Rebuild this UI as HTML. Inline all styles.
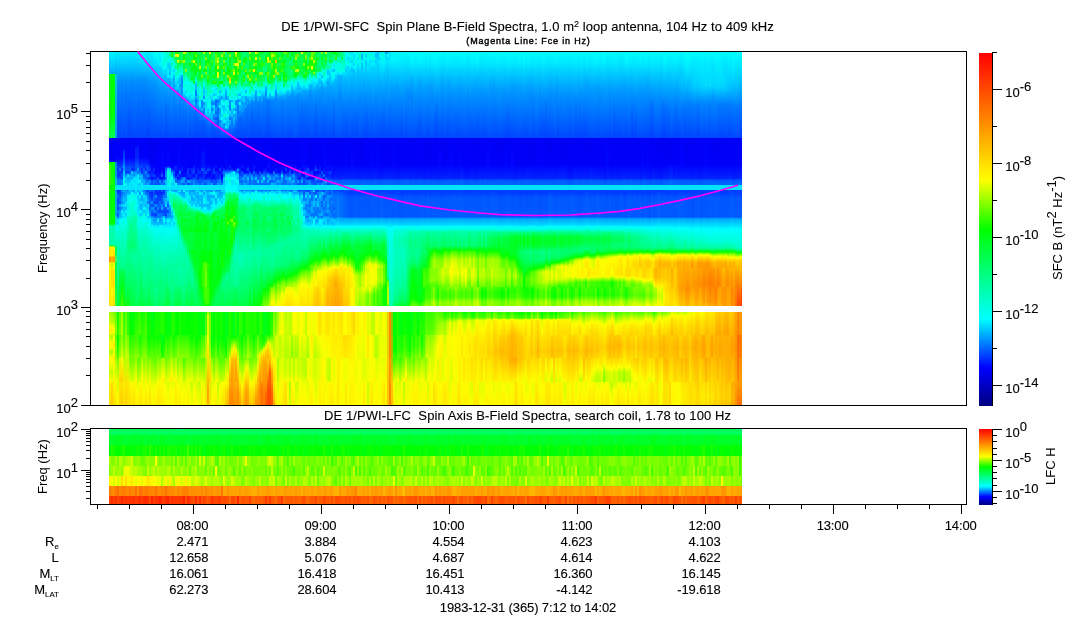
<!DOCTYPE html>
<html><head><meta charset="utf-8"><title>DE 1/PWI spectra</title>
<style>
html,body{margin:0;padding:0;background:#fff}
body{width:1083px;height:620px;position:relative;overflow:hidden;font-family:"Liberation Sans", sans-serif;color:#000;font-size:13px}
.sp{position:absolute;display:flex;overflow:hidden}
.sp i{display:block;width:2px;height:100%;flex:none}
svg{position:absolute;left:0;top:0}
.cb{position:absolute;left:979px;width:13px;background:linear-gradient(to top,rgb(0,0,128) 0.0%,rgb(0,0,255) 10.8%,rgb(0,255,255) 24.7%,rgb(0,255,0) 50.0%,rgb(255,255,0) 64.0%,rgb(255,0,0) 100.0%)}
</style></head><body>
<div class="sp" style="left:109px;top:51px;width:633px;height:355px"><i style="background:linear-gradient(#00f7ff 0.5px,#00a6ff 22.5px,#00ff0c 23.5px,#00ff13 43.5px,#00ff13 48.5px,#0bff00 49.5px,#04ff01 60.5px,#00ff4b 86.5px,#0000f5 87.5px,#0000f5 110.5px,#00ff06 111.5px,#00ff06 113.5px,#30ff00 114.5px,#38ff00 125.5px,#2eff00 128.5px,#3bff00 133.5px,#0f0 134.5px,#0f0 138.5px,#3f0 139.5px,#00ff03 140.5px,#00ff03 172.5px,#00ff2e 173.5px,#00ff83 174.5px,#00ffad 175.5px,#00ffab 193.5px,#00ff57 194.5px,#8fff00 195.5px,#fff000 196.5px,#fff000 198.5px,#ffe000 199.5px,#ffe000 204.5px,#f90 206.5px,#f90 210.5px,#ffd200 211.5px,#e5ff00 212.5px,#fffe00 216.5px,#eaff00 217.5px,#fff900 218.5px,#ffe400 252.5px,#ffdf00 254.5px,#fff 255.5px,#fff 260.5px,#a5ff00 261.5px,#cfff00 271.5px,#fffd00 275.5px,#ffed00 279.5px,#f5ff00 282.5px,#e3ff00 283.5px,#baff00 284.5px,#b7ff00 285.5px,#fdfe00 291.5px,#fff600 294.5px,#f7ff00 296.5px,#b8ff00 300.5px,#b7ff00 301.5px,#fbff00 306.5px,#f6ff00 313.5px,#cf0 321.5px,#fbfe00 330.5px,#ffec00 332.5px,#ffdb00 354.5px)"></i><i style="background:linear-gradient(#00fcff 0.5px,#00abff 22.5px,#15ff00 23.5px,#00ff02 24.5px,#00ff02 48.5px,#12ff00 49.5px,#0aff00 60.5px,#00ff10 67.5px,#00ff47 86.5px,#0000f5 87.5px,#0000f5 110.5px,#00ff02 111.5px,#00ff02 113.5px,#0fff00 114.5px,#0fff00 128.5px,#26ff00 129.5px,#26ff00 131.5px,#10ff00 132.5px,#10ff00 133.5px,#0f0 134.5px,#0f0 138.5px,#15ff00 139.5px,#00ff08 140.5px,#00ff13 143.5px,#00ff08 145.5px,#00ff0c 161.5px,#00ff14 164.5px,#00ff17 170.5px,#00ff08 171.5px,#00ff08 172.5px,#0f3 173.5px,#00ff85 174.5px,#00ffae 175.5px,#00ffb1 180.5px,#00ffa5 182.5px,#00ffa5 193.5px,#00ff4c 194.5px,#a4ff00 195.5px,#ffe800 196.5px,#fff200 204.5px,#ffab00 206.5px,#ffab00 210.5px,#ffe400 211.5px,#b7ff00 212.5px,#d4ff00 216.5px,#fff300 217.5px,#ffe500 219.5px,#fd0 235.5px,#ff0 236.5px,#ffec00 254.5px,#fff 255.5px,#fff 260.5px,#9bff00 261.5px,#c4ff00 271.5px,#fbff00 275.5px,#fff200 279.5px,#fdff00 281.5px,#d9ff00 283.5px,#b4ff00 284.5px,#b1ff00 285.5px,#fffc00 292.5px,#fffe00 295.5px,#b3ff00 300.5px,#b2ff00 301.5px,#f6ff00 306.5px,#fdff00 311.5px,#c6ff00 321.5px,#f9ff00 330.5px,#ffe100 331.5px,#ffcd00 354.5px)"></i><i style="background:linear-gradient(#00feff 0.5px,#00adff 22.5px,#24ff00 23.5px,#00ff09 24.5px,#00ff09 48.5px,#00ff03 59.5px,#00ff52 86.5px,#0000f7 87.5px,#0000f7 110.5px,#0eff00 111.5px,#0eff00 113.5px,#00ff0f 114.5px,#00ff04 119.5px,#00ff0d 122.5px,#00ff13 128.5px,#03ff00 129.5px,#03ff00 131.5px,#00ff13 132.5px,#00ff13 133.5px,#0f0 134.5px,#0f0 138.5px,#00ff16 139.5px,#0f0 141.5px,#00ff09 158.5px,#00ff0d 164.5px,#02ff00 168.5px,#00ff03 172.5px,#00ff2e 173.5px,#00ff82 174.5px,#00ffac 175.5px,#00ffb2 193.5px,#00ff64 194.5px,#7f0 195.5px,#fffa00 196.5px,#fffa00 198.5px,#ffe100 199.5px,#ffe100 204.5px,#ff9a00 206.5px,#ff9a00 210.5px,#ffd300 211.5px,#e3ff00 212.5px,#fff700 217.5px,#ffe800 219.5px,#ffe100 235.5px,#ffed00 237.5px,#ffdb00 254.5px,#fff 255.5px,#fff 260.5px,#84ff00 261.5px,#adff00 271.5px,#ff0 277.5px,#f9ff00 280.5px,#c2ff00 283.5px,#e7ff00 284.5px,#e4ff00 285.5px,#fffb00 288.5px,#ffe500 294.5px,#fffd00 298.5px,#e5ff00 300.5px,#e4ff00 301.5px,#ff0 303.5px,#ffef00 306.5px,#fff200 308.5px,#fbff00 316.5px,#e2ff00 321.5px,#fffd00 327.5px,#ffe400 347.5px,#ffe000 354.5px)"></i><i style="background:linear-gradient(#00efff 0.5px,#00c5ff 13.5px,#00a3ff 22.5px,#00cfd1 23.5px,#00abdf 70.5px,#00a3ed 86.5px,#0000f5 87.5px,#0005fd 110.5px,#0087e2 111.5px,#0097dc 118.5px,#00a1d8 122.5px,#0092e0 123.5px,#0095e0 125.5px,#00abd4 126.5px,#00bad0 128.5px,#00c8cc 130.5px,#00c8cc 131.5px,#00b8d4 132.5px,#00b8d3 133.5px,#00f1c6 134.5px,#00f1c6 138.5px,#0094de 139.5px,#0091e2 140.5px,#00a9d6 141.5px,#00aed7 158.5px,#00a2de 164.5px,#00c8cb 165.5px,#00e7c4 167.5px,#00dccb 168.5px,#00e5c9 170.5px,#00d9d0 171.5px,#00e5d6 173.5px,#00ffdf 174.5px,#00ffe2 177.5px,#00ffbf 186.5px,#00ffb3 193.5px,#00ff9b 194.5px,#00ff6e 195.5px,#01ff58 196.5px,#03ff56 198.5px,#13ff50 200.5px,#16ff4c 204.5px,#45ff4a 206.5px,#49ff45 210.5px,#02ff43 212.5px,#0cff40 216.5px,#00ff58 217.5px,#09ff40 235.5px,#17ff39 237.5px,#36ff25 254.5px,#fff 255.5px,#fff 260.5px,#56ff00 261.5px,#7f0 274.5px,#89ff00 279.5px,#7bff00 283.5px,#4fff00 284.5px,#7dff00 295.5px,#7eff00 301.5px,#b2ff00 310.5px,#d5ff00 323.5px,#f9fe00 330.5px,#ffea00 354.5px)"></i><i style="background:linear-gradient(#00f0ff 0.5px,#00d2ff 11.5px,#0090ff 30.5px,#0061ff 59.5px,#0043ff 86.5px,#0000f5 87.5px,#0000fa 106.5px,#0027ff 113.5px,#004eff 116.5px,#002aff 117.5px,#002eff 119.5px,#003eff 120.5px,#0042ff 122.5px,#0036ff 123.5px,#003cff 125.5px,#0050ff 126.5px,#0053ff 127.5px,#007bff 129.5px,#0084ff 133.5px,#00e3ff 134.5px,#00e3ff 138.5px,#0029ff 139.5px,#0025ff 140.5px,#0042ff 141.5px,#0050ff 143.5px,#0073ff 144.5px,#0078ff 146.5px,#0041ff 147.5px,#0042ff 149.5px,#004fff 151.5px,#004fff 152.5px,#005fff 153.5px,#0061ff 155.5px,#0049ff 156.5px,#004bff 158.5px,#007cff 159.5px,#0081ff 161.5px,#0054ff 162.5px,#005bff 164.5px,#0085ff 166.5px,#00deff 168.5px,#00f1ff 170.5px,#00ceff 171.5px,#00e2ff 173.5px,#00ffe9 174.5px,#00ffa9 196.5px,#00ffa4 198.5px,#00ffaf 200.5px,#00ff48 254.5px,#fff 255.5px,#fff 260.5px,#14ff00 261.5px,#31ff00 283.5px,#00ff05 284.5px,#09ff00 291.5px,#4dff00 306.5px,#6eff00 307.5px,#e1ff00 330.5px,#d2ff00 331.5px,#fffd00 347.5px,#fff600 354.5px)"></i><i style="background:linear-gradient(#00efff 0.5px,#00d0ff 11.5px,#008fff 30.5px,#0059ff 69.5px,#0046ff 86.5px,#0000f2 87.5px,#0000f8 106.5px,#0014ff 110.5px,#0037ff 115.5px,#0035ff 116.5px,#0064ff 117.5px,#007aff 119.5px,#0030ff 120.5px,#003cff 125.5px,#005eff 126.5px,#0061ff 127.5px,#007bff 128.5px,#0074ff 133.5px,#00e3ff 134.5px,#00e3ff 138.5px,#0043ff 139.5px,#0040ff 142.5px,#004aff 143.5px,#0040ff 144.5px,#0048ff 146.5px,#0069ff 147.5px,#006eff 149.5px,#0052ff 150.5px,#0059ff 152.5px,#00a0ff 153.5px,#00a8ff 155.5px,#0068ff 156.5px,#0071ff 158.5px,#0091ff 159.5px,#00b8ff 164.5px,#00b3ff 165.5px,#00e2ff 167.5px,#00fff4 168.5px,#00ffe8 173.5px,#00ffd6 174.5px,#00ffd2 180.5px,#00ff86 216.5px,#00ff68 218.5px,#00ff48 223.5px,#00ff2f 235.5px,#00ff30 239.5px,#0aff1a 254.5px,#fff 255.5px,#fff 260.5px,#56ff00 261.5px,#72ff00 283.5px,#57ff00 284.5px,#71ff00 293.5px,#acff00 306.5px,#dff600 307.5px,#ffe300 324.5px,#ffd600 330.5px,#ffe900 331.5px,#ffd500 352.5px,#fd0 354.5px)"></i><i style="background:linear-gradient(#00f0ff 0.5px,#00d1ff 11.5px,#08f 31.5px,#006cff 53.5px,#0048ff 86.5px,#0000f7 87.5px,#0002ff 107.5px,#003bff 114.5px,#0050ff 116.5px,#0030ff 117.5px,#0034ff 122.5px,#005dff 123.5px,#0063ff 125.5px,#0041ff 126.5px,#04f 127.5px,#005fff 128.5px,#0094ff 129.5px,#0098ff 131.5px,#007dff 132.5px,#007aff 133.5px,#00e3ff 134.5px,#00e3ff 138.5px,#008aff 139.5px,#0090ff 140.5px,#006aff 141.5px,#0095ff 146.5px,#008bff 147.5px,#0095ff 149.5px,#0092ff 151.5px,#0097ff 152.5px,#00beff 153.5px,#00c7ff 155.5px,#009fff 156.5px,#00a9ff 158.5px,#00e9ff 159.5px,#00f4ff 161.5px,#00ceff 162.5px,#00daff 164.5px,#00d0ff 165.5px,#00fdfe 168.5px,#00ffea 173.5px,#00ffd5 176.5px,#0f8 216.5px,#00ff38 222.5px,#00ff1c 235.5px,#07ff00 236.5px,#47ff00 253.5px,#42ff00 254.5px,#fff 255.5px,#fff 260.5px,#94ff00 261.5px,#b0ff00 283.5px,#85ff00 284.5px,#9fff00 293.5px,#dbff00 306.5px,#fffd00 307.5px,#ffd000 330.5px,#ffe100 331.5px,#ffcd00 351.5px,#ffe400 354.5px)"></i><i style="background:linear-gradient(#00f1ff 0.5px,#00d2ff 11.5px,#008aff 32.5px,#0046ff 86.5px,#0000f6 87.5px,#0000f8 97.5px,#0008ff 98.5px,#0036ff 100.5px,#0042ff 106.5px,#0075ff 113.5px,#009aff 116.5px,#0092ff 118.5px,#0095ff 119.5px,#00c5ff 120.5px,#00ceff 122.5px,#00bdff 123.5px,#00caff 125.5px,#00eaff 126.5px,#00ffef 129.5px,#00ffed 133.5px,#0ff 134.5px,#00e4ff 135.5px,#00e3ff 138.5px,#00a8ff 139.5px,#00abff 140.5px,#008cff 141.5px,#00a7ff 146.5px,#00c5ff 147.5px,#00cbff 149.5px,#00a8ff 150.5px,#00adff 152.5px,#00dbff 153.5px,#00dfff 155.5px,#00b7ff 156.5px,#00c8ff 161.5px,#00efff 162.5px,#00f8ff 164.5px,#00e2ff 165.5px,#0ff 167.5px,#00ffec 168.5px,#00ffd6 173.5px,#00ffe6 174.5px,#00ffcd 179.5px,#00ff8e 216.5px,#00ff6f 217.5px,#00ff46 223.5px,#07ff1a 245.5px,#13ff14 254.5px,#fff 255.5px,#fff 260.5px,#32ff03 261.5px,#56ff00 288.5px,#a7ff00 306.5px,#bdff00 307.5px,#fceb00 330.5px,#faec00 333.5px,#ffdf00 352.5px,#ffe600 354.5px)"></i><i style="background:linear-gradient(#00efff 0.5px,#00d1ff 11.5px,#0086ff 32.5px,#006cff 48.5px,#006eff 55.5px,#004cff 86.5px,#0000f7 87.5px,#0003ff 107.5px,#0046ff 116.5px,#0064ff 119.5px,#0034ff 120.5px,#004aff 122.5px,#007eff 123.5px,#009aff 125.5px,#00bdff 126.5px,#00d9ff 128.5px,#00baff 129.5px,#00c1ff 131.5px,#00fff0 132.5px,#00fff1 133.5px,#00e3ff 134.5px,#00e3ff 138.5px,#0091ff 139.5px,#00a0ff 143.5px,#00b1ff 145.5px,#00abff 149.5px,#00d6ff 150.5px,#00e1ff 155.5px,#00b5ff 156.5px,#0bf 158.5px,#00efff 159.5px,#00f6ff 161.5px,#00c9ff 162.5px,#00d2ff 164.5px,#00feff 167.5px,#00fff0 173.5px,#00ffca 174.5px,#00ffd9 177.5px,#00ff7a 216.5px,#00ff58 235.5px,#00ff53 241.5px,#00ff3c 247.5px,#07ff1b 251.5px,#0cff1c 254.5px,#fff 255.5px,#fff 260.5px,#57ff00 261.5px,#74ff00 283.5px,#84ff00 284.5px,#9eff00 293.5px,#cdfa00 306.5px,#b8ff00 307.5px,#ffe200 333.5px,#ffd400 352.5px,#fd0 354.5px)"></i><i style="background:linear-gradient(#00f1ff 0.5px,#00d3ff 11.5px,#008eff 31.5px,#0060ff 61.5px,#04f 86.5px,#0000f6 87.5px,#0000fb 106.5px,#002dff 113.5px,#05f 116.5px,#0047ff 117.5px,#004eff 119.5px,#0037ff 120.5px,#005aff 122.5px,#00c0ff 123.5px,#00e5ff 125.5px,#00a0ff 126.5px,#00c7ff 130.5px,#00c2ff 133.5px,#00e3ff 134.5px,#00e3ff 138.5px,#0096ff 139.5px,#00beff 143.5px,#0ef 144.5px,#00f7f2 152.5px,#00e8fb 153.5px,#00f3f5 161.5px,#00ffe5 163.5px,#00ffe2 164.5px,#00ffbf 165.5px,#00ffad 169.5px,#0fa 170.5px,#00ffd3 171.5px,#00ffcd 173.5px,#00ffb7 176.5px,#00ffad 180.5px,#00ff9a 182.5px,#00ff80 196.5px,#00ff96 202.5px,#00ff7c 216.5px,#00ff89 217.5px,#00ff65 235.5px,#00ff50 236.5px,#00ff36 246.5px,#08ff16 250.5px,#1bff14 253.5px,#19ff15 254.5px,#fff 255.5px,#fff 260.5px,#2cff0a 261.5px,#3aff02 283.5px,#72ff00 284.5px,#8cff00 293.5px,#c4fe00 306.5px,#ffe700 335.5px,#ffdb00 352.5px,#ffe400 354.5px)"></i><i style="background:linear-gradient(#00efff 0.5px,#00d0ff 11.5px,#008cff 31.5px,#005eff 59.5px,#0041ff 86.5px,#0000f6 87.5px,#0000fb 106.5px,#003aff 114.5px,#06f 119.5px,#003fff 120.5px,#0065ff 122.5px,#09f 123.5px,#00bfff 125.5px,#00a6ff 126.5px,#00c8ff 130.5px,#00c8ff 131.5px,#00f5ff 132.5px,#00e3ff 135.5px,#00e3ff 138.5px,#00c0ff 139.5px,#00c8ff 140.5px,#00aeff 141.5px,#00d4ff 143.5px,#00feff 144.5px,#00ffed 146.5px,#00ffe1 152.5px,#00ffbf 153.5px,#00ffbd 155.5px,#00ffe3 156.5px,#00ffe0 158.5px,#00ffd0 160.5px,#00ffd4 164.5px,#00ffc1 167.5px,#00ffad 168.5px,#00ffa7 170.5px,#00ff84 171.5px,#00ff87 173.5px,#00ff92 175.5px,#00ff8f 180.5px,#00ff6c 194.5px,#00ff94 204.5px,#00ff30 253.5px,#00ff32 254.5px,#fff 255.5px,#fff 260.5px,#00ff0b 261.5px,#09ff00 283.5px,#1aff00 284.5px,#34ff00 293.5px,#d0ff00 327.5px,#e1ff00 330.5px,#fff800 331.5px,#fd0 354.5px)"></i><i style="background:linear-gradient(#00efff 0.5px,#00d1ff 11.5px,#0086ff 32.5px,#004fff 78.5px,#0045ff 86.5px,#0000f7 87.5px,#0004ff 107.5px,#04f 116.5px,#0030ff 117.5px,#0034ff 119.5px,#00b2ff 120.5px,#00daff 122.5px,#0093ff 123.5px,#00b8ff 125.5px,#0af 126.5px,#0bf 128.5px,#00efff 129.5px,#00f1ff 131.5px,#00dbff 132.5px,#00d7ff 133.5px,#00e3ff 135.5px,#00e3ff 138.5px,#00b6ff 139.5px,#0bf 140.5px,#00fffa 141.5px,#00ffe5 143.5px,#00ecff 144.5px,#00feff 145.5px,#00ffde 151.5px,#00ffc6 158.5px,#00ffc7 161.5px,#00ffd7 162.5px,#00ffd3 164.5px,#00ffb3 165.5px,#00ffa4 167.5px,#0fb 168.5px,#00ffa3 173.5px,#00ff94 175.5px,#00ff75 195.5px,#00ff85 198.5px,#00ff85 200.5px,#00ff92 205.5px,#00ff79 216.5px,#00ff7e 219.5px,#00ff48 251.5px,#00ff46 254.5px,#fff 255.5px,#fff 260.5px,#00ff0f 261.5px,#02ff00 283.5px,#1eff00 284.5px,#39ff00 293.5px,#74ff00 306.5px,#63ff00 307.5px,#d6ff00 330.5px,#ff0 331.5px,#ffe400 354.5px)"></i><i style="background:linear-gradient(#00efff 0.5px,#00d0ff 11.5px,#0087ff 32.5px,#0065ff 60.5px,#0048ff 86.5px,#0000f5 87.5px,#0000fb 106.5px,#0034ff 114.5px,#002fff 118.5px,#0032ff 119.5px,#0072ff 120.5px,#0098ff 122.5px,#0087ff 123.5px,#00adff 125.5px,#00d4ff 126.5px,#00e6ff 128.5px,#00d5ff 129.5px,#00d8ff 131.5px,#00fffd 132.5px,#0ff 133.5px,#00e3ff 134.5px,#00e3ff 138.5px,#009fff 139.5px,#00a6ff 140.5px,#0cf 141.5px,#00f2ff 143.5px,#00ffd5 144.5px,#00ffc2 146.5px,#00fff0 147.5px,#00ffe7 149.5px,#00ffd3 150.5px,#00ffd1 152.5px,#00ffdc 154.5px,#00ffdf 158.5px,#00ffd0 161.5px,#00ffbd 162.5px,#00ffb8 164.5px,#00ff9a 167.5px,#00ffa0 169.5px,#00ff96 173.5px,#00ff9f 174.5px,#00ff7e 185.5px,#00ff70 195.5px,#00ff80 198.5px,#0f9 199.5px,#00ffa9 205.5px,#00ff95 216.5px,#00ff7f 217.5px,#00ff42 254.5px,#fff 255.5px,#fff 260.5px,#00ff04 261.5px,#15ff00 283.5px,#2fff00 284.5px,#4aff00 293.5px,#85ff00 306.5px,#70ff00 307.5px,#e3ff00 330.5px,#fff600 331.5px,#ffdb00 354.5px)"></i><i style="background:linear-gradient(#00f0ff 0.5px,#00d1ff 11.5px,#008dff 31.5px,#0056ff 73.5px,#0047ff 86.5px,#0000f5 87.5px,#0003fa 94.5px,#001cfa 97.5px,#0024ff 107.5px,#005cff 115.5px,#0051ff 118.5px,#0054ff 119.5px,#008dff 120.5px,#00b4ff 122.5px,#009cff 123.5px,#00c2ff 125.5px,#00e1fc 126.5px,#00e9fe 128.5px,#00d9ff 131.5px,#00f0ff 132.5px,#00e3ff 136.5px,#00edff 140.5px,#00cbff 141.5px,#00f5ff 144.5px,#00ffe8 150.5px,#00ffe8 156.5px,#00ffdb 161.5px,#00ffca 163.5px,#00ffc8 164.5px,#00ffb0 165.5px,#00ff93 170.5px,#00ffb8 171.5px,#00ff8d 183.5px,#00ff7a 195.5px,#00ff9a 204.5px,#00ff6e 232.5px,#0f6 244.5px,#00ff50 254.5px,#fff 255.5px,#fff 260.5px,#15ff00 261.5px,#41ff00 289.5px,#fffe00 330.5px,#eaff00 331.5px,#fffd00 338.5px,#ffed00 354.5px)"></i><i style="background:linear-gradient(#00edff 0.5px,#00cfff 11.5px,#008dff 30.5px,#0059ff 66.5px,#04f 86.5px,#0000f6 87.5px,#0004fa 94.5px,#001dfa 97.5px,#0025ff 107.5px,#0062ff 115.5px,#0060ff 116.5px,#008fff 117.5px,#00a5ff 119.5px,#0062ff 120.5px,#0087ff 122.5px,#00d5ff 123.5px,#00ebf6 125.5px,#00ddfe 126.5px,#00e5ff 128.5px,#00f9fc 129.5px,#00f6ff 131.5px,#00dbff 132.5px,#00d8ff 133.5px,#00e3ff 135.5px,#00e3ff 138.5px,#00acff 139.5px,#00a7ff 140.5px,#00eaff 141.5px,#00f7ff 143.5px,#0cf 144.5px,#00dfff 149.5px,#00dbff 152.5px,#00f3fc 153.5px,#00f5fc 155.5px,#00e1ff 156.5px,#00e6ff 158.5px,#00e0ff 160.5px,#00f6fb 164.5px,#00ffe1 165.5px,#00ffd1 167.5px,#00ffec 168.5px,#00ffdc 173.5px,#00ffdf 175.5px,#00ffca 178.5px,#00ff9f 198.5px,#00ffa6 201.5px,#00ff82 226.5px,#00ff71 242.5px,#0f5 254.5px,#fff 255.5px,#fff 260.5px,#1dff00 261.5px,#3aff00 283.5px,#3cff00 289.5px,#89ff00 306.5px,#57ff00 307.5px,#cbff00 330.5px,#e0ff00 331.5px,#fffd00 342.5px,#fff000 354.5px)"></i><i style="background:linear-gradient(#00f2ff 0.5px,#00d3ff 11.5px,#08f 32.5px,#0047ff 86.5px,#0000f6 87.5px,#0000fb 106.5px,#002dff 113.5px,#0050ff 116.5px,#0041ff 117.5px,#0043ff 119.5px,#0067ff 120.5px,#08f 122.5px,#00c8ff 125.5px,#00a3ff 126.5px,#00b9ff 128.5px,#00f4ff 129.5px,#00f8ff 131.5px,#00c9ff 132.5px,#00c5ff 133.5px,#00e3ff 134.5px,#00e3ff 138.5px,#00d6ff 140.5px,#0098ff 141.5px,#00a0ff 143.5px,#00e9ff 144.5px,#00edff 146.5px,#00c4ff 147.5px,#00c7ff 149.5px,#00d6ff 151.5px,#00d7ff 152.5px,#00b4ff 153.5px,#00c6ff 158.5px,#00f3ff 159.5px,#00faff 161.5px,#0cf 162.5px,#00d5ff 164.5px,#00fffb 167.5px,#00ffdc 168.5px,#00ffd5 170.5px,#00ffde 172.5px,#00ffd7 176.5px,#00ffa1 198.5px,#00ff89 216.5px,#00ff7e 219.5px,#00ff62 239.5px,#00ff3c 254.5px,#fff 255.5px,#fff 260.5px,#3f0 261.5px,#50ff00 283.5px,#0eff00 284.5px,#28ff00 293.5px,#63ff00 306.5px,#68ff00 309.5px,#d2ff00 330.5px,#fffc00 331.5px,#ffe100 354.5px)"></i><i style="background:linear-gradient(#00f5ff 0.5px,#00d7ff 11.5px,#008cff 30.5px,#0057ff 70.5px,#0045ff 86.5px,#0000f6 87.5px,#0000fb 106.5px,#003aff 114.5px,#0048ff 116.5px,#002eff 117.5px,#003aff 121.5px,#0045ff 122.5px,#009aff 123.5px,#00b4ff 125.5px,#0af 126.5px,#00b3ff 127.5px,#00cbff 128.5px,#00b0ff 129.5px,#00baff 131.5px,#00edff 132.5px,#00e3ff 138.5px,#00baff 139.5px,#00beff 140.5px,#0ff 141.5px,#00fffa 143.5px,#00aeff 144.5px,#00afff 149.5px,#00d8ff 150.5px,#00daff 152.5px,#00b4ff 153.5px,#00bfff 158.5px,#00dbff 159.5px,#00e2ff 161.5px,#00cdff 162.5px,#00d6ff 164.5px,#00ffe0 165.5px,#00ffd0 167.5px,#00fffa 168.5px,#00ffdf 176.5px,#00ffce 177.5px,#00ff8f 214.5px,#00ff54 243.5px,#00ff39 254.5px,#fff 255.5px,#fff 260.5px,#0dff00 261.5px,#34ff00 290.5px,#7cff00 306.5px,#a1ff00 307.5px,#fffd00 327.5px,#fff700 330.5px,#fffc00 333.5px,#ffe600 354.5px)"></i><i style="background:linear-gradient(#00f8ff 0.5px,#00daff 11.5px,#0af 23.5px,#0097ff 26.5px,#006dff 48.5px,#004aff 86.5px,#0000f6 87.5px,#0000fc 106.5px,#0035ff 115.5px,#002fff 116.5px,#004eff 117.5px,#0057ff 119.5px,#0048ff 120.5px,#05f 125.5px,#0071ff 127.5px,#00afff 129.5px,#0bf 131.5px,#00a1ff 132.5px,#00a1ff 133.5px,#00e3ff 134.5px,#00e3ff 138.5px,#0083ff 139.5px,#008aff 140.5px,#00a2ff 141.5px,#00b0ff 143.5px,#00e0ff 144.5px,#00e7ff 146.5px,#00baff 147.5px,#00bfff 152.5px,#00d0ff 153.5px,#00d3ff 155.5px,#00fbff 156.5px,#0ff 158.5px,#00c2ff 159.5px,#00c9ff 161.5px,#00ffe0 162.5px,#00ffdc 164.5px,#00fff6 165.5px,#00ffe6 167.5px,#00fffd 168.5px,#00ffec 173.5px,#00ffd9 175.5px,#00ff97 198.5px,#00ffb1 199.5px,#00ff83 234.5px,#00ff6d 238.5px,#00ff45 254.5px,#fff 255.5px,#fff 260.5px,#1fff00 261.5px,#47ff00 290.5px,#90ff00 306.5px,#7cff00 307.5px,#efff00 330.5px,#e1ff00 331.5px,#fffc00 342.5px,#fff000 354.5px)"></i><i style="background:linear-gradient(#00f4ff 0.5px,#00d7ff 11.5px,#008cff 31.5px,#004dff 78.5px,#04f 86.5px,#0000f6 87.5px,#0000fc 106.5px,#0043ff 116.5px,#002eff 117.5px,#0032ff 119.5px,#008dff 120.5px,#0092ff 122.5px,#005bff 123.5px,#0061ff 125.5px,#005dff 127.5px,#0078ff 128.5px,#0083ff 131.5px,#0090ff 132.5px,#008eff 133.5px,#00e3ff 134.5px,#00e3ff 138.5px,#005fff 139.5px,#0071ff 142.5px,#007eff 143.5px,#00bfff 144.5px,#00e1ff 149.5px,#00c4ff 150.5px,#00c9ff 152.5px,#00aeff 153.5px,#00b2ff 155.5px,#0df 156.5px,#00e3ff 158.5px,#00d2ff 159.5px,#00daff 161.5px,#00caff 162.5px,#00d4ff 164.5px,#00fbff 165.5px,#00fff1 167.5px,#00fffd 168.5px,#00fff6 170.5px,#00ffd1 171.5px,#00ffce 176.5px,#00ffa9 198.5px,#00ff92 221.5px,#00ff7b 235.5px,#00ff75 241.5px,#00ff57 254.5px,#fff 255.5px,#fff 260.5px,#32ff00 261.5px,#4eff00 283.5px,#3bff00 284.5px,#56ff00 293.5px,#91ff00 306.5px,#8dff00 308.5px,#fffc00 332.5px,#ffe300 354.5px)"></i><i style="background:linear-gradient(#0ef 0.5px,#00d1ff 11.5px,#0092ff 30.5px,#005eff 61.5px,#0041ff 86.5px,#0000f4 87.5px,#0000f9 106.5px,#001eff 112.5px,#0054ff 116.5px,#0051ff 118.5px,#0056ff 119.5px,#0031ff 120.5px,#0034ff 122.5px,#0078ff 123.5px,#007eff 125.5px,#0045ff 126.5px,#0048ff 127.5px,#0075ff 129.5px,#0078ff 131.5px,#00b7ff 132.5px,#00b4ff 133.5px,#00e3ff 134.5px,#00e3ff 138.5px,#0041ff 139.5px,#003cff 140.5px,#005cff 141.5px,#008bff 146.5px,#0098ff 149.5px,#007bff 150.5px,#0083ff 152.5px,#00d9ff 153.5px,#00dfff 155.5px,#00beff 156.5px,#00c5ff 158.5px,#00daff 159.5px,#00e4ff 161.5px,#00fff2 162.5px,#00ffec 164.5px,#00c4ff 165.5px,#00e8ff 167.5px,#00fff4 172.5px,#00ffd7 180.5px,#00ffc6 182.5px,#00ff74 235.5px,#00ff3c 254.5px,#fff 255.5px,#fff 260.5px,#00ff04 261.5px,#15ff00 283.5px,#08ff00 284.5px,#2f0 293.5px,#5eff00 306.5px,#72ff00 307.5px,#fcff00 336.5px,#fe0 354.5px)"></i><i style="background:linear-gradient(#00f4ff 0.5px,#00d6ff 11.5px,#0094ff 31.5px,#005fff 63.5px,#04f 86.5px,#0000f0 87.5px,#0000f7 108.5px,#0009ff 113.5px,#0021ff 115.5px,#0023ff 116.5px,#0038ff 118.5px,#003dff 119.5px,#0015ff 120.5px,#0019ff 122.5px,#003eff 123.5px,#04f 125.5px,#0024ff 126.5px,#0027ff 127.5px,#0041ff 128.5px,#008dff 129.5px,#0091ff 131.5px,#0072ff 132.5px,#0072ff 133.5px,#00e3ff 134.5px,#00e3ff 138.5px,#0064ff 139.5px,#0061ff 140.5px,#0031ff 141.5px,#0041ff 143.5px,#0046ff 146.5px,#005fff 147.5px,#006cff 155.5px,#0065ff 157.5px,#0068ff 158.5px,#008eff 159.5px,#009cff 164.5px,#00eaff 167.5px,#00f8fc 170.5px,#00ffeb 172.5px,#00ffe9 173.5px,#00f9fd 174.5px,#00ffdb 179.5px,#00ffbf 190.5px,#00ff8a 216.5px,#0f8 222.5px,#00ff5a 247.5px,#00ff49 254.5px,#fff 255.5px,#fff 260.5px,#00ff03 261.5px,#16ff00 283.5px,#02ff00 284.5px,#1cff00 293.5px,#57ff00 306.5px,#84ff00 307.5px,#f7ff00 330.5px,#ffe800 343.5px,#fd0 354.5px)"></i><i style="background:linear-gradient(#00f2ff 0.5px,#00d7ff 11.5px,#008cff 33.5px,#0076ff 50.5px,#004aff 86.5px,#0000f0 87.5px,#0000f6 113.5px,#000bff 116.5px,#0000fc 119.5px,#0027ff 120.5px,#002aff 125.5px,#000bff 126.5px,#000eff 127.5px,#0043ff 129.5px,#004eff 133.5px,#00e3ff 134.5px,#00e3ff 138.5px,#0049ff 139.5px,#004bff 140.5px,#0024ff 141.5px,#0040ff 146.5px,#0042ff 149.5px,#0094ff 150.5px,#0095ff 152.5px,#0046ff 153.5px,#0048ff 155.5px,#0093ff 156.5px,#0094ff 158.5px,#005aff 159.5px,#005cff 161.5px,#004bff 162.5px,#004eff 164.5px,#0083ff 165.5px,#0097ff 166.5px,#00bdff 167.5px,#00c1ff 169.5px,#00c9ff 170.5px,#0bf 171.5px,#00cdff 173.5px,#00efff 174.5px,#00fff7 176.5px,#00ffd1 185.5px,#00ffb9 198.5px,#00ffa5 203.5px,#00ff8b 216.5px,#00ff90 219.5px,#00ff74 235.5px,#00ff7c 237.5px,#00ff54 254.5px,#fff 255.5px,#fff 260.5px,#00ff14 261.5px,#00ff07 283.5px,#1f0 285.5px,#5f0 302.5px,#f0ff00 335.5px,#fffa00 346.5px,#fff200 354.5px)"></i><i style="background:linear-gradient(#00fffe 0.5px,#00f1ff 8.5px,#009dff 28.5px,#005bff 69.5px,#0047ff 86.5px,#0000f2 87.5px,#0000f6 113.5px,#0007ff 116.5px,#0020ff 117.5px,#0030ff 119.5px,#0010ff 120.5px,#0013ff 122.5px,#0042ff 123.5px,#0048ff 125.5px,#0017ff 126.5px,#001aff 127.5px,#0034ff 128.5px,#006aff 129.5px,#0071ff 131.5px,#006aff 133.5px,#00e3ff 134.5px,#00e3ff 138.5px,#005cff 139.5px,#005cff 140.5px,#0049ff 141.5px,#006bff 148.5px,#006bff 149.5px,#0046ff 150.5px,#0046ff 152.5px,#0068ff 153.5px,#0068ff 155.5px,#007fff 156.5px,#0083ff 161.5px,#0042ff 162.5px,#0043ff 164.5px,#0072ff 165.5px,#0086ff 166.5px,#00adff 167.5px,#0096ff 168.5px,#00beff 173.5px,#00ecff 174.5px,#00fff2 177.5px,#0fa 207.5px,#00ff7d 235.5px,#00ff84 237.5px,#00ff5d 254.5px,#fff 255.5px,#fff 260.5px,#00ff0f 261.5px,#08ff00 288.5px,#59ff00 306.5px,#89ff00 314.5px,#f6ff00 336.5px,#fff300 353.5px,#fff200 354.5px)"></i><i style="background:linear-gradient(#00ffea 0.5px,#00fff8 5.5px,#00efff 6.5px,#00e2ff 11.5px,#0098ff 31.5px,#005cff 70.5px,#0049ff 86.5px,#0000f4 87.5px,#0000f8 113.5px,#0000fe 122.5px,#0013ff 123.5px,#0021ff 127.5px,#0051ff 129.5px,#0057ff 131.5px,#004bff 132.5px,#004eff 133.5px,#00e3ff 134.5px,#00e3ff 138.5px,#0027ff 139.5px,#0028ff 142.5px,#0031ff 143.5px,#0090ff 144.5px,#0095ff 146.5px,#0040ff 147.5px,#0040ff 152.5px,#08f 153.5px,#08f 155.5px,#0041ff 156.5px,#0041ff 158.5px,#0071ff 159.5px,#0071ff 161.5px,#0042ff 162.5px,#0043ff 164.5px,#0073ff 166.5px,#009aff 167.5px,#009dff 169.5px,#00caff 173.5px,#00f1ff 175.5px,#00fff9 177.5px,#00ffc3 196.5px,#00ff7d 235.5px,#00ff9a 236.5px,#00ff75 254.5px,#fff 255.5px,#fff 260.5px,#12ff00 261.5px,#1dff00 283.5px,#08ff00 284.5px,#68ff00 306.5px,#59ff00 307.5px,#d2ff00 330.5px,#ebff00 331.5px,#fffe00 338.5px,#fff000 354.5px)"></i><i style="background:linear-gradient(#00fff0 0.5px,#00fff2 2.5px,#00fbff 4.5px,#00f9ff 5.5px,#00ffe5 6.5px,#00ffef 8.5px,#00fdfe 9.5px,#00f2ff 11.5px,#00deff 12.5px,#0094ff 36.5px,#0049ff 86.5px,#0000f6 87.5px,#0000fd 114.5px,#0002ff 119.5px,#01f 121.5px,#0013ff 122.5px,#00f 123.5px,#0005ff 125.5px,#04f 126.5px,#0047ff 127.5px,#0062ff 128.5px,#0041ff 129.5px,#0047ff 131.5px,#005aff 133.5px,#00e3ff 134.5px,#00e3ff 138.5px,#003eff 139.5px,#003eff 140.5px,#0025ff 141.5px,#0041ff 146.5px,#0042ff 152.5px,#005cff 153.5px,#005dff 155.5px,#008aff 156.5px,#008aff 158.5px,#0054ff 159.5px,#0054ff 161.5px,#0078ff 162.5px,#0073ff 165.5px,#0087ff 166.5px,#00e4ff 168.5px,#00f3ff 170.5px,#00b0ff 171.5px,#00dbff 175.5px,#00fffd 177.5px,#00ffcd 189.5px,#00ffba 198.5px,#0fb 202.5px,#00ff7d 235.5px,#00ff8a 236.5px,#00ff61 254.5px,#fff 255.5px,#fff 260.5px,#0eff00 261.5px,#14ff00 283.5px,#00ff01 284.5px,#61ff00 306.5px,#85ff00 307.5px,#fffa00 331.5px,#ffe500 354.5px)"></i><i style="background:linear-gradient(#00f9ff 0.5px,#00e1ff 11.5px,#00fefc 12.5px,#00f2ff 14.5px,#00d5ff 15.5px,#0092ff 39.5px,#004eff 80.5px,#0047ff 86.5px,#0000f7 87.5px,#0000fd 122.5px,#0019ff 123.5px,#001fff 125.5px,#0009ff 126.5px,#000cff 127.5px,#0026ff 128.5px,#08f 129.5px,#008eff 131.5px,#0054ff 132.5px,#0057ff 133.5px,#00e3ff 134.5px,#00e3ff 138.5px,#0025ff 139.5px,#0028ff 142.5px,#0040ff 146.5px,#0040ff 149.5px,#006fff 150.5px,#006fff 152.5px,#0062ff 154.5px,#0062ff 155.5px,#0041ff 156.5px,#0042ff 161.5px,#07f 162.5px,#006eff 165.5px,#0081ff 166.5px,#00a9ff 167.5px,#0096ff 168.5px,#00bdff 173.5px,#00fcff 174.5px,#00ffb3 203.5px,#00ff65 246.5px,#00ff52 254.5px,#fff 255.5px,#fff 260.5px,#18ff00 261.5px,#19ff00 283.5px,#04ff00 284.5px,#6aff00 306.5px,#fff900 332.5px,#ffe700 354.5px)"></i><i style="background:linear-gradient(#00fff5 0.5px,#00fdff 8.5px,#00fff8 10.5px,#00ecff 16.5px,#00a9ff 29.5px,#005aff 72.5px,#0049ff 86.5px,#0000f8 87.5px,#0007ff 119.5px,#0025ff 120.5px,#0029ff 122.5px,#0050ff 123.5px,#0056ff 125.5px,#000aff 126.5px,#000dff 127.5px,#0041ff 129.5px,#0047ff 131.5px,#007cff 132.5px,#007fff 133.5px,#00e3ff 134.5px,#00e3ff 138.5px,#0059ff 139.5px,#0059ff 140.5px,#0027ff 141.5px,#0034ff 143.5px,#004bff 144.5px,#05f 149.5px,#004cff 152.5px,#0085ff 153.5px,#0086ff 155.5px,#00abff 156.5px,#00abff 158.5px,#004aff 159.5px,#004aff 161.5px,#006dff 162.5px,#006dff 164.5px,#009dff 166.5px,#00c4ff 167.5px,#009fff 168.5px,#00bfff 173.5px,#00faff 174.5px,#00ffb8 203.5px,#00ffa2 216.5px,#00ff90 217.5px,#00ff6d 235.5px,#00ff8a 236.5px,#00ff61 254.5px,#fff 255.5px,#fff 260.5px,#26ff00 261.5px,#26ff00 283.5px,#0f2 284.5px,#07ff00 299.5px,#29ff00 306.5px,#98ff00 307.5px,#fffd00 327.5px,#fff600 330.5px,#fffc00 333.5px,#ffed00 354.5px)"></i><i style="background:linear-gradient(#00ffdb 0.5px,#00fff0 8.5px,#00ffcb 9.5px,#00ffd4 11.5px,#00ffd2 13.5px,#00ffd8 14.5px,#00fffc 15.5px,#00f9ff 17.5px,#00bfff 25.5px,#009aff 36.5px,#0048ff 86.5px,#0000f7 87.5px,#00f 114.5px,#01f 116.5px,#0000fd 117.5px,#0001fd 122.5px,#001fff 127.5px,#0039ff 128.5px,#0083ff 129.5px,#0089ff 131.5px,#0060ff 132.5px,#0063ff 133.5px,#00e3ff 134.5px,#00e3ff 138.5px,#002eff 139.5px,#0042ff 143.5px,#007dff 144.5px,#007bff 146.5px,#00a0ff 147.5px,#009fff 149.5px,#0081ff 150.5px,#0081ff 152.5px,#0064ff 153.5px,#0065ff 155.5px,#0059ff 157.5px,#0059ff 158.5px,#0043ff 159.5px,#0043ff 161.5px,#0053ff 162.5px,#0053ff 164.5px,#00bfff 165.5px,#00d3ff 166.5px,#00fbff 167.5px,#00fffa 170.5px,#00d4ff 171.5px,#00e1ff 174.5px,#00fff7 177.5px,#00ffc4 199.5px,#00ff6f 245.5px,#00ff5b 254.5px,#fff 255.5px,#fff 260.5px,#1dff00 261.5px,#1dff00 283.5px,#00ff10 284.5px,#07ff00 292.5px,#49ff00 306.5px,#a2ff00 307.5px,#fffd00 325.5px,#fff200 330.5px,#ef0 331.5px,#fffe00 337.5px,#fff200 354.5px)"></i><i style="background:linear-gradient(#00ffa3 0.5px,#00ffb1 2.5px,#00fef9 3.5px,#00f4ff 5.5px,#00ffbd 6.5px,#00ffcb 8.5px,#00ffe2 9.5px,#00fffc 17.5px,#00d3ff 18.5px,#00ceff 20.5px,#00dbff 21.5px,#00d0ff 23.5px,#0bf 24.5px,#00b6ff 28.5px,#006fff 55.5px,#0041ff 86.5px,#0000f8 87.5px,#0000fe 114.5px,#000bff 115.5px,#0069ff 118.5px,#006cff 119.5px,#008aff 120.5px,#008cff 122.5px,#009aff 125.5px,#0064ff 126.5px,#0073ff 128.5px,#00beff 129.5px,#00c1ff 131.5px,#00b2ff 132.5px,#00b4ff 133.5px,#00e3ff 134.5px,#00e3ff 138.5px,#007cff 139.5px,#0097ff 140.5px,#007eff 141.5px,#008bff 143.5px,#006fff 146.5px,#00bdff 147.5px,#00aeff 149.5px,#00c6ff 150.5px,#00bfff 152.5px,#00dbff 153.5px,#00d9ff 155.5px,#0045ff 156.5px,#0045ff 158.5px,#0053ff 160.5px,#0046ff 164.5px,#006cff 165.5px,#0080ff 166.5px,#00cdff 168.5px,#00dcff 170.5px,#00b7ff 171.5px,#00cbff 173.5px,#00fcff 176.5px,#00ffd9 188.5px,#00ff5f 241.5px,#00ff3d 254.5px,#fff 255.5px,#fff 260.5px,#00ff01 261.5px,#00ff01 283.5px,#14ff00 285.5px,#76ff00 306.5px,#65ff00 307.5px,#fbff00 335.5px,#fff300 354.5px)"></i><i style="background:linear-gradient(#00ffc6 0.5px,#00ffd5 2.5px,#00ffba 3.5px,#00ffef 8.5px,#00ffda 9.5px,#00ffe4 11.5px,#00d9ff 12.5px,#00d1ff 17.5px,#00fefe 18.5px,#00e3ff 23.5px,#00fff9 24.5px,#0ef 26.5px,#00bcff 27.5px,#07f 54.5px,#0046ff 86.5px,#0000f8 87.5px,#0007ff 114.5px,#001dff 115.5px,#00b8ff 117.5px,#00def1 118.5px,#00e2ed 119.5px,#00ffdb 120.5px,#00ffdb 122.5px,#00f4e3 124.5px,#00ffdb 128.5px,#00e3ed 129.5px,#00e3ed 131.5px,#00f2e5 132.5px,#00f1fe 135.5px,#00e3ff 137.5px,#00e3ff 138.5px,#0af 139.5px,#00edff 141.5px,#00fcf2 143.5px,#00e8fc 144.5px,#00d7ff 146.5px,#00e1fd 147.5px,#00c1ff 149.5px,#0091ff 150.5px,#0054ff 155.5px,#00abff 156.5px,#00a3ff 158.5px,#04f 159.5px,#0042ff 161.5px,#008dff 162.5px,#0086ff 165.5px,#009aff 166.5px,#00c2ff 167.5px,#0ff 168.5px,#00fff7 170.5px,#00e5ff 171.5px,#00e8ff 174.5px,#00fffe 177.5px,#00ffd8 190.5px,#00ffc9 198.5px,#00ffba 201.5px,#00ff7c 235.5px,#00ff68 236.5px,#00ff37 254.5px,#fff 255.5px,#fff 260.5px,#00ff0e 261.5px,#00ff0e 283.5px,#06ff00 285.5px,#68ff00 306.5px,#82ff00 309.5px,#f5ff00 330.5px,#d0ff00 331.5px,#edff00 342.5px,#fffe00 354.5px)"></i><i style="background:linear-gradient(#00ff9f 0.5px,#00ffb1 2.5px,#00ff7b 3.5px,#00ff9b 5.5px,#00ffe5 6.5px,#00fbfd 9.5px,#00d6ff 13.5px,#00c1ff 23.5px,#0ef 24.5px,#00deff 26.5px,#00c3ff 27.5px,#00b9ff 29.5px,#00a5ff 30.5px,#0049ff 86.5px,#0000f8 87.5px,#00f 114.5px,#0009ff 115.5px,#0039ff 116.5px,#00adff 117.5px,#00cfeb 118.5px,#00eee5 121.5px,#00f2e5 122.5px,#00e4ee 123.5px,#00efe8 128.5px,#00ffde 129.5px,#00ffde 133.5px,#00f1fe 135.5px,#00e3ff 137.5px,#00e1ff 139.5px,#00fff3 140.5px,#0fb 143.5px,#00ffc7 144.5px,#00ffcf 147.5px,#00ffda 149.5px,#00ffc9 150.5px,#0fd 152.5px,#00dbfd 153.5px,#0074ff 158.5px,#009aff 159.5px,#0086ff 161.5px,#0089ff 163.5px,#0086ff 164.5px,#00a8ff 166.5px,#00ceff 167.5px,#00ecff 170.5px,#00c7ff 171.5px,#00ebff 175.5px,#00fff7 178.5px,#00ffc0 197.5px,#0f9 216.5px,#00ffa3 218.5px,#0f8 235.5px,#0f7 238.5px,#00ff50 254.5px,#fff 255.5px,#fff 260.5px,#00ff0e 261.5px,#00ff0e 283.5px,#18ff00 284.5px,#7eff00 306.5px,#94ff00 308.5px,#fffc00 329.5px,#fffa00 330.5px,#eaff00 331.5px,#fffe00 339.5px,#fff400 354.5px)"></i><i style="background:linear-gradient(#05ff05 0.5px,#00ff13 2.5px,#18ff00 3.5px,#00ff18 5.5px,#0fa 6.5px,#00ffed 11.5px,#0f8 12.5px,#00ffa1 14.5px,#00f7ff 15.5px,#00f4ff 20.5px,#00ffea 21.5px,#00fff6 26.5px,#00d2ff 27.5px,#00b8ff 32.5px,#00c1ff 33.5px,#00a1ff 37.5px,#0059ff 76.5px,#004bff 86.5px,#0000f5 87.5px,#0000f8 116.5px,#003fff 119.5px,#0071ff 120.5px,#00dfff 124.5px,#00fff7 126.5px,#00fff1 128.5px,#00e8ff 129.5px,#00e8ff 131.5px,#00c7ff 132.5px,#00c7ff 133.5px,#00e3ff 134.5px,#00e3ff 138.5px,#009fff 139.5px,#00d7ff 140.5px,#00fdff 141.5px,#00ffb7 144.5px,#00ffa8 146.5px,#00ffad 148.5px,#00ffae 152.5px,#00ff91 153.5px,#0fa 155.5px,#00ffd1 156.5px,#00f6eb 158.5px,#00caff 160.5px,#00b0ff 161.5px,#00d6ff 162.5px,#009eff 165.5px,#00a6ff 166.5px,#00c3ff 167.5px,#00cdff 170.5px,#00feff 171.5px,#00fffe 173.5px,#00deff 174.5px,#00fffd 177.5px,#00ffc7 195.5px,#00ff7a 235.5px,#00ff92 236.5px,#00ff6b 254.5px,#fff 255.5px,#fff 260.5px,#18ff00 261.5px,#18ff00 283.5px,#86ff00 306.5px,#afff00 307.5px,#fffc00 323.5px,#ffed00 330.5px,#e4ff00 331.5px,#ff0 341.5px,#fff600 354.5px)"></i><i style="background:linear-gradient(#0f6 0.5px,#00ff89 5.5px,#00ff6e 6.5px,#00ff8d 8.5px,#00ffc3 9.5px,#00f9fe 14.5px,#0fd 15.5px,#00ffea 17.5px,#00dbff 18.5px,#00d6ff 20.5px,#00f2ff 21.5px,#0ef 23.5px,#00c0ff 24.5px,#00beff 26.5px,#00a8ff 27.5px,#00a6ff 29.5px,#00b8ff 30.5px,#00b1ff 32.5px,#00a1ff 33.5px,#009eff 35.5px,#00acff 36.5px,#0086ff 46.5px,#0048ff 86.5px,#0000f7 87.5px,#0000fb 113.5px,#0020ff 119.5px,#005bff 120.5px,#0067ff 122.5px,#0045ff 123.5px,#0081ff 126.5px,#00c2ff 128.5px,#00e6ff 131.5px,#00c5ff 132.5px,#00c8ff 133.5px,#00e3ff 134.5px,#00e3ff 138.5px,#008fff 139.5px,#00bdff 140.5px,#00fff7 141.5px,#00ffc0 143.5px,#00ff86 149.5px,#00ff6d 150.5px,#00ff5f 152.5px,#00ff4c 153.5px,#00ff5b 156.5px,#00ff70 158.5px,#00ff9e 159.5px,#00fce3 163.5px,#00eced 164.5px,#00ecf7 167.5px,#00ffe7 168.5px,#00fff0 170.5px,#00cdff 171.5px,#00cdff 173.5px,#00f4ff 174.5px,#00ffed 179.5px,#00ffc8 198.5px,#00ffb7 201.5px,#00ff9b 216.5px,#00ffa0 219.5px,#00ff63 251.5px,#00ff5d 254.5px,#fff 255.5px,#fff 260.5px,#23ff00 261.5px,#23ff00 283.5px,#00ff02 284.5px,#63ff00 306.5px,#83ff00 307.5px,#fffe00 330.5px,#e6ff00 331.5px,#ff0 340.5px,#fff500 354.5px)"></i><i style="background:linear-gradient(#00ff05 0.5px,#00ff09 2.5px,#ffef00 3.5px,#fffa00 5.5px,#00ff45 6.5px,#00ff5d 8.5px,#00ff48 9.5px,#00ff6c 11.5px,#00ffb2 12.5px,#00ffd1 14.5px,#00ff4e 15.5px,#00ff74 17.5px,#00fff6 18.5px,#00fffd 20.5px,#00ffbe 21.5px,#00ffc6 23.5px,#00ffe6 24.5px,#00ffeb 26.5px,#00ffdf 27.5px,#00ffe9 29.5px,#00dfff 30.5px,#00d4ff 32.5px,#00b5ff 35.5px,#00caff 36.5px,#00a1ff 40.5px,#0073ff 58.5px,#0048ff 86.5px,#0000f5 87.5px,#0000f9 113.5px,#0030ff 116.5px,#001eff 117.5px,#0029ff 119.5px,#0001ff 120.5px,#000dff 125.5px,#004fff 126.5px,#05f 127.5px,#0074ff 128.5px,#0062ff 129.5px,#007cff 131.5px,#00f9f5 132.5px,#0fe 133.5px,#00e3ff 134.5px,#00e3ff 138.5px,#0095ff 139.5px,#00afff 140.5px,#00fff9 142.5px,#00ff9c 147.5px,#00ff71 152.5px,#00ff59 153.5px,#00ff51 155.5px,#00ff60 156.5px,#00ff5b 160.5px,#00ff61 161.5px,#00ff4f 162.5px,#00ff67 164.5px,#00ff86 165.5px,#00ff9b 167.5px,#00ffb9 168.5px,#00ffd4 170.5px,#0fc 171.5px,#00ffe1 173.5px,#00ffd6 174.5px,#00ffec 178.5px,#00ffc6 198.5px,#00ffb3 203.5px,#00ff9b 216.5px,#00ffa6 218.5px,#00ff8c 235.5px,#00ff75 236.5px,#00ff47 254.5px,#fff 255.5px,#fff 260.5px,#02ff00 261.5px,#02ff00 283.5px,#18ff00 285.5px,#7aff00 306.5px,#a2ff00 307.5px,#fffd00 325.5px,#fff200 330.5px,#fff600 333.5px,#ffe600 354.5px)"></i><i style="background:linear-gradient(#00ff25 0.5px,#00ff27 2.5px,#fffe00 3.5px,#f6ff00 5.5px,#00ff31 6.5px,#00ff3e 8.5px,#e9ff00 9.5px,#a5ff00 11.5px,#00ff36 12.5px,#00ff5e 14.5px,#00ff5e 15.5px,#00ff85 17.5px,#00ffa8 18.5px,#00ffc4 22.5px,#00ffc8 23.5px,#00ffe5 24.5px,#00ffea 26.5px,#00d6ff 27.5px,#00c5ff 32.5px,#00f9ff 33.5px,#00c4ff 38.5px,#09f 39.5px,#0048ff 86.5px,#0000f8 87.5px,#0008ff 117.5px,#000aff 122.5px,#003cff 123.5px,#0042ff 125.5px,#01f 126.5px,#0014ff 127.5px,#0052ff 129.5px,#0059ff 131.5px,#0087ff 132.5px,#008cff 133.5px,#00e3ff 134.5px,#00e3ff 138.5px,#00c4ff 139.5px,#00d5ff 140.5px,#00d2ff 141.5px,#00fff3 143.5px,#00ffb1 146.5px,#00ff74 152.5px,#00ff6b 155.5px,#00ff59 156.5px,#00ff50 161.5px,#00ff5b 163.5px,#00ff5d 164.5px,#00ff48 165.5px,#00ff4f 167.5px,#00ff6b 169.5px,#00ff75 170.5px,#00ff54 171.5px,#0f7 173.5px,#00ff95 174.5px,#00ffc3 177.5px,#00ffdb 183.5px,#00ff97 216.5px,#00ff9f 218.5px,#00ff83 235.5px,#00ff70 236.5px,#00ff41 254.5px,#fff 255.5px,#fff 260.5px,#0f0 261.5px,#0f0 283.5px,#35ff00 284.5px,#9bff00 306.5px,#6aff00 307.5px,#feff00 335.5px,#fff200 354.5px)"></i><i style="background:linear-gradient(#00ff3f 0.5px,#00ff49 8.5px,#5eff00 9.5px,#39ff00 11.5px,#00ff52 12.5px,#00ff71 14.5px,#00ff98 15.5px,#0fb 17.5px,#00ffa0 18.5px,#00ffbf 20.5px,#00ffe8 21.5px,#00fff3 23.5px,#00e8ff 24.5px,#0df 26.5px,#0bf 27.5px,#00baff 29.5px,#00c4ff 31.5px,#00c3ff 32.5px,#009bff 33.5px,#0097ff 35.5px,#00aeff 36.5px,#00a7ff 38.5px,#00cbff 39.5px,#00b5ff 41.5px,#0093ff 42.5px,#0081ff 48.5px,#0048ff 86.5px,#0000f8 87.5px,#0006ff 114.5px,#001fff 119.5px,#0070ff 120.5px,#0074ff 122.5px,#0019ff 123.5px,#02f 127.5px,#003dff 128.5px,#0074ff 129.5px,#007fff 133.5px,#00e3ff 134.5px,#0df 139.5px,#00e7ff 140.5px,#00a7ff 141.5px,#00c8ff 143.5px,#00faf8 145.5px,#00ffe5 146.5px,#00ffc1 147.5px,#00ff96 149.5px,#00ff78 152.5px,#00ff59 153.5px,#00ff3e 161.5px,#00ff2c 162.5px,#00ff26 164.5px,#00ff4c 165.5px,#00ff40 170.5px,#00ff78 178.5px,#00ffbe 185.5px,#00ffc3 193.5px,#00ff9c 216.5px,#00ffac 217.5px,#00ff92 235.5px,#00ff70 236.5px,#00ff41 254.5px,#fff 255.5px,#fff 260.5px,#19ff00 261.5px,#1fff00 284.5px,#ceff00 320.5px,#fffc00 330.5px,#f6ff00 331.5px,#fff900 339.5px,#ffef00 354.5px)"></i><i style="background:linear-gradient(#00ff63 0.5px,#0f6 8.5px,#4eff00 9.5px,#3cff00 11.5px,#00ff76 12.5px,#00ffb3 17.5px,#00ffe3 20.5px,#00ffde 21.5px,#00fff4 23.5px,#00a5ff 24.5px,#008eff 29.5px,#008cff 35.5px,#009cff 36.5px,#009aff 38.5px,#0087ff 39.5px,#0081ff 41.5px,#009cff 42.5px,#007fff 48.5px,#0086ff 50.5px,#004aff 86.5px,#0000f7 87.5px,#0000fa 113.5px,#000cff 116.5px,#0024ff 119.5px,#0000fc 120.5px,#0008ff 125.5px,#0056ff 126.5px,#0059ff 127.5px,#009aff 129.5px,#00a0ff 131.5px,#006dff 132.5px,#0071ff 133.5px,#00e3ff 134.5px,#00e3ff 138.5px,#0091ff 139.5px,#00b6ff 143.5px,#0bf 144.5px,#00eaff 146.5px,#00ffd6 147.5px,#00ffa4 149.5px,#00ffab 150.5px,#00ff73 153.5px,#0f6 155.5px,#00ff4f 156.5px,#00ff49 158.5px,#00ff5a 159.5px,#0f5 161.5px,#00ff3a 162.5px,#00ff30 170.5px,#00ff37 172.5px,#00ff36 173.5px,#00ff1b 174.5px,#00ff4c 181.5px,#00ffab 189.5px,#00ffc0 195.5px,#0f9 216.5px,#00ffad 217.5px,#00ff93 235.5px,#00ff81 237.5px,#00ff59 254.5px,#fff 255.5px,#fff 260.5px,#0f0 261.5px,#0f0 283.5px,#27ff00 284.5px,#8dff00 306.5px,#78ff00 307.5px,#f5ff00 330.5px,#dcff00 331.5px,#f9ff00 342.5px,#fff900 354.5px)"></i><i style="background:linear-gradient(#ceff00 0.5px,#ceff00 2.5px,#00ff13 3.5px,#00ff13 5.5px,#0cff00 6.5px,#0bff00 8.5px,#bf0 9.5px,#b3ff00 11.5px,#00ff1e 12.5px,#00ff3d 16.5px,#00ff7f 20.5px,#00ff57 21.5px,#00ff80 23.5px,#00ffae 24.5px,#00ffc4 26.5px,#0fb 27.5px,#00ffc6 29.5px,#00fff0 30.5px,#00fff3 32.5px,#00ffce 33.5px,#00ffd4 35.5px,#00fffb 36.5px,#00f6ff 38.5px,#00fbfe 40.5px,#00beff 44.5px,#00a4ff 47.5px,#0087ff 49.5px,#0047ff 86.5px,#0000f7 87.5px,#0000fb 113.5px,#0010ff 116.5px,#0003ff 119.5px,#000bff 125.5px,#008aff 126.5px,#008dff 127.5px,#00a7ff 128.5px,#008cff 129.5px,#0092ff 131.5px,#004eff 132.5px,#0051ff 133.5px,#00e3ff 134.5px,#00e3ff 138.5px,#00fff6 139.5px,#00fff1 140.5px,#00a1ff 141.5px,#00a7ff 143.5px,#00caff 146.5px,#00f6fb 148.5px,#00ffbc 151.5px,#00ff79 154.5px,#00ff6f 155.5px,#00ff51 156.5px,#00ff3c 161.5px,#00ff49 162.5px,#0f4 167.5px,#00ff1e 168.5px,#00ff18 170.5px,#00ff31 171.5px,#00ff1f 181.5px,#00ff4e 187.5px,#00ffa6 195.5px,#00ffb3 198.5px,#00ff90 216.5px,#00ffa1 217.5px,#00ff84 235.5px,#00ff8b 237.5px,#0f6 254.5px,#fff 255.5px,#fff 260.5px,#0eff00 261.5px,#0eff00 283.5px,#25ff00 285.5px,#86ff00 306.5px,#45ff00 307.5px,#c2ff00 330.5px,#ecff00 331.5px,#fffe00 338.5px,#fff300 354.5px)"></i><i style="background:linear-gradient(#8bff00 0.5px,#8bff00 2.5px,#0f4 3.5px,#0f4 5.5px,#00ff30 6.5px,#00ff30 8.5px,#00ff56 9.5px,#00ff57 11.5px,#00ff3f 12.5px,#00ff42 14.5px,#00ff61 15.5px,#00ff6d 17.5px,#a5ff00 18.5px,#65ff00 20.5px,#00ff84 21.5px,#00ffa8 23.5px,#00ffa0 24.5px,#00ffd8 27.5px,#00fff3 32.5px,#00fff5 38.5px,#00e6ff 39.5px,#00d6ff 41.5px,#00fff7 42.5px,#00edff 44.5px,#00c2ff 45.5px,#0097ff 49.5px,#07f 57.5px,#0049ff 86.5px,#0000f6 87.5px,#0000fe 114.5px,#0000f9 119.5px,#001eff 125.5px,#003fff 126.5px,#0042ff 127.5px,#005cff 128.5px,#004bff 129.5px,#0051ff 131.5px,#08f 132.5px,#008bff 133.5px,#00e3ff 134.5px,#00e3ff 138.5px,#00b3ff 139.5px,#00c0ff 140.5px,#00e6ff 141.5px,#00ecff 143.5px,#00d6ff 144.5px,#00dcff 146.5px,#00fbff 147.5px,#00fff1 149.5px,#00ffac 152.5px,#00ff74 153.5px,#00ff45 155.5px,#00ff75 156.5px,#00ff63 158.5px,#00ff60 161.5px,#0f3 162.5px,#00ff2d 164.5px,#00ff46 165.5px,#00ff40 167.5px,#00ff2d 168.5px,#00ff27 170.5px,#0f4 171.5px,#00ff3e 173.5px,#00ff23 174.5px,#00ff2f 187.5px,#00ff6a 194.5px,#00ff94 198.5px,#00ffab 206.5px,#00ff9c 216.5px,#00ffa6 218.5px,#00ff8d 235.5px,#0f7 236.5px,#00ff4a 254.5px,#fff 255.5px,#fff 260.5px,#02ff00 261.5px,#02ff00 283.5px,#24ff00 284.5px,#8bff00 306.5px,#67ff00 307.5px,#e4ff00 330.5px,#dbff00 331.5px,#f8ff00 342.5px,#fffa00 354.5px)"></i><i style="background:linear-gradient(#00ff5e 0.5px,#00ff5e 5.5px,#00ff4c 6.5px,#00ff4c 8.5px,#00ff5e 9.5px,#00ff5e 11.5px,#00ff4c 12.5px,#00ff4d 14.5px,#00ff61 15.5px,#00ff7c 20.5px,#00ff4b 21.5px,#00ff6b 23.5px,#00ff68 24.5px,#00ff91 26.5px,#00ffc1 27.5px,#00fff5 31.5px,#00fffe 35.5px,#00ffca 36.5px,#00ffcf 38.5px,#00ffe7 39.5px,#00fafe 44.5px,#00caff 47.5px,#009fff 48.5px,#00a8ff 49.5px,#009eff 50.5px,#00a7ff 51.5px,#0083ff 55.5px,#004dff 86.5px,#0000f5 87.5px,#0000f8 113.5px,#0001ff 116.5px,#0024ff 117.5px,#003bff 121.5px,#003dff 122.5px,#0023ff 123.5px,#0029ff 125.5px,#0007ff 126.5px,#000aff 127.5px,#0024ff 128.5px,#09f 129.5px,#009fff 131.5px,#0048ff 132.5px,#004bff 133.5px,#00e3ff 134.5px,#00e3ff 138.5px,#00b7ff 139.5px,#00dcff 141.5px,#00e2ff 143.5px,#00fff6 144.5px,#00fff4 146.5px,#00daff 147.5px,#00f9fc 151.5px,#00fff0 152.5px,#00ff9d 155.5px,#00ff9f 156.5px,#00ff6a 159.5px,#00ff5e 161.5px,#00ff37 162.5px,#00ff31 164.5px,#00ff53 165.5px,#00ff4e 167.5px,#00ff30 168.5px,#00ff2a 170.5px,#00ff42 171.5px,#0f2 178.5px,#00ff20 180.5px,#00ff34 181.5px,#00ff3a 192.5px,#0f6 198.5px,#00ff5b 199.5px,#00ff9a 206.5px,#00ffa2 214.5px,#00ff47 254.5px,#fff 255.5px,#fff 260.5px,#0f0 261.5px,#0f0 283.5px,#21ff00 284.5px,#87ff00 306.5px,#7bff00 307.5px,#fdff00 332.5px,#fe0 354.5px)"></i><i style="background:linear-gradient(#06ff00 0.5px,#06ff00 2.5px,#00ff3e 3.5px,#00ff3e 5.5px,#00ff51 6.5px,#00ff51 11.5px,#00ff04 12.5px,#00ff04 14.5px,#00ff52 15.5px,#00ff64 21.5px,#00ff79 23.5px,#00ff6e 24.5px,#00ff94 26.5px,#00ff62 27.5px,#00ff91 29.5px,#00ffd6 30.5px,#00ffe9 32.5px,#00ffba 33.5px,#00ffc5 35.5px,#00fffb 36.5px,#00fffd 38.5px,#00fff4 40.5px,#00f2ff 42.5px,#00c4ff 47.5px,#00e3ff 48.5px,#00b8ff 49.5px,#007eff 55.5px,#0050ff 78.5px,#0045ff 86.5px,#0000f5 87.5px,#0000f8 113.5px,#0000fa 116.5px,#0015ff 117.5px,#001dff 119.5px,#0000fd 120.5px,#00f 122.5px,#002cff 123.5px,#0032ff 125.5px,#001bff 126.5px,#001eff 127.5px,#0038ff 128.5px,#008fff 129.5px,#0095ff 131.5px,#005eff 132.5px,#0061ff 133.5px,#00e3ff 134.5px,#00e3ff 138.5px,#009dff 139.5px,#00a8ff 140.5px,#00abff 143.5px,#00dcff 144.5px,#00ebff 149.5px,#00c8ff 150.5px,#00d8ff 152.5px,#00fff2 153.5px,#00ffae 156.5px,#00ff6b 158.5px,#00ff46 162.5px,#00ff40 164.5px,#00ff30 166.5px,#00ff2b 170.5px,#00ff37 171.5px,#00ff19 179.5px,#00ff19 180.5px,#00ff37 181.5px,#00ff3a 197.5px,#00ff3d 198.5px,#00ff28 199.5px,#00ff94 212.5px,#00ff9b 216.5px,#00ff80 229.5px,#00ff4a 254.5px,#fff 255.5px,#fff 260.5px,#01ff00 261.5px,#07ff00 284.5px,#aeff00 318.5px,#f0ff00 330.5px,#d7ff00 331.5px,#f4ff00 342.5px,#fffb00 354.5px)"></i><i style="background:linear-gradient(#00ff4a 0.5px,#00ff4a 8.5px,#52ff00 9.5px,#52ff00 11.5px,#00ff4a 12.5px,#00ff4a 14.5px,#00ff18 15.5px,#00ff1e 20.5px,#00ff51 21.5px,#00ff5e 23.5px,#00ff26 24.5px,#00ff49 26.5px,#00ff0b 27.5px,#00ff49 29.5px,#00ffcd 30.5px,#00fff1 33.5px,#00fff8 35.5px,#00ffb5 36.5px,#00ffba 38.5px,#00ffd3 39.5px,#00ffd7 41.5px,#00faff 42.5px,#00eaff 44.5px,#00feff 45.5px,#00ebff 47.5px,#00c9ff 48.5px,#0076ff 59.5px,#0049ff 86.5px,#0000f5 87.5px,#0000f8 113.5px,#0000fe 116.5px,#0020ff 117.5px,#0031ff 122.5px,#001bff 123.5px,#0021ff 125.5px,#03f 127.5px,#006eff 129.5px,#0075ff 131.5px,#06f 132.5px,#0069ff 133.5px,#00e3ff 134.5px,#00e3ff 138.5px,#0093ff 139.5px,#009dff 140.5px,#00c8ff 141.5px,#00ceff 143.5px,#0af 144.5px,#00b2ff 149.5px,#00cfff 150.5px,#00d3ff 152.5px,#00beff 153.5px,#00cbff 154.5px,#00fff2 156.5px,#00ff81 159.5px,#00ff5a 161.5px,#00ff1e 175.5px,#00ff16 180.5px,#0f4 181.5px,#00ff3e 198.5px,#00ff14 199.5px,#00ff2d 206.5px,#00ff7e 216.5px,#00ff91 217.5px,#00ff96 229.5px,#00ff8d 235.5px,#00ff68 236.5px,#00ff37 254.5px,#fff 255.5px,#fff 260.5px,#00ff06 261.5px,#06ff00 287.5px,#5eff00 306.5px,#79ff00 307.5px,#f6ff00 330.5px,#bfff00 331.5px,#df0 342.5px,#f2ff00 354.5px)"></i><i style="background:linear-gradient(#2cff00 0.5px,#2cff00 2.5px,#00ff24 3.5px,#00ff24 5.5px,#00ff14 6.5px,#00ff14 8.5px,#d9ff00 9.5px,#d9ff00 11.5px,#00ff24 12.5px,#00ff24 14.5px,#00ff08 15.5px,#00ff08 17.5px,#00ff24 18.5px,#00ff29 24.5px,#00ff45 26.5px,#00ff2c 27.5px,#00ff62 29.5px,#00ff14 30.5px,#00ff56 32.5px,#00ffea 33.5px,#00fff8 38.5px,#00fff6 43.5px,#00fffb 44.5px,#00e8ff 45.5px,#00d0ff 48.5px,#00b7ff 49.5px,#00b1ff 50.5px,#00dfff 51.5px,#009bff 56.5px,#0081ff 57.5px,#0061ff 68.5px,#0048ff 86.5px,#0000f5 87.5px,#0000f9 113.5px,#0045ff 119.5px,#003dff 121.5px,#003fff 122.5px,#0006ff 123.5px,#000bff 125.5px,#003aff 126.5px,#003dff 127.5px,#0057ff 128.5px,#0081ff 129.5px,#0087ff 131.5px,#009bff 133.5px,#00e3ff 134.5px,#00e3ff 138.5px,#0095ff 139.5px,#00adff 142.5px,#00b0ff 143.5px,#00e5ff 144.5px,#00e8ff 146.5px,#00adff 147.5px,#00b0ff 149.5px,#00c3ff 150.5px,#00c7ff 152.5px,#00f7ff 153.5px,#00fff8 155.5px,#00ffc7 157.5px,#00ffa1 158.5px,#00ff95 159.5px,#00ff61 161.5px,#00ff56 164.5px,#00ff43 165.5px,#00ff34 170.5px,#00ff43 171.5px,#00ff21 180.5px,#00ff28 184.5px,#00ff23 198.5px,#00ff14 199.5px,#00ff1d 209.5px,#0f7 226.5px,#0f7 239.5px,#00ff53 254.5px,#fff 255.5px,#fff 260.5px,#06ff00 261.5px,#0cff00 284.5px,#72ff00 306.5px,#5f0 307.5px,#d3ff00 330.5px,#e8ff00 331.5px,#ff0 339.5px,#fff400 354.5px)"></i><i style="background:linear-gradient(#0f1 0.5px,#0f1 2.5px,#58ff00 3.5px,#58ff00 5.5px,#0f1 6.5px,#0f1 11.5px,#54ff00 12.5px,#54ff00 14.5px,#0f1 15.5px,#00ff15 23.5px,#00ff70 24.5px,#00ff85 26.5px,#00ffbf 27.5px,#00fffa 30.5px,#00c8ff 32.5px,#00a9ff 35.5px,#00c6ff 36.5px,#00bfff 38.5px,#008dff 39.5px,#0079ff 44.5px,#00afff 45.5px,#00a3ff 47.5px,#006eff 49.5px,#007bff 53.5px,#0093ff 54.5px,#08f 56.5px,#0074ff 57.5px,#0069ff 62.5px,#0040ff 86.5px,#0000f8 87.5px,#0007ff 122.5px,#003aff 123.5px,#0043ff 127.5px,#005dff 128.5px,#0064ff 131.5px,#0075ff 133.5px,#00e3ff 134.5px,#00e3ff 138.5px,#00c2ff 139.5px,#00d0ff 140.5px,#00bcff 141.5px,#00c2ff 143.5px,#00adff 144.5px,#00b0ff 146.5px,#00cbff 147.5px,#00d8ff 152.5px,#0bf 153.5px,#00c5ff 155.5px,#00fcfe 156.5px,#00ffe9 157.5px,#00ff4d 161.5px,#00ff39 164.5px,#00ff20 165.5px,#00ff1b 167.5px,#00ff32 168.5px,#00ff2c 170.5px,#00ff1b 171.5px,#00ff09 180.5px,#00ff2b 181.5px,#00ff21 213.5px,#00ff4b 224.5px,#0f7 235.5px,#00ff6d 238.5px,#00ff4c 254.5px,#fff 255.5px,#fff 260.5px,#12ff00 261.5px,#12ff00 283.5px,#00ff0d 284.5px,#09ff00 291.5px,#4fff00 306.5px,#67ff00 308.5px,#dfff00 330.5px,#e0ff00 332.5px,#fffc00 350.5px,#fffa00 354.5px)"></i><i style="background:linear-gradient(#00ff6f 0.5px,#00ff6f 2.5px,#00ff0d 3.5px,#00ff0d 5.5px,#00ff60 6.5px,#00ff60 11.5px,#00ff49 12.5px,#00ff46 17.5px,#00ff1e 18.5px,#00ff1e 20.5px,#00ff6f 21.5px,#00ff71 23.5px,#00ff26 24.5px,#00ff45 27.5px,#00ff9a 31.5px,#00ffb2 32.5px,#00ff76 33.5px,#00ff9f 35.5px,#00f1ff 36.5px,#00ecff 38.5px,#00ffd3 39.5px,#00ffd7 41.5px,#00e3ff 42.5px,#00c8ff 47.5px,#00a3ff 49.5px,#00a2ff 50.5px,#00c3ff 51.5px,#00beff 53.5px,#009dff 54.5px,#005fff 68.5px,#0046ff 86.5px,#0000f5 87.5px,#0000f9 113.5px,#0000fe 116.5px,#001dff 117.5px,#0028ff 119.5px,#0019ff 120.5px,#0026ff 125.5px,#000cff 126.5px,#000fff 127.5px,#0029ff 128.5px,#0054ff 129.5px,#005aff 131.5px,#0085ff 132.5px,#08f 133.5px,#00e3ff 134.5px,#00e3ff 138.5px,#00cfff 139.5px,#00dbff 140.5px,#00b4ff 141.5px,#00baff 143.5px,#00acff 144.5px,#00b8ff 152.5px,#00dcff 153.5px,#00e0ff 155.5px,#00fff6 157.5px,#00ffdb 158.5px,#0f9 159.5px,#00ff45 161.5px,#00ff1b 163.5px,#00ff09 170.5px,#00ff23 171.5px,#00ff0e 180.5px,#0f2 181.5px,#00ff1f 222.5px,#00ff51 235.5px,#00ff59 249.5px,#00ff50 254.5px,#fff 255.5px,#fff 260.5px,#00ff06 261.5px,#03ff00 286.5px,#60ff00 306.5px,#75ff00 307.5px,#f2ff00 330.5px,#c9ff00 331.5px,#e7ff00 342.5px,#fcff00 354.5px)"></i><i style="background:linear-gradient(#00ff4e 0.5px,#00ff4e 5.5px,#00ff1a 6.5px,#00ff12 11.5px,#3f0 12.5px,#3f0 14.5px,#c4ff00 15.5px,#c4ff00 17.5px,#18ff00 18.5px,#18ff00 20.5px,#00ff1e 21.5px,#00ff31 26.5px,#00ff1e 27.5px,#00ff47 29.5px,#00ff7d 30.5px,#00ffb1 32.5px,#00ffe2 36.5px,#00ffe8 41.5px,#00fffa 44.5px,#00ffa6 45.5px,#00ffb0 47.5px,#00fff5 48.5px,#00ecff 49.5px,#00e8ff 50.5px,#00fffa 51.5px,#00fdff 53.5px,#00daff 56.5px,#00a3ff 57.5px,#006fff 62.5px,#007fff 63.5px,#005eff 70.5px,#0048ff 86.5px,#0000f7 87.5px,#0000fa 113.5px,#000eff 116.5px,#0003ff 119.5px,#03f 120.5px,#0037ff 122.5px,#0003ff 123.5px,#0009ff 125.5px,#0037ff 126.5px,#003aff 127.5px,#0054ff 128.5px,#005dff 131.5px,#004fff 132.5px,#0052ff 133.5px,#00e3ff 134.5px,#00e3ff 138.5px,#00b1ff 139.5px,#00beff 140.5px,#00e4ff 141.5px,#00eaff 143.5px,#00bcff 144.5px,#00c0ff 146.5px,#00b1ff 147.5px,#00b5ff 149.5px,#00d0ff 150.5px,#00d3ff 152.5px,#0bf 153.5px,#00bdff 155.5px,#00fff3 156.5px,#00ffd8 158.5px,#00ffbc 159.5px,#00ff62 161.5px,#00ff2e 164.5px,#00ff3e 165.5px,#00ff27 171.5px,#00ff16 176.5px,#00ff0b 179.5px,#00ff0a 180.5px,#00ff23 181.5px,#00ff18 216.5px,#00ff03 217.5px,#00ff0c 233.5px,#0f4 250.5px,#00ff46 254.5px,#fff 255.5px,#fff 260.5px,#00ff10 261.5px,#00ff10 283.5px,#06ff00 284.5px,#6cff00 306.5px,#6aff00 308.5px,#e2ff00 330.5px,#c2ff00 331.5px,#dfff00 342.5px,#f4ff00 354.5px)"></i><i style="background:linear-gradient(#00ff2f 0.5px,#00ff2f 2.5px,#00ff3c 4.5px,#00ff3c 5.5px,#00ff5c 6.5px,#00ff5c 14.5px,#00ff46 15.5px,#00ff46 17.5px,#00ff5c 18.5px,#00ff5c 23.5px,#78ff00 24.5px,#67ff00 26.5px,#00ff32 27.5px,#00ff6b 30.5px,#00ffa0 32.5px,#00ff73 33.5px,#00ffb4 36.5px,#00ffc1 38.5px,#00ffe8 39.5px,#00ffea 41.5px,#0fc 42.5px,#00ffd4 44.5px,#00ffed 45.5px,#00fff5 47.5px,#00f0ff 48.5px,#0087ff 49.5px,#0083ff 56.5px,#00caff 57.5px,#00b7ff 59.5px,#007cff 60.5px,#0053ff 75.5px,#04f 86.5px,#0000f7 87.5px,#0000fb 98.5px,#000ffb 102.5px,#0011fc 116.5px,#0049ff 117.5px,#0061ff 119.5px,#0013fe 120.5px,#0015ff 122.5px,#0027ff 125.5px,#0029ff 127.5px,#0057ff 129.5px,#005eff 131.5px,#008bff 132.5px,#008eff 133.5px,#00e7ff 134.5px,#00e3ff 138.5px,#0091ff 139.5px,#009dff 140.5px,#00daff 141.5px,#00e0ff 143.5px,#00b3ff 144.5px,#0bf 156.5px,#00d7ff 158.5px,#00ffe9 159.5px,#00ff9b 161.5px,#00ff5d 162.5px,#00ff2c 164.5px,#00ff38 165.5px,#00ff1a 174.5px,#00ff19 180.5px,#00ff31 181.5px,#00ff2a 198.5px,#00ff12 199.5px,#08ff03 212.5px,#0cff01 216.5px,#1eff00 217.5px,#19ff00 235.5px,#00ff09 236.5px,#00ff30 251.5px,#00ff3f 254.5px,#fff 255.5px,#fff 260.5px,#00ff06 261.5px,#00ff06 283.5px,#26ff00 284.5px,#8dff00 306.5px,#62ff00 307.5px,#e0ff00 330.5px,#fffa00 331.5px,#ffe700 354.5px)"></i><i style="background:linear-gradient(#a9ff00 0.5px,#a9ff00 2.5px,#00ff6f 3.5px,#00ff6f 17.5px,#10ff00 18.5px,#10ff00 20.5px,#00ff6f 21.5px,#00ff6f 23.5px,#00ff1a 24.5px,#00ff20 26.5px,#00ff7f 27.5px,#00ffab 30.5px,#00fff7 34.5px,#00f4ff 35.5px,#00d9ff 36.5px,#00c0ff 41.5px,#00d2ff 42.5px,#00c5ff 44.5px,#009cff 45.5px,#008cff 47.5px,#00fbff 48.5px,#0ff 50.5px,#008bff 51.5px,#0089ff 53.5px,#00c0ff 54.5px,#00bcff 56.5px,#008aff 57.5px,#0081ff 60.5px,#0076ff 62.5px,#0096ff 63.5px,#005bff 70.5px,#0045ff 86.5px,#0000f8 87.5px,#0001fb 98.5px,#0010fb 102.5px,#0018ff 114.5px,#0021ff 116.5px,#003dff 117.5px,#0050ff 119.5px,#003cff 120.5px,#0040ff 122.5px,#002bff 123.5px,#0035ff 127.5px,#0065ff 129.5px,#006cff 131.5px,#0063ff 133.5px,#00e7ff 134.5px,#00e3ff 138.5px,#00c9ff 139.5px,#00d6ff 140.5px,#00a7ff 141.5px,#00aeff 143.5px,#00daff 144.5px,#00deff 146.5px,#00ffeb 147.5px,#00ffea 149.5px,#00f6ff 150.5px,#00faff 152.5px,#00b8ff 153.5px,#00baff 155.5px,#00f2ff 156.5px,#00fefe 158.5px,#00e7ff 159.5px,#00fff0 160.5px,#00ffc8 161.5px,#00ff73 162.5px,#00ff31 164.5px,#00ff23 170.5px,#00ff37 171.5px,#00ff32 173.5px,#00ff18 174.5px,#00ff16 180.5px,#00ff27 181.5px,#00ff21 198.5px,#00ff0e 199.5px,#00ff03 209.5px,#4f0 212.5px,#53ff00 215.5px,#53ff00 216.5px,#41ff00 218.5px,#3eff00 235.5px,#32ff00 237.5px,#28ff00 247.5px,#0aff09 253.5px,#00ff15 254.5px,#fff 255.5px,#fff 260.5px,#00ff18 261.5px,#00ff18 283.5px,#32ff00 284.5px,#98ff00 306.5px,#5bff00 307.5px,#e7ff00 334.5px,#fffc00 352.5px,#fffb00 354.5px)"></i><i style="background:linear-gradient(#1dff00 0.5px,#1dff00 2.5px,#00ff13 3.5px,#00ff13 5.5px,#8dff00 6.5px,#8dff00 8.5px,#00ff13 9.5px,#00ff13 14.5px,#79ff00 15.5px,#79ff00 17.5px,#00ff13 18.5px,#00ff13 20.5px,#6eff00 21.5px,#6eff00 23.5px,#00ff4f 24.5px,#00ff61 28.5px,#00ff94 31.5px,#00ffac 32.5px,#00ff93 33.5px,#00ffc2 35.5px,#00ff9a 36.5px,#00ffb8 38.5px,#00e8ff 39.5px,#00e2ff 41.5px,#00fffc 42.5px,#00f6ff 44.5px,#00ffe3 45.5px,#00ffec 47.5px,#00e4ff 48.5px,#00fff3 49.5px,#00fff4 50.5px,#00dfff 51.5px,#00d3ff 56.5px,#00efff 57.5px,#00e2ff 59.5px,#00f2ff 60.5px,#00d7ff 62.5px,#00afff 64.5px,#00a0ff 65.5px,#007fff 66.5px,#0058ff 76.5px,#004aff 86.5px,#0000f8 87.5px,#0002ff 114.5px,#0012ff 116.5px,#0013ff 119.5px,#004bff 120.5px,#004fff 122.5px,#000cff 123.5px,#0012ff 125.5px,#000bff 127.5px,#0026ff 128.5px,#0068ff 129.5px,#006eff 131.5px,#004bff 132.5px,#004eff 133.5px,#00e3ff 134.5px,#00e3ff 138.5px,#00a3ff 139.5px,#00cbff 141.5px,#00e8ff 152.5px,#00bdff 153.5px,#00bfff 155.5px,#00fbff 156.5px,#00fffe 158.5px,#00daff 159.5px,#00fdfd 160.5px,#00ffad 162.5px,#00ff28 165.5px,#00ff17 167.5px,#00ff24 168.5px,#0f1 173.5px,#1cff00 174.5px,#00ff02 177.5px,#0f0 180.5px,#00ff21 181.5px,#00ff0f 208.5px,#0eff00 210.5px,#4dff00 212.5px,#5dff00 214.5px,#5fff00 216.5px,#6cff00 218.5px,#75ff00 235.5px,#45ff00 236.5px,#47ff00 251.5px,#28ff00 253.5px,#00ff02 254.5px,#fff 255.5px,#fff 260.5px,#26ff05 261.5px,#46ff05 264.5px,#47ff05 283.5px,#7cff00 284.5px,#b7fb00 299.5px,#c8f500 306.5px,#94ff00 307.5px,#bff900 318.5px,#f4e400 337.5px,#ffe500 352.5px,#ffef00 354.5px)"></i><i style="background:linear-gradient(#00ff60 0.5px,#00ff60 2.5px,#00ff4d 3.5px,#00ff4d 5.5px,#00ff35 6.5px,#00ff35 8.5px,#00ff08 9.5px,#00ff08 11.5px,#51ff00 12.5px,#51ff00 14.5px,#00ff60 15.5px,#00ff60 23.5px,#4f0 24.5px,#40ff00 26.5px,#1dff00 27.5px,#00ff03 29.5px,#00ff46 32.5px,#00ff98 35.5px,#00ffb2 38.5px,#00ffb4 41.5px,#00ffa6 42.5px,#00ffaf 44.5px,#00ffd9 45.5px,#00ffe5 48.5px,#0ef 49.5px,#00ebff 50.5px,#00ffe5 51.5px,#00ffe6 53.5px,#00fff5 56.5px,#0df 57.5px,#00bdff 62.5px,#00caff 63.5px,#00b1ff 65.5px,#0090ff 66.5px,#0061ff 73.5px,#004bff 86.5px,#0000f5 87.5px,#0000f9 113.5px,#0012ff 116.5px,#0038ff 117.5px,#05f 119.5px,#0018ff 120.5px,#001cff 122.5px,#0000fe 123.5px,#0004ff 125.5px,#0024ff 126.5px,#0026ff 127.5px,#0041ff 128.5px,#0071ff 129.5px,#07f 131.5px,#008bff 132.5px,#008eff 133.5px,#00e3ff 134.5px,#00e3ff 138.5px,#00a1ff 139.5px,#0bf 142.5px,#00beff 143.5px,#00a7ff 144.5px,#00afff 149.5px,#00e1ff 150.5px,#00e5ff 152.5px,#00b5ff 153.5px,#00bdff 158.5px,#00ffec 159.5px,#00ffa7 162.5px,#00ff5d 164.5px,#00ff63 165.5px,#00ff51 167.5px,#00ff37 168.5px,#00ff31 170.5px,#00ff13 171.5px,#00ff16 173.5px,#00ff3d 174.5px,#00ff24 179.5px,#00ff24 180.5px,#00ff34 181.5px,#00ff2e 198.5px,#00ff18 199.5px,#00ff0e 209.5px,#0eff00 211.5px,#28ff00 213.5px,#2cff00 216.5px,#20ff00 218.5px,#2cff00 235.5px,#3dff00 236.5px,#42ff00 251.5px,#25ff00 253.5px,#08ff05 254.5px,#fff 255.5px,#fff 260.5px,#80ff00 261.5px,#c5ff00 263.5px,#d7ff00 264.5px,#d9ff00 283.5px,#efff00 284.5px,#fff900 291.5px,#fd0 306.5px,#ffe600 308.5px,#ffa700 338.5px,#ffa600 351.5px,#ffce00 354.5px)"></i><i style="background:linear-gradient(#e5ff00 0.5px,#e5ff00 2.5px,#0eff00 3.5px,#0eff00 5.5px,#00ff31 6.5px,#00ff31 14.5px,#32ff00 15.5px,#32ff00 17.5px,#00ff2c 18.5px,#00ff2c 20.5px,#00ff21 22.5px,#00ff21 23.5px,#00ff3a 24.5px,#00ff48 29.5px,#00ff7f 32.5px,#00ff87 33.5px,#00ffb9 35.5px,#00ffae 36.5px,#00ffcd 38.5px,#00ffaf 39.5px,#00ffbe 41.5px,#00f8ff 42.5px,#00d1ff 47.5px,#00fff5 48.5px,#00ffd3 49.5px,#00ffd4 50.5px,#00ffec 51.5px,#00ffed 53.5px,#00fffe 54.5px,#00edff 60.5px,#00adff 66.5px,#008fff 68.5px,#00a8ff 69.5px,#006dff 72.5px,#0052ff 82.5px,#004dff 86.5px,#0000f5 87.5px,#0000f9 113.5px,#000eff 116.5px,#002eff 118.5px,#0036ff 119.5px,#0000fb 120.5px,#000bff 125.5px,#001dff 126.5px,#0020ff 127.5px,#003bff 128.5px,#0064ff 129.5px,#006aff 131.5px,#0083ff 132.5px,#0087ff 133.5px,#00e3ff 134.5px,#00e3ff 138.5px,#0090ff 139.5px,#09f 140.5px,#00e2ff 141.5px,#00e8ff 143.5px,#00b1ff 144.5px,#00b4ff 152.5px,#00c0ff 154.5px,#00dfff 159.5px,#00fef8 160.5px,#00ff51 165.5px,#00ff35 170.5px,#00ff49 171.5px,#00ff27 180.5px,#00ff23 198.5px,#00ff08 199.5px,#09ff00 212.5px,#0eff00 216.5px,#00ff06 218.5px,#06ff02 235.5px,#13ff00 237.5px,#0eff01 249.5px,#00ff0f 253.5px,#00ff1c 254.5px,#fff 255.5px,#fff 260.5px,#54ff00 261.5px,#74ff00 264.5px,#75ff00 283.5px,#5bff00 284.5px,#b8fb00 306.5px,#d6f000 307.5px,#ffda00 325.5px,#ffcf00 330.5px,#f0e500 331.5px,#ffe000 352.5px,#ffea00 354.5px)"></i><i style="background:linear-gradient(#00ff2a 0.5px,#00ff2a 2.5px,#00ff4b 3.5px,#00ff4b 8.5px,#3fff00 9.5px,#3fff00 11.5px,#00ff2d 12.5px,#00ff2d 14.5px,#00ff4b 15.5px,#00ff4b 28.5px,#00ff52 29.5px,#00ff16 30.5px,#00ff3d 32.5px,#00ff96 33.5px,#00ffed 37.5px,#00fff8 38.5px,#00ffba 39.5px,#00ffcb 41.5px,#00fffd 42.5px,#00d7ff 47.5px,#00d9ff 48.5px,#00a9ff 49.5px,#00a6ff 50.5px,#0089ff 51.5px,#08f 53.5px,#00b8ff 54.5px,#00b6ff 56.5px,#0084ff 57.5px,#0081ff 59.5px,#00b6ff 60.5px,#00b0ff 62.5px,#00caff 63.5px,#00bcff 65.5px,#00c0ff 66.5px,#00a8ff 68.5px,#00afff 69.5px,#008cff 71.5px,#0058ff 72.5px,#0045ff 86.5px,#0000f6 87.5px,#0000f9 113.5px,#001fff 125.5px,#0009ff 126.5px,#000cff 127.5px,#0040ff 129.5px,#0047ff 131.5px,#00a4ff 132.5px,#00a8ff 133.5px,#00e3ff 134.5px,#00e3ff 138.5px,#0095ff 139.5px,#009fff 140.5px,#00e9ff 141.5px,#00efff 143.5px,#00a6ff 144.5px,#00a9ff 146.5px,#00deff 147.5px,#00e1ff 149.5px,#00b5ff 150.5px,#00b8ff 152.5px,#00ecff 153.5px,#00efff 155.5px,#00dfff 156.5px,#00fdfa 158.5px,#00ffe9 159.5px,#00ff64 163.5px,#00ff3c 165.5px,#00ff34 167.5px,#00ff47 168.5px,#00ff41 170.5px,#00ff47 172.5px,#00ff28 180.5px,#00ff1b 182.5px,#00ff14 198.5px,#00ff0a 203.5px,#00ff0b 244.5px,#00ff3f 254.5px,#fff 255.5px,#fff 260.5px,#1f0 261.5px,#1f0 283.5px,#00ff0b 284.5px,#0bff00 291.5px,#52ff00 306.5px,#86ff00 307.5px,#fffd00 330.5px,#d8ff00 331.5px,#f5ff00 342.5px,#fffb00 354.5px)"></i><i style="background:linear-gradient(#00ff57 0.5px,#00ff57 2.5px,#00ff6c 3.5px,#00ff64 8.5px,#00ff58 10.5px,#00ff58 11.5px,#00ff6c 12.5px,#00ff6c 17.5px,#00ff3a 18.5px,#00ff3a 20.5px,#00ff6c 21.5px,#00ff6c 23.5px,#1cff00 24.5px,#1cff00 26.5px,#00ff4b 27.5px,#00ff52 29.5px,#4fff00 30.5px,#09ff00 32.5px,#00ffa3 33.5px,#00fff9 37.5px,#00f2ff 38.5px,#00fff9 39.5px,#00f6ff 41.5px,#00d3ff 42.5px,#00c5ff 44.5px,#00fff5 45.5px,#00fffd 47.5px,#00bdff 49.5px,#0bf 50.5px,#0080ff 51.5px,#007eff 53.5px,#00ebff 54.5px,#00e9ff 56.5px,#00bdff 57.5px,#0bf 59.5px,#00e3ff 60.5px,#0df 62.5px,#008bff 63.5px,#08f 65.5px,#0072ff 66.5px,#0072ff 68.5px,#0090ff 69.5px,#0057ff 76.5px,#04f 86.5px,#0000f4 87.5px,#0000f8 113.5px,#000dff 116.5px,#0028ff 117.5px,#0040ff 121.5px,#0042ff 122.5px,#0001ff 123.5px,#000dff 127.5px,#0027ff 128.5px,#0058ff 129.5px,#005fff 131.5px,#004bff 132.5px,#004eff 133.5px,#00e3ff 134.5px,#00e3ff 138.5px,#0cf 139.5px,#00dbff 140.5px,#00fff8 141.5px,#00fff5 143.5px,#00acff 144.5px,#00afff 146.5px,#00d2ff 147.5px,#00d5ff 149.5px,#00fffc 150.5px,#00fffd 155.5px,#00f1ff 156.5px,#00fff7 157.5px,#00ffb5 159.5px,#0f6 161.5px,#00ff24 162.5px,#0aff00 165.5px,#15ff00 167.5px,#00ff2b 168.5px,#00ff25 170.5px,#00ff0b 171.5px,#00ff0e 178.5px,#00ff0c 180.5px,#00ff32 181.5px,#0f2 216.5px,#00ff16 218.5px,#00ff17 239.5px,#00ff54 252.5px,#00ff56 254.5px,#fff 255.5px,#fff 260.5px,#00ff09 261.5px,#00ff08 286.5px,#0cff00 292.5px,#a6ff00 323.5px,#cdff00 330.5px,#eaff00 331.5px,#ff0 338.5px,#fff400 354.5px)"></i><i style="background:linear-gradient(#2f0 0.5px,#2f0 2.5px,#5f0 3.5px,#5cff00 8.5px,#6fff00 9.5px,#6fff00 11.5px,#2fff00 12.5px,#2fff00 14.5px,#0cff00 15.5px,#0cff00 17.5px,#1aff00 18.5px,#1aff00 20.5px,#00ff0f 21.5px,#00ff0f 23.5px,#00ff31 24.5px,#00ff31 26.5px,#00ff56 27.5px,#00ff5d 29.5px,#3bff00 30.5px,#00ff03 32.5px,#00ff8b 33.5px,#00ffbc 35.5px,#00fff5 36.5px,#00d7ff 38.5px,#00fff9 39.5px,#00dcff 44.5px,#00fff1 45.5px,#00fffa 47.5px,#0082ff 48.5px,#0070ff 50.5px,#006dff 53.5px,#0078ff 55.5px,#07f 56.5px,#00a1ff 57.5px,#009fff 59.5px,#0067ff 60.5px,#0065ff 62.5px,#0093ff 63.5px,#008fff 65.5px,#0060ff 66.5px,#005eff 68.5px,#0083ff 69.5px,#007bff 71.5px,#06f 72.5px,#0043ff 86.5px,#0000f3 87.5px,#0000f7 113.5px,#0019ff 116.5px,#0000f8 117.5px,#0000fb 119.5px,#0023ff 120.5px,#0030ff 125.5px,#0021ff 126.5px,#0024ff 127.5px,#003eff 128.5px,#0048ff 131.5px,#005aff 132.5px,#005dff 133.5px,#00e3ff 134.5px,#00e3ff 138.5px,#0091ff 139.5px,#009dff 140.5px,#00d9ff 141.5px,#00dfff 143.5px,#00fffc 144.5px,#00fffb 146.5px,#00afff 147.5px,#00b7ff 152.5px,#00e0ff 153.5px,#00f7ff 155.5px,#00fff4 156.5px,#00ffb3 158.5px,#00ff6b 159.5px,#00ff32 161.5px,#00ff51 162.5px,#00ff35 167.5px,#00ff3d 169.5px,#00ff3a 170.5px,#00ff06 171.5px,#00ff08 173.5px,#00ff17 176.5px,#00ff15 180.5px,#00ff32 181.5px,#00ff2b 198.5px,#00ff1d 200.5px,#0f1 233.5px,#00ff5e 246.5px,#00ff5b 254.5px,#fff 255.5px,#fff 260.5px,#17ff00 261.5px,#16ff00 285.5px,#78ff00 306.5px,#96ff00 310.5px,#fffd00 330.5px,#f5ff00 331.5px,#fffb00 337.5px,#ffef00 354.5px)"></i><i style="background:linear-gradient(#00ff1e 0.5px,#00ff1f 5.5px,#8bff00 6.5px,#8bff00 8.5px,#cdff00 9.5px,#cdff00 11.5px,#51ff00 12.5px,#51ff00 14.5px,#e1ff00 15.5px,#e1ff00 17.5px,#00ff1f 18.5px,#00ff1f 20.5px,#e4ff00 21.5px,#ebff00 26.5px,#00ff3f 27.5px,#0f5 31.5px,#00ff65 32.5px,#00ff1e 33.5px,#00ff5a 35.5px,#00ff9f 36.5px,#00ffc8 38.5px,#00fff2 44.5px,#00dcff 45.5px,#00c6ff 48.5px,#006dff 49.5px,#006aff 50.5px,#008fff 51.5px,#008eff 53.5px,#00a3ff 54.5px,#00a1ff 56.5px,#0067ff 57.5px,#0065ff 59.5px,#0074ff 60.5px,#0070ff 65.5px,#005bff 66.5px,#05f 73.5px,#0051ff 74.5px,#0072ff 75.5px,#004fff 78.5px,#0043ff 86.5px,#0000f6 87.5px,#0000fa 113.5px,#0001ff 119.5px,#0017ff 120.5px,#002cff 127.5px,#006dff 129.5px,#0073ff 131.5px,#0098ff 132.5px,#009bff 133.5px,#00e3ff 134.5px,#00e3ff 138.5px,#0093ff 139.5px,#009dff 140.5px,#00b9ff 141.5px,#00bfff 143.5px,#00a9ff 144.5px,#00adff 146.5px,#00f3ff 147.5px,#00f6ff 149.5px,#00e7ff 150.5px,#00edff 152.5px,#00ffe5 153.5px,#00ffc8 155.5px,#00ffd4 156.5px,#00ff69 159.5px,#00ff46 161.5px,#0f5 162.5px,#00ff4e 164.5px,#00ff13 165.5px,#00ff0d 167.5px,#00ff3e 168.5px,#00ff38 170.5px,#00ff0f 171.5px,#0f1 173.5px,#00ff2b 174.5px,#00ff19 180.5px,#00ff24 182.5px,#00ff1e 198.5px,#00ff13 202.5px,#00ff08 228.5px,#00ff2e 235.5px,#00ff58 240.5px,#00ff5f 247.5px,#00ff4f 254.5px,#fff 255.5px,#fff 260.5px,#05ff00 261.5px,#05ff00 283.5px,#00ff14 284.5px,#04ff00 293.5px,#41ff00 306.5px,#6fff00 307.5px,#edff00 330.5px,#b8ff00 331.5px,#d6ff00 342.5px,#ebff00 354.5px)"></i><i style="background:linear-gradient(#00ff41 0.5px,#00ff41 2.5px,#00ff2a 3.5px,#00ff2a 5.5px,#00ff41 6.5px,#00ff41 17.5px,#00ff2c 18.5px,#00ff2c 20.5px,#00ff09 21.5px,#00ff09 23.5px,#00ff53 24.5px,#00ff4c 28.5px,#00ff50 29.5px,#29ff00 30.5px,#00ff0a 32.5px,#0f7 33.5px,#0fa 35.5px,#00ff81 36.5px,#00ffb6 38.5px,#00cdff 39.5px,#00b9ff 41.5px,#00e9ff 42.5px,#00d8ff 44.5px,#00beff 45.5px,#00aeff 47.5px,#0087ff 48.5px,#00a7ff 49.5px,#00a4ff 50.5px,#00b8ff 51.5px,#00b6ff 53.5px,#00f4ff 54.5px,#00f2ff 56.5px,#009eff 57.5px,#09f 62.5px,#00c1ff 63.5px,#00beff 65.5px,#00d2ff 66.5px,#00c7ff 68.5px,#0087ff 69.5px,#007eff 71.5px,#00abff 72.5px,#005aff 78.5px,#0047ff 86.5px,#0000f7 87.5px,#0000fb 113.5px,#0000fc 116.5px,#002cff 117.5px,#003fff 119.5px,#0000fd 120.5px,#0001ff 122.5px,#0030ff 123.5px,#0036ff 125.5px,#0049ff 127.5px,#0081ff 129.5px,#0085ff 133.5px,#00e3ff 134.5px,#00e3ff 138.5px,#0093ff 139.5px,#00b8ff 145.5px,#00b9ff 146.5px,#00caff 147.5px,#00cdff 149.5px,#00fff1 150.5px,#00ffea 152.5px,#00f8ff 153.5px,#00ffd1 155.5px,#00ff6b 158.5px,#00ff62 160.5px,#00ff46 163.5px,#00ff43 164.5px,#00ff50 165.5px,#00ff4a 167.5px,#00ff27 168.5px,#00ff1d 180.5px,#0f1 183.5px,#00ff0b 198.5px,#00ff1d 199.5px,#00ff16 216.5px,#00ff01 217.5px,#00ff0e 226.5px,#00ff64 237.5px,#00ff5a 247.5px,#00ff49 254.5px,#fff 255.5px,#fff 260.5px,#12ff00 261.5px,#12ff00 283.5px,#00ff02 284.5px,#63ff00 306.5px,#4bff00 307.5px,#c9ff00 330.5px,#e9ff00 331.5px,#fffe00 339.5px,#fff400 354.5px)"></i><i style="background:linear-gradient(#00ff4e 0.5px,#00ff4e 2.5px,#9dff00 3.5px,#9dff00 5.5px,#00ff4e 6.5px,#00ff4e 14.5px,#1dff00 15.5px,#1dff00 17.5px,#00ff4e 18.5px,#00ff4e 23.5px,#00ff80 24.5px,#00ff86 29.5px,#00ff03 30.5px,#00ff24 32.5px,#00ffba 33.5px,#00ffe6 35.5px,#00feff 37.5px,#00e5ff 38.5px,#00ffdb 39.5px,#00fcff 43.5px,#00f2ff 44.5px,#00adff 45.5px,#009dff 47.5px,#00d0ff 48.5px,#00ffdf 49.5px,#00ffe1 50.5px,#00fffc 51.5px,#00fffd 53.5px,#00d7ff 54.5px,#00d5ff 56.5px,#00f6ff 57.5px,#00f4ff 59.5px,#00fff0 60.5px,#00fff1 62.5px,#00d2ff 63.5px,#00cfff 65.5px,#0ff 66.5px,#00f5ff 68.5px,#00beff 69.5px,#00b2ff 71.5px,#00c3ff 72.5px,#0059ff 81.5px,#004aff 86.5px,#0000f6 87.5px,#0000fa 113.5px,#0014ff 116.5px,#000aff 118.5px,#000bff 119.5px,#002fff 120.5px,#03f 122.5px,#0001ff 123.5px,#000dff 127.5px,#0042ff 129.5px,#0048ff 131.5px,#007fff 132.5px,#0082ff 133.5px,#00e3ff 134.5px,#00e3ff 138.5px,#0cf 139.5px,#00dbff 140.5px,#00a7ff 141.5px,#00beff 146.5px,#00dfff 147.5px,#00e4ff 149.5px,#00c2ff 150.5px,#00e1ff 152.5px,#00fbf8 153.5px,#00ffb4 155.5px,#00ff7a 156.5px,#00ff4b 158.5px,#00ff57 159.5px,#00ff3c 167.5px,#00ff0e 168.5px,#00ff09 170.5px,#00ff1a 171.5px,#00ff0f 180.5px,#00ff17 183.5px,#0f1 198.5px,#0eff00 199.5px,#14ff00 216.5px,#00ff26 217.5px,#0f4 224.5px,#00ff81 232.5px,#0f8 235.5px,#00ff6e 236.5px,#00ff42 254.5px,#fff 255.5px,#fff 260.5px,#0dff00 261.5px,#0dff00 283.5px,#00ff05 285.5px,#1fff00 294.5px,#58ff00 306.5px,#4bff00 307.5px,#c9ff00 330.5px,#fffd00 331.5px,#ffe900 354.5px)"></i><i style="background:linear-gradient(#7aff00 0.5px,#7aff00 2.5px,#29ff00 3.5px,#29ff00 5.5px,#16ff00 6.5px,#16ff00 8.5px,#6eff00 9.5px,#6eff00 11.5px,#16ff00 12.5px,#16ff00 14.5px,#6f0 15.5px,#6f0 17.5px,#16ff00 18.5px,#16ff00 20.5px,#7bff00 21.5px,#7bff00 23.5px,#00ff1f 24.5px,#00ff1f 26.5px,#00ff40 27.5px,#00ff5a 31.5px,#00ff6b 32.5px,#00ff38 33.5px,#00ff73 35.5px,#0fc 36.5px,#00ffef 38.5px,#00ffe5 39.5px,#00fff1 41.5px,#00f1ff 42.5px,#00c4ff 48.5px,#00c7ff 50.5px,#00fff7 51.5px,#00fff8 53.5px,#00c3ff 54.5px,#00bfff 59.5px,#00e1ff 60.5px,#00dfff 62.5px,#00ffca 63.5px,#0fc 65.5px,#00e4ff 66.5px,#00deff 68.5px,#00f7ff 69.5px,#00e5ff 71.5px,#009cff 72.5px,#008fff 74.5px,#009dff 75.5px,#0067ff 79.5px,#0049ff 86.5px,#0000f5 87.5px,#0000f7 116.5px,#002fff 118.5px,#0080ff 122.5px,#0068ff 123.5px,#0076ff 125.5px,#00b9ff 126.5px,#00c8ff 128.5px,#0bf 129.5px,#00beff 131.5px,#00cdff 133.5px,#00e3ff 134.5px,#00e3ff 138.5px,#00c7ff 139.5px,#00ceff 140.5px,#00bfff 141.5px,#00d1ff 143.5px,#00f7fa 144.5px,#00fbf7 146.5px,#00e6ff 147.5px,#00f8f5 151.5px,#00ffe9 152.5px,#00ffb9 153.5px,#00ff82 155.5px,#00ff83 156.5px,#00ff6b 158.5px,#00ff4e 159.5px,#00ff48 161.5px,#00ff35 163.5px,#0f3 164.5px,#0f5 165.5px,#00ff4f 167.5px,#00ff24 168.5px,#00ff1e 170.5px,#0f4 171.5px,#00ff24 178.5px,#0f2 180.5px,#0f1 181.5px,#00ff0b 198.5px,#00ff12 202.5px,#00ff1b 214.5px,#00ff32 220.5px,#00ff6e 226.5px,#00ff7e 233.5px,#00ff4d 254.5px,#fff 255.5px,#fff 260.5px,#00ff0d 261.5px,#00ff05 287.5px,#1fff00 296.5px,#4fff00 306.5px,#dbff00 330.5px,#fffe00 331.5px,#ffe600 346.5px,#ffe300 354.5px)"></i><i style="background:linear-gradient(#00ff69 0.5px,#00ff6d 5.5px,#00ff19 6.5px,#00ff19 8.5px,#00ff6d 9.5px,#00ff6d 11.5px,#2aff00 12.5px,#2aff00 14.5px,#00ff6d 15.5px,#00ff6d 20.5px,#00ff0d 21.5px,#00ff0d 23.5px,#00ff75 24.5px,#00ff75 29.5px,#00ffb3 33.5px,#00fff5 36.5px,#00c7ff 39.5px,#0089ff 47.5px,#00abff 48.5px,#00fff4 49.5px,#00f9ff 56.5px,#00e4ff 57.5px,#00e2ff 59.5px,#00fbff 60.5px,#00f9ff 62.5px,#00ffcf 63.5px,#00ffd1 65.5px,#00d9ff 66.5px,#00d3ff 68.5px,#00e7ff 69.5px,#00daff 71.5px,#00beff 72.5px,#00acff 74.5px,#00fffe 75.5px,#00c7ff 77.5px,#007cff 78.5px,#0067ff 80.5px,#004bff 86.5px,#0000f8 87.5px,#0007ff 116.5px,#0000fb 117.5px,#000fff 118.5px,#00d1ff 123.5px,#00e4ff 124.5px,#00e6ff 125.5px,#00ffdb 126.5px,#00ffdb 128.5px,#00e6ff 129.5px,#00e6ff 133.5px,#00fbff 134.5px,#00fdf7 140.5px,#00ffc9 141.5px,#00ffa0 143.5px,#00ff95 146.5px,#0fa 147.5px,#00ff9d 149.5px,#00ff5a 150.5px,#00ff40 152.5px,#00ff52 153.5px,#00ff1a 156.5px,#05ff11 158.5px,#00ff1f 159.5px,#00ff19 161.5px,#13ff09 163.5px,#1dff03 170.5px,#06ff0c 172.5px,#0f1 179.5px,#00ff0b 198.5px,#00ff1f 199.5px,#00ff27 212.5px,#00ff41 219.5px,#00ff81 222.5px,#00ff93 226.5px,#00ff80 236.5px,#0f5 254.5px,#fff 255.5px,#fff 260.5px,#00ff15 261.5px,#00ff16 286.5px,#05ff00 296.5px,#35ff00 306.5px,#83ff00 307.5px,#fffc00 330.5px,#ffda00 341.5px,#fc0 354.5px)"></i><i style="background:linear-gradient(#17ff00 0.5px,#17ff00 2.5px,#0f6 3.5px,#0f6 14.5px,#00ff0b 15.5px,#00ff09 20.5px,#00ff19 21.5px,#00ff19 23.5px,#96ff00 24.5px,#96ff00 26.5px,#00ff0a 27.5px,#00ff12 29.5px,#00ff6b 30.5px,#00ff89 32.5px,#00ff76 33.5px,#0fa 35.5px,#00ffe5 36.5px,#00f6ff 38.5px,#00ffea 39.5px,#00fff7 41.5px,#00ffe5 42.5px,#00fff0 44.5px,#00c6ff 45.5px,#00adff 48.5px,#00e8ff 49.5px,#00e6ff 50.5px,#00ffdf 51.5px,#00ffe0 53.5px,#00d7ff 54.5px,#00d5ff 56.5px,#00fff1 57.5px,#00fff2 59.5px,#00d2ff 60.5px,#00d0ff 62.5px,#00fff9 63.5px,#00fffa 65.5px,#00d7ff 66.5px,#00d1ff 68.5px,#00bcff 70.5px,#00b5ff 71.5px,#00dcff 72.5px,#00c4ff 74.5px,#00caff 75.5px,#00a6ff 77.5px,#0072ff 78.5px,#004aff 86.5px,#0000f7 87.5px,#0000fb 113.5px,#0010ff 117.5px,#0049ff 119.5px,#0059ff 120.5px,#00e0ff 123.5px,#00f2ff 124.5px,#00f4ff 125.5px,#00ffe2 126.5px,#00ffe2 128.5px,#00efff 129.5px,#00efff 131.5px,#00fdff 133.5px,#00fdff 138.5px,#00ffdf 139.5px,#00ffcb 141.5px,#00ff8c 143.5px,#00ff5b 149.5px,#00ff31 150.5px,#00ff0f 155.5px,#00ff0b 158.5px,#00ff1d 159.5px,#02ff00 170.5px,#7f0 171.5px,#3dff00 173.5px,#00ff0a 174.5px,#00ff2d 177.5px,#00ff0b 201.5px,#00ff28 210.5px,#00ff46 216.5px,#0f3 217.5px,#00ff3d 219.5px,#00ff82 222.5px,#00ff8b 225.5px,#00ff59 245.5px,#00ff42 254.5px,#fff 255.5px,#fff 260.5px,#00ff0c 261.5px,#00ff0c 283.5px,#12ff00 285.5px,#86ff00 308.5px,#f2fa00 324.5px,#ffeb00 330.5px,#f9f500 331.5px,#ffc700 342.5px,#ffb300 354.5px)"></i><i style="background:linear-gradient(#00ff23 0.5px,#00ff23 2.5px,#8cff00 3.5px,#8cff00 5.5px,#00ff20 6.5px,#00ff23 17.5px,#00ff06 18.5px,#00ff06 20.5px,#00ff23 21.5px,#00ff23 23.5px,#3cff00 24.5px,#3cff00 26.5px,#ffc300 27.5px,#ffcb00 29.5px,#e8ff00 30.5px,#9dff00 32.5px,#00ff1f 33.5px,#00ff82 36.5px,#0fa 38.5px,#00ffd6 39.5px,#00ffe0 41.5px,#00ffa7 42.5px,#00ffb2 44.5px,#00ffe6 45.5px,#00fffb 48.5px,#0092ff 49.5px,#0087ff 59.5px,#00ecff 60.5px,#00e9ff 62.5px,#00a9ff 63.5px,#00a5ff 65.5px,#007eff 66.5px,#007aff 68.5px,#00b3ff 69.5px,#008fff 74.5px,#0069ff 75.5px,#0064ff 77.5px,#006dff 78.5px,#0047ff 85.5px,#0045ff 86.5px,#0000f8 87.5px,#0000fb 113.5px,#002cff 116.5px,#000aff 117.5px,#003eff 119.5px,#00c6ff 122.5px,#00e6ff 124.5px,#00e8ff 125.5px,#00fff1 126.5px,#00fff1 128.5px,#00ffd7 129.5px,#00ffd7 131.5px,#00ffeb 132.5px,#00ffeb 133.5px,#00fbff 134.5px,#00feff 139.5px,#00fff4 140.5px,#00ffad 141.5px,#00ff6f 143.5px,#00ff53 146.5px,#00ff5e 147.5px,#00ff2a 152.5px,#0f2 155.5px,#00ff30 156.5px,#00ff08 167.5px,#31ff00 168.5px,#3aff00 170.5px,#00ff0d 171.5px,#00ff37 177.5px,#06ff02 194.5px,#00ff0b 198.5px,#24ff00 199.5px,#00ff15 204.5px,#00ff61 215.5px,#00ff8e 223.5px,#00ff5c 248.5px,#00ff4e 254.5px,#fff 255.5px,#fff 260.5px,#26ff00 261.5px,#26ff00 283.5px,#06ff00 284.5px,#47ff00 295.5px,#cfff00 306.5px,#edf400 307.5px,#ffe800 311.5px,#ffa700 330.5px,#ffb200 331.5px,#ff9100 340.5px,#f80 354.5px)"></i><i style="background:linear-gradient(#00ff58 0.5px,#00ff58 2.5px,#00ff4d 4.5px,#00ff58 8.5px,#00ff3f 9.5px,#00ff3f 11.5px,#00ff58 12.5px,#00ff58 17.5px,#2fff00 18.5px,#2fff00 20.5px,#00ff4c 21.5px,#00ff4c 23.5px,#3aff00 24.5px,#3aff00 26.5px,#00ff1c 27.5px,#00ff2e 30.5px,#00ff5e 33.5px,#00ffbe 37.5px,#0fc 39.5px,#00ffd7 41.5px,#0fe 42.5px,#00fff6 44.5px,#00ffcf 45.5px,#00ffd7 47.5px,#00f1ff 48.5px,#00a9ff 49.5px,#00a7ff 50.5px,#00fff8 51.5px,#00fff8 53.5px,#00ffd3 54.5px,#00ffd5 56.5px,#00d2ff 57.5px,#00cfff 59.5px,#00a1ff 60.5px,#009eff 62.5px,#00cfff 63.5px,#00c8ff 65.5px,#008eff 66.5px,#0075ff 73.5px,#0071ff 74.5px,#0089ff 75.5px,#07f 77.5px,#005eff 78.5px,#0056ff 80.5px,#005eff 81.5px,#0047ff 86.5px,#0000f6 87.5px,#0000f6 116.5px,#002bff 118.5px,#004fff 119.5px,#0097ff 120.5px,#00edff 122.5px,#00ceff 123.5px,#00e0ff 124.5px,#00e3ff 125.5px,#00fffb 126.5px,#00fffb 128.5px,#00e3ff 129.5px,#00e3ff 133.5px,#00fbff 134.5px,#00fdff 139.5px,#00ffd6 141.5px,#00ff90 143.5px,#00ff6f 145.5px,#0f6 146.5px,#00ff4f 147.5px,#00ff1f 154.5px,#00ff1c 155.5px,#1f0 156.5px,#1bff00 158.5px,#00ff16 159.5px,#04ff00 164.5px,#19ff00 167.5px,#78ff00 168.5px,#8bff00 170.5px,#1dff00 171.5px,#11ff01 173.5px,#25ff00 174.5px,#0dff04 176.5px,#15ff00 179.5px,#1bff00 180.5px,#0dff00 181.5px,#2f0 187.5px,#0bff0b 192.5px,#00ff3d 197.5px,#00ff49 198.5px,#00ff40 199.5px,#00ff80 206.5px,#00ff97 215.5px,#0f8 232.5px,#00ff82 235.5px,#00ff71 237.5px,#00ff46 254.5px,#fff 255.5px,#fff 260.5px,#04ff00 261.5px,#01ff02 285.5px,#41ff00 290.5px,#ddfc00 298.5px,#fef100 301.5px,#ffd700 306.5px,#ffbf00 307.5px,#ffa600 317.5px,#ff9a00 330.5px,#ff9f00 332.5px,#ff8b00 342.5px,#ff8900 354.5px)"></i><i style="background:linear-gradient(#00ff3e 0.5px,#00ff3e 2.5px,#00ff07 3.5px,#00ff07 5.5px,#00ff1e 6.5px,#00ff1e 8.5px,#00ff41 9.5px,#00ff41 11.5px,#6bff00 12.5px,#6bff00 14.5px,#00ff41 15.5px,#00ff41 17.5px,#85ff00 18.5px,#85ff00 20.5px,#f2ff00 21.5px,#f2ff00 23.5px,#00ff04 24.5px,#00ff04 26.5px,#00ff29 27.5px,#00ff3a 30.5px,#00ff75 33.5px,#00ffd5 37.5px,#00ffe2 38.5px,#00ffc5 39.5px,#00ffd2 41.5px,#00ffc5 42.5px,#00ffcf 44.5px,#00f8ff 45.5px,#00e9ff 47.5px,#00fff3 48.5px,#00ecff 49.5px,#00e1ff 53.5px,#00ffe5 54.5px,#00ffe7 56.5px,#00b8ff 57.5px,#00b5ff 59.5px,#00f7ff 60.5px,#0ef 62.5px,#009eff 63.5px,#0097ff 65.5px,#00bfff 66.5px,#00a0ff 72.5px,#008dff 74.5px,#006fff 75.5px,#005aff 80.5px,#0048ff 86.5px,#0000f7 87.5px,#0000fa 113.5px,#0000fb 117.5px,#000dff 118.5px,#002fff 119.5px,#0cf 120.5px,#00faff 121.5px,#00ffeb 122.5px,#00dcff 123.5px,#00efff 124.5px,#00fffe 127.5px,#00fffe 128.5px,#00e4ff 129.5px,#00efff 133.5px,#00fbff 135.5px,#00fdff 138.5px,#00f3ff 139.5px,#00fff2 140.5px,#00ffa8 141.5px,#00ff61 143.5px,#00ff68 144.5px,#0f5 146.5px,#00ff51 148.5px,#00ff21 155.5px,#00ff0f 157.5px,#00ff13 164.5px,#3aff00 165.5px,#41ff00 167.5px,#00ff0b 168.5px,#03ff07 169.5px,#16ff00 170.5px,#62ff00 171.5px,#6fff00 172.5px,#63ff00 173.5px,#6fff00 174.5px,#12ff02 177.5px,#03ff18 185.5px,#00ff42 190.5px,#00ff93 197.5px,#00ffaf 204.5px,#00ff87 235.5px,#00ff6d 236.5px,#00ff3d 254.5px,#fff 255.5px,#fff 260.5px,#00ff18 261.5px,#00ff17 284.5px,#07ff00 286.5px,#beff00 293.5px,#f8ff00 296.5px,#ffd300 306.5px,#ffbf00 307.5px,#ffae00 326.5px,#ffa300 334.5px,#ff9100 352.5px,#ff9400 354.5px)"></i><i style="background:linear-gradient(#fff500 0.5px,#fff500 2.5px,#a1ff00 3.5px,#a1ff00 5.5px,#00ff02 6.5px,#00ff02 11.5px,#f8ff00 12.5px,#f8ff00 14.5px,#00ff02 15.5px,#00ff02 23.5px,#00ff16 29.5px,#8bff00 30.5px,#6cff00 31.5px,#3eff00 32.5px,#00ff45 33.5px,#00ff80 35.5px,#00ffaf 36.5px,#00ffd7 39.5px,#00ffe0 41.5px,#00ffba 42.5px,#00ffc4 44.5px,#00ffda 46.5px,#00ffde 47.5px,#00fff7 48.5px,#0097ff 49.5px,#0087ff 53.5px,#00beff 54.5px,#00baff 56.5px,#009aff 57.5px,#0096ff 59.5px,#00c6ff 60.5px,#00bdff 62.5px,#00a2ff 63.5px,#0093ff 68.5px,#007cff 69.5px,#004aff 83.5px,#0045ff 86.5px,#0000f5 87.5px,#0000f8 113.5px,#0000fc 116.5px,#001fff 118.5px,#005dff 120.5px,#00b1ff 122.5px,#00e1ff 124.5px,#00efff 128.5px,#00fff1 129.5px,#00fff1 131.5px,#00e3ff 132.5px,#00e3ff 133.5px,#00f7ff 134.5px,#00fdff 139.5px,#00ffd0 141.5px,#00ff69 144.5px,#00ff58 146.5px,#00ff39 147.5px,#00ff2b 149.5px,#00ff4b 150.5px,#00ff2a 154.5px,#00ff2a 166.5px,#00ff25 169.5px,#00ff13 170.5px,#2dff00 171.5px,#34ff00 172.5px,#07ff0d 174.5px,#00ff3e 177.5px,#00ff4d 180.5px,#00ff6c 181.5px,#00ffaf 195.5px,#00ffb4 198.5px,#00ffa7 199.5px,#00ffae 206.5px,#00ff9c 216.5px,#00ffab 217.5px,#00ff91 235.5px,#0f6 236.5px,#00ff34 254.5px,#fff 255.5px,#fff 260.5px,#1eff00 261.5px,#1fff00 283.5px,#00ff06 284.5px,#1cff00 287.5px,#af0 295.5px,#dffc00 298.5px,#fff000 301.5px,#ffd200 306.5px,#ffbe00 307.5px,#ffa500 320.5px,#ff9e00 330.5px,#ffb400 331.5px,#ff9d00 342.5px,#ff9b00 354.5px)"></i><i style="background:linear-gradient(#07ff00 0.5px,#07ff00 2.5px,#15ff00 3.5px,#15ff00 5.5px,#57ff00 6.5px,#57ff00 8.5px,#7f0 9.5px,#7f0 11.5px,#e1ff00 12.5px,#e1ff00 14.5px,#78ff00 15.5px,#78ff00 17.5px,#07ff00 18.5px,#07ff00 20.5px,#59ff00 21.5px,#59ff00 23.5px,#00ff41 24.5px,#00ff41 26.5px,#00ff30 27.5px,#00ff39 29.5px,#00ff61 30.5px,#00ff9a 33.5px,#0fc 35.5px,#00ffa1 36.5px,#00ffc8 38.5px,#00fff1 39.5px,#00fff9 41.5px,#00e1ff 42.5px,#00d3ff 44.5px,#00f4ff 45.5px,#00e4ff 47.5px,#00bfff 48.5px,#0089ff 49.5px,#0086ff 50.5px,#0098ff 51.5px,#0095ff 53.5px,#0075ff 54.5px,#0072ff 56.5px,#007aff 59.5px,#006bff 61.5px,#006aff 62.5px,#007cff 63.5px,#004bff 81.5px,#04f 86.5px,#0000f8 87.5px,#0001ff 114.5px,#000cff 116.5px,#0050ff 117.5px,#00a5ff 119.5px,#004dff 120.5px,#0095ff 122.5px,#00caff 123.5px,#00d3ff 125.5px,#00c0ff 126.5px,#00c2ff 128.5px,#00fff3 129.5px,#00faf6 133.5px,#00e7ff 134.5px,#00efff 138.5px,#0df 139.5px,#00f3fb 140.5px,#00ffd2 141.5px,#00ffa6 143.5px,#00ffb1 144.5px,#00ffa5 146.5px,#00ff54 147.5px,#00ff45 149.5px,#00ff7d 150.5px,#00ff4f 155.5px,#00ff5b 156.5px,#00ff4f 162.5px,#00ff49 167.5px,#00ff27 168.5px,#0f2 171.5px,#00ff3f 174.5px,#0f6 178.5px,#00ff6c 180.5px,#00ff7f 181.5px,#00ffae 201.5px,#00ffb2 207.5px,#00ff86 235.5px,#00ff74 238.5px,#00ff4c 254.5px,#fff 255.5px,#fff 260.5px,#00ff04 261.5px,#00ff04 283.5px,#1cff00 284.5px,#5fff00 295.5px,#beff00 302.5px,#e5f600 306.5px,#ffe500 313.5px,#ffaf00 330.5px,#ff9100 343.5px,#ff8d00 354.5px)"></i><i style="background:linear-gradient(#00ff26 0.5px,#00ff26 8.5px,#a0ff00 9.5px,#a0ff00 11.5px,#00ff26 12.5px,#00ff26 23.5px,#00ff5e 24.5px,#00ff68 29.5px,#00ff95 32.5px,#00ffd9 35.5px,#00ffcb 36.5px,#00ffeb 38.5px,#00ffd2 39.5px,#00ffe2 41.5px,#00cbff 42.5px,#00bcff 44.5px,#00fff4 45.5px,#00fefe 47.5px,#00acff 48.5px,#00a4ff 50.5px,#00fffa 51.5px,#00faff 53.5px,#00b6ff 54.5px,#00a6ff 59.5px,#008aff 60.5px,#0078ff 65.5px,#06f 66.5px,#0046ff 86.5px,#0000f5 87.5px,#0000f9 113.5px,#0008ff 116.5px,#002aff 118.5px,#0035ff 119.5px,#01f 120.5px,#0065ff 126.5px,#0070ff 128.5px,#006aff 131.5px,#009cff 132.5px,#009dff 133.5px,#00e3ff 134.5px,#00e3ff 138.5px,#00a6ff 139.5px,#00f6ff 141.5px,#00ffea 143.5px,#00ffe8 147.5px,#00ffd6 149.5px,#00ff82 155.5px,#00ff7f 158.5px,#00ff68 159.5px,#00ff61 164.5px,#00ff6b 166.5px,#00ff6a 167.5px,#00ff78 168.5px,#00ff75 170.5px,#00ff67 172.5px,#00ff7e 190.5px,#00ff94 198.5px,#00ffb1 201.5px,#00ffb6 207.5px,#00ffa8 216.5px,#00ff98 218.5px,#00ff63 243.5px,#00ff48 254.5px,#fff 255.5px,#fff 260.5px,#30ff00 261.5px,#30ff00 283.5px,#07ff00 284.5px,#70ff00 305.5px,#76ff00 306.5px,#6bff00 307.5px,#ebfb00 324.5px,#ffe700 331.5px,#ffbc00 340.5px,#ffa200 354.5px)"></i><i style="background:linear-gradient(#00ff61 0.5px,#00ff61 14.5px,#4eff00 15.5px,#4eff00 17.5px,#0f4 18.5px,#0f4 20.5px,#00ff61 21.5px,#00ff61 23.5px,#00ff4b 24.5px,#00ff4b 26.5px,#00ff3b 27.5px,#00ff46 29.5px,#00ff36 30.5px,#00ff5c 32.5px,#00ff58 33.5px,#00ff92 35.5px,#00ffe3 36.5px,#00fffe 38.5px,#00e7ff 41.5px,#00fff8 42.5px,#00f9ff 44.5px,#00c8ff 45.5px,#00b7ff 47.5px,#00c4ff 48.5px,#00b5ff 50.5px,#0098ff 51.5px,#0091ff 53.5px,#00afff 54.5px,#009dff 59.5px,#0074ff 64.5px,#004cff 82.5px,#0047ff 86.5px,#0000f7 87.5px,#0000fb 113.5px,#001bff 116.5px,#0000f7 117.5px,#0000f8 119.5px,#003fff 120.5px,#0064ff 122.5px,#0035ff 123.5px,#0056ff 125.5px,#0083ff 126.5px,#008aff 128.5px,#06f 129.5px,#0068ff 133.5px,#00e3ff 134.5px,#00e3ff 138.5px,#0076ff 139.5px,#00c7ff 141.5px,#00f9ff 143.5px,#00ffea 144.5px,#00ffe2 146.5px,#00ffb8 149.5px,#00ff94 152.5px,#00ff9a 153.5px,#00ff7e 155.5px,#00ff62 156.5px,#00ff59 158.5px,#00ff5e 161.5px,#00ff6c 162.5px,#00ff6a 164.5px,#00ff4a 165.5px,#00ff48 167.5px,#00ff65 168.5px,#00ff60 180.5px,#00ff70 181.5px,#00ff9c 199.5px,#00ffb2 204.5px,#00ff9e 216.5px,#00ff8d 218.5px,#00ff6b 235.5px,#00ff71 237.5px,#00ff47 254.5px,#fff 255.5px,#fff 260.5px,#21ff00 261.5px,#21ff00 283.5px,#00ff0e 284.5px,#0bff00 292.5px,#4dff00 306.5px,#62ff00 308.5px,#e5ff00 330.5px,#fffb00 333.5px,#ffd300 348.5px,#ffcb00 354.5px)"></i><i style="background:linear-gradient(#00ff74 0.5px,#00ff74 5.5px,#00ff3b 6.5px,#00ff3b 8.5px,#0eff00 9.5px,#0eff00 11.5px,#41ff00 12.5px,#41ff00 14.5px,#0f5 15.5px,#0f5 17.5px,#00ff25 18.5px,#00ff25 20.5px,#00ff74 21.5px,#00ff74 23.5px,#00ff0c 24.5px,#00ff0c 26.5px,#34ff00 27.5px,#1fff00 29.5px,#00ff4c 30.5px,#00ff71 32.5px,#00ffc6 35.5px,#00ffa6 36.5px,#00ffc9 38.5px,#00fffc 39.5px,#00f8ff 41.5px,#00fbff 43.5px,#00f0ff 44.5px,#00d6ff 45.5px,#00c1ff 47.5px,#00d3ff 48.5px,#0cf 50.5px,#00abff 51.5px,#008fff 59.5px,#007bff 61.5px,#0054ff 78.5px,#0049ff 86.5px,#0000f7 87.5px,#0000fb 113.5px,#0013ff 116.5px,#0005ff 118.5px,#00f 120.5px,#0025ff 122.5px,#006eff 123.5px,#0091ff 125.5px,#0096ff 128.5px,#0083ff 129.5px,#0084ff 131.5px,#00a3ff 132.5px,#00a3ff 133.5px,#00e3ff 134.5px,#00e3ff 138.5px,#00a5ff 139.5px,#00caff 140.5px,#00bdff 141.5px,#00efff 143.5px,#00fffb 144.5px,#00ffe8 148.5px,#00ffad 152.5px,#00ff8c 153.5px,#00ff72 155.5px,#00ff67 158.5px,#00ff6c 161.5px,#00ff5a 162.5px,#00ff58 164.5px,#00ff74 165.5px,#00ff69 179.5px,#00ff9a 198.5px,#00ffb7 203.5px,#00ffa3 216.5px,#00ff92 218.5px,#00ff43 254.5px,#fff 255.5px,#fff 260.5px,#00ff04 261.5px,#00ff04 283.5px,#16ff00 284.5px,#7dff00 306.5px,#6eff00 307.5px,#effc00 324.5px,#ffe500 332.5px,#ffc300 341.5px,#ffaf00 354.5px)"></i><i style="background:linear-gradient(#00ff62 0.5px,#00ff62 5.5px,#16ff00 6.5px,#16ff00 8.5px,#00ff0a 9.5px,#00ff0a 11.5px,#00ff62 12.5px,#00ff62 17.5px,#4eff00 18.5px,#4eff00 20.5px,#0eff00 21.5px,#0eff00 23.5px,#0f7 24.5px,#00ff84 29.5px,#00ffb2 32.5px,#00ff5f 33.5px,#0f9 35.5px,#00ffe6 36.5px,#00faff 38.5px,#00c3ff 39.5px,#00baff 41.5px,#00ffeb 42.5px,#00fffa 44.5px,#00adff 45.5px,#0091ff 48.5px,#00acff 49.5px,#0090ff 53.5px,#00a2ff 54.5px,#0092ff 56.5px,#0078ff 57.5px,#0047ff 86.5px,#0000f6 87.5px,#0000f9 113.5px,#0000f8 116.5px,#000eff 118.5px,#000fff 119.5px,#0000fe 120.5px,#0025ff 122.5px,#0073ff 123.5px,#0096ff 125.5px,#0073ff 126.5px,#0079ff 128.5px,#006fff 130.5px,#006fff 131.5px,#009bff 132.5px,#009bff 133.5px,#00e3ff 134.5px,#00e3ff 138.5px,#0093ff 139.5px,#00edff 142.5px,#00fffe 143.5px,#00ffe9 146.5px,#00fff1 147.5px,#00ffb9 152.5px,#0f9 153.5px,#00ff69 157.5px,#00ff67 158.5px,#00ff7b 159.5px,#00ff64 167.5px,#00ff68 170.5px,#00ff4e 171.5px,#00ff6b 180.5px,#00ff7d 182.5px,#00ffa2 198.5px,#00ff95 199.5px,#00ffa6 204.5px,#00ff8d 216.5px,#00ff91 219.5px,#00ff4a 254.5px,#fff 255.5px,#fff 260.5px,#24ff00 261.5px,#24ff00 283.5px,#10ff00 284.5px,#6fff00 304.5px,#86ff00 306.5px,#7aff00 307.5px,#e6ff00 314.5px,#fff600 319.5px,#ffcf00 330.5px,#ffbd00 331.5px,#ff9f00 341.5px,#ff9600 354.5px)"></i><i style="background:linear-gradient(#00ff64 0.5px,#00ff64 20.5px,#1eff00 21.5px,#1eff00 23.5px,#b6ff00 24.5px,#b6ff00 26.5px,#00ff3c 27.5px,#00ff56 30.5px,#00ff7d 32.5px,#00ff65 33.5px,#00ff9e 35.5px,#0fd 36.5px,#00fffb 39.5px,#00fbff 41.5px,#00ffe9 42.5px,#00fff7 44.5px,#00ceff 45.5px,#008fff 50.5px,#009eff 51.5px,#007bff 55.5px,#0048ff 86.5px,#0000f3 87.5px,#0000f6 113.5px,#001cff 116.5px,#0040ff 118.5px,#004bff 119.5px,#0007ff 120.5px,#002dff 122.5px,#005bff 123.5px,#007dff 125.5px,#00b9ff 126.5px,#00beff 128.5px,#0094ff 129.5px,#0095ff 131.5px,#007eff 132.5px,#007eff 133.5px,#00e3ff 134.5px,#00e3ff 138.5px,#0095ff 139.5px,#00baff 140.5px,#00edff 141.5px,#00fff8 142.5px,#00ffc9 148.5px,#00ffbd 149.5px,#00ffcb 150.5px,#00ffb3 152.5px,#0f9 155.5px,#00ff87 158.5px,#0f7 170.5px,#00ff27 171.5px,#00ff34 173.5px,#0f7 174.5px,#00ff76 180.5px,#00ff60 181.5px,#00ff8f 198.5px,#00ffa9 202.5px,#00ff6e 235.5px,#00ff3b 254.5px,#fff 255.5px,#fff 260.5px,#24ff00 261.5px,#24ff00 283.5px,#47ff00 284.5px,#a8ff00 304.5px,#c4ff00 306.5px,#8cff00 307.5px,#c9ff00 312.5px,#edfd00 316.5px,#fe0 322.5px,#ffa900 340.5px,#ff9d00 354.5px)"></i><i style="background:linear-gradient(#b7ff00 0.5px,#b7ff00 2.5px,#00ff27 3.5px,#00ff27 5.5px,#6aff00 6.5px,#6aff00 8.5px,#00ff27 9.5px,#00ff27 14.5px,#00ff08 15.5px,#00ff08 17.5px,#51ff00 18.5px,#51ff00 20.5px,#00ff27 21.5px,#00ff2c 26.5px,#b2ff00 27.5px,#97ff00 29.5px,#00ff14 30.5px,#00ff40 32.5px,#00ff6b 33.5px,#00ffbc 36.5px,#00ffd7 38.5px,#00ff98 39.5px,#00ffae 41.5px,#00ffd7 42.5px,#00ffe8 44.5px,#00dcff 45.5px,#0089ff 53.5px,#0060ff 70.5px,#004aff 86.5px,#0000f0 87.5px,#0000f4 113.5px,#0000fd 116.5px,#0000f9 119.5px,#002eff 120.5px,#008eff 125.5px,#005fff 126.5px,#006cff 133.5px,#00e3ff 134.5px,#00e3ff 138.5px,#0098ff 139.5px,#00bfff 140.5px,#00bdff 141.5px,#00efff 143.5px,#00fffc 146.5px,#00ffba 147.5px,#00ffa5 149.5px,#00ffc5 150.5px,#00ff85 155.5px,#00ff84 158.5px,#00ff6d 159.5px,#00ff6b 161.5px,#00ff7f 162.5px,#00ff6d 176.5px,#00ff73 180.5px,#00ff83 184.5px,#00ffaf 204.5px,#00ff98 216.5px,#00ff84 221.5px,#00ff62 235.5px,#00ff51 236.5px,#00ff23 254.5px,#fff 255.5px,#fff 260.5px,#1bff00 261.5px,#1bff00 283.5px,#8fff00 306.5px,#62ff00 307.5px,#dcff00 325.5px,#f8fa00 330.5px,#f0fc00 331.5px,#fff200 334.5px,#ffd400 345.5px,#ffc600 354.5px)"></i><i style="background:linear-gradient(#00ff49 0.5px,#00ff49 2.5px,#00ff1a 3.5px,#00ff1a 5.5px,#00ff0d 7.5px,#00ff19 11.5px,#00ff49 12.5px,#00ff49 17.5px,#2bff00 18.5px,#2bff00 20.5px,#00ff49 21.5px,#00ff49 23.5px,#3aff00 24.5px,#3aff00 26.5px,#0dff00 29.5px,#00ff57 30.5px,#00ffcb 35.5px,#00ff72 36.5px,#00ff9d 38.5px,#00ffcd 39.5px,#00ffda 41.5px,#00f1ff 42.5px,#00b5ff 47.5px,#00b8ff 48.5px,#0089ff 49.5px,#0082ff 52.5px,#006bff 59.5px,#0042ff 86.5px,#0000f5 87.5px,#0000f7 116.5px,#0009ff 119.5px,#0000fc 120.5px,#0021ff 122.5px,#006eff 123.5px,#0af 126.5px,#00afff 128.5px,#007cff 129.5px,#007fff 133.5px,#00e3ff 134.5px,#00e3ff 138.5px,#0080ff 139.5px,#00a5ff 140.5px,#00fffb 141.5px,#00ffe0 143.5px,#00ffec 144.5px,#00ffe4 146.5px,#00fff1 147.5px,#00ffbd 152.5px,#00ff7d 156.5px,#00ff75 158.5px,#00ff8a 159.5px,#0f8 161.5px,#00ff75 162.5px,#00ff73 164.5px,#00ff7d 166.5px,#00ff7c 167.5px,#00ff5d 168.5px,#00ff5b 170.5px,#00ff7d 171.5px,#00ff7b 173.5px,#00ff59 174.5px,#0f7 178.5px,#00ff7b 180.5px,#00ff65 181.5px,#00ff95 198.5px,#00ffa6 203.5px,#00ff59 235.5px,#00ff67 236.5px,#00ff35 254.5px,#fff 255.5px,#fff 260.5px,#16ff00 261.5px,#19ff00 285.5px,#7aff00 306.5px,#65ff00 307.5px,#e6ff00 330.5px,#fffc00 331.5px,#ffdf00 340.5px,#ffcd00 354.5px)"></i><i style="background:linear-gradient(#00ff17 0.5px,#00ff17 2.5px,#00ff2b 3.5px,#00ff2c 11.5px,#81ff00 12.5px,#81ff00 14.5px,#00ff2c 15.5px,#00ff2c 17.5px,#ffeb00 18.5px,#ffeb00 20.5px,#00ff2c 21.5px,#00ff2c 23.5px,#00ff3b 24.5px,#00ff4b 29.5px,#05ff00 30.5px,#00ff2d 32.5px,#00ff9c 33.5px,#00ffe0 36.5px,#00fff7 38.5px,#00ffe0 39.5px,#00ffea 41.5px,#0ef 42.5px,#00b3ff 47.5px,#00ceff 48.5px,#00abff 49.5px,#0086ff 51.5px,#0059ff 72.5px,#0046ff 86.5px,#0000f5 87.5px,#0000f9 113.5px,#0019ff 116.5px,#0012ff 118.5px,#0015ff 119.5px,#004aff 120.5px,#0070ff 122.5px,#003cff 123.5px,#005fff 125.5px,#007dff 126.5px,#0083ff 128.5px,#006bff 129.5px,#006dff 133.5px,#00e3ff 134.5px,#00e3ff 138.5px,#007cff 139.5px,#00d8ff 141.5px,#00f7ff 142.5px,#00fff8 143.5px,#00ffd6 144.5px,#00ffcd 146.5px,#00ffef 147.5px,#00ffa3 152.5px,#00ff73 153.5px,#00ff54 155.5px,#00ff6c 156.5px,#00ff54 161.5px,#00ff4f 164.5px,#00ff5c 165.5px,#00ff59 167.5px,#00ff3e 168.5px,#00ff41 173.5px,#00ff2f 174.5px,#00ff4f 178.5px,#00ff83 197.5px,#00ffa2 200.5px,#00ff8c 215.5px,#00ff5a 235.5px,#00ff42 236.5px,#00ff07 254.5px,#fff 255.5px,#fff 260.5px,#1eff00 261.5px,#1eff00 283.5px,#00ff05 284.5px,#3f0 297.5px,#5eff00 306.5px,#7dff00 307.5px,#fffc00 330.5px,#fc0 345.5px,#ffb800 354.5px)"></i><i style="background:linear-gradient(#e2ff00 0.5px,#e2ff00 2.5px,#1cff00 3.5px,#1cff00 5.5px,#df0 6.5px,#df0 8.5px,#19ff00 9.5px,#19ff00 11.5px,#65ff00 12.5px,#65ff00 14.5px,#00ff0a 15.5px,#00ff0a 17.5px,#15ff00 18.5px,#15ff00 20.5px,#00ff0a 21.5px,#00ff0a 23.5px,#00ff7d 24.5px,#00ff7e 26.5px,#65ff00 27.5px,#4f0 29.5px,#00ff9b 30.5px,#00fbff 35.5px,#00ffd2 36.5px,#00fff0 38.5px,#0bf 39.5px,#00b5ff 41.5px,#00a1ff 43.5px,#0084ff 48.5px,#0081ff 52.5px,#0045ff 86.5px,#0000f6 87.5px,#0000f9 113.5px,#000dff 116.5px,#0000f7 118.5px,#0000f8 119.5px,#0037ff 122.5px,#006eff 124.5px,#007bff 125.5px,#00b5ff 126.5px,#0bf 128.5px,#0068ff 129.5px,#006aff 133.5px,#00e3ff 134.5px,#00e3ff 138.5px,#00d1ff 139.5px,#0ff 140.5px,#00f9ff 141.5px,#00ffe6 143.5px,#00feff 144.5px,#00fff8 146.5px,#00ffcf 149.5px,#00ffa4 150.5px,#00ff63 155.5px,#00ff78 156.5px,#00ff67 161.5px,#00ff56 162.5px,#00ff53 164.5px,#00ff67 165.5px,#00ff64 167.5px,#00ff45 168.5px,#00ff42 170.5px,#00ff5f 171.5px,#00ff5a 178.5px,#00ff5e 180.5px,#00ff6d 182.5px,#00ff95 197.5px,#00ff9f 204.5px,#00ff4b 235.5px,#00ff4e 237.5px,#0f1 254.5px,#fff 255.5px,#fff 260.5px,#19ff00 261.5px,#1cff00 285.5px,#81ff00 306.5px,#72ff00 307.5px,#f6fa00 325.5px,#ffd000 334.5px,#ff9d00 348.5px,#ff9400 354.5px)"></i><i style="background:linear-gradient(#4eff00 0.5px,#4eff00 2.5px,#00ff12 3.5px,#00ff12 5.5px,#00ff46 6.5px,#00ff46 8.5px,#00ff0c 9.5px,#00ff0c 11.5px,#00ff2f 12.5px,#00ff2f 14.5px,#00ff20 15.5px,#00ff20 17.5px,#00ff5f 18.5px,#00ff5f 20.5px,#00ff1d 21.5px,#00ff1d 23.5px,#00ff06 24.5px,#00ff08 26.5px,#00ff3c 27.5px,#00ff4d 30.5px,#00ff78 32.5px,#00ff61 33.5px,#00ff9a 35.5px,#0fd 36.5px,#00fbff 40.5px,#00f4ff 41.5px,#00ffd9 42.5px,#00fff0 44.5px,#00c6ff 45.5px,#00adff 47.5px,#00beff 48.5px,#009aff 49.5px,#007cff 52.5px,#04f 86.5px,#0000f6 87.5px,#0000f6 116.5px,#0008ff 119.5px,#0000fb 120.5px,#0009ff 121.5px,#004eff 124.5px,#005eff 126.5px,#0063ff 128.5px,#00d4ff 129.5px,#00d5ff 131.5px,#006aff 132.5px,#006aff 133.5px,#00e3ff 134.5px,#00e3ff 138.5px,#0080ff 139.5px,#00d4ff 141.5px,#00f3ff 142.5px,#00fff7 144.5px,#00ffe6 148.5px,#00ffd8 149.5px,#00ffb2 150.5px,#00ff73 155.5px,#00ff79 156.5px,#00ff69 161.5px,#00ff4a 162.5px,#00ff47 167.5px,#00ff5c 168.5px,#00ff5e 173.5px,#00ff35 174.5px,#00ff5b 178.5px,#00ff5f 180.5px,#00ff6f 181.5px,#00ff9a 197.5px,#00ffaf 200.5px,#00ff97 216.5px,#00ff86 219.5px,#00ff59 235.5px,#00ff41 238.5px,#00ff03 254.5px,#fff 255.5px,#fff 260.5px,#00ff04 261.5px,#00ff04 283.5px,#49ff00 284.5px,#98ff00 300.5px,#e4ff00 306.5px,#b4ff00 307.5px,#e8fa00 312.5px,#ffec00 317.5px,#ffb600 330.5px,#ffc200 331.5px,#ff9c00 340.5px,#ff9000 354.5px)"></i><i style="background:linear-gradient(#00ff43 0.5px,#00ff43 5.5px,#65ff00 6.5px,#65ff00 8.5px,#00ff43 9.5px,#00ff43 11.5px,#00ff05 12.5px,#00ff05 14.5px,#00ff28 15.5px,#00ff28 17.5px,#00ff43 18.5px,#00ff43 20.5px,#97ff00 21.5px,#97ff00 23.5px,#00ff34 24.5px,#00ff3d 28.5px,#00ff48 29.5px,#00ff91 32.5px,#00ff7f 33.5px,#0fc 36.5px,#00ffe6 38.5px,#00e1ff 39.5px,#00d3ff 41.5px,#00ffe1 42.5px,#00fff8 44.5px,#00acff 45.5px,#0096ff 48.5px,#0081ff 50.5px,#04f 86.5px,#0000f8 87.5px,#0001ff 119.5px,#0031ff 120.5px,#0057ff 122.5px,#003fff 123.5px,#0062ff 125.5px,#006dff 129.5px,#006eff 133.5px,#00e3ff 134.5px,#00e3ff 138.5px,#007aff 139.5px,#00a0ff 140.5px,#00e7ff 141.5px,#00fffb 142.5px,#00fff1 143.5px,#00faff 144.5px,#00fffa 146.5px,#00ffd6 149.5px,#00ffa5 152.5px,#00ff86 153.5px,#00ff6c 155.5px,#00ff76 156.5px,#00ff60 161.5px,#00ff75 162.5px,#00ff6c 170.5px,#00ff51 171.5px,#00ff52 173.5px,#00ff69 174.5px,#00ff69 180.5px,#00ff9e 197.5px,#00ffa4 204.5px,#00ff8c 216.5px,#00ff79 217.5px,#00ff32 239.5px,#05ff00 251.5px,#16ff00 254.5px,#fff 255.5px,#fff 260.5px,#2dff00 261.5px,#2dff00 283.5px,#1cff00 284.5px,#5dff00 297.5px,#97ff00 300.5px,#d9ff00 302.5px,#ffef00 305.5px,#ffb600 318.5px,#ff8a00 336.5px,#ff8100 354.5px)"></i><i style="background:linear-gradient(#00ff21 0.5px,#00ff21 2.5px,#00ff4a 3.5px,#00ff4a 8.5px,#00ff30 9.5px,#00ff30 11.5px,#2fff00 12.5px,#2fff00 14.5px,#00ff3c 15.5px,#00ff3c 17.5px,#00ff4a 19.5px,#00ff4a 20.5px,#82ff00 21.5px,#82ff00 23.5px,#00ff46 24.5px,#00ff52 28.5px,#00ff80 31.5px,#00ff98 32.5px,#00ff54 33.5px,#00ff90 35.5px,#00ffd0 36.5px,#00ffe7 38.5px,#00f0ff 39.5px,#009fff 47.5px,#00aeff 48.5px,#0081ff 52.5px,#0049ff 86.5px,#0000f7 87.5px,#0000fb 120.5px,#0008ff 121.5px,#001fff 122.5px,#007cff 123.5px,#009fff 125.5px,#0086ff 126.5px,#008cff 128.5px,#00b5ff 129.5px,#00b6ff 131.5px,#006aff 132.5px,#006aff 133.5px,#00e3ff 134.5px,#00e3ff 138.5px,#006fff 139.5px,#00c7ff 141.5px,#00faff 143.5px,#00ffe9 146.5px,#00fff5 147.5px,#00ffdf 149.5px,#00ffb8 151.5px,#0f8 155.5px,#00ff6f 156.5px,#0f6 158.5px,#00ff6f 160.5px,#00ff64 167.5px,#00ff68 170.5px,#00ff50 174.5px,#00ff6b 185.5px,#00ff90 196.5px,#00ff98 202.5px,#00ff7b 216.5px,#00ff62 221.5px,#00ff31 235.5px,#00ff32 237.5px,#07ff00 247.5px,#35ff00 254.5px,#fff 255.5px,#fff 260.5px,#16ff00 261.5px,#16ff00 283.5px,#05ff00 284.5px,#38ff00 294.5px,#70ff00 297.5px,#e4fe00 300.5px,#fbf600 301.5px,#ffc800 306.5px,#ffaf00 316.5px,#ffa400 330.5px,#ff8700 331.5px,#ff6f00 342.5px,#ff6d00 354.5px)"></i><i style="background:linear-gradient(#00ff32 0.5px,#00ff32 2.5px,#00ff7d 3.5px,#00ff7d 8.5px,#00ff48 9.5px,#00ff48 11.5px,#1eff00 12.5px,#1eff00 14.5px,#00ff7d 15.5px,#00ff7d 23.5px,#00ff4b 24.5px,#00ff4d 26.5px,#00ff81 30.5px,#00ffad 32.5px,#00ffb2 33.5px,#0fd 35.5px,#00fff9 38.5px,#00e6ff 41.5px,#00bfff 44.5px,#00a1ff 45.5px,#0083ff 48.5px,#0048ff 86.5px,#0000f5 87.5px,#0000f8 113.5px,#0002ff 116.5px,#0014ff 118.5px,#0017ff 119.5px,#0039ff 120.5px,#005fff 122.5px,#005cff 123.5px,#007fff 125.5px,#00dfff 126.5px,#00e5ff 128.5px,#0087ff 129.5px,#08f 131.5px,#006dff 132.5px,#006dff 133.5px,#00e3ff 134.5px,#00e3ff 138.5px,#0087ff 139.5px,#00b4ff 140.5px,#00c2ff 141.5px,#00f5ff 143.5px,#00ffd0 144.5px,#0fb 148.5px,#00ffad 149.5px,#00ffcb 150.5px,#00ff67 157.5px,#00ff54 167.5px,#00ff40 168.5px,#00ff3e 170.5px,#00ff52 171.5px,#00ff50 178.5px,#00ff54 180.5px,#00ff63 182.5px,#00ff86 194.5px,#00ff9c 200.5px,#00ff80 215.5px,#00ff7c 216.5px,#00ff8b 217.5px,#00ff45 235.5px,#00ff14 236.5px,#0aff00 240.5px,#70ff00 252.5px,#7cff00 254.5px,#fff 255.5px,#fff 260.5px,#00ff10 261.5px,#00ff10 283.5px,#0bff00 289.5px,#36ff00 293.5px,#6eff00 295.5px,#e7fe00 298.5px,#fdf800 299.5px,#ffce00 304.5px,#ffc600 306.5px,#ffb100 308.5px,#ffa000 317.5px,#ff9200 333.5px,#ff7e00 346.5px,#ff7a00 354.5px)"></i><i style="background:linear-gradient(#00ff7b 0.5px,#00ff7b 2.5px,#00ff1b 3.5px,#00ff1b 5.5px,#00ff06 6.5px,#00ff06 8.5px,#00ff23 9.5px,#00ff23 11.5px,#00ff6f 12.5px,#00ff6f 14.5px,#00ff7b 16.5px,#00ff7b 20.5px,#0fff00 21.5px,#0fff00 23.5px,#00ff8d 24.5px,#00ff9d 28.5px,#00ffe2 32.5px,#00fff7 33.5px,#0cf 35.5px,#09f 39.5px,#0086ff 44.5px,#00abff 45.5px,#0084ff 48.5px,#0046ff 86.5px,#0000f3 87.5px,#0000f8 113.5px,#0000f7 116.5px,#0014ff 118.5px,#0025ff 120.5px,#004bff 122.5px,#0050ff 123.5px,#0073ff 125.5px,#0061ff 126.5px,#006eff 133.5px,#00e3ff 134.5px,#00e3ff 138.5px,#007bff 139.5px,#00a2ff 140.5px,#00fffa 141.5px,#00ffdf 143.5px,#00fff8 144.5px,#0fe 148.5px,#00ffb8 152.5px,#00ff94 153.5px,#00ff79 155.5px,#00ff6d 161.5px,#00ff74 164.5px,#00ff50 165.5px,#00ff4d 167.5px,#00ff6f 168.5px,#00ff6c 170.5px,#0f4 171.5px,#00ff48 173.5px,#00ff60 174.5px,#00ff7c 191.5px,#00ffa1 199.5px,#00ff85 215.5px,#0f3 233.5px,#02ff05 238.5px,#82ff00 254.5px,#fff 255.5px,#fff 260.5px,#00ff1c 261.5px,#00ff1c 283.5px,#15ff00 284.5px,#3dff00 289.5px,#83ff00 292.5px,#edfd00 295.5px,#fff600 296.5px,#ffcd00 301.5px,#ffa400 314.5px,#ff9500 332.5px,#ff6f00 342.5px,#ff5700 354.5px)"></i><i style="background:linear-gradient(#00ff3b 0.5px,#00ff3b 2.5px,#00ff2b 3.5px,#00ff2b 5.5px,#fbff00 6.5px,#fbff00 8.5px,#bf0 9.5px,#bf0 11.5px,#00ff3b 12.5px,#00ff3b 20.5px,#5eff00 21.5px,#5eff00 23.5px,#2fff00 24.5px,#2aff00 27.5px,#00ff05 29.5px,#00ff46 30.5px,#00ff7c 32.5px,#00ffa4 33.5px,#00ffcd 35.5px,#00fff2 41.5px,#00ffe1 42.5px,#00fffd 44.5px,#00d4ff 45.5px,#00aeff 47.5px,#0074ff 49.5px,#0071ff 55.5px,#0040ff 86.5px,#0000f8 87.5px,#0004ff 114.5px,#0014ff 116.5px,#0000fd 117.5px,#0000fb 119.5px,#0024ff 120.5px,#004aff 122.5px,#009eff 123.5px,#00c1ff 125.5px,#0082ff 126.5px,#08f 128.5px,#00adff 129.5px,#00aeff 131.5px,#006fff 132.5px,#006eff 133.5px,#00e3ff 134.5px,#00e3ff 138.5px,#008dff 139.5px,#00b0ff 140.5px,#00baff 141.5px,#00ebff 143.5px,#00ffde 144.5px,#00ffd6 146.5px,#00fffa 147.5px,#00ffe5 149.5px,#00ffc0 150.5px,#00ffa8 152.5px,#00ffb6 153.5px,#00ff9e 155.5px,#00ff79 156.5px,#00ff72 158.5px,#00ff60 159.5px,#00ff63 164.5px,#00ff82 165.5px,#00ff7d 170.5px,#00ff50 171.5px,#0f7 179.5px,#00ff79 180.5px,#00ff56 181.5px,#00ff76 192.5px,#00ff93 197.5px,#00ff9b 201.5px,#00ff81 215.5px,#00ff48 228.5px,#06ff03 238.5px,#8bff00 254.5px,#fff 255.5px,#fff 260.5px,#00ff03 261.5px,#00ff03 283.5px,#35ff00 284.5px,#60ff00 287.5px,#f3fc00 292.5px,#ffea00 294.5px,#ffb200 305.5px,#ffae00 306.5px,#ffc900 307.5px,#ffa100 320.5px,#ff7f00 326.5px,#ff4e00 339.5px,#ff4b00 354.5px)"></i><i style="background:linear-gradient(#00ff01 0.5px,#00ff01 2.5px,#00ff10 3.5px,#00ff10 5.5px,#00ff03 7.5px,#00ff03 8.5px,#9eff00 9.5px,#9eff00 11.5px,#00ff46 12.5px,#00ff46 23.5px,#00ff3c 25.5px,#00ff54 28.5px,#00ff64 29.5px,#00ff0b 30.5px,#00ff4b 32.5px,#00ffc4 33.5px,#00ffe8 35.5px,#00ffcb 36.5px,#00fff8 41.5px,#00d0ff 42.5px,#00b2ff 44.5px,#00b8ff 45.5px,#007fff 49.5px,#04f 86.5px,#0000f7 87.5px,#0007ff 119.5px,#0000fc 120.5px,#02f 122.5px,#006cff 123.5px,#008fff 125.5px,#00afff 126.5px,#00b5ff 128.5px,#0067ff 129.5px,#0069ff 131.5px,#007aff 132.5px,#007aff 133.5px,#00e3ff 134.5px,#00e3ff 138.5px,#0078ff 139.5px,#00a2ff 140.5px,#00e7ff 141.5px,#00fffb 142.5px,#00ffe4 146.5px,#00fff8 147.5px,#0fb 152.5px,#00ff94 154.5px,#0f8 155.5px,#00ff67 156.5px,#00ff5f 158.5px,#00ff83 159.5px,#00ff80 161.5px,#00ff5d 162.5px,#00ff5b 164.5px,#00ff7c 165.5px,#00ff6d 170.5px,#0f5 171.5px,#00ff57 173.5px,#00ff6a 176.5px,#00ff73 180.5px,#00ff5b 181.5px,#0f7 191.5px,#00ff97 196.5px,#00ff9a 203.5px,#00ff83 215.5px,#00ff29 230.5px,#02ff04 234.5px,#47ff00 238.5px,#d2ff00 254.5px,#fff 255.5px,#fff 260.5px,#0dff00 261.5px,#13ff00 283.5px,#16ff00 284.5px,#5fff00 287.5px,#d3ff00 291.5px,#f3fe00 293.5px,#ffe200 300.5px,#ffa500 313.5px,#ff6000 320.5px,#ff5200 330.5px,#ff5600 332.5px,#ff4600 342.5px,#ff4900 354.5px)"></i><i style="background:linear-gradient(#5f0 0.5px,#5f0 2.5px,#baff00 3.5px,#baff00 5.5px,#5f0 6.5px,#5f0 8.5px,#00ff09 9.5px,#00ff09 11.5px,#72ff00 12.5px,#72ff00 14.5px,#4cff00 15.5px,#4cff00 17.5px,#00ff2a 18.5px,#00ff2a 20.5px,#00ff18 21.5px,#00ff18 23.5px,#2aff00 24.5px,#1dff00 26.5px,#00ff0a 27.5px,#00ff45 30.5px,#00ff7f 32.5px,#00ff78 33.5px,#00ffac 36.5px,#00ffbf 38.5px,#00ffe2 39.5px,#00fff4 41.5px,#00ffe4 42.5px,#00f8ff 44.5px,#00beff 45.5px,#0086ff 49.5px,#0047ff 86.5px,#0000f8 87.5px,#0000f8 115.5px,#0000fe 120.5px,#0024ff 122.5px,#004eff 123.5px,#0071ff 125.5px,#07f 128.5px,#0067ff 129.5px,#0069ff 131.5px,#00b6ff 132.5px,#00b6ff 133.5px,#00e3ff 134.5px,#00e3ff 138.5px,#00a7ff 139.5px,#00d4ff 140.5px,#00d1ff 141.5px,#00f0ff 142.5px,#00fffc 143.5px,#00fff2 146.5px,#00ffd8 147.5px,#00ffa1 152.5px,#00ffa5 153.5px,#00ff89 155.5px,#00ff5c 156.5px,#00ff54 158.5px,#00ff71 159.5px,#00ff6f 161.5px,#00ff5c 162.5px,#00ff5a 164.5px,#00ff6a 165.5px,#00ff5b 173.5px,#0f5 175.5px,#00ff78 190.5px,#00ff9a 195.5px,#0f9 198.5px,#00ffa6 199.5px,#00ff8d 215.5px,#00ff7a 220.5px,#00ff34 230.5px,#06ff00 235.5px,#70ff00 236.5px,#9bff00 239.5px,#fcfe00 250.5px,#fff300 254.5px,#fff 255.5px,#fff 260.5px,#20ff00 261.5px,#38ff00 283.5px,#53ff00 284.5px,#adff00 291.5px,#f5fd00 300.5px,#ffeb00 306.5px,#fbf700 307.5px,#ffe400 312.5px,#ffb300 318.5px,#ff9500 330.5px,#f70 334.5px,#ff6100 343.5px,#f50 354.5px)"></i><i style="background:linear-gradient(#2eff00 0.5px,#2eff00 2.5px,#94ff00 3.5px,#94ff00 5.5px,#00ff16 6.5px,#00ff16 14.5px,#00ff0b 16.5px,#00ff0b 17.5px,#1eff00 18.5px,#1eff00 20.5px,#00ff16 21.5px,#00ff16 23.5px,#90ff00 24.5px,#7fff00 26.5px,#00ff31 27.5px,#00ff6c 30.5px,#00ffce 34.5px,#00fff9 39.5px,#00f0ff 41.5px,#00fff1 42.5px,#00fefe 43.5px,#00c4ff 45.5px,#08f 49.5px,#0047ff 86.5px,#0000f3 87.5px,#0000f4 116.5px,#000bff 118.5px,#000dff 119.5px,#0056ff 120.5px,#007dff 122.5px,#05f 123.5px,#0078ff 125.5px,#0094ff 126.5px,#009aff 128.5px,#0070ff 129.5px,#0071ff 131.5px,#00a9ff 132.5px,#00a9ff 133.5px,#00e3ff 134.5px,#00e3ff 138.5px,#008bff 139.5px,#00bcff 140.5px,#00fbff 142.5px,#00ffe4 145.5px,#00ffe0 146.5px,#00fff2 147.5px,#00ff67 157.5px,#0f6 158.5px,#00ff4a 159.5px,#00ff48 161.5px,#00ff5e 162.5px,#00ff58 167.5px,#00ff40 168.5px,#00ff3d 170.5px,#0f5 171.5px,#00ff54 180.5px,#00ff7a 190.5px,#0f9 195.5px,#00ff96 198.5px,#00ffa0 200.5px,#00ff8c 214.5px,#00ff7e 216.5px,#00ff64 218.5px,#00ff06 230.5px,#30ff00 233.5px,#92ff00 238.5px,#fffd00 251.5px,#fff500 254.5px,#fff 255.5px,#fff 260.5px,#68ff00 261.5px,#9fff00 283.5px,#91ff00 284.5px,#d4ff00 306.5px,#fff900 307.5px,#ffd500 330.5px,#ffe800 331.5px,#ffb300 351.5px,#ffa800 354.5px)"></i><i style="background:linear-gradient(#26ff00 0.5px,#26ff00 2.5px,#32ff00 4.5px,#26ff00 8.5px,#ffbd00 9.5px,#ffbd00 11.5px,#26ff00 12.5px,#2eff00 17.5px,#a6ff00 18.5px,#a6ff00 20.5px,#6bff00 21.5px,#6bff00 23.5px,#00ff7d 24.5px,#00ff8a 27.5px,#00ffab 29.5px,#00fff5 32.5px,#00f6ff 33.5px,#0cf 35.5px,#00ecff 36.5px,#00d9ff 38.5px,#00a6ff 39.5px,#0087ff 44.5px,#0093ff 45.5px,#0082ff 48.5px,#0086ff 50.5px,#004bff 86.5px,#0000f1 87.5px,#0000f5 113.5px,#00f 116.5px,#0013ff 117.5px,#001aff 119.5px,#00f 120.5px,#0025ff 122.5px,#0081ff 123.5px,#00a4ff 125.5px,#0063ff 126.5px,#0069ff 128.5px,#0084ff 129.5px,#0085ff 131.5px,#0097ff 132.5px,#0097ff 133.5px,#00e3ff 134.5px,#00e3ff 138.5px,#0092ff 139.5px,#00bcff 140.5px,#00c2ff 141.5px,#00f5ff 143.5px,#00fff6 146.5px,#00ffda 149.5px,#00ff75 155.5px,#00ff4d 164.5px,#00ff3d 172.5px,#00ff31 174.5px,#00ff52 178.5px,#0f7 189.5px,#00ff98 194.5px,#00ff81 214.5px,#00ff05 230.5px,#54ff00 235.5px,#46ff00 236.5px,#83ff00 241.5px,#e7ff00 254.5px,#fff 255.5px,#fff 260.5px,#62ff00 261.5px,#96ff00 283.5px,#d2ff00 284.5px,#fff700 328.5px,#fff300 330.5px,#f4ff00 331.5px,#ffec00 347.5px,#ffe200 354.5px)"></i><i style="background:linear-gradient(#00ff5a 0.5px,#00ff5a 2.5px,#00ff0a 3.5px,#00ff0a 5.5px,#00ff5a 6.5px,#00ff5a 8.5px,#00ff17 9.5px,#00ff17 11.5px,#00ff5a 12.5px,#00ff5a 14.5px,#00ff2b 15.5px,#00ff2b 17.5px,#00ff5a 18.5px,#00ff5a 20.5px,#97ff00 21.5px,#97ff00 23.5px,#00ff2b 24.5px,#0f4 27.5px,#0fb 32.5px,#00ffce 34.5px,#00ffd9 35.5px,#00ffb6 36.5px,#00fff4 41.5px,#00c8ff 42.5px,#008fff 48.5px,#004dff 85.5px,#004cff 86.5px,#0000f6 87.5px,#0000f9 113.5px,#0001ff 116.5px,#000fff 119.5px,#0006ff 120.5px,#002cff 122.5px,#0067ff 123.5px,#008aff 125.5px,#006bff 126.5px,#0071ff 128.5px,#00abff 129.5px,#00acff 131.5px,#006dff 132.5px,#006dff 133.5px,#00e3ff 134.5px,#00e3ff 138.5px,#00a5ff 139.5px,#0cf 140.5px,#0bf 141.5px,#00edff 143.5px,#0fd 144.5px,#00ffd6 146.5px,#00fff8 147.5px,#00ffbc 152.5px,#00ff9b 153.5px,#00ff82 155.5px,#00ff4e 156.5px,#00ff46 158.5px,#00ff7c 159.5px,#00ff79 161.5px,#00ff61 162.5px,#00ff5f 164.5px,#00ff71 165.5px,#00ff6f 167.5px,#00ff5d 168.5px,#00ff5a 170.5px,#00ff72 171.5px,#00ff70 173.5px,#00ff62 174.5px,#00ff84 188.5px,#00ffa3 193.5px,#00ff80 214.5px,#00ff70 216.5px,#00ff59 217.5px,#07ff00 228.5px,#86ff00 235.5px,#6cff00 236.5px,#beff00 243.5px,#fffe00 253.5px,#fffd00 254.5px,#fff 255.5px,#fff 260.5px,#9aff00 261.5px,#c3ff00 282.5px,#c3ff00 283.5px,#d4ff00 284.5px,#e0ff00 306.5px,#a5ff00 307.5px,#b6ff00 324.5px,#cbff00 330.5px,#dcff00 332.5px,#fffb00 349.5px,#fff700 354.5px)"></i><i style="background:linear-gradient(#00ff57 0.5px,#00ff57 5.5px,#61ff00 6.5px,#61ff00 8.5px,#00ff26 9.5px,#00ff26 11.5px,#00ff49 12.5px,#00ff49 14.5px,#00ff2f 15.5px,#00ff2f 17.5px,#1f0 18.5px,#1f0 20.5px,#00ff57 21.5px,#00ff59 23.5px,#00ff2d 24.5px,#00ff3c 26.5px,#00ff03 27.5px,#00ff34 29.5px,#00ff91 30.5px,#00ffd6 33.5px,#00ffed 35.5px,#00ffc9 36.5px,#00ffdc 38.5px,#00f1ff 39.5px,#00d2ff 41.5px,#00e9ff 42.5px,#009eff 46.5px,#0085ff 50.5px,#004bff 86.5px,#0000f3 87.5px,#0000f6 116.5px,#000eff 119.5px,#0000fb 120.5px,#0020ff 122.5px,#005bff 125.5px,#0063ff 128.5px,#0094ff 129.5px,#008dff 133.5px,#00e3ff 134.5px,#00e3ff 138.5px,#00b7ff 139.5px,#00e3ff 140.5px,#00e2ff 141.5px,#00fffe 142.5px,#00fff3 143.5px,#00ffd7 144.5px,#00ffcf 146.5px,#00fff2 147.5px,#00ffb5 152.5px,#00ff93 153.5px,#00ff78 155.5px,#00ff7e 156.5px,#00ff72 161.5px,#00ff52 162.5px,#00ff50 164.5px,#00ff63 165.5px,#00ff60 167.5px,#00ff69 169.5px,#00ff64 173.5px,#00ff51 174.5px,#00ff64 180.5px,#00ff74 182.5px,#00ff89 188.5px,#00ffa3 193.5px,#00ff7e 214.5px,#00ff05 227.5px,#1bff00 229.5px,#84ff00 235.5px,#74ff00 236.5px,#cfff00 244.5px,#fffd00 253.5px,#fffc00 254.5px,#fff 255.5px,#fff 260.5px,#d3ff00 261.5px,#f3ff00 282.5px,#f3ff00 283.5px,#c0ff00 284.5px,#c2ff00 306.5px,#cfff00 308.5px,#dfff00 323.5px,#f8ff00 330.5px,#f3ff00 332.5px,#fff900 344.5px,#fff100 354.5px)"></i><i style="background:linear-gradient(#00ff3b 0.5px,#00ff3b 2.5px,#00ff0a 3.5px,#00ff0a 5.5px,#00ff3b 6.5px,#00ff3b 11.5px,#2cff00 12.5px,#2cff00 14.5px,#00ff1b 15.5px,#00ff1b 17.5px,#45ff00 18.5px,#45ff00 20.5px,#00ff3b 21.5px,#00ff3d 23.5px,#00ff52 24.5px,#00ff73 27.5px,#00ffe4 32.5px,#00fbff 35.5px,#00feff 37.5px,#00e8ff 40.5px,#00d8ff 41.5px,#00dcff 42.5px,#009bff 45.5px,#007dff 53.5px,#0049ff 86.5px,#0000f4 87.5px,#0000f6 113.5px,#000fff 117.5px,#0015ff 119.5px,#003fff 120.5px,#06f 122.5px,#00c3ff 123.5px,#00e6ff 125.5px,#009aff 126.5px,#00a0ff 128.5px,#008aff 129.5px,#008bff 131.5px,#006eff 132.5px,#006eff 133.5px,#00e3ff 134.5px,#00e3ff 138.5px,#006fff 139.5px,#00e0ff 142.5px,#0ff 144.5px,#00fff7 146.5px,#00ffd4 147.5px,#0f9 152.5px,#00ff67 155.5px,#00ff74 156.5px,#00ff5c 160.5px,#00ff5a 161.5px,#00ff45 162.5px,#00ff43 164.5px,#0f5 165.5px,#00ff46 170.5px,#00ff5c 171.5px,#00ff52 177.5px,#00ff5a 180.5px,#00ff6a 182.5px,#00ff87 188.5px,#00ff9c 192.5px,#00ff74 214.5px,#01ff01 226.5px,#80ff00 233.5px,#fbff00 243.5px,#ffeb00 254.5px,#fff 255.5px,#fff 260.5px,#f5ff00 261.5px,#fffb00 283.5px,#d8ff00 284.5px,#cfff00 302.5px,#d0ff00 306.5px,#e4ff00 307.5px,#ef0 321.5px,#fffa00 329.5px,#ffed00 354.5px)"></i><i style="background:linear-gradient(#4fff00 0.5px,#4fff00 2.5px,#00ff37 3.5px,#00ff37 5.5px,#00ff4f 6.5px,#00ff4f 8.5px,#00ff01 9.5px,#00ff01 11.5px,#2f0 12.5px,#2f0 14.5px,#00ff25 15.5px,#00ff25 17.5px,#00ff4f 18.5px,#00ff4f 20.5px,#18ff00 21.5px,#14ff00 23.5px,#00ff06 24.5px,#00ff1b 26.5px,#23ff00 27.5px,#00ff08 28.5px,#00ff27 29.5px,#00ff5c 30.5px,#00ff91 32.5px,#00ff48 33.5px,#00ff75 35.5px,#00ffde 36.5px,#0fe 38.5px,#00ffde 39.5px,#00fffa 41.5px,#00d7ff 42.5px,#00b4ff 44.5px,#0083ff 50.5px,#0049ff 86.5px,#0000f5 87.5px,#0000f8 113.5px,#0008ff 116.5px,#0000fd 120.5px,#0023ff 122.5px,#005fff 125.5px,#006eff 133.5px,#00e3ff 134.5px,#00e3ff 138.5px,#0087ff 139.5px,#00adff 140.5px,#00bcff 141.5px,#0ef 143.5px,#00fffb 144.5px,#0fe 148.5px,#00ffe1 149.5px,#00ffbd 150.5px,#00ffa3 152.5px,#00ff7b 154.5px,#00ff6e 155.5px,#00ff69 158.5px,#00ff7c 159.5px,#00ff7a 161.5px,#00ff52 162.5px,#00ff50 164.5px,#00ff73 165.5px,#00ff71 167.5px,#00ff54 168.5px,#00ff52 170.5px,#00ff5d 172.5px,#00ff5c 173.5px,#00ff6c 174.5px,#00ff6c 180.5px,#00ff65 182.5px,#00ff8b 188.5px,#00ff97 192.5px,#00ff75 214.5px,#00ff63 216.5px,#00ff42 218.5px,#02ff01 225.5px,#89ff00 232.5px,#b0ff00 235.5px,#98ff00 236.5px,#f5ff00 244.5px,#fff400 254.5px,#fff 255.5px,#fff 260.5px,#cfff00 261.5px,#dfff00 281.5px,#cbff00 299.5px,#cdff00 320.5px,#f6ff00 330.5px,#ffef00 332.5px,#ffe100 354.5px)"></i><i style="background:linear-gradient(#74ff00 0.5px,#74ff00 2.5px,#00ff4f 3.5px,#00ff4f 20.5px,#00ff38 21.5px,#00ff3b 23.5px,#00ff1c 24.5px,#00ff34 26.5px,#50ff00 27.5px,#19ff00 28.5px,#00ff15 29.5px,#00ff43 30.5px,#00ff7c 32.5px,#00ffc6 33.5px,#00ffd9 35.5px,#00ffce 36.5px,#00ffe2 38.5px,#00f4ff 39.5px,#00b1ff 43.5px,#008dff 48.5px,#004eff 86.5px,#0000f6 87.5px,#0000fa 113.5px,#0012ff 116.5px,#002eff 117.5px,#04f 119.5px,#0000fc 120.5px,#02f 122.5px,#005cff 123.5px,#0092ff 126.5px,#0098ff 128.5px,#006bff 129.5px,#0072ff 133.5px,#00e3ff 134.5px,#00e3ff 138.5px,#006dff 139.5px,#00dbff 142.5px,#00fff8 144.5px,#0fe 148.5px,#00ffb7 152.5px,#0f9 153.5px,#00ff64 157.5px,#00ff63 158.5px,#00ff7a 159.5px,#00ff71 167.5px,#00ff63 169.5px,#00ff68 173.5px,#00ff4b 174.5px,#00ff68 179.5px,#00ff6a 180.5px,#00ff5c 181.5px,#00ff7c 186.5px,#00ff94 190.5px,#00ff87 198.5px,#00ff8c 201.5px,#00ff6e 214.5px,#00ff5c 216.5px,#00ff62 217.5px,#02ff01 227.5px,#61ff00 232.5px,#84ff00 235.5px,#d2ff00 236.5px,#fffe00 240.5px,#ffe400 251.5px,#ffe100 254.5px,#fff 255.5px,#fff 260.5px,#b7ff00 261.5px,#c4ff00 280.5px,#bcff00 283.5px,#bfff00 286.5px,#acff00 299.5px,#acff00 306.5px,#c3ff00 307.5px,#c9ff00 320.5px,#f3ff00 330.5px,#ffe500 331.5px,#ffd600 354.5px)"></i><i style="background:linear-gradient(#00ff21 0.5px,#00ff21 2.5px,#2bff00 3.5px,#2bff00 5.5px,#00ff51 6.5px,#00ff51 8.5px,#00ff67 9.5px,#00ff6c 23.5px,#00ff3d 24.5px,#0f6 27.5px,#0f9 29.5px,#00ffcf 30.5px,#00fff3 32.5px,#00ff9b 33.5px,#00ffbd 35.5px,#00fff3 36.5px,#00fbff 38.5px,#00c3ff 39.5px,#00b2ff 41.5px,#00b8ff 42.5px,#008dff 46.5px,#0047ff 86.5px,#0000f7 87.5px,#0000f5 116.5px,#0007ff 119.5px,#0036ff 122.5px,#0039ff 123.5px,#005cff 125.5px,#09f 126.5px,#009fff 128.5px,#0094ff 130.5px,#0095ff 131.5px,#0082ff 132.5px,#0082ff 133.5px,#00e3ff 134.5px,#00e3ff 138.5px,#0091ff 139.5px,#00baff 140.5px,#00b9ff 141.5px,#00eaff 143.5px,#00fffd 146.5px,#00ffe1 147.5px,#0fc 149.5px,#00ffd7 150.5px,#00ff97 155.5px,#00ff7e 156.5px,#00ff76 158.5px,#00ff7c 161.5px,#00ff74 164.5px,#00ff3b 165.5px,#00ff38 167.5px,#00ff56 168.5px,#00ff54 170.5px,#00ff5d 172.5px,#00ff5d 173.5px,#00ff6f 174.5px,#00ff6a 179.5px,#00ff75 183.5px,#00ff9b 188.5px,#00ff83 208.5px,#00ff64 215.5px,#04ff01 225.5px,#86ff00 232.5px,#a8ff00 235.5px,#e4ff00 236.5px,#fffa00 240.5px,#ffde00 254.5px,#fff 255.5px,#fff 260.5px,#cdff00 261.5px,#d7ff00 280.5px,#cfff00 283.5px,#d2ff00 286.5px,#bcff00 300.5px,#bcff00 306.5px,#d5ff00 307.5px,#daff00 320.5px,#fffd00 330.5px,#e8ff00 331.5px,#fffe00 345.5px,#fff900 354.5px)"></i><i style="background:linear-gradient(#00ff3c 0.5px,#00ff3c 2.5px,#0f7 3.5px,#0f7 5.5px,#00ff20 6.5px,#00ff20 8.5px,#0f7 9.5px,#0f7 14.5px,#00ff4d 15.5px,#00ff4d 17.5px,#0f7 18.5px,#00ff7d 23.5px,#00ff59 24.5px,#00ff76 26.5px,#00ff5f 27.5px,#00ff94 29.5px,#00ffc1 30.5px,#00ffe5 32.5px,#00fffb 35.5px,#00ffe0 36.5px,#00fff5 38.5px,#0cf 41.5px,#008eff 46.5px,#0048ff 85.5px,#0047ff 86.5px,#0000f6 87.5px,#0000fa 113.5px,#0030ff 116.5px,#0019ff 117.5px,#02f 119.5px,#0042ff 120.5px,#0068ff 122.5px,#004cff 123.5px,#006fff 125.5px,#00c8ff 126.5px,#00ceff 128.5px,#0094ff 129.5px,#0096ff 131.5px,#0071ff 132.5px,#0071ff 133.5px,#00e3ff 134.5px,#00e3ff 138.5px,#006cff 139.5px,#0090ff 140.5px,#00fff5 141.5px,#00ffda 143.5px,#00fff9 144.5px,#00fff1 146.5px,#00ffd0 147.5px,#0fb 149.5px,#00ffd0 150.5px,#00ffb5 152.5px,#00ff90 153.5px,#00ff75 155.5px,#00ff89 156.5px,#00ff80 158.5px,#00ff70 160.5px,#00ff79 164.5px,#00ff73 167.5px,#00ff5f 168.5px,#00ff5c 170.5px,#00ff34 171.5px,#00ff3b 173.5px,#00ff52 174.5px,#00ff63 180.5px,#00ff9b 186.5px,#00ff97 194.5px,#00ff7a 209.5px,#00ff58 215.5px,#03ff01 224.5px,#a0ff00 233.5px,#b4ff00 235.5px,#e4ff00 236.5px,#fffb00 240.5px,#ffe200 254.5px,#fff 255.5px,#fff 260.5px,#b1ff00 261.5px,#b6ff00 281.5px,#b1ff00 283.5px,#deff00 284.5px,#c2ff00 300.5px,#c2ff00 306.5px,#b7ff00 308.5px,#beff00 321.5px,#e7ff00 330.5px,#abff00 331.5px,#d2ff00 354.5px)"></i><i style="background:linear-gradient(#00ff28 0.5px,#00ff27 5.5px,#00ff6e 6.5px,#00ff6e 14.5px,#2fff00 15.5px,#2fff00 17.5px,#00ff58 18.5px,#00ff58 20.5px,#00ff6f 21.5px,#00ff6f 24.5px,#00ffa3 27.5px,#00fffa 31.5px,#00ceff 35.5px,#0094ff 43.5px,#0049ff 85.5px,#0048ff 86.5px,#0000f4 87.5px,#0000f8 113.5px,#0017ff 116.5px,#001aff 119.5px,#0000fe 120.5px,#0024ff 122.5px,#006cff 123.5px,#008fff 125.5px,#06f 126.5px,#006cff 128.5px,#00a3ff 129.5px,#00a4ff 131.5px,#008bff 132.5px,#008bff 133.5px,#00e3ff 134.5px,#00e3ff 138.5px,#0065ff 139.5px,#0085ff 140.5px,#00bcff 141.5px,#00e9ff 143.5px,#00dfff 144.5px,#00ecff 146.5px,#00ffd8 147.5px,#00ffc5 149.5px,#0fc 150.5px,#00ff82 157.5px,#00ff81 158.5px,#00ff9d 159.5px,#00ff9b 161.5px,#00ff8d 163.5px,#00ff8c 164.5px,#0f6 165.5px,#00ff60 167.5px,#00ff8a 168.5px,#0f7 179.5px,#00ffa0 187.5px,#00ff75 207.5px,#00ff37 216.5px,#00ff48 217.5px,#02ff02 224.5px,#97ff00 233.5px,#af0 235.5px,#efff00 236.5px,#fff900 240.5px,#ffe200 254.5px,#fff 255.5px,#fff 260.5px,#d2ff00 261.5px,#d5ff00 281.5px,#cfff00 283.5px,#aeff00 284.5px,#90ff00 301.5px,#90ff00 306.5px,#d8ff00 307.5px,#dfff00 321.5px,#fffd00 329.5px,#fe0 354.5px)"></i><i style="background:linear-gradient(#00ff2d 0.5px,#00ff2d 2.5px,#00ff38 4.5px,#00ff38 8.5px,#00ff27 9.5px,#00ff27 11.5px,#00ff35 12.5px,#00ff35 14.5px,#4dff00 15.5px,#4dff00 17.5px,#00ff38 18.5px,#00ff43 23.5px,#00ff13 24.5px,#00ff39 26.5px,#00ff92 27.5px,#00ffc5 29.5px,#00ffb9 30.5px,#00ffdb 32.5px,#0fe 35.5px,#00ebff 36.5px,#00d7ff 38.5px,#00bfff 39.5px,#0093ff 45.5px,#007cff 56.5px,#004eff 86.5px,#0000f5 87.5px,#0000f7 116.5px,#001cff 117.5px,#002bff 119.5px,#0028ff 120.5px,#004cff 122.5px,#0080ff 123.5px,#00a1ff 125.5px,#0081ff 126.5px,#08f 128.5px,#0af 129.5px,#00abff 131.5px,#0073ff 132.5px,#0073ff 133.5px,#00e3ff 134.5px,#00e3ff 138.5px,#00abff 139.5px,#00ceff 140.5px,#009eff 141.5px,#00dcff 144.5px,#00efff 148.5px,#00fffe 149.5px,#00ffd7 152.5px,#00ffbc 153.5px,#0fa 155.5px,#00ffb5 156.5px,#00ffaf 158.5px,#00ff9f 159.5px,#0f9 164.5px,#00ffb0 165.5px,#00ffa9 167.5px,#0f9 168.5px,#0f9 173.5px,#00ff87 174.5px,#00ff91 180.5px,#00ff85 181.5px,#00ff9d 186.5px,#00ff8a 198.5px,#00ff92 200.5px,#00ff7c 208.5px,#00ff41 216.5px,#01ff02 222.5px,#b5ff00 233.5px,#e9ff00 239.5px,#fffc00 244.5px,#fff000 254.5px,#fff 255.5px,#fff 260.5px,#fffb00 261.5px,#fffc00 283.5px,#ceff00 284.5px,#adff00 301.5px,#b9ff00 321.5px,#e3ff00 330.5px,#fffd00 331.5px,#fe0 354.5px)"></i><i style="background:linear-gradient(#00ff1d 0.5px,#00ff1d 2.5px,#71ff00 3.5px,#71ff00 5.5px,#a4ff00 6.5px,#a4ff00 8.5px,#00ff23 9.5px,#00ff23 11.5px,#1eff00 12.5px,#1eff00 14.5px,#00ff23 15.5px,#00ff23 17.5px,#afff00 18.5px,#afff00 20.5px,#10ff00 21.5px,#00ff04 23.5px,#00ff3f 26.5px,#00ff9a 27.5px,#0fd 30.5px,#00fbff 33.5px,#00cbff 38.5px,#00beff 40.5px,#0089ff 47.5px,#0050ff 86.5px,#0000f4 87.5px,#0000f8 113.5px,#0024ff 119.5px,#001dff 120.5px,#0038ff 122.5px,#0039ff 123.5px,#06f 126.5px,#0073ff 128.5px,#005eff 129.5px,#0068ff 133.5px,#00e3ff 134.5px,#00e3ff 138.5px,#00a9ff 139.5px,#00cdff 140.5px,#00a2ff 141.5px,#00c9ff 143.5px,#00ebff 144.5px,#00f7ff 146.5px,#00ffd7 147.5px,#00ffc8 149.5px,#00ffd1 150.5px,#00ffbe 152.5px,#00ffd7 153.5px,#00ffae 157.5px,#00ff9c 164.5px,#00ffb0 165.5px,#00ff9f 173.5px,#0f8 174.5px,#00ff85 179.5px,#00ffa1 184.5px,#00ff83 206.5px,#00ff34 216.5px,#00ff39 217.5px,#00ff03 222.5px,#adff00 233.5px,#bcff00 235.5px,#d8ff00 236.5px,#fffd00 245.5px,#fff300 254.5px,#fff 255.5px,#fff 260.5px,#f9ff00 261.5px,#f7ff00 281.5px,#f2ff00 283.5px,#c9ff00 284.5px,#a5ff00 302.5px,#a5ff00 306.5px,#dfff00 307.5px,#e9ff00 322.5px,#fffb00 329.5px,#fff900 330.5px,#c7ff00 331.5px,#e7ff00 348.5px,#ef0 354.5px)"></i><i style="background:linear-gradient(#00ff46 0.5px,#00ff46 2.5px,#63ff00 3.5px,#63ff00 5.5px,#00ff41 6.5px,#00ff46 11.5px,#00ff36 12.5px,#00ff36 14.5px,#00ff05 15.5px,#00ff05 17.5px,#cbff00 18.5px,#c7ff00 20.5px,#36ff00 21.5px,#16ff00 23.5px,#00ff84 24.5px,#00ffab 26.5px,#00ffd3 27.5px,#00fffd 29.5px,#00c0ff 32.5px,#00caff 33.5px,#0af 38.5px,#00c5ff 39.5px,#0093ff 43.5px,#0082ff 48.5px,#004bff 86.5px,#0000f7 87.5px,#0000fa 113.5px,#0000fc 119.5px,#0019ff 120.5px,#0039ff 125.5px,#0028ff 126.5px,#002aff 127.5px,#003eff 128.5px,#008fff 129.5px,#0093ff 131.5px,#0058ff 132.5px,#005aff 133.5px,#00e3ff 134.5px,#00e3ff 138.5px,#0059ff 139.5px,#00a3ff 141.5px,#00c6ff 143.5px,#00fff5 144.5px,#0fe 148.5px,#00ffc9 152.5px,#00ffa4 153.5px,#00ff91 155.5px,#00ffad 156.5px,#00ffa6 158.5px,#00ff97 160.5px,#00ffa2 165.5px,#00ff97 167.5px,#00ff7f 168.5px,#00ff80 170.5px,#00ffa5 171.5px,#00ff9c 173.5px,#00ff86 174.5px,#00ff7d 179.5px,#00ff94 182.5px,#00ff8c 193.5px,#00ff80 198.5px,#00ffa1 199.5px,#0f8 208.5px,#00ff42 216.5px,#00ff21 217.5px,#03ff01 220.5px,#8cff00 228.5px,#e0ff00 234.5px,#fffc00 245.5px,#fff300 254.5px,#fff 255.5px,#fff 260.5px,#ecff00 261.5px,#e7ff00 281.5px,#e2ff00 283.5px,#d1ff00 284.5px,#abff00 301.5px,#abff00 306.5px,#c1ff00 307.5px,#caff00 322.5px,#f0ff00 330.5px,#cfff00 331.5px,#edff00 346.5px,#f7ff00 354.5px)"></i><i style="background:linear-gradient(#00ff43 0.5px,#00ff4a 17.5px,#00ff20 18.5px,#0f2 20.5px,#00ff4c 21.5px,#00ff5e 23.5px,#00ffe5 29.5px,#00ffef 31.5px,#00fff7 32.5px,#00e5ff 33.5px,#00b3ff 38.5px,#00c8ff 39.5px,#009aff 42.5px,#006fff 60.5px,#0048ff 86.5px,#0000f4 87.5px,#0000f9 116.5px,#0021ff 117.5px,#003aff 122.5px,#003cff 125.5px,#01f 126.5px,#0014ff 127.5px,#002dff 128.5px,#005fff 129.5px,#0065ff 131.5px,#004fff 132.5px,#0052ff 133.5px,#00e3ff 134.5px,#00e3ff 138.5px,#004bff 139.5px,#08f 141.5px,#00b7ff 145.5px,#00bcff 146.5px,#00d3ff 147.5px,#00e7ff 149.5px,#00fef8 150.5px,#00ffeb 152.5px,#00fff5 153.5px,#00ffd7 158.5px,#00ffd2 164.5px,#00ffb4 166.5px,#00ffb5 168.5px,#00ffb6 170.5px,#00ff97 171.5px,#0f9 173.5px,#0fa 174.5px,#00ff95 180.5px,#00ffa4 181.5px,#00ff98 194.5px,#00ff79 207.5px,#00ff05 218.5px,#34ff00 221.5px,#8aff00 226.5px,#f9ff00 234.5px,#ffe400 254.5px,#fff 255.5px,#fff 260.5px,#fbff00 261.5px,#f4ff00 281.5px,#efff00 283.5px,#fffd00 284.5px,#deff00 302.5px,#deff00 306.5px,#cdff00 307.5px,#d4ff00 322.5px,#fbff00 330.5px,#f8ff00 332.5px,#fff400 354.5px)"></i><i style="background:linear-gradient(#e1ff00 0.5px,#e1ff00 2.5px,#00ff51 3.5px,#00ff51 14.5px,#00ff24 15.5px,#00ff24 17.5px,#00ff52 18.5px,#00ff56 20.5px,#00ff3e 21.5px,#00ff57 23.5px,#00ffe1 29.5px,#00feff 32.5px,#00ffed 33.5px,#00fffc 35.5px,#00d9ff 36.5px,#00a3ff 41.5px,#0078ff 52.5px,#0042ff 86.5px,#0000f8 87.5px,#0005ff 114.5px,#0010ff 116.5px,#0004ff 118.5px,#0001ff 122.5px,#0012ff 124.5px,#0015ff 125.5px,#0067ff 126.5px,#006aff 127.5px,#0097ff 129.5px,#009eff 131.5px,#005bff 132.5px,#005eff 133.5px,#00e3ff 134.5px,#00e3ff 138.5px,#0056ff 139.5px,#0091ff 141.5px,#00a5ff 143.5px,#00eaff 144.5px,#00f3ff 146.5px,#00b8ff 147.5px,#00c3ff 149.5px,#00b7ff 150.5px,#00c5ff 152.5px,#00fff2 153.5px,#00ffe8 155.5px,#00d9ff 156.5px,#00ecfb 161.5px,#00ffed 162.5px,#00ffd7 166.5px,#00ffc9 168.5px,#00ffc7 170.5px,#00ffb3 171.5px,#00ffb5 173.5px,#00ffd1 174.5px,#00ff98 179.5px,#00ff98 180.5px,#00ffa5 182.5px,#00ff8b 197.5px,#00ff70 207.5px,#00ff15 216.5px,#0cff00 217.5px,#93ff00 224.5px,#feff00 232.5px,#ffe100 254.5px,#fff 255.5px,#fff 260.5px,#fffd00 261.5px,#f9ff00 283.5px,#e7ff00 285.5px,#c3ff00 302.5px,#c8ff00 322.5px,#ef0 330.5px,#eaff00 332.5px,#fffc00 350.5px,#fffa00 354.5px)"></i><i style="background:linear-gradient(#3eff00 0.5px,#3eff00 2.5px,#0f3 3.5px,#00ff34 11.5px,#7fff00 12.5px,#7fff00 14.5px,#00ff34 15.5px,#00ff3d 20.5px,#00ff65 23.5px,#37ff00 24.5px,#02ff05 25.5px,#00ff26 26.5px,#00ffaf 27.5px,#00ffd3 29.5px,#00ffc8 30.5px,#0fd 32.5px,#00efff 33.5px,#00bfff 38.5px,#00a6ff 39.5px,#07f 55.5px,#0046ff 86.5px,#0000f8 87.5px,#0005ff 114.5px,#0017ff 116.5px,#0008ff 117.5px,#000aff 119.5px,#0043ff 120.5px,#0047ff 122.5px,#0002ff 123.5px,#0008ff 125.5px,#003aff 126.5px,#003dff 127.5px,#0057ff 128.5px,#0043ff 129.5px,#004fff 133.5px,#00e3ff 134.5px,#00e3ff 138.5px,#004eff 139.5px,#0060ff 140.5px,#0057ff 141.5px,#0065ff 143.5px,#0079ff 144.5px,#007fff 149.5px,#0bf 150.5px,#00c1ff 155.5px,#0096ff 156.5px,#009cff 158.5px,#00d6ff 159.5px,#00dcff 161.5px,#00b8ff 162.5px,#00bfff 164.5px,#00faf8 165.5px,#00ffe3 167.5px,#00f1fe 168.5px,#00f4fd 170.5px,#0df 171.5px,#00ecff 173.5px,#00ffed 174.5px,#00ffb5 179.5px,#00ff9a 196.5px,#00ff95 198.5px,#00ff7e 199.5px,#00ff60 207.5px,#00ff03 216.5px,#34ff00 219.5px,#9f0 225.5px,#fbff00 233.5px,#ffe500 254.5px,#fff 255.5px,#fff 260.5px,#f1ff00 261.5px,#e8ff00 282.5px,#e6ff00 283.5px,#f6ff00 284.5px,#d0ff00 303.5px,#ceff00 306.5px,#bf0 307.5px,#bfff00 322.5px,#e3ff00 330.5px,#faff00 333.5px,#fff600 354.5px)"></i><i style="background:linear-gradient(#00ff17 0.5px,#00ff17 2.5px,#70ff00 3.5px,#70ff00 5.5px,#64ff00 7.5px,#64ff00 8.5px,#00ff17 9.5px,#00ff17 14.5px,#02ff00 15.5px,#0f0 17.5px,#00ff15 18.5px,#00ff20 20.5px,#5cff00 21.5px,#09ff00 23.5px,#0aff01 24.5px,#00ff3e 26.5px,#00ff6b 27.5px,#0f9 29.5px,#00ffd9 30.5px,#00ffe8 32.5px,#00ffd8 33.5px,#00ffef 35.5px,#00dcff 36.5px,#00c2ff 38.5px,#00a8ff 39.5px,#0079ff 53.5px,#04f 86.5px,#0000fb 87.5px,#0000fe 113.5px,#002bff 119.5px,#0054ff 120.5px,#005eff 125.5px,#002cff 126.5px,#002fff 127.5px,#006eff 129.5px,#0074ff 131.5px,#004fff 132.5px,#0052ff 133.5px,#00e3ff 134.5px,#00e3ff 138.5px,#0049ff 139.5px,#005bff 140.5px,#009cff 141.5px,#0af 143.5px,#00ceff 144.5px,#00d3ff 146.5px,#008cff 147.5px,#008dff 149.5px,#00acff 150.5px,#00acff 152.5px,#0083ff 153.5px,#0084ff 155.5px,#0078ff 157.5px,#0078ff 158.5px,#00a1ff 159.5px,#00a7ff 164.5px,#007eff 165.5px,#00c2ff 168.5px,#00c2ff 171.5px,#00d7ff 173.5px,#00fff7 174.5px,#00ffb0 179.5px,#0f9 193.5px,#00ff69 207.5px,#00ff0b 216.5px,#24ff00 217.5px,#92ff00 223.5px,#fffd00 233.5px,#ffea00 254.5px,#fff 255.5px,#fff 260.5px,#cf0 261.5px,#c2ff00 283.5px,#e7ff00 284.5px,#c0ff00 304.5px,#b6ff00 321.5px,#dcff00 330.5px,#f0ff00 332.5px,#fffc00 347.5px,#fff900 354.5px)"></i><i style="background:linear-gradient(#00ff69 0.5px,#00ff69 11.5px,#00ff1e 12.5px,#00ff1e 14.5px,#8eff00 15.5px,#8f0 17.5px,#00ff39 18.5px,#00ff4b 20.5px,#0f1 21.5px,#00ff42 23.5px,#00ff80 24.5px,#0fc 27.5px,#00ffe5 29.5px,#00fffe 30.5px,#00e9ff 34.5px,#0df 35.5px,#00f1ff 36.5px,#00aeff 39.5px,#008dff 45.5px,#0045ff 85.5px,#04f 86.5px,#0000f6 87.5px,#0000fa 113.5px,#0016ff 116.5px,#003aff 117.5px,#0054ff 119.5px,#002aff 120.5px,#002eff 122.5px,#004dff 123.5px,#0053ff 125.5px,#000fff 126.5px,#0012ff 127.5px,#002cff 128.5px,#006aff 129.5px,#0074ff 133.5px,#00e3ff 134.5px,#00e3ff 138.5px,#0038ff 139.5px,#004fff 140.5px,#00a6ff 141.5px,#00b4ff 143.5px,#008dff 144.5px,#0092ff 146.5px,#00a4ff 147.5px,#00a7ff 152.5px,#0079ff 153.5px,#0079ff 155.5px,#0090ff 156.5px,#0090ff 158.5px,#0080ff 159.5px,#0081ff 161.5px,#0095ff 162.5px,#0096ff 164.5px,#007bff 165.5px,#00a9ff 167.5px,#00a3ff 169.5px,#00abff 170.5px,#00cfff 171.5px,#00e1ff 174.5px,#00fff9 175.5px,#00ffb4 178.5px,#00ffa3 180.5px,#00ffb3 181.5px,#0f7 200.5px,#00ff57 207.5px,#01ff02 215.5px,#15ff00 217.5px,#71ff00 222.5px,#ecff00 234.5px,#fff000 237.5px,#fd0 254.5px,#fff 255.5px,#fff 260.5px,#fff900 261.5px,#fffd00 283.5px,#c6ff00 284.5px,#9eff00 306.5px,#f3ff00 307.5px,#f5ff00 323.5px,#fff700 330.5px,#d7ff00 331.5px,#f9ff00 353.5px,#faff00 354.5px)"></i><i style="background:linear-gradient(#00ff38 0.5px,#00ff38 5.5px,#53ff00 6.5px,#53ff00 8.5px,#0fff00 9.5px,#12ff00 14.5px,#27ff00 15.5px,#1eff00 17.5px,#00ff43 18.5px,#00ff6d 21.5px,#00ff9c 23.5px,#00ffd6 24.5px,#00fffc 26.5px,#00ffc8 27.5px,#00ffe2 29.5px,#00ffe9 31.5px,#00fff2 32.5px,#00c2ff 33.5px,#00a2ff 38.5px,#0092ff 39.5px,#0048ff 86.5px,#0000f3 87.5px,#0000f6 113.5px,#0000f8 116.5px,#000fff 119.5px,#002aff 120.5px,#002eff 122.5px,#000dff 123.5px,#0013ff 125.5px,#000eff 127.5px,#0028ff 128.5px,#0081ff 129.5px,#008bff 133.5px,#00e3ff 134.5px,#00e3ff 138.5px,#004dff 139.5px,#0061ff 140.5px,#05f 141.5px,#0063ff 143.5px,#00d8ff 144.5px,#0df 146.5px,#0085ff 147.5px,#0085ff 149.5px,#0071ff 150.5px,#0072ff 155.5px,#008fff 156.5px,#0090ff 158.5px,#007aff 159.5px,#007aff 161.5px,#008fff 162.5px,#0090ff 164.5px,#0df 167.5px,#00b6ff 168.5px,#00b9ff 170.5px,#00d8ff 174.5px,#00f9ff 175.5px,#00ffc2 178.5px,#00ffa4 183.5px,#00ff5a 200.5px,#00ff28 208.5px,#05ff00 212.5px,#54ff00 216.5px,#27ff00 217.5px,#75ff00 221.5px,#ef0 234.5px,#fff800 237.5px,#ffe500 254.5px,#fff 255.5px,#fff 260.5px,#feff00 261.5px,#f5ff00 283.5px,#fffd00 286.5px,#dfff00 306.5px,#eaff00 308.5px,#ebff00 323.5px,#fffb00 330.5px,#ffed00 354.5px)"></i><i style="background:linear-gradient(#63ff00 0.5px,#63ff00 2.5px,#75ff00 3.5px,#75ff00 5.5px,#b0ff00 6.5px,#b0ff00 8.5px,#13ff00 9.5px,#13ff00 14.5px,#fff900 15.5px,#fcff00 17.5px,#56ff00 18.5px,#15ff00 20.5px,#00ff41 21.5px,#00ff79 23.5px,#00ff7d 24.5px,#00ffac 26.5px,#00fdfe 27.5px,#00d8ff 32.5px,#00b3ff 35.5px,#00aeff 37.5px,#008cff 45.5px,#004aff 86.5px,#0000f5 87.5px,#0000f9 113.5px,#0000fd 119.5px,#003bff 120.5px,#003eff 125.5px,#000aff 126.5px,#000dff 127.5px,#0041ff 129.5px,#0047ff 131.5px,#0065ff 132.5px,#0068ff 133.5px,#00e3ff 134.5px,#00e3ff 138.5px,#006eff 139.5px,#0083ff 140.5px,#0074ff 141.5px,#0082ff 143.5px,#0070ff 144.5px,#0070ff 149.5px,#00a8ff 150.5px,#00a9ff 152.5px,#009cff 154.5px,#009dff 155.5px,#00abff 156.5px,#00a8ff 161.5px,#0072ff 162.5px,#0072ff 164.5px,#009cff 165.5px,#00cbff 167.5px,#00b9ff 169.5px,#00e0ff 173.5px,#00feff 174.5px,#00ffba 179.5px,#00ff4a 201.5px,#00ff1a 208.5px,#00ff04 210.5px,#70ff00 216.5px,#56ff00 217.5px,#a4ff00 221.5px,#ff0 232.5px,#ffdf00 254.5px,#fff 255.5px,#fff 260.5px,#f9ff00 261.5px,#f0ff00 283.5px,#ffeb00 284.5px,#fffb00 306.5px,#ecff00 307.5px,#ecff00 324.5px,#fffc00 331.5px,#ffef00 354.5px)"></i><i style="background:linear-gradient(#7bff00 0.5px,#7bff00 2.5px,#29ff00 3.5px,#29ff00 8.5px,#b5ff00 9.5px,#b5ff00 11.5px,#29ff00 12.5px,#1aff00 16.5px,#00ff06 18.5px,#00ff30 20.5px,#a5ff00 21.5px,#15ff00 23.5px,#00ffc0 24.5px,#00ffde 26.5px,#00fffa 27.5px,#00dcff 32.5px,#00e4ff 33.5px,#00caff 35.5px,#0cf 36.5px,#009eff 40.5px,#0062ff 67.5px,#0047ff 86.5px,#0000f4 87.5px,#0000f8 113.5px,#001cff 119.5px,#0003ff 120.5px,#0004ff 125.5px,#0016ff 126.5px,#0019ff 127.5px,#03f 128.5px,#0057ff 133.5px,#00e3ff 134.5px,#00e3ff 138.5px,#00b5ff 139.5px,#00cfff 140.5px,#05f 141.5px,#0063ff 143.5px,#009aff 144.5px,#00a6ff 149.5px,#00b5ff 150.5px,#0bf 155.5px,#0073ff 156.5px,#0073ff 158.5px,#008aff 159.5px,#008aff 161.5px,#0074ff 162.5px,#0074ff 164.5px,#0095ff 166.5px,#00b1ff 167.5px,#00fff6 168.5px,#00fff4 170.5px,#0ff 172.5px,#00ffeb 175.5px,#00ffb1 180.5px,#00ff5d 198.5px,#00ff12 208.5px,#08ff00 210.5px,#e1ff00 221.5px,#fffc00 226.5px,#ffd700 244.5px,#fc0 254.5px,#fff 255.5px,#fff 260.5px,#f4ff00 261.5px,#ebff00 283.5px,#baff00 306.5px,#d3ff00 307.5px,#d0ff00 324.5px,#f3ff00 336.5px,#fffd00 354.5px)"></i><i style="background:linear-gradient(#00ff47 0.5px,#00ff47 8.5px,#24ff00 9.5px,#24ff00 11.5px,#00ff29 12.5px,#00ff2b 14.5px,#00ff4e 15.5px,#00ff5f 17.5px,#00ff12 18.5px,#00ff96 23.5px,#00ff86 24.5px,#00ffad 26.5px,#00fff5 27.5px,#00fffe 29.5px,#00a9ff 37.5px,#0074ff 54.5px,#0042ff 86.5px,#0000f7 87.5px,#0000fa 113.5px,#0051ff 119.5px,#0000fe 120.5px,#0002ff 122.5px,#0016ff 123.5px,#001cff 125.5px,#008cff 126.5px,#008fff 127.5px,#00a9ff 128.5px,#05f 129.5px,#005bff 131.5px,#004fff 132.5px,#0052ff 133.5px,#00e3ff 134.5px,#00e3ff 138.5px,#0035ff 139.5px,#0054ff 141.5px,#0061ff 143.5px,#00f4ff 144.5px,#00f9ff 146.5px,#0070ff 147.5px,#0070ff 149.5px,#00acff 150.5px,#00acff 152.5px,#0095ff 153.5px,#0095ff 155.5px,#0083ff 156.5px,#0083ff 158.5px,#0072ff 159.5px,#0073ff 164.5px,#00bcff 165.5px,#00ecff 167.5px,#00a5ff 168.5px,#00a9ff 170.5px,#00c7ff 172.5px,#00d3ff 173.5px,#00fff8 175.5px,#00ffc5 178.5px,#00ff59 198.5px,#00ff41 199.5px,#04ff00 208.5px,#a6ff00 216.5px,#7eff00 217.5px,#caff00 221.5px,#fffd00 231.5px,#fff600 235.5px,#ffdb00 236.5px,#ffc600 254.5px,#fff 255.5px,#fff 260.5px,#fffc00 261.5px,#feff00 283.5px,#e3ff00 284.5px,#baff00 306.5px,#d9ff00 307.5px,#d4ff00 324.5px,#ebff00 330.5px,#d6ff00 331.5px,#f4ff00 354.5px)"></i><i style="background:linear-gradient(#00ff34 0.5px,#00ff34 2.5px,#00ff6a 3.5px,#00ff6a 5.5px,#00ff1b 6.5px,#00ff1b 8.5px,#00ff6a 9.5px,#00ff6d 15.5px,#00ff83 17.5px,#00ff2c 18.5px,#00ff60 20.5px,#0fd 21.5px,#00fbfe 23.5px,#00faff 25.5px,#0df 29.5px,#00e4ff 30.5px,#00d2ff 32.5px,#00baff 33.5px,#00aeff 35.5px,#00b8ff 36.5px,#0098ff 40.5px,#004fff 78.5px,#0045ff 86.5px,#0000f8 87.5px,#0000fb 116.5px,#0012ff 118.5px,#0014ff 119.5px,#0000fe 120.5px,#0001ff 122.5px,#0028ff 123.5px,#002eff 125.5px,#0052ff 126.5px,#05f 127.5px,#0070ff 128.5px,#04f 129.5px,#004aff 131.5px,#0080ff 132.5px,#0083ff 133.5px,#00e3ff 134.5px,#00e3ff 138.5px,#0034ff 139.5px,#0049ff 140.5px,#007dff 141.5px,#008aff 143.5px,#006bff 144.5px,#0070ff 146.5px,#009fff 147.5px,#009fff 149.5px,#00b6ff 150.5px,#00b7ff 152.5px,#00c5ff 153.5px,#00c6ff 155.5px,#0072ff 156.5px,#0079ff 161.5px,#0085ff 163.5px,#0079ff 165.5px,#00a9ff 167.5px,#00acff 170.5px,#00c3ff 171.5px,#00d6ff 173.5px,#00fffc 174.5px,#00ffb3 180.5px,#00ff48 198.5px,#00ff51 199.5px,#03ff01 209.5px,#90ff00 216.5px,#b5ff00 217.5px,#f3ff00 220.5px,#fff900 224.5px,#ffe700 235.5px,#ffd600 236.5px,#ffc000 254.5px,#fff 255.5px,#fff 260.5px,#fff000 261.5px,#fff300 283.5px,#f1ff00 285.5px,#c8ff00 306.5px,#e3ff00 307.5px,#dfff00 325.5px,#f2ff00 330.5px,#efff00 332.5px,#fffc00 354.5px)"></i><i style="background:linear-gradient(#00ff80 0.5px,#00ff80 2.5px,#00ff5b 3.5px,#00ff5b 5.5px,#00ff67 7.5px,#00ff71 11.5px,#00ff82 12.5px,#00ff8a 14.5px,#00ff59 15.5px,#0f7 17.5px,#00ff38 18.5px,#00ff72 20.5px,#00fcfd 21.5px,#0cf 23.5px,#00ffea 24.5px,#00fff9 26.5px,#00d2ff 27.5px,#00b0ff 32.5px,#00e0ff 33.5px,#00abff 36.5px,#0086ff 47.5px,#004aff 86.5px,#0000f4 87.5px,#0000f8 113.5px,#0029ff 119.5px,#000bff 120.5px,#000eff 122.5px,#003aff 123.5px,#004bff 127.5px,#0065ff 128.5px,#04f 129.5px,#004aff 131.5px,#005fff 132.5px,#0062ff 133.5px,#00e3ff 134.5px,#00e3ff 138.5px,#005aff 139.5px,#08f 141.5px,#0095ff 143.5px,#00caff 144.5px,#00cfff 146.5px,#009dff 147.5px,#009eff 149.5px,#0089ff 150.5px,#0091ff 158.5px,#006dff 159.5px,#006dff 161.5px,#00adff 162.5px,#00adff 164.5px,#0084ff 165.5px,#00b5ff 167.5px,#00efff 168.5px,#00f5ff 173.5px,#00d7ff 174.5px,#00f2ff 175.5px,#00fff3 176.5px,#00ffd7 177.5px,#0f7 190.5px,#0f4 198.5px,#00ff4e 199.5px,#00ff04 208.5px,#8aff00 215.5px,#e8ff00 219.5px,#fcff00 220.5px,#ffe800 235.5px,#ffda00 239.5px,#ffc700 254.5px,#fff 255.5px,#fff 260.5px,#ffdc00 261.5px,#ffdf00 283.5px,#ff0 284.5px,#df0 303.5px,#d6ff00 306.5px,#e8ff00 307.5px,#e2ff00 325.5px,#fff600 332.5px,#ffed00 354.5px)"></i><i style="background:linear-gradient(#76ff00 0.5px,#76ff00 2.5px,#00ff45 3.5px,#00ff45 5.5px,#0f2 6.5px,#0f2 8.5px,#00ff45 9.5px,#00ff49 11.5px,#00ff36 12.5px,#0f4 14.5px,#0f6 15.5px,#00ffe0 21.5px,#00fff7 23.5px,#00c7ff 24.5px,#00bfff 26.5px,#00f8ff 27.5px,#00e6ff 29.5px,#00c8ff 30.5px,#009eff 36.5px,#004cff 82.5px,#0046ff 86.5px,#0000f4 87.5px,#0000f7 113.5px,#0000fb 119.5px,#0053ff 120.5px,#0058ff 122.5px,#002bff 123.5px,#0031ff 125.5px,#004bff 126.5px,#004eff 127.5px,#0068ff 128.5px,#0045ff 129.5px,#004bff 131.5px,#008dff 132.5px,#0090ff 133.5px,#00e3ff 134.5px,#00e3ff 138.5px,#0059ff 139.5px,#0068ff 140.5px,#00beff 141.5px,#0cf 143.5px,#08f 144.5px,#0096ff 149.5px,#06f 150.5px,#006cff 155.5px,#007fff 156.5px,#007fff 158.5px,#009cff 159.5px,#009cff 161.5px,#00abff 162.5px,#00acff 164.5px,#0069ff 165.5px,#009aff 167.5px,#00e4ff 168.5px,#00f0ff 173.5px,#00eaff 174.5px,#00fffc 175.5px,#00ffc8 179.5px,#00ff4c 198.5px,#00ff31 200.5px,#00ff02 206.5px,#8cff00 213.5px,#cdff00 216.5px,#c7ff00 217.5px,#fffe00 220.5px,#ffe400 235.5px,#fff200 236.5px,#ffdc00 254.5px,#fff 255.5px,#fff 260.5px,#fff000 261.5px,#f8ff00 301.5px,#edff00 306.5px,#fff600 307.5px,#fff400 329.5px,#fffc00 333.5px,#fff500 354.5px)"></i><i style="background:linear-gradient(#00ff2f 0.5px,#00ff2f 2.5px,#00ff48 3.5px,#00ff50 11.5px,#00ff6d 14.5px,#00ff23 15.5px,#00ff54 17.5px,#00ffbd 18.5px,#00ffe3 20.5px,#00ffa6 21.5px,#00ffd7 25.5px,#00ffde 26.5px,#00fff5 27.5px,#00efff 30.5px,#00a3ff 37.5px,#005dff 70.5px,#0047ff 86.5px,#0000f7 87.5px,#0005ff 116.5px,#001bff 119.5px,#0017ff 122.5px,#006bff 123.5px,#0071ff 125.5px,#0015ff 126.5px,#0018ff 127.5px,#0032ff 128.5px,#007dff 129.5px,#0084ff 131.5px,#0076ff 132.5px,#0079ff 133.5px,#00e3ff 134.5px,#00e3ff 138.5px,#0040ff 139.5px,#0051ff 140.5px,#008bff 141.5px,#0098ff 143.5px,#005fff 144.5px,#0064ff 149.5px,#009eff 150.5px,#009eff 152.5px,#08f 153.5px,#0089ff 155.5px,#0065ff 156.5px,#0065ff 158.5px,#0083ff 159.5px,#0079ff 164.5px,#00c6ff 167.5px,#00d4ff 170.5px,#00adff 171.5px,#00beff 173.5px,#00fffd 174.5px,#00ff98 184.5px,#01ff01 205.5px,#74ff00 211.5px,#e4ff00 216.5px,#d8ff00 217.5px,#fdff00 219.5px,#ffdc00 235.5px,#ffe900 236.5px,#ffd300 254.5px,#fff 255.5px,#fff 260.5px,#fff200 261.5px,#f9ff00 302.5px,#f0ff00 306.5px,#fffd00 307.5px,#fffa00 330.5px,#ffec00 354.5px)"></i><i style="background:linear-gradient(#c5ff00 0.5px,#c5ff00 2.5px,#00ff32 3.5px,#00ff32 5.5px,#45ff00 6.5px,#3fff00 8.5px,#00ff38 9.5px,#00ff5e 13.5px,#00ffd6 19.5px,#00fff9 23.5px,#00fdff 26.5px,#00c0ff 32.5px,#00caff 33.5px,#00a4ff 37.5px,#005eff 69.5px,#0047ff 86.5px,#0000f8 87.5px,#0005ff 114.5px,#001dff 125.5px,#0054ff 126.5px,#0057ff 127.5px,#0071ff 128.5px,#00a3ff 129.5px,#00a9ff 131.5px,#006bff 132.5px,#006eff 133.5px,#00e3ff 134.5px,#00e3ff 138.5px,#06f 139.5px,#0073ff 140.5px,#006eff 142.5px,#07f 143.5px,#0069ff 144.5px,#006eff 146.5px,#09f 147.5px,#09f 149.5px,#0075ff 150.5px,#0082ff 158.5px,#008dff 161.5px,#0067ff 162.5px,#0067ff 164.5px,#0093ff 165.5px,#00c5ff 167.5px,#00cbff 170.5px,#00e7ff 174.5px,#00fffc 175.5px,#00ffc4 179.5px,#00ffba 180.5px,#00ffb7 182.5px,#00ff59 198.5px,#00ff2b 199.5px,#04ff00 205.5px,#a8ff00 213.5px,#ef0 216.5px,#d7ff00 217.5px,#faff00 219.5px,#ffdb00 235.5px,#ffcd00 239.5px,#fb0 254.5px,#fff 255.5px,#fff 260.5px,#ffe700 261.5px,#ffeb00 283.5px,#fff700 285.5px,#f7ff00 301.5px,#e6ff00 323.5px,#f6ff00 330.5px,#efff00 332.5px,#fffd00 354.5px)"></i><i style="background:linear-gradient(#00ff79 0.5px,#00ff82 8.5px,#0fa 12.5px,#00ffcd 14.5px,#00ff7a 15.5px,#00ffa8 17.5px,#00e3ff 18.5px,#00c4ff 20.5px,#00bfff 23.5px,#00fffd 24.5px,#00f2ff 26.5px,#00cfff 27.5px,#00c3ff 29.5px,#00a4ff 30.5px,#00a1ff 32.5px,#00adff 33.5px,#0083ff 50.5px,#004aff 86.5px,#0000f5 87.5px,#0000f9 113.5px,#0016ff 116.5px,#000aff 118.5px,#000aff 119.5px,#001fff 120.5px,#0023ff 122.5px,#001cff 124.5px,#001fff 125.5px,#0035ff 126.5px,#0038ff 127.5px,#0052ff 128.5px,#0056ff 131.5px,#0050ff 133.5px,#00e3ff 134.5px,#00e3ff 138.5px,#0061ff 139.5px,#006bff 140.5px,#0061ff 141.5px,#006eff 143.5px,#0096ff 144.5px,#009bff 146.5px,#008cff 147.5px,#0091ff 152.5px,#00adff 153.5px,#00adff 155.5px,#008fff 156.5px,#008fff 158.5px,#00a0ff 159.5px,#00a0ff 161.5px,#0070ff 162.5px,#0070ff 164.5px,#00c1ff 167.5px,#009dff 168.5px,#00b4ff 172.5px,#00beff 173.5px,#00ebff 174.5px,#00fffc 175.5px,#00ffa3 183.5px,#00ff41 198.5px,#00ff4a 199.5px,#03ff00 208.5px,#baff00 216.5px,#f9ff00 217.5px,#ffd500 228.5px,#ffcb00 235.5px,#ffbd00 238.5px,#ffab00 254.5px,#fff 255.5px,#fff 260.5px,#ffe100 261.5px,#ffe500 283.5px,#fff400 284.5px,#f6ff00 305.5px,#f4ff00 306.5px,#c6ff00 307.5px,#c1ff00 325.5px,#cf0 330.5px,#fffc00 331.5px,#fff400 354.5px)"></i><i style="background:linear-gradient(#00ff59 0.5px,#00ff52 5.5px,#00ff6d 8.5px,#00ff32 9.5px,#00ff53 11.5px,#00ffa8 12.5px,#00ffcf 14.5px,#00ff9c 15.5px,#00ffc1 17.5px,#00f3ff 18.5px,#00d5ff 22.5px,#00bdff 29.5px,#00c5ff 30.5px,#00a0ff 36.5px,#0050ff 81.5px,#0049ff 86.5px,#0000f7 87.5px,#0000fd 114.5px,#000cff 119.5px,#0036ff 120.5px,#003aff 122.5px,#0029ff 123.5px,#0032ff 127.5px,#004dff 128.5px,#0078ff 129.5px,#007eff 131.5px,#0058ff 132.5px,#005bff 133.5px,#00e3ff 134.5px,#00e3ff 138.5px,#0042ff 139.5px,#0058ff 140.5px,#0046ff 141.5px,#0054ff 143.5px,#008bff 144.5px,#0090ff 146.5px,#006cff 147.5px,#07f 155.5px,#0065ff 156.5px,#06f 158.5px,#0087ff 159.5px,#0089ff 164.5px,#007dff 165.5px,#00b0ff 167.5px,#00bcff 170.5px,#00dcff 173.5px,#00f7ff 174.5px,#00ffb4 180.5px,#00ff4b 192.5px,#00ff28 198.5px,#00ff35 199.5px,#03ff00 206.5px,#9cff00 213.5px,#fffb00 217.5px,#ffca00 229.5px,#ffb400 254.5px,#fff 255.5px,#fff 260.5px,#ffe900 261.5px,#fffd00 306.5px,#c7ff00 307.5px,#c0ff00 324.5px,#cbff00 330.5px,#fff600 331.5px,#ffef00 354.5px)"></i><i style="background:linear-gradient(#00ff32 0.5px,#00ff35 2.5px,#00ff5c 3.5px,#00ff73 7.5px,#00ff7f 8.5px,#00ff34 9.5px,#00ff60 11.5px,#00ffc6 12.5px,#00faff 16.5px,#00d9ff 20.5px,#00fff6 21.5px,#00fdfe 24.5px,#00e5ff 26.5px,#00f6ff 27.5px,#00baff 32.5px,#0095ff 43.5px,#0053ff 77.5px,#0047ff 86.5px,#0000f3 87.5px,#0000f6 113.5px,#0012ff 117.5px,#0021ff 122.5px,#0013ff 123.5px,#0019ff 125.5px,#002aff 127.5px,#005aff 129.5px,#0060ff 131.5px,#0059ff 133.5px,#00e3ff 134.5px,#00e3ff 138.5px,#006aff 139.5px,#0074ff 140.5px,#0075ff 142.5px,#0082ff 146.5px,#006bff 147.5px,#006bff 149.5px,#008aff 150.5px,#008aff 152.5px,#0067ff 153.5px,#0067ff 155.5px,#0076ff 156.5px,#0076ff 158.5px,#0060ff 159.5px,#0061ff 161.5px,#0074ff 162.5px,#0076ff 165.5px,#00c1ff 168.5px,#00c9ff 170.5px,#00aeff 171.5px,#00c1ff 173.5px,#00fffe 175.5px,#00ffb0 181.5px,#00ff40 196.5px,#01ff01 205.5px,#94ff00 212.5px,#faff00 216.5px,#ffc700 228.5px,#fa0 254.5px,#fff 255.5px,#fff 260.5px,#fe0 261.5px,#fff300 283.5px,#fe0 290.5px,#fffc00 325.5px,#ffea00 349.5px,#ffe900 354.5px)"></i><i style="background:linear-gradient(#00ff0c 0.5px,#0f1 2.5px,#00ff7b 3.5px,#0f8 5.5px,#00ff65 6.5px,#00ff84 8.5px,#00ffc1 9.5px,#00f7fe 13.5px,#00e5ff 14.5px,#00fff0 15.5px,#00fefe 17.5px,#00c1ff 18.5px,#00bfff 20.5px,#00fff5 21.5px,#00fcff 23.5px,#00fff2 24.5px,#00f1ff 27.5px,#00b9ff 31.5px,#008aff 48.5px,#007aff 50.5px,#0040ff 86.5px,#0000f3 87.5px,#0000f7 113.5px,#0008ff 120.5px,#001fff 127.5px,#0058ff 129.5px,#0067ff 133.5px,#00e3ff 134.5px,#00e3ff 138.5px,#0047ff 139.5px,#0072ff 145.5px,#0070ff 155.5px,#005cff 156.5px,#005cff 158.5px,#0080ff 159.5px,#0081ff 161.5px,#006cff 162.5px,#06f 165.5px,#009aff 167.5px,#00c4ff 168.5px,#00cdff 170.5px,#00c1ff 171.5px,#0df 174.5px,#00fbff 175.5px,#00ff95 184.5px,#00ff3e 197.5px,#00ff39 198.5px,#00ff1b 199.5px,#00ff05 203.5px,#5aff00 208.5px,#cfff00 213.5px,#fffd00 215.5px,#ffce00 223.5px,#ffb200 233.5px,#ffb000 235.5px,#ffb900 237.5px,#ffa600 254.5px,#fff 255.5px,#fff 260.5px,#ffe300 261.5px,#fff400 306.5px,#ecff00 307.5px,#e5ff00 321.5px,#ef0 330.5px,#fff900 331.5px,#fff200 354.5px)"></i><i style="background:linear-gradient(#18ff00 0.5px,#07ff02 2.5px,#00ff40 3.5px,#00ff59 5.5px,#73ff00 6.5px,#17ff01 8.5px,#00ffa3 9.5px,#0fd 13.5px,#00f9ff 21.5px,#00b9ff 28.5px,#0081ff 53.5px,#004dff 86.5px,#0000f6 87.5px,#0000f9 113.5px,#0026ff 127.5px,#0057ff 129.5px,#0064ff 133.5px,#00e3ff 134.5px,#00e3ff 138.5px,#0047ff 139.5px,#005eff 143.5px,#0071ff 145.5px,#0072ff 164.5px,#006bff 165.5px,#00b3ff 168.5px,#00d9ff 173.5px,#00fffd 175.5px,#0f8 184.5px,#00ff30 196.5px,#00ff27 198.5px,#00ff2b 200.5px,#00ff04 205.5px,#7f0 211.5px,#fdff00 216.5px,#ffe300 217.5px,#ffab00 231.5px,#ffa600 235.5px,#ffb400 236.5px,#ffa000 254.5px,#fff 255.5px,#fff 260.5px,#fff500 261.5px,#fffa00 283.5px,#ffe800 284.5px,#fff500 306.5px,#f8ff00 309.5px,#f6ff00 323.5px,#fffa00 354.5px)"></i><i style="background:linear-gradient(#00ff69 0.5px,#0f7 2.5px,#00ff32 3.5px,#00ff53 5.5px,#00ffb0 6.5px,#00ffcf 8.5px,#00ffb4 9.5px,#00ffce 11.5px,#00fffa 12.5px,#00f9ff 14.5px,#00ffd7 15.5px,#00fff9 20.5px,#00e6ff 21.5px,#00d8ff 23.5px,#00bcff 24.5px,#0082ff 53.5px,#004eff 86.5px,#0000f6 87.5px,#0000fa 113.5px,#02f 127.5px,#0056ff 129.5px,#0061ff 133.5px,#00e3ff 134.5px,#00e3ff 138.5px,#0041ff 139.5px,#005bff 141.5px,#0079ff 146.5px,#007cff 165.5px,#00b1ff 167.5px,#00dfff 173.5px,#00fff6 175.5px,#00ffa7 180.5px,#00ffac 181.5px,#00ff52 191.5px,#00ff2a 198.5px,#00ff34 199.5px,#00ff14 204.5px,#05ff00 206.5px,#89ff00 212.5px,#f5ff00 216.5px,#ffea00 218.5px,#ffb900 231.5px,#ffa200 254.5px,#fff 255.5px,#fff 260.5px,#ffe900 261.5px,#fff500 305.5px,#ffed00 310.5px,#ffe700 354.5px)"></i><i style="background:linear-gradient(#00ff4e 0.5px,#00ff61 2.5px,#00ff83 3.5px,#00ffca 8.5px,#00ff90 9.5px,#00ffa3 11.5px,#00ffe0 12.5px,#00fff2 17.5px,#00ffc2 18.5px,#00ffda 20.5px,#00fcff 21.5px,#00e4ff 23.5px,#00b5ff 24.5px,#007fff 48.5px,#0086ff 50.5px,#004dff 86.5px,#0000f6 87.5px,#0000fa 113.5px,#0024ff 127.5px,#0059ff 129.5px,#0065ff 133.5px,#00e3ff 134.5px,#00e3ff 138.5px,#04f 139.5px,#006eff 145.5px,#0071ff 165.5px,#00a7ff 167.5px,#00d5ff 173.5px,#00fffb 175.5px,#00ffb6 180.5px,#00ff45 196.5px,#00ff3c 198.5px,#00ff14 199.5px,#02ff00 203.5px,#a5ff00 211.5px,#f5ff00 214.5px,#fe0 216.5px,#ffe400 221.5px,#ffc300 232.5px,#ffa800 254.5px,#fff 255.5px,#fff 260.5px,#ffe600 261.5px,#fff900 326.5px,#fff800 354.5px)"></i><i style="background:linear-gradient(#00ff73 0.5px,#00ff83 2.5px,#00ff71 3.5px,#00ff89 5.5px,#00ff46 6.5px,#00ff5f 8.5px,#00ffc9 9.5px,#00ffd5 14.5px,#00ffc5 15.5px,#00ffd2 17.5px,#0fe 19.5px,#00ecff 22.5px,#00e0ff 23.5px,#00bfff 24.5px,#007bff 54.5px,#0049ff 86.5px,#0000f5 87.5px,#0000f8 113.5px,#0021ff 127.5px,#05f 129.5px,#0062ff 133.5px,#00e3ff 134.5px,#00e3ff 138.5px,#003fff 139.5px,#0069ff 145.5px,#006dff 165.5px,#0081ff 166.5px,#00a3ff 167.5px,#00d4ff 173.5px,#00fffc 175.5px,#00ff85 184.5px,#00ff30 195.5px,#00ff23 198.5px,#00ff05 199.5px,#10ff00 202.5px,#beff00 211.5px,#f2ff00 213.5px,#fff000 215.5px,#ffe500 216.5px,#ffed00 218.5px,#ffc600 233.5px,#ffad00 254.5px,#fff 255.5px,#fff 260.5px,#ffe000 261.5px,#fff200 306.5px,#fffe00 313.5px,#fff900 354.5px)"></i><i style="background:linear-gradient(#00ffb1 0.5px,#00ffba 2.5px,#00ff9c 3.5px,#00ffa8 5.5px,#00ffb9 6.5px,#00ffbe 8.5px,#0f9 9.5px,#00ff9f 11.5px,#00ffd5 12.5px,#00ffdb 14.5px,#00ffc6 15.5px,#00fff9 20.5px,#00e6ff 21.5px,#00bdff 26.5px,#0061ff 68.5px,#0048ff 86.5px,#0000f6 87.5px,#0000f9 113.5px,#0027ff 127.5px,#005cff 129.5px,#0068ff 133.5px,#00e3ff 134.5px,#00e3ff 138.5px,#04f 139.5px,#05f 143.5px,#0063ff 147.5px,#06f 165.5px,#007aff 166.5px,#009eff 167.5px,#00b2ff 169.5px,#00d3ff 173.5px,#00fffd 175.5px,#00ffbc 180.5px,#00ff9d 181.5px,#00ff59 187.5px,#00ff19 195.5px,#00ff0b 198.5px,#00ff1a 199.5px,#00ff05 203.5px,#4f0 207.5px,#aeff00 212.5px,#fbff00 215.5px,#ffe900 218.5px,#ffc700 235.5px,#ffd600 236.5px,#ffc600 254.5px,#fff 255.5px,#fff 260.5px,#fffa00 261.5px,#fffe00 283.5px,#fd0 284.5px,#ffe900 306.5px,#f1ff00 307.5px,#ebff00 320.5px,#fcff00 354.5px)"></i><i style="background:linear-gradient(#00fefc 0.5px,#00f8ff 8.5px,#00fdff 11.5px,#00ffe5 12.5px,#00ffea 14.5px,#00e7ff 15.5px,#00c7ff 20.5px,#00dfff 21.5px,#00b6ff 28.5px,#005dff 70.5px,#0047ff 86.5px,#0000f8 87.5px,#0006ff 114.5px,#0027ff 127.5px,#005cff 129.5px,#0068ff 133.5px,#00e3ff 134.5px,#00e3ff 138.5px,#0043ff 139.5px,#0047ff 142.5px,#005eff 146.5px,#0061ff 165.5px,#0075ff 166.5px,#009bff 167.5px,#00aeff 168.5px,#00d5ff 173.5px,#00fffc 175.5px,#00ff84 184.5px,#00ff2f 195.5px,#0f0 203.5px,#9aff00 211.5px,#ff0 215.5px,#fff500 216.5px,#fff400 221.5px,#fc0 249.5px,#ffc800 254.5px,#fff 255.5px,#fff 260.5px,#fffb00 261.5px,#ff0 283.5px,#fd0 284.5px,#ffe800 306.5px,#f6ff00 307.5px,#f0ff00 320.5px,#f7ff00 330.5px,#ffec00 331.5px,#ffe600 354.5px)"></i><i style="background:linear-gradient(#00ffc5 0.5px,#00ffc7 2.5px,#00fff1 3.5px,#00fff2 5.5px,#00dfff 6.5px,#00dfff 8.5px,#00ffd6 9.5px,#00ffd9 11.5px,#00fff3 12.5px,#00fff7 14.5px,#00d7ff 15.5px,#00cfff 17.5px,#00e2ff 18.5px,#00beff 26.5px,#0063ff 67.5px,#0048ff 86.5px,#0000f3 87.5px,#0000f7 113.5px,#0015ff 120.5px,#0027ff 127.5px,#005cff 129.5px,#0068ff 133.5px,#00e3ff 134.5px,#00e3ff 138.5px,#0041ff 139.5px,#0042ff 142.5px,#005aff 146.5px,#005dff 165.5px,#0071ff 166.5px,#0097ff 167.5px,#00aeff 168.5px,#00d6ff 173.5px,#00fffb 175.5px,#00ffb6 180.5px,#00ff82 183.5px,#00ff1c 195.5px,#00ff0e 198.5px,#00ff34 199.5px,#00ff15 204.5px,#0f0 206.5px,#78ff00 212.5px,#dbff00 216.5px,#fff200 217.5px,#ffc800 254.5px,#fff 255.5px,#fff 260.5px,#ffef00 261.5px,#fff300 283.5px,#ffe300 284.5px,#fe0 306.5px,#f7ff00 307.5px,#f2ff00 320.5px,#fffe00 354.5px)"></i><i style="background:linear-gradient(#00eaff 0.5px,#00e9ff 2.5px,#00fff4 3.5px,#00fff4 5.5px,#00e9ff 6.5px,#00e8ff 11.5px,#00ffef 12.5px,#00f1ff 16.5px,#00ebff 17.5px,#00d3ff 18.5px,#0cf 22.5px,#0085ff 50.5px,#004bff 86.5px,#0000f5 87.5px,#0000f9 113.5px,#0025ff 127.5px,#005aff 129.5px,#06f 133.5px,#00e3ff 134.5px,#00e3ff 138.5px,#003fff 139.5px,#003bff 142.5px,#0053ff 146.5px,#0056ff 165.5px,#006aff 166.5px,#0091ff 167.5px,#00a9ff 168.5px,#00d1ff 173.5px,#00fffe 175.5px,#00ffc0 180.5px,#00ff9a 182.5px,#00ff2d 195.5px,#00ff1f 198.5px,#00ff1c 201.5px,#06ff00 205.5px,#8cff00 212.5px,#ebff00 216.5px,#fff500 217.5px,#ffe400 235.5px,#ffef00 237.5px,#ffe300 254.5px,#fff 255.5px,#fff 260.5px,#fff100 261.5px,#fff500 283.5px,#ffe400 284.5px,#fe0 306.5px,#fffa00 314.5px,#fff100 354.5px)"></i><i style="background:linear-gradient(#00d5ff 0.5px,#00d5ff 2.5px,#00fcff 3.5px,#00fcff 5.5px,#0fd 6.5px,#00ffde 8.5px,#00d5ff 9.5px,#00d5ff 11.5px,#00f9ff 12.5px,#00f3ff 14.5px,#00e0ff 15.5px,#00d9ff 17.5px,#00c5ff 18.5px,#00c5ff 20.5px,#00d2ff 21.5px,#00b4ff 27.5px,#005cff 71.5px,#0047ff 86.5px,#0000f8 87.5px,#0006ff 114.5px,#0028ff 127.5px,#005cff 129.5px,#0068ff 133.5px,#00e3ff 134.5px,#00e3ff 138.5px,#0041ff 139.5px,#003eff 142.5px,#05f 146.5px,#0058ff 165.5px,#006cff 166.5px,#0093ff 167.5px,#00abff 168.5px,#00d3ff 173.5px,#00fffd 175.5px,#00ff9d 183.5px,#00ff47 195.5px,#00ff3c 198.5px,#00ff2a 199.5px,#01ff03 206.5px,#5bff00 212.5px,#a9ff00 216.5px,#d9ff00 217.5px,#fefc00 222.5px,#fe0 235.5px,#fcfe00 236.5px,#fff900 254.5px,#fff 255.5px,#fff 260.5px,#ffe000 261.5px,#fff300 306.5px,#fffe00 317.5px,#fff200 354.5px)"></i><i style="background:linear-gradient(#00fff2 0.5px,#00fff2 2.5px,#0df 3.5px,#00e5ff 8.5px,#00f6ff 9.5px,#00f4ff 11.5px,#00dbff 12.5px,#00d5ff 14.5px,#00fffc 15.5px,#00f0ff 17.5px,#00c3ff 18.5px,#00c2ff 24.5px,#0064ff 66.5px,#0048ff 86.5px,#0000f5 87.5px,#0000f8 113.5px,#0025ff 127.5px,#0059ff 129.5px,#0065ff 133.5px,#00e3ff 134.5px,#00e3ff 138.5px,#003eff 139.5px,#0042ff 142.5px,#0059ff 146.5px,#005dff 165.5px,#0071ff 166.5px,#0098ff 167.5px,#00b0ff 168.5px,#00d8ff 173.5px,#00fffa 175.5px,#00ffb1 180.5px,#00ffa7 182.5px,#00ff45 195.5px,#00ff3d 198.5px,#00ff29 199.5px,#05ff02 208.5px,#6eff00 216.5px,#e7ff00 224.5px,#fcfe00 235.5px,#fff100 237.5px,#fff300 254.5px,#fff 255.5px,#fff 260.5px,#ffd600 261.5px,#ffd900 283.5px,#fff200 284.5px,#fff600 325.5px,#fff500 354.5px)"></i><i style="background:linear-gradient(#00ffec 0.5px,#00ffec 2.5px,#00fffd 3.5px,#00fffd 8.5px,#00ffd1 9.5px,#00ffd7 11.5px,#00fff4 12.5px,#00f4ff 16.5px,#00ebff 17.5px,#00f0ff 18.5px,#00c9ff 22.5px,#0069ff 64.5px,#0048ff 86.5px,#0000f7 87.5px,#0000fa 113.5px,#0025ff 127.5px,#005aff 129.5px,#06f 133.5px,#00e3ff 134.5px,#00e3ff 138.5px,#003fff 139.5px,#0042ff 142.5px,#0059ff 146.5px,#005dff 165.5px,#0070ff 166.5px,#0098ff 167.5px,#00afff 168.5px,#00d8ff 173.5px,#00fffa 175.5px,#00ff84 184.5px,#00ff34 194.5px,#00ff2c 198.5px,#00ff3c 199.5px,#00ff14 211.5px,#0fff01 216.5px,#b4ff00 223.5px,#c5ff00 226.5px,#daff00 235.5px,#cbff00 236.5px,#c5ff00 245.5px,#b6ff00 254.5px,#fff 255.5px,#fff 260.5px,#fff100 261.5px,#fffe00 306.5px,#edff00 307.5px,#ecff00 323.5px,#f1ff00 330.5px,#fdff00 333.5px,#fffa00 354.5px)"></i><i style="background:linear-gradient(#00f5ff 0.5px,#00f5ff 2.5px,#00ffea 3.5px,#00ffeb 5.5px,#00e3ff 6.5px,#00e3ff 8.5px,#00faff 9.5px,#00f7ff 11.5px,#0df 12.5px,#00c8ff 20.5px,#005fff 68.5px,#0046ff 86.5px,#0000f4 87.5px,#0000f7 113.5px,#0017ff 123.5px,#02f 127.5px,#0057ff 129.5px,#0063ff 133.5px,#00e3ff 134.5px,#00e3ff 138.5px,#003cff 139.5px,#003fff 142.5px,#0056ff 146.5px,#0059ff 165.5px,#006dff 166.5px,#0095ff 167.5px,#00acff 168.5px,#00d5ff 173.5px,#00fffc 175.5px,#00ff85 184.5px,#00ff35 194.5px,#00ff2e 198.5px,#00ff3b 199.5px,#00ff1a 210.5px,#06ff03 216.5px,#29ff00 218.5px,#a1ff00 223.5px,#b0ff00 225.5px,#c4ff00 235.5px,#d1ff00 237.5px,#abff00 254.5px,#fff 255.5px,#fff 260.5px,#ffef00 261.5px,#fff200 283.5px,#f6ff00 285.5px,#e0ff00 306.5px,#f7ff00 307.5px,#f6ff00 323.5px,#fffa00 354.5px)"></i><i style="background:linear-gradient(#00ffdc 0.5px,#00ffdc 2.5px,#00ffb2 3.5px,#00ffb3 5.5px,#00ffc6 6.5px,#00ffc9 8.5px,#00f9ff 9.5px,#00f3ff 11.5px,#00ffd2 12.5px,#00ffe7 14.5px,#00f4ff 15.5px,#00cfff 19.5px,#0084ff 48.5px,#0076ff 60.5px,#004fff 86.5px,#0000f1 87.5px,#0000f4 113.5px,#0007ff 115.5px,#02f 127.5px,#0056ff 129.5px,#0063ff 133.5px,#00e3ff 134.5px,#00e3ff 138.5px,#003bff 139.5px,#003eff 142.5px,#05f 146.5px,#0059ff 165.5px,#006cff 166.5px,#0094ff 167.5px,#00abff 168.5px,#00d4ff 173.5px,#00fffc 175.5px,#00ff85 184.5px,#0f3 194.5px,#00ff2b 198.5px,#00ff2e 201.5px,#02ff03 210.5px,#35ff00 216.5px,#13ff00 217.5px,#8aff00 223.5px,#9aff00 227.5px,#a1ff00 235.5px,#c6ff00 236.5px,#9cff00 248.5px,#92ff00 254.5px,#fff 255.5px,#fff 260.5px,#fffb00 261.5px,#f6ff00 299.5px,#efff00 306.5px,#fdff00 307.5px,#feff00 325.5px,#fffe00 330.5px,#f3ff00 332.5px,#fffe00 354.5px)"></i><i style="background:linear-gradient(#00ebff 0.5px,#00ebff 2.5px,#00baff 3.5px,#00beff 8.5px,#00f5ff 9.5px,#00f1ff 11.5px,#00c8ff 12.5px,#00c8ff 20.5px,#006fff 62.5px,#004bff 86.5px,#0000f3 87.5px,#0000f6 113.5px,#000cff 118.5px,#02f 127.5px,#0056ff 129.5px,#0063ff 133.5px,#00e3ff 134.5px,#00e3ff 138.5px,#003bff 139.5px,#003eff 142.5px,#05f 146.5px,#0059ff 165.5px,#006dff 166.5px,#0094ff 167.5px,#00acff 168.5px,#00d4ff 173.5px,#00fffc 175.5px,#00ff84 185.5px,#00ff3c 194.5px,#0f1 205.5px,#06ff00 208.5px,#5cff00 214.5px,#65ff00 216.5px,#59ff00 217.5px,#bfff00 224.5px,#c8ff00 234.5px,#c3ff00 235.5px,#e5ff00 236.5px,#afff00 245.5px,#a3ff00 254.5px,#fff 255.5px,#fff 260.5px,#fffe00 261.5px,#edff00 301.5px,#e5ff00 320.5px,#edff00 330.5px,#fbff00 332.5px,#fffa00 354.5px)"></i><i style="background:linear-gradient(#00ffed 0.5px,#00ffe9 8.5px,#00f1ff 9.5px,#00e9ff 11.5px,#00fff8 12.5px,#00f8ff 14.5px,#00e3ff 15.5px,#00a7ff 32.5px,#004eff 80.5px,#0046ff 86.5px,#0000f7 87.5px,#0000fa 113.5px,#0027ff 127.5px,#005bff 129.5px,#0067ff 133.5px,#00e3ff 134.5px,#00e3ff 138.5px,#0040ff 139.5px,#003fff 142.5px,#0056ff 146.5px,#0059ff 165.5px,#006dff 166.5px,#0095ff 167.5px,#00acff 168.5px,#00d4ff 173.5px,#00fffc 175.5px,#00ff7e 185.5px,#0f3 194.5px,#00ff28 198.5px,#00ff2d 200.5px,#05ff01 207.5px,#7dff00 214.5px,#93ff00 218.5px,#d2ff00 224.5px,#d4ff00 234.5px,#cdff00 235.5px,#f9ff00 236.5px,#b4ff00 244.5px,#a9ff00 254.5px,#fff 255.5px,#fff 260.5px,#fff600 261.5px,#fff800 283.5px,#ef0 284.5px,#deff00 316.5px,#e9ff00 330.5px,#fff200 331.5px,#ffeb00 354.5px)"></i><i style="background:linear-gradient(#0fe 0.5px,#00ffef 2.5px,#00d4ff 3.5px,#00d5ff 5.5px,#00f7ff 6.5px,#00f6ff 8.5px,#00d4ff 9.5px,#00caff 14.5px,#00d6ff 15.5px,#06f 63.5px,#04f 86.5px,#0000f7 87.5px,#0000fb 113.5px,#0023ff 127.5px,#0058ff 129.5px,#0064ff 133.5px,#00e3ff 134.5px,#00e3ff 138.5px,#003dff 139.5px,#003eff 142.5px,#05f 146.5px,#0059ff 165.5px,#006dff 166.5px,#0094ff 167.5px,#00acff 168.5px,#00d4ff 173.5px,#00fffc 175.5px,#00ff7a 185.5px,#00ff2b 194.5px,#0f1 202.5px,#04ff00 204.5px,#75ff00 210.5px,#b8ff00 213.5px,#fefe00 224.5px,#fcff00 234.5px,#86ff00 244.5px,#7fff00 254.5px,#fff 255.5px,#fff 260.5px,#fff700 261.5px,#fffe00 306.5px,#e1ff00 307.5px,#ecff00 330.5px,#ff0 331.5px,#fff800 354.5px)"></i><i style="background:linear-gradient(#00ffe9 0.5px,#00ffea 2.5px,#00ffdb 3.5px,#00ffdc 5.5px,#00ffed 6.5px,#00fff0 8.5px,#00f6ff 9.5px,#0df 14.5px,#00e6ff 15.5px,#00b3ff 28.5px,#0059ff 72.5px,#0046ff 86.5px,#0000f6 87.5px,#0000fa 113.5px,#0025ff 127.5px,#0059ff 129.5px,#06f 133.5px,#00e3ff 134.5px,#00e3ff 138.5px,#003eff 139.5px,#003dff 142.5px,#0054ff 146.5px,#0058ff 165.5px,#006cff 166.5px,#0093ff 167.5px,#00abff 168.5px,#00d3ff 173.5px,#00fffd 175.5px,#00ffbc 180.5px,#00ff8b 183.5px,#00ff26 194.5px,#00ff18 198.5px,#00ff17 201.5px,#00ff04 203.5px,#5eff00 208.5px,#df0 213.5px,#eaff00 215.5px,#ebff00 216.5px,#d6ff00 217.5px,#eaff00 226.5px,#e0ff00 234.5px,#d3ff00 235.5px,#df0 236.5px,#74ff00 244.5px,#71ff00 254.5px,#fff 255.5px,#fff 260.5px,#dfff00 261.5px,#dcff00 283.5px,#ffe800 284.5px,#ffed00 306.5px,#e8ff00 307.5px,#f5ff00 330.5px,#c1ff00 331.5px,#d5ff00 354.5px)"></i><i style="background:linear-gradient(#00f6ff 0.5px,#00f6ff 2.5px,#00ffeb 3.5px,#00ffec 5.5px,#00f4ff 6.5px,#00e3ff 11.5px,#00e1ff 14.5px,#0091ff 43.5px,#0049ff 86.5px,#0000f8 87.5px,#0001ff 114.5px,#0023ff 127.5px,#0057ff 129.5px,#0064ff 133.5px,#00e3ff 134.5px,#00e3ff 138.5px,#003cff 139.5px,#003dff 142.5px,#05f 146.5px,#0058ff 165.5px,#006cff 166.5px,#0093ff 167.5px,#00abff 168.5px,#00d3ff 173.5px,#00fffd 175.5px,#0fb 180.5px,#00ff9e 181.5px,#00ff38 190.5px,#0f1 195.5px,#00ff06 198.5px,#00ff13 199.5px,#00ff04 202.5px,#9cff00 209.5px,#f2ff00 212.5px,#fff400 214.5px,#fff400 216.5px,#f5ff00 218.5px,#eaff00 233.5px,#d2ff00 235.5px,#fff800 236.5px,#f0ff00 238.5px,#9f0 244.5px,#9f0 254.5px,#fff 255.5px,#fff 260.5px,#e7ff00 261.5px,#e5ff00 283.5px,#fffe00 284.5px,#f9ff00 318.5px,#ffef00 354.5px)"></i><i style="background:linear-gradient(#00f1ff 0.5px,#00f1ff 2.5px,#0fd 3.5px,#00ffe0 5.5px,#00fff1 8.5px,#00e6ff 9.5px,#00deff 11.5px,#00f9ff 12.5px,#00d6ff 16.5px,#006bff 62.5px,#0047ff 86.5px,#0000fb 87.5px,#0007ff 115.5px,#02f 127.5px,#0056ff 129.5px,#0063ff 133.5px,#00e3ff 134.5px,#00e3ff 138.5px,#003bff 139.5px,#004bff 143.5px,#0059ff 147.5px,#005cff 165.5px,#0070ff 166.5px,#0098ff 167.5px,#00afff 168.5px,#00d7ff 173.5px,#00fffa 175.5px,#00ffac 181.5px,#00ff32 194.5px,#00ff1a 202.5px,#00ff02 204.5px,#6cff00 209.5px,#deff00 213.5px,#edff00 214.5px,#ef0 216.5px,#fffd00 217.5px,#f6ff00 232.5px,#c6ff00 237.5px,#69ff00 244.5px,#69ff00 254.5px,#fff 255.5px,#fff 260.5px,#c1ff00 261.5px,#c0ff00 283.5px,#fffa00 284.5px,#fffe00 306.5px,#f0ff00 308.5px,#fffe00 330.5px,#fe0 331.5px,#ffe600 354.5px)"></i><i style="background:linear-gradient(#00f9ff 0.5px,#00f6ff 5.5px,#00ffd2 6.5px,#00ffde 8.5px,#00ebff 9.5px,#00e5ff 11.5px,#00f6ff 12.5px,#00d6ff 16.5px,#0076ff 58.5px,#004bff 86.5px,#0000f7 87.5px,#0000fb 113.5px,#0026ff 127.5px,#005aff 129.5px,#0067ff 133.5px,#00e3ff 134.5px,#00e3ff 138.5px,#003fff 139.5px,#0042ff 142.5px,#0059ff 146.5px,#005dff 165.5px,#0071ff 166.5px,#0098ff 167.5px,#00b0ff 168.5px,#00d8ff 173.5px,#00fffa 175.5px,#00ffb2 180.5px,#00ffb5 181.5px,#00ff45 194.5px,#00ff39 198.5px,#00ff1f 199.5px,#03ff00 204.5px,#6bff00 209.5px,#daff00 213.5px,#ef0 215.5px,#faff00 220.5px,#f4ff00 230.5px,#daff00 234.5px,#caff00 235.5px,#9eff00 236.5px,#43ff00 243.5px,#3eff00 254.5px,#fff 255.5px,#fff 260.5px,#bdff00 261.5px,#bdff00 283.5px,#dcff00 284.5px,#d3ff00 306.5px,#fffe00 307.5px,#fff600 330.5px,#ef0 331.5px,#fffd00 354.5px)"></i><i style="background:linear-gradient(#00daff 0.5px,#00dbff 2.5px,#0bf 3.5px,#00bfff 5.5px,#00d6ff 6.5px,#0df 8.5px,#00d1ff 9.5px,#00dfff 13.5px,#0086ff 48.5px,#004cff 86.5px,#0000f9 87.5px,#0005ff 114.5px,#0026ff 127.5px,#005bff 129.5px,#0067ff 133.5px,#00e3ff 134.5px,#00e3ff 138.5px,#0040ff 139.5px,#0041ff 142.5px,#0058ff 146.5px,#005cff 165.5px,#0070ff 166.5px,#0097ff 167.5px,#00aeff 168.5px,#00d7ff 173.5px,#00fffa 175.5px,#00ffb4 180.5px,#00ff39 194.5px,#00ff2f 198.5px,#00ff09 199.5px,#02ff00 202.5px,#83ff00 209.5px,#ef0 213.5px,#fffc00 215.5px,#fffc00 216.5px,#ef0 217.5px,#f3ff00 229.5px,#caff00 234.5px,#7cff00 240.5px,#5eff00 244.5px,#5eff00 254.5px,#fff 255.5px,#fff 260.5px,#f7ff00 261.5px,#f7ff00 283.5px,#bf0 284.5px,#b5ff00 306.5px,#dfff00 307.5px,#fffc00 342.5px,#fff800 354.5px)"></i><i style="background:linear-gradient(#00c0ff 0.5px,#00ceff 8.5px,#00e4ff 9.5px,#00e3ff 11.5px,#00d3ff 12.5px,#00c8ff 20.5px,#0068ff 64.5px,#0048ff 86.5px,#0000f9 87.5px,#0007ff 115.5px,#02f 127.5px,#0056ff 129.5px,#0062ff 133.5px,#00e3ff 134.5px,#00e3ff 138.5px,#003bff 139.5px,#003fff 142.5px,#0056ff 146.5px,#0059ff 165.5px,#006dff 166.5px,#0095ff 167.5px,#00acff 168.5px,#00d4ff 173.5px,#00fffc 175.5px,#00ffb8 180.5px,#00ff9a 184.5px,#00ff4a 194.5px,#00ff42 198.5px,#00ff1e 199.5px,#00ff06 204.5px,#27ff00 207.5px,#67ff00 210.5px,#caff00 214.5px,#d3ff00 216.5px,#b6ff00 217.5px,#bfff00 229.5px,#74ff00 236.5px,#4f0 240.5px,#2eff00 245.5px,#2eff00 254.5px,#fff 255.5px,#fff 260.5px,#f3ff00 261.5px,#f3ff00 283.5px,#c6ff00 284.5px,#c3ff00 306.5px,#dcff00 307.5px,#f3ff00 330.5px,#fffd00 332.5px,#fff400 354.5px)"></i><i style="background:linear-gradient(#00e6ff 0.5px,#00e6ff 2.5px,#00f7ff 3.5px,#00f7ff 5.5px,#00e5ff 6.5px,#00e2ff 8.5px,#00efff 9.5px,#00e7ff 13.5px,#00a9ff 32.5px,#0050ff 80.5px,#0048ff 86.5px,#0000f5 87.5px,#0000fc 114.5px,#001dff 127.5px,#0052ff 129.5px,#005eff 133.5px,#00e3ff 134.5px,#00e3ff 138.5px,#0037ff 139.5px,#0059ff 146.5px,#005cff 165.5px,#0070ff 166.5px,#0097ff 167.5px,#00afff 168.5px,#00d7ff 173.5px,#00fffa 175.5px,#00ffb3 180.5px,#00ffac 182.5px,#00ff47 194.5px,#00ff40 198.5px,#00ff24 199.5px,#00ff10 204.5px,#03ff01 206.5px,#3f0 209.5px,#aeff00 214.5px,#baff00 216.5px,#91ff00 217.5px,#9fff00 229.5px,#56ff00 235.5px,#81ff00 236.5px,#59ff00 239.5px,#48ff00 247.5px,#48ff00 254.5px,#fff 255.5px,#fff 260.5px,#e2ff00 261.5px,#ecff00 311.5px,#fffe00 330.5px,#e8ff00 331.5px,#fffe00 354.5px)"></i><i style="background:linear-gradient(#00ffd3 0.5px,#00ffd7 2.5px,#00ffeb 4.5px,#00ffef 5.5px,#00ffe4 6.5px,#00f4ff 10.5px,#00a0ff 38.5px,#005cff 70.5px,#0046ff 86.5px,#0000f6 87.5px,#0000fa 113.5px,#0021ff 127.5px,#05f 129.5px,#0061ff 133.5px,#00e3ff 134.5px,#00e3ff 138.5px,#003aff 139.5px,#005dff 146.5px,#0060ff 165.5px,#0074ff 166.5px,#009bff 167.5px,#00b3ff 168.5px,#00dbff 173.5px,#00fff8 175.5px,#00ffab 180.5px,#00ffa1 182.5px,#00ff35 194.5px,#00ff17 204.5px,#0aff00 208.5px,#97ff00 214.5px,#a5ff00 216.5px,#a5ff00 220.5px,#b8ff00 228.5px,#6eff00 234.5px,#2eff00 239.5px,#28ff00 254.5px,#fff 255.5px,#fff 260.5px,#e4ff00 261.5px,#ecff00 311.5px,#fff700 331.5px,#ffed00 354.5px)"></i><i style="background:linear-gradient(#00fff4 0.5px,#00f8ff 10.5px,#00bdff 25.5px,#005eff 68.5px,#0045ff 86.5px,#0000f7 87.5px,#0000fa 113.5px,#0023ff 127.5px,#0058ff 129.5px,#0064ff 133.5px,#00e3ff 134.5px,#00e3ff 138.5px,#003dff 139.5px,#0040ff 142.5px,#0057ff 146.5px,#005bff 165.5px,#006fff 166.5px,#0096ff 167.5px,#00adff 168.5px,#00d6ff 173.5px,#00fffc 175.5px,#00ff80 185.5px,#0f3 194.5px,#00ff2a 203.5px,#05ff04 209.5px,#6cff00 214.5px,#7aff00 216.5px,#5eff00 217.5px,#6fff00 229.5px,#0eff00 237.5px,#05ff04 243.5px,#06ff02 254.5px,#fff 255.5px,#fff 260.5px,#fffd00 261.5px,#fffd00 283.5px,#e9ff00 284.5px,#f1ff00 306.5px,#deff00 307.5px,#f7ff00 330.5px,#fe0 331.5px,#ffe400 354.5px)"></i><i style="background:linear-gradient(#009dff 0.5px,#00a5ff 2.5px,#00daff 3.5px,#00e0ff 5.5px,#00d3ff 6.5px,#00e9ff 9.5px,#009bff 38.5px,#0046ff 86.5px,#0000f7 87.5px,#0000fa 113.5px,#0026ff 127.5px,#005bff 129.5px,#0067ff 133.5px,#00e3ff 134.5px,#00e3ff 138.5px,#0040ff 139.5px,#003eff 142.5px,#05f 146.5px,#0058ff 165.5px,#006cff 166.5px,#0094ff 167.5px,#00abff 168.5px,#00d3ff 173.5px,#00fcff 175.5px,#00ff8d 186.5px,#00ff50 195.5px,#00ff3f 204.5px,#04ff06 212.5px,#24ff00 215.5px,#2bff00 230.5px,#0f0 235.5px,#00ff0c 241.5px,#00ff03 254.5px,#fff 255.5px,#fff 260.5px,#e4ff00 261.5px,#ebff00 301.5px,#ef0 306.5px,#fffd00 307.5px,#fff300 330.5px,#fffb00 333.5px,#fff200 354.5px)"></i><i style="background:linear-gradient(#0cf 0.5px,#00d2ff 2.5px,#00fffc 3.5px,#00feff 5.5px,#00deff 6.5px,#00e7ff 10.5px,#00bdff 23.5px,#0053ff 78.5px,#0048ff 86.5px,#0000f5 87.5px,#0000f9 113.5px,#02f 127.5px,#0056ff 129.5px,#0062ff 133.5px,#00e3ff 134.5px,#00e3ff 138.5px,#003bff 139.5px,#003dff 142.5px,#0054ff 146.5px,#0057ff 165.5px,#006bff 166.5px,#0093ff 167.5px,#0af 168.5px,#00e1ff 174.5px,#00fff9 177.5px,#00ffd1 189.5px,#00ffa2 220.5px,#00ff9a 226.5px,#00ff7a 227.5px,#00ff45 228.5px,#53ff06 230.5px,#81ff00 231.5px,#85ff00 235.5px,#b1fe00 236.5px,#c0fa00 252.5px,#98ff00 253.5px,#44ff03 254.5px,#fff 255.5px,#fff 260.5px,#f0cc00 261.5px,#f0cb00 283.5px,#e3d000 285.5px,#eace00 306.5px,#f8c900 308.5px,#ffc100 354.5px)"></i><i style="background:linear-gradient(#00e5ff 0.5px,#00e9ff 6.5px,#0ef 10.5px,#00b7ff 29.5px,#008bff 48.5px,#007bff 52.5px,#0045ff 86.5px,#0000f5 87.5px,#0000f8 113.5px,#0027ff 127.5px,#005cff 129.5px,#0068ff 133.5px,#00e3ff 134.5px,#00e3ff 138.5px,#0041ff 139.5px,#0042ff 142.5px,#0059ff 146.5px,#005cff 165.5px,#0070ff 166.5px,#0097ff 167.5px,#00afff 168.5px,#00e5ff 174.5px,#00feff 176.5px,#00ffef 180.5px,#00ffd2 229.5px,#00ffb0 251.5px,#00ffa9 254.5px,#fff 255.5px,#fff 260.5px,#ff8900 261.5px,#f80 306.5px,#ff9a00 307.5px,#ff9700 330.5px,#ff8a00 332.5px,#ff8600 354.5px)"></i><i style="background:linear-gradient(#0ff 0.5px,#00feff 2.5px,#00f0ff 3.5px,#00f8ff 7.5px,#00a0ff 35.5px,#004bff 83.5px,#0047ff 86.5px,#0000f8 87.5px,#0003ff 114.5px,#0025ff 127.5px,#0059ff 129.5px,#0065ff 133.5px,#00e3ff 134.5px,#00e3ff 138.5px,#003eff 139.5px,#003cff 142.5px,#0054ff 146.5px,#0057ff 165.5px,#006bff 166.5px,#0092ff 167.5px,#0af 168.5px,#00e0ff 174.5px,#00fffa 177.5px,#00ffe5 189.5px,#00ffbc 248.5px,#00ffa2 254.5px,#fff 255.5px,#fff 260.5px,#84cc00 261.5px,#84ca00 283.5px,#9bc100 284.5px,#a0c000 300.5px,#b6bf00 306.5px,#a7c700 307.5px,#ffc500 330.5px,#ffbe00 354.5px)"></i><i style="background:linear-gradient(#00fdff 0.5px,#00f4ff 9.5px,#00a0ff 36.5px,#0048ff 86.5px,#0000f8 87.5px,#0006ff 115.5px,#0021ff 127.5px,#0056ff 129.5px,#0062ff 133.5px,#00e3ff 134.5px,#00e3ff 138.5px,#003bff 139.5px,#003dff 142.5px,#0054ff 146.5px,#0058ff 165.5px,#006cff 166.5px,#0093ff 167.5px,#00abff 168.5px,#00d3ff 173.5px,#00fcff 175.5px,#00ffd0 181.5px,#00ffb8 190.5px,#00ffc5 206.5px,#00ffa0 241.5px,#00ff8a 249.5px,#00ff61 254.5px,#fff 255.5px,#fff 260.5px,#00ff06 261.5px,#00ff05 283.5px,#09ff00 287.5px,#10ff00 299.5px,#42ff00 306.5px,#2eff00 307.5px,#d9ff00 329.5px,#dbff00 330.5px,#fffe00 331.5px,#fff100 354.5px)"></i><i style="background:linear-gradient(#00f6ff 0.5px,#00f6ff 8.5px,#00a0ff 35.5px,#004aff 84.5px,#0047ff 86.5px,#0000f5 87.5px,#0000f9 113.5px,#0023ff 127.5px,#0057ff 129.5px,#0063ff 133.5px,#00e3ff 134.5px,#00e3ff 138.5px,#003cff 139.5px,#004aff 143.5px,#0058ff 147.5px,#005cff 165.5px,#006fff 166.5px,#0097ff 167.5px,#00aeff 168.5px,#00d6ff 173.5px,#00fffd 175.5px,#00ffcb 180.5px,#00ffb1 190.5px,#00ffc0 204.5px,#00ffa0 238.5px,#00ff7e 249.5px,#00ff52 254.5px,#fff 255.5px,#fff 260.5px,#05ff00 261.5px,#09ff00 283.5px,#00ff07 288.5px,#03ff00 300.5px,#2dff00 306.5px,#48ff00 308.5px,#e9ff00 329.5px,#eaff00 330.5px,#cdff00 331.5px,#ef0 354.5px)"></i><i style="background:linear-gradient(#00f8ff 0.5px,#00ecff 10.5px,#09f 38.5px,#0047ff 86.5px,#0000f7 87.5px,#0000fe 114.5px,#001fff 127.5px,#0054ff 129.5px,#0060ff 133.5px,#00e3ff 134.5px,#00e3ff 138.5px,#0039ff 139.5px,#003cff 142.5px,#0054ff 146.5px,#0057ff 165.5px,#006bff 166.5px,#0092ff 167.5px,#0af 168.5px,#00d2ff 173.5px,#00fdff 175.5px,#00ffd1 180.5px,#00ffb3 190.5px,#00ffbd 200.5px,#00ffb8 216.5px,#00ffa1 230.5px,#00ff90 241.5px,#00ff75 249.5px,#00ff48 254.5px,#fff 255.5px,#fff 260.5px,#18ff00 261.5px,#1dff00 283.5px,#2aff00 285.5px,#36ff00 299.5px,#67ff00 306.5px,#51ff00 307.5px,#f4ff00 329.5px,#f6ff00 330.5px,#e2ff00 331.5px,#fffd00 354.5px)"></i><i style="background:linear-gradient(#00feff 0.5px,#00eaff 11.5px,#0092ff 43.5px,#0047ff 85.5px,#0046ff 86.5px,#0000f4 87.5px,#0000f8 113.5px,#0021ff 127.5px,#05f 129.5px,#0061ff 133.5px,#00e3ff 134.5px,#00e3ff 138.5px,#003aff 139.5px,#003bff 142.5px,#0052ff 146.5px,#05f 165.5px,#0069ff 166.5px,#0091ff 167.5px,#00a8ff 168.5px,#00d0ff 173.5px,#00fbff 175.5px,#00ffc5 182.5px,#00ffa9 189.5px,#00ffc0 203.5px,#00ffa9 228.5px,#00ff9f 235.5px,#00ff8b 238.5px,#00ff63 249.5px,#00ff34 254.5px,#fff 255.5px,#fff 260.5px,#00ff14 261.5px,#00ff10 283.5px,#16ff00 284.5px,#25ff00 299.5px,#5f0 306.5px,#2bff00 307.5px,#cbff00 329.5px,#deff00 335.5px,#f9ff00 354.5px)"></i><i style="background:linear-gradient(#00fcff 0.5px,#00e8ff 11.5px,#00a4ff 36.5px,#005cff 69.5px,#0045ff 86.5px,#0000f7 87.5px,#0000fb 113.5px,#0025ff 127.5px,#005aff 129.5px,#06f 133.5px,#00e3ff 134.5px,#00e3ff 138.5px,#003fff 139.5px,#0034ff 141.5px,#0050ff 146.5px,#0053ff 165.5px,#0067ff 166.5px,#008eff 167.5px,#00a6ff 168.5px,#00ceff 173.5px,#00f8ff 175.5px,#0fc 182.5px,#00ffb5 190.5px,#00ffc3 198.5px,#00ffb9 202.5px,#00ffa1 231.5px,#00ff9a 235.5px,#0f8 237.5px,#00ff5c 249.5px,#00ff2c 254.5px,#fff 255.5px,#fff 260.5px,#00ff0d 261.5px,#00ff08 283.5px,#0dff00 285.5px,#1fff00 299.5px,#4fff00 306.5px,#45ff00 307.5px,#e1ff00 329.5px,#e2ff00 330.5px,#f9ff00 331.5px,#fff400 354.5px)"></i><i style="background:linear-gradient(#00fcff 0.5px,#00e8ff 11.5px,#00a3ff 36.5px,#004cff 86.5px,#0000f7 87.5px,#0000fa 113.5px,#0027ff 127.5px,#005bff 129.5px,#0067ff 133.5px,#00e3ff 134.5px,#00e3ff 138.5px,#0040ff 139.5px,#003dff 142.5px,#0054ff 146.5px,#0057ff 165.5px,#006bff 166.5px,#0092ff 167.5px,#0af 168.5px,#00d2ff 173.5px,#00fdff 175.5px,#00ffc8 181.5px,#00ffa5 189.5px,#00ffbf 202.5px,#00ffb9 216.5px,#00ffab 220.5px,#00ff90 236.5px,#00ff61 249.5px,#0f3 254.5px,#fff 255.5px,#fff 260.5px,#06ff00 261.5px,#10ff00 283.5px,#32ff00 284.5px,#43ff00 298.5px,#7f0 306.5px,#64ff00 307.5px,#fcff00 329.5px,#fdff00 330.5px,#b7ff00 331.5px,#d8ff00 354.5px)"></i><i style="background:linear-gradient(#00f9ff 0.5px,#00e5ff 11.5px,#008eff 42.5px,#0045ff 86.5px,#0000f7 87.5px,#0000fa 113.5px,#0025ff 127.5px,#005aff 129.5px,#06f 133.5px,#00e3ff 134.5px,#00e3ff 138.5px,#003fff 139.5px,#003fff 142.5px,#0056ff 146.5px,#0059ff 165.5px,#006dff 166.5px,#0094ff 167.5px,#00acff 168.5px,#00d4ff 173.5px,#0ff 175.5px,#00ffc6 181.5px,#00ffa2 189.5px,#00ffb0 201.5px,#00ffa4 216.5px,#00ffab 218.5px,#00ff8d 236.5px,#00ff61 249.5px,#00ff34 254.5px,#fff 255.5px,#fff 260.5px,#02ff00 261.5px,#0fff00 283.5px,#2f0 284.5px,#32ff00 297.5px,#69ff00 306.5px,#97ff00 307.5px,#fffd00 323.5px,#fe0 330.5px,#eaff00 331.5px,#fffb00 352.5px,#fffa00 354.5px)"></i><i style="background:linear-gradient(#00fbff 0.5px,#00e7ff 11.5px,#0091ff 41.5px,#0049ff 86.5px,#0000f7 87.5px,#0000fa 113.5px,#0027ff 127.5px,#005cff 129.5px,#0068ff 133.5px,#00e3ff 134.5px,#00e3ff 138.5px,#0041ff 139.5px,#0037ff 141.5px,#0053ff 146.5px,#0056ff 165.5px,#006aff 166.5px,#0091ff 167.5px,#00a9ff 168.5px,#00d1ff 173.5px,#00f9ff 175.5px,#00ffb0 182.5px,#00ff96 191.5px,#00ffa1 197.5px,#00ffa6 198.5px,#00ff98 199.5px,#00ff96 208.5px,#00ff81 213.5px,#00ff6c 216.5px,#00ff7b 217.5px,#00ff5a 235.5px,#00ff6a 236.5px,#0f4 249.5px,#00ff17 254.5px,#fff 255.5px,#fff 260.5px,#00ff10 261.5px,#00ff08 283.5px,#0cff00 285.5px,#1eff00 297.5px,#edff00 330.5px,#e7ff00 333.5px,#fffd00 354.5px)"></i><i style="background:linear-gradient(#0ff 0.5px,#00eaff 11.5px,#009cff 36.5px,#0081ff 48.5px,#0085ff 51.5px,#004dff 86.5px,#0000f4 87.5px,#0000f8 113.5px,#02f 127.5px,#0057ff 129.5px,#0063ff 133.5px,#00e3ff 134.5px,#00e3ff 138.5px,#003cff 139.5px,#004bff 143.5px,#0059ff 147.5px,#005cff 165.5px,#0070ff 166.5px,#0098ff 167.5px,#00afff 168.5px,#00d7ff 173.5px,#00feff 175.5px,#00ffd9 178.5px,#00ff9f 181.5px,#00ff78 190.5px,#00ff72 195.5px,#00ff9c 201.5px,#00ff84 211.5px,#00ff3e 218.5px,#00ff21 235.5px,#00ff2f 236.5px,#00ff10 249.5px,#09ff01 251.5px,#34ff00 254.5px,#fff 255.5px,#fff 260.5px,#00ff0a 261.5px,#00ff01 283.5px,#00ff07 289.5px,#08ff00 298.5px,#3aff00 306.5px,#5dff00 307.5px,#eaff00 330.5px,#faff00 331.5px,#fff400 354.5px)"></i><i style="background:linear-gradient(#00fffc 0.5px,#00f8ff 9.5px,#00c8ff 23.5px,#00b5ff 25.5px,#007eff 48.5px,#0081ff 51.5px,#0049ff 86.5px,#0000f5 87.5px,#0000f9 113.5px,#0023ff 127.5px,#0058ff 129.5px,#0064ff 133.5px,#00e3ff 134.5px,#00e3ff 138.5px,#003dff 139.5px,#003dff 142.5px,#0054ff 146.5px,#0057ff 165.5px,#006bff 166.5px,#0093ff 167.5px,#0af 168.5px,#00d2ff 173.5px,#00f8ff 175.5px,#00ffdf 178.5px,#00ffb7 180.5px,#00ff94 189.5px,#00ff8c 195.5px,#00ff9f 198.5px,#00ff86 199.5px,#00ff8f 202.5px,#00ff73 211.5px,#0f2 219.5px,#05ff00 245.5px,#1bff00 249.5px,#63ff00 253.5px,#6dff00 254.5px,#fff 255.5px,#fff 260.5px,#00ff1b 261.5px,#0f1 283.5px,#2cff00 284.5px,#3eff00 296.5px,#79ff00 306.5px,#69ff00 307.5px,#f2ff00 330.5px,#fff800 354.5px)"></i><i style="background:linear-gradient(#00fffd 0.5px,#00f1ff 10.5px,#00a1ff 36.5px,#004bff 86.5px,#0000f6 87.5px,#0000fa 113.5px,#0027ff 127.5px,#005bff 129.5px,#0067ff 133.5px,#00e3ff 134.5px,#00e3ff 138.5px,#0040ff 139.5px,#003eff 142.5px,#05f 146.5px,#0058ff 165.5px,#006cff 166.5px,#0093ff 167.5px,#00abff 168.5px,#00d3ff 173.5px,#00f9ff 175.5px,#00ffde 178.5px,#0fa 181.5px,#00ff83 192.5px,#0f8 196.5px,#00ff95 198.5px,#00ff82 199.5px,#00ff8a 202.5px,#00ff6b 211.5px,#00ff15 219.5px,#03ff00 235.5px,#00ff08 237.5px,#0fff00 246.5px,#20ff00 249.5px,#69ff00 253.5px,#72ff00 254.5px,#fff 255.5px,#fff 260.5px,#13ff00 261.5px,#27ff00 283.5px,#12ff00 284.5px,#2f0 295.5px,#62ff00 306.5px,#57ff00 307.5px,#dbff00 330.5px,#fff800 331.5px,#ffeb00 354.5px)"></i><i style="background:linear-gradient(#0ff 0.5px,#00ebff 11.5px,#0093ff 43.5px,#0048ff 86.5px,#0000f5 87.5px,#0000f8 113.5px,#02f 127.5px,#0057ff 129.5px,#0063ff 133.5px,#00e3ff 134.5px,#00e3ff 138.5px,#003bff 139.5px,#003dff 142.5px,#0054ff 146.5px,#0057ff 165.5px,#006bff 166.5px,#0093ff 167.5px,#0af 168.5px,#00d2ff 173.5px,#00f8ff 175.5px,#00ffdf 178.5px,#0fa 181.5px,#00ff84 192.5px,#00ff87 196.5px,#00ff98 202.5px,#00ff7b 211.5px,#00ff4d 216.5px,#00ff2c 218.5px,#01ff00 248.5px,#5dff00 254.5px,#fff 255.5px,#fff 260.5px,#1f0 261.5px,#26ff00 283.5px,#32ff00 286.5px,#41ff00 295.5px,#fffd00 328.5px,#fff200 354.5px)"></i><i style="background:linear-gradient(#00fffe 0.5px,#00f1ff 10.5px,#00a2ff 34.5px,#05f 77.5px,#0048ff 86.5px,#0000f8 87.5px,#0002ff 114.5px,#0024ff 127.5px,#0058ff 129.5px,#0064ff 133.5px,#00e3ff 134.5px,#00e3ff 138.5px,#003dff 139.5px,#003dff 142.5px,#0054ff 146.5px,#0057ff 165.5px,#006bff 166.5px,#0092ff 167.5px,#0af 168.5px,#00d2ff 173.5px,#00f8ff 175.5px,#00ffdf 178.5px,#00ffb7 180.5px,#00ff9c 185.5px,#0f8 195.5px,#00ff9d 201.5px,#00ff74 212.5px,#00ff52 216.5px,#00ff3a 217.5px,#00ff28 222.5px,#00ff16 235.5px,#00ff1b 238.5px,#00ff06 249.5px,#2cff00 252.5px,#48ff00 254.5px,#fff 255.5px,#fff 260.5px,#00ff12 261.5px,#00ff05 283.5px,#24ff00 284.5px,#36ff00 295.5px,#78ff00 306.5px,#b5ff00 318.5px,#fff800 332.5px,#ffec00 354.5px)"></i><i style="background:linear-gradient(#00fffd 0.5px,#00f2ff 10.5px,#00c6ff 23.5px,#00aeff 28.5px,#0056ff 73.5px,#04f 86.5px,#0000f5 87.5px,#0000f9 113.5px,#0024ff 127.5px,#0059ff 129.5px,#0065ff 133.5px,#00e3ff 134.5px,#00e3ff 138.5px,#003dff 139.5px,#003cff 142.5px,#0053ff 146.5px,#0056ff 165.5px,#006aff 166.5px,#0091ff 167.5px,#00a9ff 168.5px,#00d1ff 173.5px,#00f7ff 175.5px,#00ffe0 178.5px,#00ff9f 182.5px,#00ff7f 195.5px,#00ff8e 198.5px,#00ff82 199.5px,#00ff85 202.5px,#00ff57 212.5px,#00ff36 216.5px,#0f3 218.5px,#00ff18 235.5px,#00ff23 237.5px,#00ff0d 249.5px,#0dff00 251.5px,#3aff00 254.5px,#fff 255.5px,#fff 260.5px,#0fff00 261.5px,#28ff00 283.5px,#3fff00 284.5px,#53ff00 295.5px,#95ff00 306.5px,#79ff00 307.5px,#f1ff00 330.5px,#e2ff00 331.5px,#fffe00 354.5px)"></i><i style="background:linear-gradient(#00fffe 0.5px,#00f0ff 10.5px,#00a1ff 35.5px,#0058ff 76.5px,#004bff 86.5px,#0000f4 87.5px,#0000f8 113.5px,#0025ff 127.5px,#005aff 129.5px,#06f 133.5px,#00e3ff 134.5px,#00e3ff 138.5px,#003fff 139.5px,#0043ff 142.5px,#005aff 146.5px,#005dff 165.5px,#0071ff 166.5px,#09f 167.5px,#00b0ff 168.5px,#00d8ff 173.5px,#00feff 175.5px,#00ffd8 178.5px,#0fa 180.5px,#00ff83 189.5px,#00ff78 195.5px,#00ff85 198.5px,#00ff71 199.5px,#00ff72 202.5px,#00ff38 213.5px,#00ff14 219.5px,#01ff01 235.5px,#00ff1b 236.5px,#00ff05 249.5px,#47ff00 254.5px,#fff 255.5px,#fff 260.5px,#0cff00 261.5px,#29ff00 283.5px,#09ff00 284.5px,#20ff00 295.5px,#5cff00 306.5px,#9bff00 307.5px,#fffe00 328.5px,#fffc00 330.5px,#f1ff00 331.5px,#fff900 352.5px,#fff800 354.5px)"></i><i style="background:linear-gradient(#00fffe 0.5px,#00f0ff 10.5px,#009cff 38.5px,#004cff 86.5px,#0000f6 87.5px,#0000fd 114.5px,#001eff 127.5px,#0053ff 129.5px,#005fff 133.5px,#00e3ff 134.5px,#00e3ff 138.5px,#0038ff 139.5px,#0048ff 143.5px,#0056ff 147.5px,#0059ff 165.5px,#006dff 166.5px,#0095ff 167.5px,#00acff 168.5px,#00d4ff 173.5px,#00faff 175.5px,#00ffdc 178.5px,#00ffa1 181.5px,#00ff7a 191.5px,#00ff5f 203.5px,#00ff1b 216.5px,#2dff00 217.5px,#43ff00 221.5px,#52ff00 233.5px,#51ff00 235.5px,#00ff02 236.5px,#1aff00 248.5px,#6bff00 254.5px,#fff 255.5px,#fff 260.5px,#0eff00 261.5px,#43ff00 294.5px,#7cff00 306.5px,#95ff00 307.5px,#f5ff00 331.5px,#fff800 354.5px)"></i><i style="background:linear-gradient(#00fbff 0.5px,#00e7ff 11.5px,#0097ff 40.5px,#0048ff 86.5px,#0000f3 87.5px,#0000f6 113.5px,#000dff 118.5px,#02f 127.5px,#0057ff 129.5px,#0063ff 133.5px,#00e3ff 134.5px,#00e3ff 138.5px,#003cff 139.5px,#003eff 142.5px,#05f 146.5px,#0058ff 165.5px,#006cff 166.5px,#0093ff 167.5px,#00abff 168.5px,#00d3ff 173.5px,#00f9ff 175.5px,#00ffde 178.5px,#00ff9d 181.5px,#00ff76 190.5px,#0f5 198.5px,#00ff69 199.5px,#00ff1c 216.5px,#25ff00 217.5px,#3aff00 223.5px,#3fff00 230.5px,#2fff00 238.5px,#4f0 247.5px,#92ff00 254.5px,#fff 255.5px,#fff 260.5px,#36ff00 261.5px,#5cff00 283.5px,#75ff00 284.5px,#b8ff00 304.5px,#c0ff00 306.5px,#81ff00 307.5px,#d2ff00 330.5px,#ff0 331.5px,#fff500 354.5px)"></i><i style="background:linear-gradient(#00fffe 0.5px,#00f0ff 10.5px,#009fff 36.5px,#0048ff 83.5px,#04f 86.5px,#0000f3 87.5px,#0000f7 113.5px,#0014ff 121.5px,#0024ff 127.5px,#0059ff 129.5px,#0065ff 133.5px,#00e3ff 134.5px,#00e3ff 138.5px,#003eff 139.5px,#004dff 143.5px,#005bff 147.5px,#005eff 165.5px,#0072ff 166.5px,#009aff 167.5px,#00b1ff 168.5px,#00d9ff 173.5px,#0ff 175.5px,#00ffd7 178.5px,#00ff91 181.5px,#00ff6e 187.5px,#00ff52 195.5px,#00ff2e 198.5px,#00ff40 199.5px,#04ff07 209.5px,#1eff00 216.5px,#38ff00 218.5px,#47ff00 229.5px,#24ff00 235.5px,#30ff00 236.5px,#3bff00 246.5px,#86ff00 253.5px,#89ff00 254.5px,#fff 255.5px,#fff 260.5px,#34ff00 261.5px,#5eff00 283.5px,#8dff00 284.5px,#d5ff00 306.5px,#b8ff00 307.5px,#fdff00 330.5px,#d4ff00 331.5px,#ecff00 354.5px)"></i><i style="background:linear-gradient(#00fcff 0.5px,#00e8ff 11.5px,#09f 37.5px,#0049ff 85.5px,#0048ff 86.5px,#0000f3 87.5px,#0000f6 113.5px,#000fff 120.5px,#0021ff 127.5px,#05f 129.5px,#0062ff 133.5px,#00e3ff 134.5px,#00e3ff 138.5px,#003aff 139.5px,#003eff 142.5px,#0056ff 146.5px,#0059ff 165.5px,#006dff 166.5px,#0094ff 167.5px,#00acff 168.5px,#00d4ff 173.5px,#00faff 175.5px,#0fd 178.5px,#00ff97 182.5px,#00ff6a 195.5px,#00ff1e 200.5px,#0bff02 205.5px,#36ff00 209.5px,#4cff00 216.5px,#70ff00 217.5px,#7dff00 229.5px,#49ff00 235.5px,#2eff00 236.5px,#35ff00 246.5px,#73ff00 251.5px,#7cff00 254.5px,#fff 255.5px,#fff 260.5px,#31ff00 261.5px,#5fff00 283.5px,#82ff00 284.5px,#c6ff00 306.5px,#df0 307.5px,#fffb00 324.5px,#fff200 354.5px)"></i><i style="background:linear-gradient(#0ff 0.5px,#00ebff 11.5px,#00a0ff 34.5px,#0080ff 48.5px,#0087ff 50.5px,#004dff 86.5px,#0000f3 87.5px,#0000f6 113.5px,#000cff 118.5px,#0021ff 127.5px,#0056ff 129.5px,#0062ff 133.5px,#00e3ff 134.5px,#00e3ff 138.5px,#003bff 139.5px,#0049ff 143.5px,#0057ff 147.5px,#005aff 165.5px,#006eff 166.5px,#0095ff 167.5px,#00adff 168.5px,#00d4ff 173.5px,#00fbff 175.5px,#00ffdc 178.5px,#00ffa1 181.5px,#00ff79 191.5px,#00ff72 194.5px,#00ff3b 197.5px,#04ff02 200.5px,#78ff00 209.5px,#8bff00 229.5px,#49ff00 235.5px,#5cff00 236.5px,#56ff00 245.5px,#9eff00 251.5px,#9fff00 254.5px,#fff 255.5px,#fff 260.5px,#36ff00 261.5px,#64ff00 282.5px,#68ff00 283.5px,#89ff00 284.5px,#bf0 299.5px,#f3ff00 330.5px,#fffe00 332.5px,#fff700 354.5px)"></i><i style="background:linear-gradient(#00fffb 0.5px,#00f9ff 9.5px,#00a7ff 34.5px,#0057ff 74.5px,#0046ff 86.5px,#0000f7 87.5px,#0000fa 113.5px,#0024ff 127.5px,#0058ff 129.5px,#0065ff 133.5px,#00e3ff 134.5px,#00e3ff 138.5px,#003dff 139.5px,#0041ff 142.5px,#0058ff 146.5px,#005bff 165.5px,#006fff 166.5px,#0097ff 167.5px,#00aeff 168.5px,#00d6ff 173.5px,#00fcff 175.5px,#00ffda 178.5px,#00ff9b 181.5px,#00ff74 190.5px,#00ff69 194.5px,#00ff2e 197.5px,#00ff18 198.5px,#12ff00 199.5px,#3cff00 201.5px,#a9ff00 209.5px,#b4ff00 216.5px,#8cff00 217.5px,#8cff00 229.5px,#48ff00 235.5px,#84ff00 236.5px,#78ff00 245.5px,#c3ff00 251.5px,#c3ff00 254.5px,#fff 255.5px,#fff 260.5px,#3dff00 261.5px,#6bff00 281.5px,#74ff00 283.5px,#9dff00 284.5px,#cf0 296.5px,#ff0 330.5px,#ffe700 331.5px,#ffe000 354.5px)"></i><i style="background:linear-gradient(#00fffc 0.5px,#00f3ff 10.5px,#00a3ff 36.5px,#0062ff 64.5px,#0042ff 86.5px,#0000f5 87.5px,#0000f9 113.5px,#0021ff 127.5px,#0056ff 129.5px,#0062ff 133.5px,#00e3ff 134.5px,#00e3ff 138.5px,#003bff 139.5px,#004aff 143.5px,#0058ff 147.5px,#005bff 165.5px,#006fff 166.5px,#0097ff 167.5px,#00aeff 168.5px,#00d6ff 173.5px,#00fcff 175.5px,#00ffda 178.5px,#00ff9e 181.5px,#00ff75 191.5px,#00ff6d 194.5px,#00ff31 197.5px,#00ff05 199.5px,#8aff00 208.5px,#a0ff00 216.5px,#85ff00 217.5px,#85ff00 228.5px,#3cff00 235.5px,#4fff00 236.5px,#3dff00 244.5px,#43ff00 246.5px,#89ff00 251.5px,#89ff00 254.5px,#fff 255.5px,#fff 260.5px,#53ff00 261.5px,#97ff00 283.5px,#b4ff00 284.5px,#e2ff00 296.5px,#ebff00 306.5px,#ff0 307.5px,#fff600 330.5px,#ffec00 339.5px,#ffe800 354.5px)"></i><i style="background:linear-gradient(#00fffe 0.5px,#00efff 10.5px,#009dff 39.5px,#0062ff 65.5px,#04f 86.5px,#0000f6 87.5px,#0000fa 113.5px,#0021ff 127.5px,#0056ff 129.5px,#0062ff 133.5px,#00e3ff 134.5px,#00e3ff 138.5px,#003bff 139.5px,#0049ff 143.5px,#0057ff 147.5px,#005aff 165.5px,#006eff 166.5px,#0095ff 167.5px,#00adff 168.5px,#00d4ff 173.5px,#00fbff 175.5px,#00ffdc 178.5px,#00ffa2 181.5px,#00ff7a 191.5px,#00ff72 194.5px,#00ff4e 196.5px,#00ff0c 199.5px,#17ff00 201.5px,#81ff00 208.5px,#9bff00 216.5px,#94ff00 218.5px,#92ff00 225.5px,#87ff00 229.5px,#43ff00 235.5px,#25ff00 237.5px,#14ff00 245.5px,#63ff00 251.5px,#63ff00 254.5px,#fff 255.5px,#fff 260.5px,#5aff00 261.5px,#79ff00 268.5px,#93ff00 273.5px,#b3ff00 283.5px,#dbff00 284.5px,#fffe00 294.5px,#fffa00 306.5px,#daff00 307.5px,#ebff00 330.5px,#fffd00 331.5px,#fff500 354.5px)"></i><i style="background:linear-gradient(#00fdff 0.5px,#00e9ff 11.5px,#009fff 38.5px,#004bff 85.5px,#004aff 86.5px,#0000f8 87.5px,#0007ff 116.5px,#0020ff 127.5px,#0054ff 129.5px,#0061ff 133.5px,#00e3ff 134.5px,#00e3ff 138.5px,#0039ff 139.5px,#0047ff 143.5px,#0056ff 147.5px,#0059ff 165.5px,#006cff 166.5px,#0094ff 167.5px,#00abff 168.5px,#00d3ff 173.5px,#00f9ff 175.5px,#0fd 178.5px,#00ffa6 181.5px,#00ff7e 192.5px,#00ff6d 195.5px,#01ff00 200.5px,#7eff00 208.5px,#b1ff00 221.5px,#97ff00 229.5px,#54ff00 235.5px,#73ff00 236.5px,#58ff00 241.5px,#53ff00 245.5px,#8bff00 249.5px,#a3ff00 251.5px,#a3ff00 254.5px,#fff 255.5px,#fff 260.5px,#48ff00 261.5px,#6f0 267.5px,#91ff00 271.5px,#b6ff00 283.5px,#f7ff00 284.5px,#fff200 306.5px,#fff300 330.5px,#fffa00 334.5px,#fff300 354.5px)"></i><i style="background:linear-gradient(#00fdff 0.5px,#00e9ff 11.5px,#009dff 34.5px,#0059ff 72.5px,#0046ff 86.5px,#0000f6 87.5px,#0000fa 113.5px,#0023ff 127.5px,#0057ff 129.5px,#0064ff 133.5px,#00e3ff 134.5px,#00e3ff 138.5px,#003cff 139.5px,#003dff 142.5px,#05f 146.5px,#0058ff 165.5px,#006cff 166.5px,#0093ff 167.5px,#00abff 168.5px,#00d2ff 173.5px,#00f8ff 175.5px,#00ffde 178.5px,#00ff9b 181.5px,#00ff74 190.5px,#00ff69 194.5px,#00ff42 196.5px,#0f1 198.5px,#00ff1a 199.5px,#0f0 201.5px,#6fff00 208.5px,#91ff00 216.5px,#c6ff00 217.5px,#ceff00 222.5px,#a8ff00 230.5px,#6eff00 235.5px,#4eff00 237.5px,#37ff00 242.5px,#39ff00 246.5px,#84ff00 251.5px,#84ff00 254.5px,#fff 255.5px,#fff 260.5px,#47ff00 261.5px,#6cff00 267.5px,#a5ff00 271.5px,#caff00 283.5px,#f5ff00 284.5px,#fff700 295.5px,#fff600 306.5px,#deff00 307.5px,#e7ff00 330.5px,#fffc00 331.5px,#fff200 354.5px)"></i><i style="background:linear-gradient(#00f9ff 0.5px,#00e5ff 11.5px,#0096ff 40.5px,#004bff 86.5px,#0000f4 87.5px,#0000f8 113.5px,#0023ff 127.5px,#0058ff 129.5px,#0064ff 133.5px,#00e3ff 134.5px,#00e3ff 138.5px,#003dff 139.5px,#003fff 142.5px,#0056ff 146.5px,#0059ff 165.5px,#006dff 166.5px,#0094ff 167.5px,#00acff 168.5px,#00d4ff 173.5px,#00faff 175.5px,#0fd 178.5px,#00ff95 181.5px,#00ff71 188.5px,#00ff60 194.5px,#00ff37 196.5px,#00ff04 198.5px,#01ff00 199.5px,#20ff00 200.5px,#a3ff00 208.5px,#deff00 221.5px,#aeff00 230.5px,#47ff00 239.5px,#37ff00 245.5px,#61ff00 248.5px,#8bff00 251.5px,#8bff00 254.5px,#fff 255.5px,#fff 260.5px,#1aff00 261.5px,#46ff00 267.5px,#8dff00 271.5px,#b2ff00 283.5px,#c9ff00 284.5px,#e3ff00 295.5px,#e4ff00 306.5px,#efff00 308.5px,#f4ff00 330.5px,#fff000 331.5px,#ffe600 354.5px)"></i><i style="background:linear-gradient(#00feff 0.5px,#00e9ff 11.5px,#009fff 38.5px,#0053ff 78.5px,#0048ff 86.5px,#0000f1 87.5px,#0000f5 113.5px,#0009ff 116.5px,#02f 127.5px,#0056ff 129.5px,#0063ff 133.5px,#00e3ff 134.5px,#00e3ff 138.5px,#003bff 139.5px,#0049ff 143.5px,#0057ff 147.5px,#005bff 165.5px,#006eff 166.5px,#0096ff 167.5px,#00adff 168.5px,#00d5ff 173.5px,#00fbff 175.5px,#00ffdb 178.5px,#00ff9e 181.5px,#00ff75 191.5px,#00ff6d 194.5px,#00ff46 196.5px,#00ff13 198.5px,#12ff00 199.5px,#32ff00 200.5px,#b7ff00 208.5px,#e2ff00 216.5px,#b5ff00 217.5px,#c4ff00 221.5px,#86ff00 231.5px,#53ff00 235.5px,#68ff00 236.5px,#40ff00 240.5px,#34ff00 245.5px,#5fff00 248.5px,#8aff00 251.5px,#8aff00 254.5px,#fff 255.5px,#fff 260.5px,#16ff00 261.5px,#49ff00 267.5px,#91ff00 270.5px,#a1ff00 272.5px,#c3ff00 283.5px,#d5ff00 284.5px,#eaff00 295.5px,#e9ff00 306.5px,#f8ff00 307.5px,#f8ff00 330.5px,#fff200 332.5px,#ffe700 354.5px)"></i><i style="background:linear-gradient(#00fffd 0.5px,#00f1ff 10.5px,#00c6ff 23.5px,#00acff 29.5px,#0053ff 75.5px,#04f 86.5px,#0000f5 87.5px,#0000f8 113.5px,#0027ff 127.5px,#005bff 129.5px,#0068ff 133.5px,#00e3ff 134.5px,#00e3ff 138.5px,#0040ff 139.5px,#003fff 142.5px,#0056ff 146.5px,#0059ff 165.5px,#006dff 166.5px,#0094ff 167.5px,#00acff 168.5px,#00d4ff 173.5px,#00faff 175.5px,#0fd 178.5px,#00ff9f 181.5px,#00ff76 191.5px,#00ff6f 194.5px,#00ff46 196.5px,#00ff01 199.5px,#2fff00 201.5px,#a6ff00 208.5px,#d5ff00 216.5px,#bfff00 217.5px,#cfff00 221.5px,#80ff00 232.5px,#58ff00 235.5px,#80ff00 236.5px,#54ff00 240.5px,#46ff00 245.5px,#71ff00 248.5px,#9eff00 251.5px,#9eff00 254.5px,#fff 255.5px,#fff 260.5px,#2f0 261.5px,#4bff00 266.5px,#95ff00 269.5px,#c0ff00 271.5px,#e4ff00 283.5px,#fffa00 284.5px,#fff200 348.5px,#ffef00 354.5px)"></i><i style="background:linear-gradient(#00feff 0.5px,#00eaff 11.5px,#009eff 35.5px,#005bff 73.5px,#0049ff 86.5px,#0000f8 87.5px,#0004ff 114.5px,#0026ff 127.5px,#005aff 129.5px,#06f 133.5px,#00e3ff 134.5px,#00e3ff 138.5px,#003fff 139.5px,#0040ff 142.5px,#0057ff 146.5px,#005aff 165.5px,#006eff 166.5px,#0096ff 167.5px,#00adff 168.5px,#00d5ff 173.5px,#00fbff 175.5px,#00ffdb 178.5px,#00ff9b 181.5px,#00ff76 189.5px,#00ff69 194.5px,#00ff3f 196.5px,#00ff0a 198.5px,#00ff02 199.5px,#30ff00 201.5px,#a9ff00 208.5px,#daff00 216.5px,#fbff00 220.5px,#a7ff00 232.5px,#3eff00 240.5px,#2fff00 245.5px,#49ff00 247.5px,#89ff00 251.5px,#89ff00 254.5px,#fff 255.5px,#fff 260.5px,#38ff00 261.5px,#65ff00 266.5px,#9f0 268.5px,#d8ff00 270.5px,#e9ff00 271.5px,#fffb00 282.5px,#fff800 306.5px,#f2ff00 308.5px,#eaff00 330.5px,#dcff00 331.5px,#fdff00 354.5px)"></i><i style="background:linear-gradient(#00fcff 0.5px,#00e8ff 11.5px,#008dff 44.5px,#0049ff 86.5px,#0000f8 87.5px,#0003ff 114.5px,#0024ff 127.5px,#0059ff 129.5px,#0065ff 133.5px,#00e3ff 134.5px,#00e3ff 138.5px,#003eff 139.5px,#0041ff 142.5px,#0059ff 146.5px,#005cff 165.5px,#0070ff 166.5px,#0097ff 167.5px,#00afff 168.5px,#00d6ff 173.5px,#00fdff 175.5px,#00ffda 178.5px,#00ffad 180.5px,#00ff90 184.5px,#00ff74 194.5px,#00ff4c 196.5px,#00ff18 198.5px,#2fff00 199.5px,#50ff00 200.5px,#daff00 208.5px,#fffd00 215.5px,#fffb00 223.5px,#e5ff00 228.5px,#b7ff00 233.5px,#9cff00 235.5px,#7eff00 236.5px,#4eff00 240.5px,#40ff00 245.5px,#5aff00 247.5px,#9f0 251.5px,#9f0 254.5px,#fff 255.5px,#fff 260.5px,#0aff00 261.5px,#38ff00 266.5px,#71ff00 268.5px,#afff00 270.5px,#c3ff00 272.5px,#e5ff00 283.5px,#f8ff00 286.5px,#f8ff00 306.5px,#e6ff00 307.5px,#dbff00 330.5px,#f8ff00 331.5px,#fff500 354.5px)"></i><i style="background:linear-gradient(#00feff 0.5px,#00e9ff 11.5px,#0092ff 42.5px,#004aff 86.5px,#0000f6 87.5px,#0000fa 113.5px,#0020ff 127.5px,#05f 129.5px,#0061ff 133.5px,#00e3ff 134.5px,#00e3ff 138.5px,#003aff 139.5px,#004bff 143.5px,#0059ff 147.5px,#005cff 165.5px,#0070ff 166.5px,#0097ff 167.5px,#00afff 168.5px,#00d7ff 173.5px,#00fdff 175.5px,#00ffd9 178.5px,#00ffad 180.5px,#00ff90 184.5px,#00ff74 194.5px,#00ff4c 196.5px,#00ff18 198.5px,#1dff00 199.5px,#3eff00 200.5px,#c6ff00 208.5px,#f2ff00 216.5px,#e3ff00 217.5px,#f3ff00 221.5px,#a2ff00 232.5px,#7cff00 235.5px,#7eff00 236.5px,#4fff00 240.5px,#43ff00 245.5px,#6fff00 248.5px,#9cff00 251.5px,#9cff00 254.5px,#fff 255.5px,#fff 260.5px,#28ff00 261.5px,#56ff00 266.5px,#6eff00 267.5px,#d0ff00 270.5px,#e3ff00 272.5px,#fffd00 284.5px,#fff700 350.5px,#fff500 354.5px)"></i><i style="background:linear-gradient(#00fbff 0.5px,#00e7ff 11.5px,#00abff 33.5px,#005cff 70.5px,#0046ff 86.5px,#0000f5 87.5px,#0000f8 113.5px,#0025ff 127.5px,#005aff 129.5px,#06f 133.5px,#00e3ff 134.5px,#00e3ff 138.5px,#003fff 139.5px,#0040ff 142.5px,#0058ff 146.5px,#005bff 165.5px,#006fff 166.5px,#0096ff 167.5px,#00aeff 168.5px,#00d5ff 173.5px,#00fcff 175.5px,#00ffdb 178.5px,#00ff95 181.5px,#00ff71 188.5px,#00ff60 194.5px,#00ff35 196.5px,#0f0 198.5px,#42ff00 200.5px,#c9ff00 208.5px,#f2ff00 216.5px,#dfff00 217.5px,#ef0 221.5px,#a0ff00 232.5px,#7aff00 235.5px,#a5ff00 236.5px,#78ff00 240.5px,#6cff00 245.5px,#9f0 248.5px,#c6ff00 251.5px,#c6ff00 254.5px,#fff 255.5px,#fff 260.5px,#1bff00 261.5px,#49ff00 266.5px,#62ff00 267.5px,#adff00 269.5px,#d4ff00 271.5px,#fffc00 287.5px,#f4ff00 325.5px,#fff700 354.5px)"></i><i style="background:linear-gradient(#0ff 0.5px,#00ebff 11.5px,#09f 39.5px,#0047ff 85.5px,#0046ff 86.5px,#0000f5 87.5px,#0000f8 113.5px,#0025ff 127.5px,#005aff 129.5px,#06f 133.5px,#00e3ff 134.5px,#00e3ff 138.5px,#003fff 139.5px,#0041ff 142.5px,#0059ff 146.5px,#005cff 165.5px,#0070ff 166.5px,#0097ff 167.5px,#00afff 168.5px,#00d6ff 173.5px,#00fdff 175.5px,#00ffda 178.5px,#00ffad 180.5px,#00ff82 192.5px,#00ff7e 194.5px,#00ff58 196.5px,#07ff00 199.5px,#28ff00 200.5px,#adff00 208.5px,#d2ff00 216.5px,#e6ff00 217.5px,#f3ff00 221.5px,#b1ff00 231.5px,#83ff00 235.5px,#85ff00 236.5px,#59ff00 240.5px,#4fff00 245.5px,#7cff00 248.5px,#a9ff00 251.5px,#a9ff00 254.5px,#fff 255.5px,#fff 260.5px,#34ff00 261.5px,#61ff00 266.5px,#7cff00 267.5px,#cbff00 269.5px,#efff00 271.5px,#fffa00 280.5px,#fff500 306.5px,#fffe00 330.5px,#fe0 331.5px,#ffe200 354.5px)"></i><i style="background:linear-gradient(#00feff 0.5px,#00e9ff 11.5px,#009bff 36.5px,#0047ff 85.5px,#0046ff 86.5px,#0000f8 87.5px,#0004ff 114.5px,#0025ff 127.5px,#005aff 129.5px,#06f 133.5px,#00e3ff 134.5px,#00e3ff 138.5px,#003fff 139.5px,#004cff 143.5px,#005aff 147.5px,#005eff 165.5px,#0071ff 166.5px,#09f 167.5px,#00b0ff 168.5px,#00d8ff 173.5px,#0ff 175.5px,#00ffd8 178.5px,#00ffa9 180.5px,#00ff8b 184.5px,#00ff6e 194.5px,#00ff45 196.5px,#05ff00 199.5px,#25ff00 200.5px,#a9ff00 208.5px,#cbff00 216.5px,#c6ff00 218.5px,#cbff00 222.5px,#85ff00 232.5px,#62ff00 235.5px,#74ff00 236.5px,#4aff00 240.5px,#40ff00 245.5px,#6dff00 248.5px,#9bff00 251.5px,#9bff00 254.5px,#fff 255.5px,#fff 260.5px,#46ff00 261.5px,#73ff00 266.5px,#90ff00 267.5px,#e3ff00 269.5px,#fffd00 271.5px,#fe0 283.5px,#fffd00 284.5px,#fff900 306.5px,#ffed00 308.5px,#fff000 337.5px,#ffe500 354.5px)"></i><i style="background:linear-gradient(#00feff 0.5px,#00eaff 11.5px,#0096ff 40.5px,#0049ff 86.5px,#0000f3 87.5px,#0000f7 113.5px,#0014ff 118.5px,#002aff 127.5px,#005eff 129.5px,#006aff 133.5px,#00e3ff 134.5px,#00e3ff 138.5px,#0043ff 139.5px,#0042ff 142.5px,#0059ff 146.5px,#005dff 165.5px,#0070ff 166.5px,#0098ff 167.5px,#00afff 168.5px,#00d7ff 173.5px,#00feff 175.5px,#00ffd9 178.5px,#00ffac 180.5px,#00ff80 193.5px,#00ff70 195.5px,#00ff24 198.5px,#28ff00 199.5px,#49ff00 200.5px,#cbff00 208.5px,#fcff00 221.5px,#d6ff00 228.5px,#93ff00 235.5px,#6eff00 236.5px,#45ff00 240.5px,#3dff00 245.5px,#6aff00 248.5px,#98ff00 251.5px,#98ff00 254.5px,#fff 255.5px,#fff 260.5px,#2dff00 261.5px,#5bff00 266.5px,#79ff00 267.5px,#adff00 268.5px,#d0ff00 269.5px,#edff00 271.5px,#fffa00 280.5px,#fff600 283.5px,#ffe900 286.5px,#ffe700 306.5px,#fff800 307.5px,#faff00 337.5px,#fff600 354.5px)"></i><i style="background:linear-gradient(#00fffe 0.5px,#00f0ff 10.5px,#009cff 38.5px,#0048ff 86.5px,#0000f5 87.5px,#0000f9 113.5px,#0023ff 127.5px,#0058ff 129.5px,#0064ff 133.5px,#00e3ff 134.5px,#00e3ff 138.5px,#003dff 139.5px,#0041ff 142.5px,#0058ff 146.5px,#005bff 165.5px,#006fff 166.5px,#0096ff 167.5px,#00aeff 168.5px,#00d6ff 173.5px,#00fcff 175.5px,#00ffda 178.5px,#00ffa1 181.5px,#00ff79 191.5px,#00ff72 194.5px,#00ff4a 196.5px,#05ff00 199.5px,#25ff00 200.5px,#a5ff00 208.5px,#c0ff00 216.5px,#e2ff00 217.5px,#eaff00 222.5px,#c8ff00 228.5px,#5dff00 240.5px,#57ff00 245.5px,#83ff00 248.5px,#b1ff00 251.5px,#b1ff00 254.5px,#fff 255.5px,#fff 260.5px,#05ff00 261.5px,#3f0 266.5px,#53ff00 267.5px,#8aff00 268.5px,#adff00 269.5px,#caff00 272.5px,#efff00 283.5px,#fffc00 284.5px,#fff700 304.5px,#fff800 306.5px,#ffe200 307.5px,#ffed00 330.5px,#fffc00 331.5px,#fff000 354.5px)"></i><i style="background:linear-gradient(#00feff 0.5px,#00eaff 11.5px,#0095ff 42.5px,#004aff 86.5px,#0000f6 87.5px,#0000fb 114.5px,#001bff 127.5px,#0050ff 129.5px,#005cff 133.5px,#00e3ff 134.5px,#00e3ff 138.5px,#0035ff 139.5px,#0056ff 146.5px,#005aff 165.5px,#006eff 166.5px,#0095ff 167.5px,#00acff 168.5px,#00d4ff 173.5px,#00faff 175.5px,#00ffdc 178.5px,#00ffb2 180.5px,#00ff94 185.5px,#00ff7d 194.5px,#00ff57 196.5px,#00ff23 198.5px,#18ff00 199.5px,#38ff00 200.5px,#b7ff00 208.5px,#cfff00 216.5px,#fffd00 217.5px,#fbff00 226.5px,#abff00 235.5px,#69ff00 236.5px,#42ff00 240.5px,#3dff00 245.5px,#6aff00 248.5px,#97ff00 251.5px,#97ff00 254.5px,#fff 255.5px,#fff 260.5px,#0dff00 261.5px,#3aff00 266.5px,#5cff00 267.5px,#96ff00 268.5px,#baff00 269.5px,#d4ff00 272.5px,#fff800 284.5px,#fff200 303.5px,#fffb00 341.5px,#fff200 354.5px)"></i><i style="background:linear-gradient(#00f9ff 0.5px,#00e5ff 11.5px,#008bff 44.5px,#0046ff 86.5px,#0000f7 87.5px,#0000fd 114.5px,#001fff 127.5px,#0054ff 129.5px,#0060ff 133.5px,#00e3ff 134.5px,#00e3ff 138.5px,#0038ff 139.5px,#004aff 143.5px,#0058ff 147.5px,#005bff 165.5px,#006fff 166.5px,#0097ff 167.5px,#00aeff 168.5px,#00d6ff 173.5px,#00fcff 175.5px,#00ffda 178.5px,#00ff9c 181.5px,#00ff74 190.5px,#00ff6a 194.5px,#00ff40 196.5px,#00ff0c 198.5px,#0fff00 199.5px,#2fff00 200.5px,#adff00 208.5px,#c1ff00 216.5px,#b4ff00 217.5px,#b9ff00 224.5px,#5eff00 235.5px,#74ff00 236.5px,#4fff00 240.5px,#4bff00 245.5px,#78ff00 248.5px,#a6ff00 251.5px,#a6ff00 254.5px,#fff 255.5px,#fff 260.5px,#31ff00 261.5px,#5eff00 266.5px,#82ff00 267.5px,#bfff00 268.5px,#e3ff00 269.5px,#fdff00 273.5px,#fff200 283.5px,#fff000 291.5px,#fff400 306.5px,#ffea00 308.5px,#fffa00 339.5px,#fff000 354.5px)"></i><i style="background:linear-gradient(#00fcff 0.5px,#00e7ff 11.5px,#00abff 33.5px,#005cff 71.5px,#0047ff 86.5px,#0000f5 87.5px,#0000f8 113.5px,#0021ff 127.5px,#0056ff 129.5px,#0062ff 133.5px,#00e3ff 134.5px,#00e3ff 138.5px,#003bff 139.5px,#003fff 142.5px,#0056ff 146.5px,#0059ff 165.5px,#006dff 166.5px,#0095ff 167.5px,#00acff 168.5px,#00d4ff 173.5px,#00faff 175.5px,#00ffdc 178.5px,#00ff95 181.5px,#00ff71 188.5px,#00ff60 194.5px,#00ff35 196.5px,#01ff00 198.5px,#4aff00 200.5px,#c6ff00 208.5px,#d6ff00 216.5px,#b1ff00 217.5px,#b1ff00 225.5px,#5cff00 235.5px,#73ff00 236.5px,#50ff00 240.5px,#4dff00 245.5px,#7aff00 248.5px,#a7ff00 251.5px,#a7ff00 254.5px,#fff 255.5px,#fff 260.5px,#2bff00 261.5px,#59ff00 266.5px,#7eff00 267.5px,#beff00 268.5px,#e3ff00 269.5px,#fffe00 275.5px,#ffe400 297.5px,#fff700 330.5px,#e9ff00 331.5px,#fffc00 354.5px)"></i><i style="background:linear-gradient(#00fffd 0.5px,#00f2ff 10.5px,#00a1ff 36.5px,#004aff 83.5px,#0046ff 86.5px,#0000fa 87.5px,#0004ff 114.5px,#0025ff 127.5px,#005aff 129.5px,#06f 133.5px,#00e3ff 134.5px,#00e3ff 138.5px,#003eff 139.5px,#0040ff 142.5px,#0057ff 146.5px,#005aff 165.5px,#006eff 166.5px,#0096ff 167.5px,#00adff 168.5px,#00d5ff 173.5px,#00fbff 175.5px,#00ffdb 178.5px,#00ffa3 181.5px,#00ff7b 191.5px,#00ff74 194.5px,#00ff4c 196.5px,#06ff00 199.5px,#26ff00 200.5px,#a0ff00 208.5px,#aeff00 216.5px,#e5ff00 217.5px,#e7ff00 225.5px,#93ff00 235.5px,#4fff00 236.5px,#2dff00 240.5px,#2cff00 245.5px,#6bff00 249.5px,#87ff00 251.5px,#87ff00 254.5px,#fff 255.5px,#fff 260.5px,#00ff01 261.5px,#2dff00 266.5px,#53ff00 267.5px,#97ff00 268.5px,#bcff00 269.5px,#f4ff00 283.5px,#fff500 285.5px,#fe0 301.5px,#fff100 306.5px,#fd0 307.5px,#ffed00 330.5px,#d9ff00 331.5px,#e3ff00 342.5px,#f7ff00 354.5px)"></i><i style="background:linear-gradient(#0ff 0.5px,#00eaff 11.5px,#0096ff 40.5px,#0047ff 86.5px,#0000f4 87.5px,#0000f7 113.5px,#0020ff 127.5px,#0054ff 129.5px,#0061ff 133.5px,#00e3ff 134.5px,#00e3ff 138.5px,#0039ff 139.5px,#0047ff 143.5px,#05f 147.5px,#0058ff 165.5px,#006cff 166.5px,#0094ff 167.5px,#00abff 168.5px,#00d3ff 173.5px,#00f9ff 175.5px,#00ffde 178.5px,#00ff9f 181.5px,#0f7 191.5px,#00ff6f 194.5px,#00ff47 196.5px,#00ff12 198.5px,#23ff00 199.5px,#42ff00 200.5px,#bf0 208.5px,#c5ff00 216.5px,#dcff00 217.5px,#e0ff00 225.5px,#61ff00 240.5px,#61ff00 245.5px,#a0ff00 249.5px,#bcff00 251.5px,#bcff00 254.5px,#fff 255.5px,#fff 260.5px,#0f0 261.5px,#2eff00 266.5px,#56ff00 267.5px,#9dff00 268.5px,#c3ff00 269.5px,#f8ff00 283.5px,#ffeb00 284.5px,#ffe100 299.5px,#ffef00 330.5px,#fff300 340.5px,#ffe900 354.5px)"></i><i style="background:linear-gradient(#00fffd 0.5px,#00f1ff 10.5px,#00a3ff 34.5px,#004bff 83.5px,#0047ff 86.5px,#0000f4 87.5px,#0000f8 113.5px,#0020ff 127.5px,#0054ff 129.5px,#0060ff 133.5px,#00e3ff 134.5px,#00e3ff 138.5px,#0039ff 139.5px,#0049ff 143.5px,#0057ff 147.5px,#005aff 165.5px,#006eff 166.5px,#0096ff 167.5px,#00adff 168.5px,#00d5ff 173.5px,#00fbff 175.5px,#00ffdb 178.5px,#00ffa3 181.5px,#00ff7d 190.5px,#00ff73 194.5px,#00ff4c 196.5px,#00ff04 199.5px,#59ff00 204.5px,#92ff00 208.5px,#9bff00 216.5px,#c1ff00 217.5px,#c5ff00 225.5px,#73ff00 235.5px,#8f0 236.5px,#68ff00 240.5px,#68ff00 245.5px,#a8ff00 249.5px,#c3ff00 251.5px,#c3ff00 254.5px,#fff 255.5px,#fff 260.5px,#35ff00 261.5px,#62ff00 266.5px,#8bff00 267.5px,#d5ff00 268.5px,#fbff00 269.5px,#ffda00 297.5px,#fff700 335.5px,#ffe900 354.5px)"></i><i style="background:linear-gradient(#00fffb 0.5px,#00f9ff 9.5px,#00c9ff 23.5px,#00b6ff 26.5px,#005eff 69.5px,#0047ff 86.5px,#0000f4 87.5px,#0000f7 113.5px,#0016ff 122.5px,#0024ff 127.5px,#0058ff 129.5px,#0064ff 133.5px,#00e3ff 134.5px,#00e3ff 138.5px,#003dff 139.5px,#0040ff 142.5px,#0057ff 146.5px,#005aff 165.5px,#006eff 166.5px,#0096ff 167.5px,#00adff 168.5px,#00d5ff 173.5px,#00fbff 175.5px,#00ffdb 178.5px,#00ff90 182.5px,#00ff69 194.5px,#00ff42 196.5px,#0f1 198.5px,#00ff13 199.5px,#00ff02 200.5px,#78ff00 208.5px,#81ff00 216.5px,#74ff00 217.5px,#78ff00 225.5px,#28ff00 235.5px,#9f0 236.5px,#79ff00 240.5px,#79ff00 245.5px,#b8ff00 249.5px,#d4ff00 251.5px,#d4ff00 254.5px,#fff 255.5px,#fff 260.5px,#3dff00 261.5px,#6aff00 266.5px,#94ff00 267.5px,#deff00 268.5px,#fffd00 269.5px,#ffe800 283.5px,#ffe400 291.5px,#fff000 309.5px,#f8ff00 330.5px,#fff700 333.5px,#ffea00 354.5px)"></i><i style="background:linear-gradient(#00fbff 0.5px,#00e7ff 11.5px,#0091ff 42.5px,#0049ff 86.5px,#0000f6 87.5px,#0000fa 113.5px,#0025ff 127.5px,#005aff 129.5px,#06f 133.5px,#00e3ff 134.5px,#00e3ff 138.5px,#003fff 139.5px,#003eff 142.5px,#0056ff 146.5px,#0059ff 165.5px,#006dff 166.5px,#0094ff 167.5px,#00acff 168.5px,#00d3ff 173.5px,#00faff 175.5px,#00ffdc 178.5px,#00ff94 181.5px,#00ff69 188.5px,#00ff5b 194.5px,#00ff1d 197.5px,#00ff06 198.5px,#06ff00 199.5px,#34ff00 201.5px,#a1ff00 208.5px,#abff00 216.5px,#b9ff00 218.5px,#bcff00 225.5px,#6dff00 235.5px,#56ff00 236.5px,#36ff00 240.5px,#36ff00 245.5px,#76ff00 249.5px,#91ff00 251.5px,#91ff00 254.5px,#fff 255.5px,#fff 260.5px,#1dff00 261.5px,#4bff00 266.5px,#75ff00 267.5px,#c0ff00 268.5px,#e7ff00 269.5px,#fffc00 277.5px,#ffde00 298.5px,#fff400 330.5px,#e8ff00 331.5px,#ebff00 339.5px,#fffc00 354.5px)"></i><i style="background:linear-gradient(#00faff 0.5px,#00e6ff 11.5px,#008eff 43.5px,#0047ff 86.5px,#0000f6 87.5px,#0000f9 113.5px,#0024ff 127.5px,#0058ff 129.5px,#0065ff 133.5px,#00e3ff 134.5px,#00e3ff 138.5px,#003dff 139.5px,#0040ff 142.5px,#0057ff 146.5px,#005aff 165.5px,#006eff 166.5px,#0096ff 167.5px,#00adff 168.5px,#00d5ff 173.5px,#00fbff 175.5px,#00ffdb 178.5px,#00ffad 180.5px,#00ff82 188.5px,#0f7 194.5px,#00ff40 197.5px,#00ff2a 198.5px,#00ff05 199.5px,#94ff00 208.5px,#9fff00 216.5px,#b2ff00 217.5px,#b7ff00 225.5px,#69ff00 235.5px,#2cff00 236.5px,#0cff00 240.5px,#0cff00 245.5px,#4cff00 249.5px,#67ff00 251.5px,#67ff00 254.5px,#fff 255.5px,#fff 260.5px,#1eff00 261.5px,#4cff00 266.5px,#76ff00 267.5px,#c1ff00 268.5px,#e9ff00 269.5px,#fffb00 277.5px,#ffdf00 299.5px,#ffe600 306.5px,#ffd500 307.5px,#ffeb00 330.5px,#e6ff00 331.5px,#eaff00 339.5px,#fffd00 354.5px)"></i><i style="background:linear-gradient(#00fcff 0.5px,#00e8ff 11.5px,#0093ff 42.5px,#0047ff 84.5px,#04f 86.5px,#0000f6 87.5px,#0000fa 113.5px,#0023ff 127.5px,#0057ff 129.5px,#0064ff 133.5px,#00e3ff 134.5px,#00e3ff 138.5px,#003cff 139.5px,#004aff 143.5px,#0059ff 147.5px,#005cff 165.5px,#006fff 166.5px,#0097ff 167.5px,#00aeff 168.5px,#00d6ff 173.5px,#00fdff 175.5px,#00ffd9 178.5px,#00ff92 181.5px,#0f6 187.5px,#00ff56 194.5px,#00ff0b 198.5px,#00ff02 199.5px,#9aff00 208.5px,#a5ff00 216.5px,#beff00 217.5px,#c3ff00 225.5px,#7f0 235.5px,#39ff00 236.5px,#19ff00 240.5px,#19ff00 245.5px,#58ff00 249.5px,#74ff00 251.5px,#74ff00 254.5px,#fff 255.5px,#fff 260.5px,#1f0 261.5px,#3fff00 266.5px,#6aff00 267.5px,#b6ff00 268.5px,#deff00 269.5px,#fffc00 279.5px,#ffdc00 297.5px,#ffe400 306.5px,#fff100 309.5px,#f7ff00 325.5px,#e6ff00 335.5px,#fffb00 354.5px)"></i><i style="background:linear-gradient(#00fdff 0.5px,#00e9ff 11.5px,#008eff 44.5px,#0046ff 86.5px,#0000f7 87.5px,#0000fb 113.5px,#0019ff 122.5px,#0028ff 127.5px,#005cff 129.5px,#0068ff 133.5px,#00e3ff 134.5px,#00e3ff 138.5px,#0041ff 139.5px,#0043ff 142.5px,#005aff 146.5px,#005dff 165.5px,#0071ff 166.5px,#0098ff 167.5px,#00b0ff 168.5px,#00d8ff 173.5px,#00feff 175.5px,#00ffd7 178.5px,#00ffa4 180.5px,#00ffa8 181.5px,#00ff80 188.5px,#00ff75 194.5px,#00ff45 197.5px,#00ff0d 200.5px,#0bff00 202.5px,#6dff00 208.5px,#79ff00 216.5px,#95ff00 217.5px,#9aff00 225.5px,#4fff00 235.5px,#3f0 236.5px,#13ff00 240.5px,#13ff00 245.5px,#53ff00 249.5px,#6eff00 251.5px,#6eff00 254.5px,#fff 255.5px,#fff 260.5px,#32ff00 261.5px,#5fff00 266.5px,#8aff00 267.5px,#d7ff00 268.5px,#ff0 269.5px,#ffe800 283.5px,#ffe700 289.5px,#ffe200 303.5px,#ffe500 306.5px,#ffd800 307.5px,#fff200 330.5px,#ff0 332.5px,#fff200 354.5px)"></i><i style="background:linear-gradient(#00feff 0.5px,#00e9ff 11.5px,#0092ff 43.5px,#004bff 86.5px,#0000f7 87.5px,#0008ff 116.5px,#0021ff 127.5px,#05f 129.5px,#0061ff 133.5px,#00e3ff 134.5px,#00e3ff 138.5px,#003aff 139.5px,#003cff 142.5px,#0053ff 146.5px,#0056ff 165.5px,#006aff 166.5px,#0092ff 167.5px,#00a9ff 168.5px,#00d1ff 173.5px,#00f7ff 175.5px,#00ffdf 178.5px,#00ff94 181.5px,#00ff64 187.5px,#00ff56 194.5px,#00ff02 199.5px,#9cff00 208.5px,#af0 216.5px,#9cff00 217.5px,#a1ff00 225.5px,#57ff00 235.5px,#6f0 236.5px,#46ff00 240.5px,#46ff00 245.5px,#86ff00 249.5px,#a1ff00 251.5px,#a1ff00 254.5px,#fff 255.5px,#fff 260.5px,#4dff00 261.5px,#7aff00 266.5px,#a6ff00 267.5px,#f3ff00 268.5px,#fff200 270.5px,#ffcf00 299.5px,#ffd800 306.5px,#ffe700 311.5px,#fffe00 338.5px,#fff300 354.5px)"></i><i style="background:linear-gradient(#0ff 0.5px,#00ebff 11.5px,#009aff 38.5px,#004bff 86.5px,#0000f8 87.5px,#0004ff 114.5px,#0026ff 127.5px,#005aff 129.5px,#0067ff 133.5px,#00e3ff 134.5px,#00e3ff 138.5px,#003fff 139.5px,#0042ff 142.5px,#0059ff 146.5px,#005cff 165.5px,#0070ff 166.5px,#0098ff 167.5px,#00afff 168.5px,#00d7ff 173.5px,#00fdff 175.5px,#00ffd8 178.5px,#00ff8b 181.5px,#0f5 187.5px,#00ff48 194.5px,#00ff09 198.5px,#00ff02 199.5px,#9eff00 208.5px,#acff00 216.5px,#9cff00 217.5px,#a1ff00 225.5px,#30ff00 240.5px,#30ff00 245.5px,#70ff00 249.5px,#8bff00 251.5px,#8bff00 254.5px,#fff 255.5px,#fff 260.5px,#42ff00 261.5px,#70ff00 266.5px,#9bff00 267.5px,#eaff00 268.5px,#fff700 269.5px,#ffd100 300.5px,#ffd900 306.5px,#ffe700 309.5px,#faff00 336.5px,#fff400 354.5px)"></i><i style="background:linear-gradient(#00fdff 0.5px,#00e9ff 11.5px,#0097ff 39.5px,#004cff 86.5px,#0000f6 87.5px,#0000fa 113.5px,#0024ff 127.5px,#0058ff 129.5px,#0065ff 133.5px,#00e3ff 134.5px,#00e3ff 138.5px,#003dff 139.5px,#004bff 143.5px,#0059ff 147.5px,#005cff 165.5px,#0070ff 166.5px,#0097ff 167.5px,#00afff 168.5px,#00d7ff 173.5px,#00fdff 175.5px,#00ffd8 178.5px,#00ff91 181.5px,#00ff5c 187.5px,#00ff47 195.5px,#00ff01 199.5px,#a1ff00 208.5px,#b0ff00 216.5px,#caff00 217.5px,#cfff00 225.5px,#8f0 235.5px,#6aff00 236.5px,#4aff00 240.5px,#4aff00 245.5px,#8aff00 249.5px,#a5ff00 251.5px,#a5ff00 254.5px,#fff 255.5px,#fff 260.5px,#1aff00 261.5px,#48ff00 266.5px,#74ff00 267.5px,#c3ff00 268.5px,#edff00 269.5px,#fffc00 275.5px,#ffd400 300.5px,#f9ff00 334.5px,#fff400 354.5px)"></i><i style="background:linear-gradient(#0ff 0.5px,#00eaff 11.5px,#009fff 34.5px,#005eff 70.5px,#0049ff 86.5px,#0000f7 87.5px,#0000fb 113.5px,#0024ff 127.5px,#0059ff 129.5px,#0065ff 133.5px,#00e3ff 134.5px,#00e3ff 138.5px,#003eff 139.5px,#0042ff 142.5px,#0059ff 146.5px,#005cff 165.5px,#0070ff 166.5px,#0097ff 167.5px,#00afff 168.5px,#00d7ff 173.5px,#00fdff 175.5px,#00ffd7 178.5px,#00ff84 181.5px,#00ff47 187.5px,#00ff32 195.5px,#00ff04 198.5px,#03ff00 199.5px,#a7ff00 208.5px,#b7ff00 216.5px,#adff00 218.5px,#b1ff00 225.5px,#6bff00 235.5px,#4cff00 236.5px,#2cff00 240.5px,#2cff00 245.5px,#6cff00 249.5px,#87ff00 251.5px,#87ff00 254.5px,#fff 255.5px,#fff 260.5px,#59ff00 261.5px,#87ff00 266.5px,#b3ff00 267.5px,#fffe00 268.5px,#ffed00 269.5px,#ffd400 283.5px,#ffce00 291.5px,#ffc900 302.5px,#ffec00 330.5px,#e7ff00 331.5px,#e9ff00 338.5px,#fffd00 354.5px)"></i><i style="background:linear-gradient(#0ff 0.5px,#00ebff 11.5px,#0097ff 40.5px,#0047ff 86.5px,#0000f2 87.5px,#0000f6 113.5px,#0009ff 116.5px,#0023ff 127.5px,#0057ff 129.5px,#0063ff 133.5px,#00e3ff 134.5px,#00e3ff 138.5px,#003cff 139.5px,#004bff 143.5px,#0059ff 147.5px,#005cff 165.5px,#0070ff 166.5px,#0097ff 167.5px,#00afff 168.5px,#00d7ff 173.5px,#00fdff 175.5px,#00ffd7 178.5px,#00ff8e 181.5px,#00ff53 187.5px,#00ff41 195.5px,#05ff00 200.5px,#94ff00 208.5px,#a4ff00 216.5px,#b4ff00 217.5px,#b9ff00 225.5px,#75ff00 235.5px,#45ff00 236.5px,#25ff00 240.5px,#25ff00 245.5px,#65ff00 249.5px,#80ff00 251.5px,#80ff00 254.5px,#fff 255.5px,#fff 260.5px,#53ff00 261.5px,#80ff00 266.5px,#adff00 267.5px,#feff00 268.5px,#ffef00 269.5px,#ffc000 300.5px,#fff100 330.5px,#fbff00 332.5px,#fff400 354.5px)"></i><i style="background:linear-gradient(#00fffd 0.5px,#00f1ff 10.5px,#009fff 37.5px,#0048ff 86.5px,#0000f5 87.5px,#0000f9 113.5px,#0024ff 127.5px,#0059ff 129.5px,#0065ff 133.5px,#00e3ff 134.5px,#00e3ff 138.5px,#003eff 139.5px,#003eff 142.5px,#05f 146.5px,#0058ff 165.5px,#006cff 166.5px,#0093ff 167.5px,#00abff 168.5px,#00d3ff 173.5px,#00f9ff 175.5px,#00ffdc 178.5px,#0fa 180.5px,#00ff86 181.5px,#00ff46 187.5px,#00ff35 195.5px,#00ff05 199.5px,#9dff00 208.5px,#aeff00 216.5px,#a8ff00 219.5px,#abff00 225.5px,#68ff00 235.5px,#3dff00 236.5px,#1eff00 240.5px,#1eff00 245.5px,#5dff00 249.5px,#79ff00 251.5px,#79ff00 254.5px,#fff 255.5px,#fff 260.5px,#2fff00 261.5px,#5dff00 266.5px,#8aff00 267.5px,#dbff00 268.5px,#fffc00 269.5px,#ffca00 300.5px,#fff400 330.5px,#f1ff00 332.5px,#fff800 354.5px)"></i><i style="background:linear-gradient(#00fdff 0.5px,#00e9ff 11.5px,#009cff 39.5px,#004aff 86.5px,#0000f3 87.5px,#0000f6 113.5px,#000eff 118.5px,#0024ff 127.5px,#0058ff 129.5px,#0064ff 133.5px,#00e3ff 134.5px,#00e3ff 138.5px,#003dff 139.5px,#003bff 142.5px,#0052ff 146.5px,#0056ff 165.5px,#0069ff 166.5px,#0091ff 167.5px,#00a8ff 168.5px,#00d0ff 173.5px,#00fffa 176.5px,#00ffdf 178.5px,#00ffaf 180.5px,#00ff82 181.5px,#00ff3f 187.5px,#00ff2f 195.5px,#00ff0c 198.5px,#00ff1a 199.5px,#00ff04 201.5px,#82ff00 209.5px,#8bff00 216.5px,#9eff00 217.5px,#a4ff00 225.5px,#63ff00 235.5px,#40ff00 236.5px,#20ff00 240.5px,#21ff00 245.5px,#60ff00 249.5px,#7cff00 251.5px,#7cff00 254.5px,#fff 255.5px,#fff 260.5px,#25ff00 261.5px,#52ff00 266.5px,#80ff00 267.5px,#d2ff00 268.5px,#fdff00 269.5px,#ffe500 283.5px,#ffd400 284.5px,#ffbc00 300.5px,#ffc700 306.5px,#ffd600 308.5px,#fff900 330.5px,#ecff00 332.5px,#fffa00 354.5px)"></i><i style="background:linear-gradient(#00feff 0.5px,#00eaff 11.5px,#0092ff 42.5px,#0048ff 86.5px,#0000f4 87.5px,#0000f7 113.5px,#0024ff 127.5px,#0058ff 129.5px,#0065ff 133.5px,#00e3ff 134.5px,#00e3ff 138.5px,#003dff 139.5px,#003cff 142.5px,#0054ff 146.5px,#0057ff 165.5px,#006bff 166.5px,#0092ff 167.5px,#0af 168.5px,#00d1ff 173.5px,#00f7ff 175.5px,#0fd 178.5px,#00ff82 182.5px,#00ff52 187.5px,#00ff47 195.5px,#00ff28 198.5px,#00ff21 200.5px,#06ff00 204.5px,#59ff00 209.5px,#6aff00 216.5px,#98ff00 217.5px,#a2ff00 225.5px,#60ff00 235.5px,#1eff00 236.5px,#01ff00 240.5px,#03ff00 245.5px,#43ff00 249.5px,#5eff00 251.5px,#5eff00 254.5px,#fff 255.5px,#fff 260.5px,#3f0 261.5px,#61ff00 266.5px,#8fff00 267.5px,#e2ff00 268.5px,#fff900 269.5px,#ffda00 283.5px,#ffcb00 286.5px,#ffb900 301.5px,#fff300 330.5px,#fdff00 332.5px,#fff300 354.5px)"></i><i style="background:linear-gradient(#00feff 0.5px,#00eaff 11.5px,#0098ff 39.5px,#0046ff 86.5px,#0000f6 87.5px,#0000fa 113.5px,#0023ff 127.5px,#0058ff 129.5px,#0064ff 133.5px,#00e3ff 134.5px,#00e3ff 138.5px,#003dff 139.5px,#003cff 142.5px,#0053ff 146.5px,#0057ff 165.5px,#006aff 166.5px,#0092ff 167.5px,#00a9ff 168.5px,#00d1ff 173.5px,#00f7ff 175.5px,#0fd 178.5px,#00ffac 180.5px,#00ff81 181.5px,#00ff35 187.5px,#00ff2c 195.5px,#00ff12 198.5px,#00ff2e 199.5px,#08ff00 205.5px,#4aff00 209.5px,#64ff00 216.5px,#8fff00 217.5px,#9eff00 225.5px,#5aff00 235.5px,#2fff00 236.5px,#15ff00 240.5px,#18ff00 245.5px,#58ff00 249.5px,#74ff00 251.5px,#74ff00 254.5px,#fff 255.5px,#fff 260.5px,#46ff00 261.5px,#73ff00 266.5px,#a2ff00 267.5px,#f7ff00 268.5px,#fe0 270.5px,#ffc600 290.5px,#ffbd00 302.5px,#fffc00 335.5px,#ffef00 354.5px)"></i><i style="background:linear-gradient(#00fdff 0.5px,#00e8ff 11.5px,#0094ff 40.5px,#0045ff 83.5px,#0041ff 86.5px,#0000f8 87.5px,#0007ff 115.5px,#02f 127.5px,#0057ff 129.5px,#0063ff 133.5px,#00e3ff 134.5px,#00e3ff 138.5px,#003cff 139.5px,#004bff 143.5px,#0059ff 147.5px,#005cff 165.5px,#0070ff 166.5px,#0097ff 167.5px,#00afff 168.5px,#00d7ff 173.5px,#00fdff 175.5px,#00ffd7 178.5px,#00ff9d 180.5px,#00ff47 187.5px,#00ff42 195.5px,#00ff2d 198.5px,#00ff14 200.5px,#01ff02 203.5px,#62ff00 209.5px,#84ff00 216.5px,#63ff00 217.5px,#7cff00 224.5px,#32ff00 235.5px,#4fff00 236.5px,#37ff00 240.5px,#3cff00 245.5px,#98ff00 251.5px,#98ff00 254.5px,#fff 255.5px,#fff 260.5px,#27ff00 261.5px,#5f0 266.5px,#84ff00 267.5px,#daff00 268.5px,#fffb00 269.5px,#ffc800 290.5px,#ffc000 303.5px,#ffce00 313.5px,#fff400 330.5px,#f2ff00 332.5px,#fdff00 343.5px,#fff800 354.5px)"></i><i style="background:linear-gradient(#00fffe 0.5px,#00f1ff 10.5px,#009bff 39.5px,#0064ff 63.5px,#0042ff 86.5px,#0000f6 87.5px,#0000f9 113.5px,#0025ff 127.5px,#0059ff 129.5px,#0065ff 133.5px,#00e3ff 134.5px,#00e3ff 138.5px,#003eff 139.5px,#0040ff 142.5px,#0057ff 146.5px,#005bff 165.5px,#006fff 166.5px,#0096ff 167.5px,#00aeff 168.5px,#00d5ff 173.5px,#00fcff 175.5px,#00ffd8 178.5px,#00ff74 182.5px,#00ff37 187.5px,#00ff2f 196.5px,#00ff03 204.5px,#5bff00 210.5px,#7cff00 216.5px,#92ff00 217.5px,#b0ff00 224.5px,#64ff00 235.5px,#21ff00 236.5px,#0cff00 240.5px,#13ff00 245.5px,#6fff00 251.5px,#6fff00 254.5px,#fff 255.5px,#fff 260.5px,#10ff00 261.5px,#3dff00 266.5px,#6dff00 267.5px,#c4ff00 268.5px,#f3ff00 269.5px,#fff700 273.5px,#ffd700 283.5px,#ffc700 284.5px,#ffba00 304.5px,#fff800 330.5px,#e9ff00 333.5px,#fffb00 353.5px,#fffa00 354.5px)"></i><i style="background:linear-gradient(#00fffd 0.5px,#00f1ff 10.5px,#00a3ff 34.5px,#004aff 82.5px,#04f 86.5px,#0000f7 87.5px,#0000fa 113.5px,#0023ff 127.5px,#0057ff 129.5px,#0064ff 133.5px,#00e3ff 134.5px,#00e3ff 138.5px,#003cff 139.5px,#0040ff 142.5px,#0057ff 146.5px,#005bff 165.5px,#006eff 166.5px,#0096ff 167.5px,#00adff 168.5px,#00d5ff 173.5px,#00fbff 175.5px,#00ffd8 178.5px,#00ff6d 182.5px,#00ff2c 187.5px,#00ff2a 196.5px,#0f2 198.5px,#00ff2f 199.5px,#00ff10 205.5px,#08ff00 207.5px,#40ff00 211.5px,#5dff00 216.5px,#92ff00 217.5px,#b6ff00 224.5px,#68ff00 235.5px,#3dff00 236.5px,#2bff00 240.5px,#3eff00 246.5px,#86ff00 250.5px,#90ff00 254.5px,#fff 255.5px,#fff 260.5px,#26ff00 261.5px,#54ff00 266.5px,#84ff00 267.5px,#dcff00 268.5px,#fffa00 269.5px,#ffc000 287.5px,#ffb400 309.5px,#ffef00 329.5px,#fbff00 334.5px,#fff300 354.5px)"></i><i style="background:linear-gradient(#0ff 0.5px,#00ebff 11.5px,#009eff 35.5px,#004aff 83.5px,#0046ff 86.5px,#0000f9 87.5px,#0007ff 115.5px,#02f 127.5px,#0057ff 129.5px,#0063ff 133.5px,#00e3ff 134.5px,#00e3ff 138.5px,#003cff 139.5px,#003bff 142.5px,#0053ff 146.5px,#0056ff 165.5px,#006aff 166.5px,#0091ff 167.5px,#00a9ff 168.5px,#00d1ff 173.5px,#00fffa 176.5px,#0fd 178.5px,#0fa 180.5px,#00ff7f 181.5px,#00ff2c 186.5px,#0f2 198.5px,#00ff2a 200.5px,#00ff1e 204.5px,#03ff01 207.5px,#3eff00 211.5px,#60ff00 216.5px,#50ff00 217.5px,#7aff00 224.5px,#2aff00 235.5px,#3cff00 236.5px,#2cff00 240.5px,#41ff00 246.5px,#8aff00 250.5px,#93ff00 254.5px,#fff 255.5px,#fff 260.5px,#4cff00 261.5px,#7aff00 266.5px,#abff00 267.5px,#fffd00 268.5px,#ffea00 269.5px,#ffb300 285.5px,#ffac00 308.5px,#ffef00 329.5px,#f6ff00 332.5px,#f6ff00 338.5px,#fff700 354.5px)"></i><i style="background:linear-gradient(#00feff 0.5px,#00e9ff 11.5px,#0098ff 38.5px,#04f 86.5px,#0000f7 87.5px,#0000fd 114.5px,#001fff 127.5px,#0054ff 129.5px,#0060ff 133.5px,#00e3ff 134.5px,#00e3ff 138.5px,#0038ff 139.5px,#003cff 142.5px,#0054ff 146.5px,#0057ff 165.5px,#006bff 166.5px,#0092ff 167.5px,#0af 168.5px,#00d1ff 173.5px,#00f7ff 175.5px,#00ffef 177.5px,#00ffa7 180.5px,#00ff80 181.5px,#00ff2a 186.5px,#00ff27 191.5px,#00ff28 198.5px,#00ff1c 201.5px,#00ff16 204.5px,#01ff02 206.5px,#51ff00 211.5px,#aeff00 224.5px,#5bff00 235.5px,#2fff00 236.5px,#2f0 240.5px,#39ff00 246.5px,#82ff00 250.5px,#8bff00 254.5px,#fff 255.5px,#fff 260.5px,#28ff00 261.5px,#56ff00 266.5px,#8f0 267.5px,#e2ff00 268.5px,#fff700 269.5px,#ffbd00 283.5px,#ffb700 306.5px,#ffa700 307.5px,#ffef00 329.5px,#fff700 338.5px,#ffec00 354.5px)"></i><i style="background:linear-gradient(#00feff 0.5px,#00e9ff 11.5px,#0095ff 40.5px,#0048ff 86.5px,#0000f4 87.5px,#0000f8 113.5px,#001fff 127.5px,#0054ff 129.5px,#0060ff 133.5px,#00e3ff 134.5px,#00e3ff 138.5px,#0038ff 139.5px,#0047ff 143.5px,#05f 147.5px,#0058ff 165.5px,#006cff 166.5px,#0094ff 167.5px,#00abff 168.5px,#00d3ff 173.5px,#00f9ff 175.5px,#0fe 177.5px,#00ffa3 180.5px,#00ff75 181.5px,#00ff19 186.5px,#00ff16 191.5px,#00ff20 198.5px,#00ff31 199.5px,#00ff2c 204.5px,#07ff01 209.5px,#47ff00 215.5px,#50ff00 216.5px,#82ff00 217.5px,#b9ff00 224.5px,#6fff00 235.5px,#3bff00 236.5px,#30ff00 240.5px,#48ff00 246.5px,#91ff00 250.5px,#9aff00 254.5px,#fff 255.5px,#fff 260.5px,#1aff00 261.5px,#47ff00 266.5px,#79ff00 267.5px,#d4ff00 268.5px,#fffc00 269.5px,#ffc100 285.5px,#ffb500 306.5px,#ffa700 308.5px,#ffed00 328.5px,#fff100 330.5px,#ffe100 331.5px,#ffd800 354.5px)"></i><i style="background:linear-gradient(#00fffe 0.5px,#00f0ff 10.5px,#009fff 36.5px,#0049ff 86.5px,#0000f4 87.5px,#0000f8 113.5px,#0025ff 127.5px,#0059ff 129.5px,#0065ff 133.5px,#00e3ff 134.5px,#00e3ff 138.5px,#003eff 139.5px,#003cff 142.5px,#0053ff 146.5px,#0057ff 165.5px,#006bff 166.5px,#0092ff 167.5px,#0af 168.5px,#00d1ff 173.5px,#00f7ff 175.5px,#00ffef 177.5px,#00ffa7 180.5px,#00ff70 182.5px,#00ff2f 186.5px,#00ff2d 191.5px,#00ff42 201.5px,#00ff34 205.5px,#09ff00 213.5px,#7f0 224.5px,#58ff00 231.5px,#43ff00 235.5px,#47ff00 237.5px,#49ff00 242.5px,#5bff00 246.5px,#a4ff00 250.5px,#adff00 254.5px,#fff 255.5px,#fff 260.5px,#17ff00 261.5px,#4f0 266.5px,#76ff00 267.5px,#d1ff00 268.5px,#fffd00 269.5px,#ffc800 285.5px,#ffc200 308.5px,#fdff00 327.5px,#ef0 330.5px,#fff700 331.5px,#fe0 354.5px)"></i><i style="background:linear-gradient(#00fffe 0.5px,#00f1ff 10.5px,#00a0ff 36.5px,#0049ff 86.5px,#0000f6 87.5px,#0000f9 113.5px,#0024ff 127.5px,#0058ff 129.5px,#0065ff 133.5px,#00e3ff 134.5px,#00e3ff 138.5px,#003dff 139.5px,#0034ff 141.5px,#0050ff 146.5px,#0054ff 165.5px,#0067ff 166.5px,#008fff 167.5px,#00a6ff 168.5px,#00ceff 173.5px,#00fffb 176.5px,#00ffe0 178.5px,#00ffaf 180.5px,#00ff79 181.5px,#00ff1f 186.5px,#00ff1d 191.5px,#00ff3c 198.5px,#00ff56 199.5px,#00ff4a 205.5px,#00ff06 216.5px,#5f0 224.5px,#5f0 228.5px,#2eff00 239.5px,#48ff00 246.5px,#91ff00 250.5px,#9aff00 254.5px,#fff 255.5px,#fff 260.5px,#07ff00 261.5px,#35ff00 266.5px,#67ff00 267.5px,#c2ff00 268.5px,#f4ff00 269.5px,#fff300 274.5px,#ffc900 286.5px,#ffc200 310.5px,#fffb00 330.5px,#fff300 354.5px)"></i><i style="background:linear-gradient(#0ff 0.5px,#00ebff 11.5px,#0092ff 43.5px,#0048ff 86.5px,#0000f5 87.5px,#0000f9 113.5px,#0024ff 127.5px,#0058ff 129.5px,#0064ff 133.5px,#00e3ff 134.5px,#00e3ff 138.5px,#003dff 139.5px,#003cff 142.5px,#0053ff 146.5px,#0056ff 165.5px,#006aff 166.5px,#0092ff 167.5px,#00a9ff 168.5px,#00d1ff 173.5px,#00f7ff 175.5px,#00ffef 177.5px,#00ffa8 180.5px,#00ff72 182.5px,#00ff2b 187.5px,#00ff38 194.5px,#00ff59 198.5px,#00ff70 199.5px,#00ff61 206.5px,#00ff27 216.5px,#03ff03 217.5px,#5dff00 226.5px,#45ff00 235.5px,#24ff00 236.5px,#26ff00 242.5px,#38ff00 246.5px,#81ff00 250.5px,#8aff00 254.5px,#fff 255.5px,#fff 260.5px,#07ff00 261.5px,#34ff00 266.5px,#6f0 267.5px,#c1ff00 268.5px,#f3ff00 269.5px,#fff800 273.5px,#ffdb00 283.5px,#ffcb00 285.5px,#ffc200 306.5px,#feff00 330.5px,#fff500 332.5px,#ffe900 354.5px)"></i><i style="background:linear-gradient(#00fffb 0.5px,#00f9ff 9.5px,#00a4ff 36.5px,#0058ff 74.5px,#0047ff 86.5px,#0000f5 87.5px,#0000f8 113.5px,#0023ff 127.5px,#0058ff 129.5px,#0064ff 133.5px,#00e3ff 134.5px,#00e3ff 138.5px,#003dff 139.5px,#003dff 142.5px,#05f 146.5px,#0058ff 165.5px,#006cff 166.5px,#0093ff 167.5px,#00abff 168.5px,#00d2ff 173.5px,#00f8ff 175.5px,#0fe 177.5px,#00ffa4 180.5px,#0f7 181.5px,#00ff1c 186.5px,#00ff19 190.5px,#00ff23 194.5px,#00ff4f 198.5px,#00ff6c 199.5px,#00ff51 210.5px,#00ff27 216.5px,#00ff3e 217.5px,#06ff00 227.5px,#00ff06 235.5px,#17ff00 236.5px,#1eff00 243.5px,#2dff00 246.5px,#76ff00 250.5px,#7fff00 254.5px,#fff 255.5px,#fff 260.5px,#10ff00 261.5px,#3eff00 266.5px,#70ff00 267.5px,#cbff00 268.5px,#fcff00 269.5px,#ffd100 291.5px,#ffcf00 306.5px,#f7ff00 328.5px,#f0ff00 330.5px,#feff00 331.5px,#f9ff00 336.5px,#fff500 354.5px)"></i><i style="background:linear-gradient(#00fdff 0.5px,#00e9ff 11.5px,#0091ff 43.5px,#0046ff 86.5px,#0000f5 87.5px,#0000f9 113.5px,#0027ff 127.5px,#005cff 129.5px,#0068ff 133.5px,#00e3ff 134.5px,#00e3ff 138.5px,#0041ff 139.5px,#0035ff 141.5px,#0051ff 146.5px,#0054ff 165.5px,#0068ff 166.5px,#0090ff 167.5px,#00a7ff 168.5px,#00cfff 173.5px,#00fffb 176.5px,#00ffdf 178.5px,#00ffad 180.5px,#00ff89 181.5px,#00ff36 186.5px,#00ff32 190.5px,#00ff3d 194.5px,#00ff7a 200.5px,#00ff5a 211.5px,#05ff01 222.5px,#3cff00 227.5px,#2cff00 235.5px,#09ff00 236.5px,#0bff00 242.5px,#1dff00 246.5px,#6f0 250.5px,#6fff00 254.5px,#fff 255.5px,#fff 260.5px,#36ff00 261.5px,#63ff00 266.5px,#95ff00 267.5px,#f0ff00 268.5px,#fff200 269.5px,#ffd300 283.5px,#ffdf00 285.5px,#ffd300 302.5px,#f8ff00 327.5px,#edff00 330.5px,#edff00 333.5px,#fffa00 352.5px,#fff900 354.5px)"></i><i style="background:linear-gradient(#00fffd 0.5px,#00f2ff 10.5px,#00a3ff 34.5px,#0049ff 83.5px,#0045ff 86.5px,#0000f3 87.5px,#0000f7 113.5px,#01f 118.5px,#0027ff 127.5px,#005bff 129.5px,#0067ff 133.5px,#00e3ff 134.5px,#00e3ff 138.5px,#0040ff 139.5px,#0038ff 141.5px,#0053ff 146.5px,#0057ff 165.5px,#006aff 166.5px,#0092ff 167.5px,#00a9ff 168.5px,#00d1ff 173.5px,#00f7ff 175.5px,#00ffef 177.5px,#00ffa7 180.5px,#00ff74 181.5px,#00ff18 186.5px,#00ff15 190.5px,#00ff20 194.5px,#00ff52 198.5px,#00ff73 199.5px,#00ff5e 210.5px,#07ff00 220.5px,#4fff00 227.5px,#37ff00 235.5px,#19ff00 236.5px,#12ff00 241.5px,#25ff00 246.5px,#6eff00 250.5px,#7f0 254.5px,#fff 255.5px,#fff 260.5px,#0aff00 261.5px,#38ff00 266.5px,#6aff00 267.5px,#c5ff00 268.5px,#f5ff00 269.5px,#fff300 278.5px,#ffd800 301.5px,#ffde00 306.5px,#ffcf00 307.5px,#fff500 330.5px,#efff00 333.5px,#fffa00 351.5px,#fff800 354.5px)"></i><i style="background:linear-gradient(#00fffd 0.5px,#00f1ff 10.5px,#00a3ff 34.5px,#0083ff 48.5px,#007eff 55.5px,#004eff 86.5px,#0000f3 87.5px,#0000f7 113.5px,#01f 119.5px,#0025ff 127.5px,#005aff 129.5px,#06f 133.5px,#00e3ff 134.5px,#00e3ff 138.5px,#003eff 139.5px,#003cff 142.5px,#0053ff 146.5px,#0057ff 165.5px,#006aff 166.5px,#0092ff 167.5px,#00a9ff 168.5px,#00d1ff 173.5px,#00f7ff 175.5px,#00ffef 177.5px,#00ff78 182.5px,#00ff31 187.5px,#00ff40 194.5px,#00ff82 200.5px,#00ff6b 210.5px,#00ff2a 216.5px,#00ff08 218.5px,#37ff00 222.5px,#5dff00 227.5px,#4bff00 233.5px,#20ff00 239.5px,#2bff00 245.5px,#86ff00 251.5px,#86ff00 254.5px,#fff 255.5px,#fff 260.5px,#18ff00 261.5px,#45ff00 266.5px,#78ff00 267.5px,#d3ff00 268.5px,#fffe00 269.5px,#ffe900 283.5px,#ffdb00 286.5px,#ffcd00 301.5px,#fffd00 336.5px,#fff000 354.5px)"></i><i style="background:linear-gradient(#00fdff 0.5px,#00e9ff 11.5px,#0096ff 39.5px,#0045ff 86.5px,#0000f1 87.5px,#0000f5 113.5px,#000aff 116.5px,#0023ff 127.5px,#0057ff 129.5px,#0064ff 133.5px,#00e3ff 134.5px,#00e3ff 138.5px,#003cff 139.5px,#003cff 142.5px,#0053ff 146.5px,#0057ff 165.5px,#006bff 166.5px,#0092ff 167.5px,#0af 168.5px,#00d1ff 173.5px,#00f7ff 175.5px,#00ffef 177.5px,#00ffa7 180.5px,#00ff79 181.5px,#00ff1f 186.5px,#00ff1c 190.5px,#00ff27 194.5px,#00ff58 198.5px,#00ff7b 199.5px,#00ff69 210.5px,#00ff1f 216.5px,#01ff02 217.5px,#5cff00 221.5px,#7fff00 227.5px,#74ff00 232.5px,#58ff00 235.5px,#1f0 236.5px,#00ff03 239.5px,#02ff00 245.5px,#5eff00 251.5px,#5eff00 254.5px,#fff 255.5px,#fff 260.5px,#62ff00 261.5px,#8fff00 266.5px,#fff300 268.5px,#ffe100 269.5px,#ffcd00 283.5px,#ffd600 285.5px,#ffc700 301.5px,#ffcf00 306.5px,#ffde00 308.5px,#fffd00 330.5px,#ecff00 332.5px,#fffa00 354.5px)"></i><i style="background:linear-gradient(#00fbff 0.5px,#00e7ff 11.5px,#008dff 44.5px,#04f 86.5px,#0000f4 87.5px,#0000f8 113.5px,#02f 127.5px,#0057ff 129.5px,#0063ff 133.5px,#00e3ff 134.5px,#00e3ff 138.5px,#003bff 139.5px,#003eff 142.5px,#05f 146.5px,#0058ff 165.5px,#006cff 166.5px,#0094ff 167.5px,#00abff 168.5px,#00d3ff 173.5px,#00f9ff 175.5px,#0fe 177.5px,#00ffa3 180.5px,#00ff72 181.5px,#00ff15 186.5px,#00ff12 190.5px,#00ff1d 194.5px,#00ff4f 198.5px,#00ff6b 199.5px,#00ff59 210.5px,#00ff03 216.5px,#00ff0e 217.5px,#05ff00 218.5px,#40ff00 220.5px,#5f0 222.5px,#67ff00 228.5px,#5cff00 232.5px,#39ff00 235.5px,#1bff00 239.5px,#21ff00 245.5px,#7cff00 251.5px,#7cff00 254.5px,#fff 255.5px,#fff 260.5px,#2f0 261.5px,#4fff00 266.5px,#82ff00 267.5px,#deff00 268.5px,#fff900 269.5px,#ffd400 301.5px,#fffc00 330.5px,#edff00 332.5px,#fff900 354.5px)"></i><i style="background:linear-gradient(#00fffe 0.5px,#00f0ff 10.5px,#0098ff 41.5px,#0049ff 86.5px,#0000f7 87.5px,#0000fa 113.5px,#0023ff 127.5px,#0058ff 129.5px,#0064ff 133.5px,#00e3ff 134.5px,#00e3ff 138.5px,#003dff 139.5px,#0041ff 142.5px,#0058ff 146.5px,#005bff 165.5px,#006fff 166.5px,#0096ff 167.5px,#00aeff 168.5px,#00d6ff 173.5px,#00fcff 175.5px,#00ffd7 178.5px,#00ff69 182.5px,#00ff27 186.5px,#00ff24 190.5px,#00ff2f 194.5px,#00ff5f 198.5px,#00ff76 199.5px,#0f6 210.5px,#03ff01 217.5px,#64ff00 220.5px,#76ff00 221.5px,#7fff00 229.5px,#74ff00 232.5px,#4bff00 235.5px,#64ff00 236.5px,#42ff00 239.5px,#47ff00 245.5px,#87ff00 249.5px,#a2ff00 251.5px,#a2ff00 254.5px,#fff 255.5px,#fff 260.5px,#49ff00 261.5px,#7f0 266.5px,#af0 267.5px,#fffc00 268.5px,#ffe900 269.5px,#ffc800 301.5px,#fff800 326.5px,#fffc00 330.5px,#ffef00 331.5px,#ffe300 354.5px)"></i><i style="background:linear-gradient(#00fdff 0.5px,#00e8ff 11.5px,#00a1ff 37.5px,#004cff 84.5px,#004aff 86.5px,#0000f6 87.5px,#0000f9 113.5px,#0025ff 127.5px,#0059ff 129.5px,#06f 133.5px,#00e3ff 134.5px,#00e3ff 138.5px,#003eff 139.5px,#003cff 142.5px,#0053ff 146.5px,#0056ff 165.5px,#006aff 166.5px,#0091ff 167.5px,#00a9ff 168.5px,#00d1ff 173.5px,#00fff9 176.5px,#0fd 178.5px,#00ffa9 180.5px,#00ff78 181.5px,#00ff1e 186.5px,#00ff1b 190.5px,#00ff26 194.5px,#00ff57 198.5px,#00ff72 199.5px,#00ff6c 209.5px,#00ff0e 215.5px,#08ff00 216.5px,#1aff00 217.5px,#87ff00 220.5px,#9aff00 221.5px,#95ff00 231.5px,#1fff00 239.5px,#2f0 245.5px,#61ff00 249.5px,#7dff00 251.5px,#7dff00 254.5px,#fff 255.5px,#fff 260.5px,#5dff00 261.5px,#8bff00 266.5px,#fff400 268.5px,#ffe100 269.5px,#ffb200 300.5px,#ffbc00 306.5px,#ffd500 307.5px,#fff800 330.5px,#fff100 333.5px,#ffe400 354.5px)"></i><i style="background:linear-gradient(#00fbff 0.5px,#00e7ff 11.5px,#008eff 43.5px,#0043ff 86.5px,#0000f7 87.5px,#0000fb 113.5px,#0024ff 127.5px,#0058ff 129.5px,#0065ff 133.5px,#00e3ff 134.5px,#00e3ff 138.5px,#003dff 139.5px,#003bff 142.5px,#0052ff 146.5px,#05f 165.5px,#0069ff 166.5px,#0090ff 167.5px,#00a8ff 168.5px,#00d0ff 173.5px,#00fffa 176.5px,#00ffde 178.5px,#00ffac 180.5px,#00ff7c 181.5px,#00ff23 186.5px,#00ff20 190.5px,#00ff2b 194.5px,#00ff5c 198.5px,#00ff7a 199.5px,#00ff75 209.5px,#00ff36 213.5px,#05ff00 216.5px,#9cff00 220.5px,#afff00 221.5px,#9fff00 231.5px,#5fff00 235.5px,#73ff00 236.5px,#47ff00 239.5px,#47ff00 245.5px,#87ff00 249.5px,#a2ff00 251.5px,#a2ff00 254.5px,#fff 255.5px,#fff 260.5px,#26ff00 261.5px,#54ff00 266.5px,#87ff00 267.5px,#e5ff00 268.5px,#fff600 269.5px,#ffca00 300.5px,#ffd400 306.5px,#ffe400 307.5px,#f9ff00 325.5px,#eaff00 330.5px,#faff00 331.5px,#f9ff00 337.5px,#fff600 354.5px)"></i><i style="background:linear-gradient(#00fffd 0.5px,#00f1ff 10.5px,#09f 41.5px,#005dff 68.5px,#0045ff 86.5px,#0000f8 87.5px,#0002ff 114.5px,#0023ff 127.5px,#0058ff 129.5px,#0064ff 133.5px,#00e3ff 134.5px,#00e3ff 138.5px,#003dff 139.5px,#003bff 142.5px,#0052ff 146.5px,#05f 165.5px,#0069ff 166.5px,#0091ff 167.5px,#00a8ff 168.5px,#00d0ff 173.5px,#00fffa 176.5px,#00ffde 178.5px,#00ff76 182.5px,#00ff30 187.5px,#00ff3f 194.5px,#00ff80 200.5px,#00ff70 209.5px,#00ff2b 213.5px,#00ff04 215.5px,#19ff00 216.5px,#aeff00 220.5px,#bfff00 221.5px,#a7ff00 231.5px,#64ff00 235.5px,#78ff00 236.5px,#4eff00 239.5px,#4dff00 245.5px,#7cff00 248.5px,#af0 251.5px,#af0 254.5px,#fff 255.5px,#fff 260.5px,#00ff0c 261.5px,#05ff00 264.5px,#17ff00 266.5px,#4bff00 267.5px,#af0 268.5px,#dbff00 269.5px,#fffc00 280.5px,#fff800 283.5px,#ffe400 284.5px,#ffd200 301.5px,#ff0 337.5px,#fff300 354.5px)"></i><i style="background:linear-gradient(#00fffe 0.5px,#00f1ff 10.5px,#009bff 39.5px,#05f 74.5px,#04f 86.5px,#0000f7 87.5px,#0000fb 113.5px,#0023ff 127.5px,#0058ff 129.5px,#0064ff 133.5px,#00e3ff 134.5px,#00e3ff 138.5px,#003dff 139.5px,#003dff 142.5px,#0054ff 146.5px,#0057ff 165.5px,#006bff 166.5px,#0092ff 167.5px,#0af 168.5px,#00d2ff 173.5px,#00f8ff 175.5px,#00ffef 177.5px,#00ffa6 180.5px,#00ff70 182.5px,#00ff30 186.5px,#00ff2d 190.5px,#00ff38 194.5px,#00ff67 198.5px,#00ff84 199.5px,#00ff7c 207.5px,#00ff67 210.5px,#02ff02 215.5px,#1bff00 216.5px,#67ff00 217.5px,#c7ff00 220.5px,#d6ff00 221.5px,#c4ff00 229.5px,#af0 232.5px,#41ff00 238.5px,#37ff00 245.5px,#67ff00 248.5px,#96ff00 251.5px,#96ff00 254.5px,#fff 255.5px,#fff 260.5px,#17ff00 261.5px,#4f0 266.5px,#78ff00 267.5px,#d8ff00 268.5px,#fffb00 269.5px,#ffce00 300.5px,#ffd900 306.5px,#ffd200 308.5px,#fffc00 336.5px,#ffef00 354.5px)"></i><i style="background:linear-gradient(#0ff 0.5px,#00ebff 11.5px,#0096ff 42.5px,#08f 48.5px,#0078ff 51.5px,#0040ff 86.5px,#0000f5 87.5px,#0000f8 113.5px,#0023ff 127.5px,#0058ff 129.5px,#0064ff 133.5px,#00e3ff 134.5px,#00e3ff 138.5px,#003dff 139.5px,#003eff 142.5px,#05f 146.5px,#0058ff 165.5px,#006cff 166.5px,#0094ff 167.5px,#00abff 168.5px,#00d3ff 173.5px,#00f9ff 175.5px,#0fe 177.5px,#00ffa3 180.5px,#00ff6e 182.5px,#00ff2d 186.5px,#00ff2a 190.5px,#00ff35 194.5px,#00ff65 198.5px,#00ff5b 206.5px,#00ff35 210.5px,#00ff08 212.5px,#1bff00 213.5px,#64ff00 215.5px,#7eff00 216.5px,#87ff00 217.5px,#dbff00 220.5px,#e8ff00 221.5px,#dcff00 228.5px,#b3ff00 232.5px,#79ff00 235.5px,#96ff00 236.5px,#74ff00 239.5px,#71ff00 245.5px,#a1ff00 248.5px,#d2ff00 251.5px,#d2ff00 254.5px,#fff 255.5px,#fff 260.5px,#1fff00 261.5px,#4dff00 266.5px,#81ff00 267.5px,#e1ff00 268.5px,#fff700 269.5px,#fc0 300.5px,#ffd700 306.5px,#ffed00 307.5px,#f7ff00 318.5px,#ceff00 330.5px,#fff100 331.5px,#ffe600 354.5px)"></i><i style="background:linear-gradient(#00fdff 0.5px,#00e8ff 11.5px,#0096ff 41.5px,#004eff 79.5px,#0045ff 86.5px,#0000f3 87.5px,#0000f7 113.5px,#000fff 118.5px,#0024ff 127.5px,#0059ff 129.5px,#0065ff 133.5px,#00e3ff 134.5px,#00e3ff 138.5px,#003eff 139.5px,#0040ff 142.5px,#0057ff 146.5px,#005aff 165.5px,#006eff 166.5px,#0095ff 167.5px,#00adff 168.5px,#00d5ff 173.5px,#00fbff 175.5px,#00ffec 177.5px,#00ff9e 180.5px,#00ff6a 182.5px,#00ff28 186.5px,#00ff25 190.5px,#00ff30 194.5px,#00ff79 200.5px,#00ff6d 206.5px,#00ff42 210.5px,#08ff00 213.5px,#53ff00 215.5px,#6aff00 216.5px,#98ff00 217.5px,#e0ff00 220.5px,#ebff00 222.5px,#dfff00 228.5px,#adff00 232.5px,#56ff00 236.5px,#38ff00 239.5px,#34ff00 245.5px,#65ff00 248.5px,#96ff00 251.5px,#96ff00 254.5px,#fff 255.5px,#fff 260.5px,#37ff00 261.5px,#64ff00 266.5px,#9f0 267.5px,#faff00 268.5px,#fe0 269.5px,#ffc800 300.5px,#fffc00 330.5px,#fe0 331.5px,#ffe300 354.5px)"></i><i style="background:linear-gradient(#00fcff 0.5px,#00e7ff 11.5px,#0093ff 40.5px,#04f 86.5px,#0000f2 87.5px,#0000f6 113.5px,#0009ff 117.5px,#0021ff 127.5px,#05f 129.5px,#0061ff 133.5px,#00e3ff 134.5px,#00e3ff 138.5px,#003aff 139.5px,#005fff 146.5px,#0062ff 165.5px,#0076ff 166.5px,#009dff 167.5px,#00b5ff 168.5px,#00dcff 173.5px,#00fffd 175.5px,#00ffe6 177.5px,#00ffcf 178.5px,#00ff89 180.5px,#0f8 181.5px,#00ff34 186.5px,#00ff31 190.5px,#00ff3c 194.5px,#00ff6a 198.5px,#00ff85 199.5px,#00ff7e 206.5px,#00ff4e 210.5px,#00ff04 213.5px,#47ff00 215.5px,#59ff00 216.5px,#87ff00 217.5px,#c4ff00 220.5px,#cf0 223.5px,#c1ff00 228.5px,#85ff00 232.5px,#49ff00 235.5px,#64ff00 236.5px,#4aff00 240.5px,#46ff00 245.5px,#7f0 248.5px,#a9ff00 251.5px,#a9ff00 254.5px,#fff 255.5px,#fff 260.5px,#12ff00 261.5px,#3fff00 266.5px,#75ff00 267.5px,#d6ff00 268.5px,#fffb00 269.5px,#ffca00 300.5px,#ffd500 306.5px,#ffe600 308.5px,#f7ff00 324.5px,#e3ff00 330.5px,#ffef00 331.5px,#ffe400 354.5px)"></i><i style="background:linear-gradient(#00feff 0.5px,#00eaff 11.5px,#09f 38.5px,#0046ff 85.5px,#04f 86.5px,#0000f1 87.5px,#0000f5 113.5px,#000bff 116.5px,#0024ff 127.5px,#0058ff 129.5px,#0065ff 133.5px,#00e3ff 134.5px,#00e3ff 138.5px,#003dff 139.5px,#0040ff 142.5px,#0058ff 146.5px,#005bff 165.5px,#006fff 166.5px,#0096ff 167.5px,#00aeff 168.5px,#00d5ff 173.5px,#00fcff 175.5px,#00ffec 177.5px,#00ff69 182.5px,#00ff27 186.5px,#00ff24 190.5px,#00ff2f 194.5px,#00ff6f 200.5px,#00ff60 206.5px,#00ff24 210.5px,#00ff0c 211.5px,#1bff00 212.5px,#7dff00 214.5px,#9cff00 215.5px,#efff00 220.5px,#f3ff00 226.5px,#eaff00 228.5px,#8eff00 233.5px,#68ff00 235.5px,#2dff00 236.5px,#17ff00 240.5px,#12ff00 245.5px,#30ff00 247.5px,#6eff00 250.5px,#78ff00 253.5px,#78ff00 254.5px,#fff 255.5px,#fff 260.5px,#06ff00 261.5px,#3f0 266.5px,#69ff00 267.5px,#cbff00 268.5px,#feff00 269.5px,#ffe900 283.5px,#fc0 284.5px,#ffb800 300.5px,#ffc400 306.5px,#fff200 307.5px,#f8ff00 315.5px,#beff00 330.5px,#fffc00 331.5px,#fff100 354.5px)"></i><i style="background:linear-gradient(#00feff 0.5px,#00e9ff 11.5px,#0097ff 41.5px,#0048ff 86.5px,#0000f4 87.5px,#0000f8 113.5px,#02f 127.5px,#0056ff 129.5px,#0062ff 133.5px,#00e3ff 134.5px,#00e3ff 138.5px,#003bff 139.5px,#0049ff 143.5px,#0057ff 147.5px,#005bff 165.5px,#006eff 166.5px,#0096ff 167.5px,#00adff 168.5px,#00d5ff 173.5px,#00fbff 175.5px,#00ffec 177.5px,#00ff9d 180.5px,#00ff59 183.5px,#00ff20 187.5px,#00ff2f 194.5px,#00ff76 200.5px,#0f6 206.5px,#00ff0b 211.5px,#20ff00 212.5px,#87ff00 214.5px,#a5ff00 215.5px,#b0ff00 216.5px,#a4ff00 217.5px,#cdff00 221.5px,#caff00 227.5px,#89ff00 231.5px,#20ff00 236.5px,#0bff00 242.5px,#08ff00 245.5px,#27ff00 247.5px,#65ff00 250.5px,#6fff00 253.5px,#6fff00 254.5px,#fff 255.5px,#fff 260.5px,#2aff00 261.5px,#58ff00 266.5px,#8dff00 267.5px,#f0ff00 268.5px,#fff100 269.5px,#ffc000 300.5px,#fff600 336.5px,#ffe900 354.5px)"></i><i style="background:linear-gradient(#00fffe 0.5px,#00f0ff 10.5px,#00a2ff 34.5px,#0082ff 48.5px,#0081ff 53.5px,#004dff 86.5px,#0000f7 87.5px,#0000fb 113.5px,#0025ff 127.5px,#0059ff 129.5px,#06f 133.5px,#00e3ff 134.5px,#00e3ff 138.5px,#003eff 139.5px,#003dff 142.5px,#0054ff 146.5px,#0058ff 165.5px,#006cff 166.5px,#0093ff 167.5px,#00abff 168.5px,#00d2ff 173.5px,#00f8ff 175.5px,#0fe 177.5px,#00ffa4 180.5px,#00ff6c 182.5px,#00ff2a 186.5px,#00ff27 190.5px,#00ff32 194.5px,#00ff78 200.5px,#0f6 206.5px,#00ff03 211.5px,#9dff00 214.5px,#bf0 215.5px,#edff00 220.5px,#efff00 227.5px,#baff00 230.5px,#4eff00 235.5px,#24ff00 236.5px,#0fff00 245.5px,#2eff00 247.5px,#6eff00 250.5px,#78ff00 252.5px,#78ff00 254.5px,#fff 255.5px,#fff 260.5px,#00ff01 261.5px,#2cff00 266.5px,#62ff00 267.5px,#c5ff00 268.5px,#f8ff00 269.5px,#ffeb00 283.5px,#ffdb00 284.5px,#ffc600 300.5px,#ffd300 306.5px,#ffe800 307.5px,#f7ff00 320.5px,#d4ff00 330.5px,#fff700 331.5px,#ffed00 354.5px)"></i><i style="background:linear-gradient(#00fffe 0.5px,#00efff 10.5px,#00a0ff 34.5px,#0047ff 82.5px,#0042ff 86.5px,#0000f7 87.5px,#0000fb 113.5px,#0023ff 127.5px,#0057ff 129.5px,#0063ff 133.5px,#00e3ff 134.5px,#00e3ff 138.5px,#003cff 139.5px,#004bff 143.5px,#0059ff 147.5px,#005cff 165.5px,#0070ff 166.5px,#0097ff 167.5px,#00afff 168.5px,#00d7ff 173.5px,#00fdff 175.5px,#00ffd6 178.5px,#0f9 180.5px,#00ff80 182.5px,#00ff3b 187.5px,#00ff4b 194.5px,#0f7 198.5px,#00ff6d 199.5px,#00ff6a 205.5px,#0f2 209.5px,#00ff0d 210.5px,#18ff00 211.5px,#c2ff00 214.5px,#e0ff00 215.5px,#e4ff00 216.5px,#d1ff00 217.5px,#deff00 224.5px,#deff00 227.5px,#baff00 229.5px,#40ff00 234.5px,#32ff00 235.5px,#51ff00 236.5px,#3fff00 245.5px,#5fff00 247.5px,#9fff00 250.5px,#af0 252.5px,#af0 254.5px,#fff 255.5px,#fff 260.5px,#37ff00 261.5px,#65ff00 266.5px,#9bff00 267.5px,#ff0 268.5px,#ffeb00 269.5px,#ffc100 300.5px,#ffcd00 306.5px,#ffdf00 307.5px,#f7ff00 326.5px,#e9ff00 330.5px,#fffb00 331.5px,#fff000 354.5px)"></i><i style="background:linear-gradient(#0ff 0.5px,#00eaff 11.5px,#0090ff 44.5px,#0048ff 86.5px,#0000f4 87.5px,#0000f8 113.5px,#0016ff 120.5px,#0028ff 127.5px,#005dff 129.5px,#0069ff 133.5px,#00e3ff 134.5px,#00e3ff 138.5px,#0041ff 139.5px,#0041ff 142.5px,#0058ff 146.5px,#005bff 165.5px,#006fff 166.5px,#0097ff 167.5px,#00aeff 168.5px,#00d6ff 173.5px,#00fcff 175.5px,#00ffd7 178.5px,#00ff69 182.5px,#00ff27 186.5px,#00ff24 190.5px,#00ff30 194.5px,#00ff60 198.5px,#00ff79 199.5px,#00ff74 205.5px,#00ff3d 208.5px,#00ff12 210.5px,#1f0 211.5px,#bfff00 214.5px,#df0 215.5px,#d3ff00 219.5px,#d2ff00 227.5px,#abff00 229.5px,#2bff00 234.5px,#1dff00 235.5px,#35ff00 236.5px,#26ff00 245.5px,#46ff00 247.5px,#87ff00 250.5px,#92ff00 252.5px,#92ff00 254.5px,#fff 255.5px,#fff 260.5px,#26ff00 261.5px,#53ff00 266.5px,#8aff00 267.5px,#edff00 268.5px,#fff200 269.5px,#ffc300 300.5px,#ffd000 306.5px,#ffe500 307.5px,#faff00 321.5px,#d9ff00 330.5px,#ffef00 331.5px,#ffe500 354.5px)"></i><i style="background:linear-gradient(#00feff 0.5px,#00eaff 11.5px,#0093ff 42.5px,#0048ff 86.5px,#0000f2 87.5px,#0000f6 113.5px,#000fff 117.5px,#0026ff 127.5px,#005bff 129.5px,#0067ff 133.5px,#00e3ff 134.5px,#00e3ff 138.5px,#0040ff 139.5px,#003fff 142.5px,#0056ff 146.5px,#005aff 165.5px,#006eff 166.5px,#0095ff 167.5px,#00adff 168.5px,#00d4ff 173.5px,#00faff 175.5px,#00ffec 177.5px,#00ff6e 182.5px,#00ff2d 186.5px,#00ff2a 190.5px,#00ff37 194.5px,#00ff65 198.5px,#00ff65 202.5px,#00ff58 205.5px,#02ff03 209.5px,#20ff00 210.5px,#edff00 214.5px,#fffc00 215.5px,#fffc00 216.5px,#f0ff00 217.5px,#e8ff00 227.5px,#bdff00 229.5px,#42ff00 234.5px,#36ff00 235.5px,#16ff00 236.5px,#09ff00 245.5px,#2aff00 247.5px,#6bff00 250.5px,#78ff00 253.5px,#78ff00 254.5px,#fff 255.5px,#fff 260.5px,#2fff00 261.5px,#60ff00 266.5px,#93ff00 267.5px,#ef0 268.5px,#fff300 269.5px,#ffc200 300.5px,#ffcf00 306.5px,#ffe000 309.5px,#f7ff00 328.5px,#f1ff00 330.5px,#fff900 331.5px,#fe0 354.5px)"></i><i style="background:linear-gradient(#00feff 0.5px,#00e9ff 11.5px,#0097ff 41.5px,#0049ff 86.5px,#0000f2 87.5px,#0000f6 113.5px,#0012ff 117.5px,#0029ff 127.5px,#005eff 129.5px,#006aff 133.5px,#00e3ff 134.5px,#00e3ff 138.5px,#0043ff 139.5px,#003aff 141.5px,#0056ff 146.5px,#0059ff 165.5px,#006dff 166.5px,#0094ff 167.5px,#00acff 168.5px,#00d4ff 173.5px,#00faff 175.5px,#00ffed 177.5px,#00ffa1 180.5px,#00ff69 182.5px,#00ff27 186.5px,#00ff25 190.5px,#0f3 194.5px,#00ff61 198.5px,#00ff78 199.5px,#00ff60 205.5px,#00ff07 209.5px,#14ff00 210.5px,#cbff00 214.5px,#e2ff00 215.5px,#edff00 224.5px,#dbff00 227.5px,#3aff00 234.5px,#2eff00 235.5px,#3f0 238.5px,#2aff00 245.5px,#63ff00 248.5px,#8dff00 250.5px,#9cff00 254.5px,#fff 255.5px,#fff 260.5px,#35ff00 261.5px,#69ff00 266.5px,#98ff00 267.5px,#ebff00 268.5px,#fff500 269.5px,#ffda00 283.5px,#ffe800 284.5px,#ffd200 300.5px,#ffdf00 306.5px,#ffd000 307.5px,#fffa00 330.5px,#d9ff00 331.5px,#dcff00 339.5px,#f5ff00 354.5px)"></i><i style="background:linear-gradient(#00feff 0.5px,#00eaff 11.5px,#0092ff 43.5px,#004bff 86.5px,#0000f4 87.5px,#0000f8 113.5px,#0026ff 127.5px,#005aff 129.5px,#06f 133.5px,#00e3ff 134.5px,#00e3ff 138.5px,#003fff 139.5px,#0041ff 142.5px,#0059ff 146.5px,#005cff 165.5px,#0070ff 166.5px,#0097ff 167.5px,#00afff 168.5px,#00d7ff 173.5px,#00fdff 175.5px,#00ffd6 178.5px,#0f9 180.5px,#00ff38 186.5px,#00ff37 190.5px,#00ff47 194.5px,#00ff72 198.5px,#00ff5b 203.5px,#00ff37 206.5px,#04ff02 208.5px,#90ff00 212.5px,#e4ff00 214.5px,#f9ff00 215.5px,#feff00 225.5px,#d4ff00 228.5px,#82ff00 231.5px,#40ff00 235.5px,#30ff00 237.5px,#27ff00 245.5px,#8bff00 250.5px,#9cff00 254.5px,#fff 255.5px,#fff 260.5px,#45ff00 261.5px,#7cff00 266.5px,#a7ff00 267.5px,#f2ff00 268.5px,#fff100 270.5px,#ffd600 283.5px,#ffe900 284.5px,#ffd200 300.5px,#ffdf00 306.5px,#ffd000 307.5px,#fffa00 330.5px,#d8ff00 331.5px,#e1ff00 342.5px,#f5ff00 354.5px)"></i><i style="background:linear-gradient(#00fbff 0.5px,#00e7ff 11.5px,#008dff 44.5px,#0047ff 86.5px,#0000f7 87.5px,#0000fa 113.5px,#0021ff 127.5px,#0056ff 129.5px,#0062ff 133.5px,#00e3ff 134.5px,#00e3ff 138.5px,#003aff 139.5px,#0048ff 143.5px,#0056ff 147.5px,#0059ff 165.5px,#006dff 166.5px,#0095ff 167.5px,#00acff 168.5px,#00d4ff 173.5px,#00faff 175.5px,#00ffed 177.5px,#00ff6e 182.5px,#00ff2d 186.5px,#00ff2c 190.5px,#00ff3e 194.5px,#00ff69 198.5px,#00ff7e 199.5px,#00ff67 203.5px,#00ff3e 206.5px,#01ff04 208.5px,#7cff00 212.5px,#c4ff00 214.5px,#d7ff00 215.5px,#d7ff00 216.5px,#f8ff00 217.5px,#f4ff00 225.5px,#c1ff00 228.5px,#6dff00 231.5px,#34ff00 235.5px,#51ff00 236.5px,#48ff00 245.5px,#abff00 250.5px,#bfff00 254.5px,#fff 255.5px,#fff 260.5px,#46ff00 261.5px,#7fff00 266.5px,#a6ff00 267.5px,#e9ff00 268.5px,#fff900 269.5px,#ffba00 299.5px,#fff900 334.5px,#ffec00 354.5px)"></i><i style="background:linear-gradient(#00fcff 0.5px,#00e8ff 11.5px,#009bff 39.5px,#0056ff 73.5px,#04f 86.5px,#0000f3 87.5px,#0000f7 113.5px,#0016ff 125.5px,#001cff 127.5px,#0051ff 129.5px,#005dff 133.5px,#00e3ff 134.5px,#00e3ff 138.5px,#0036ff 139.5px,#0047ff 143.5px,#0056ff 147.5px,#0059ff 165.5px,#006cff 166.5px,#0094ff 167.5px,#00abff 168.5px,#00d3ff 173.5px,#00f9ff 175.5px,#00ffed 177.5px,#00ffa2 180.5px,#00ff69 182.5px,#00ff27 186.5px,#00ff28 190.5px,#00ff3b 194.5px,#0f6 198.5px,#00ff63 201.5px,#00ff30 205.5px,#09ff00 207.5px,#42ff00 208.5px,#68ff00 209.5px,#b5ff00 212.5px,#f1ff00 214.5px,#fffe00 215.5px,#fffe00 216.5px,#edff00 217.5px,#f1ff00 224.5px,#c3ff00 227.5px,#56ff00 231.5px,#25ff00 235.5px,#23ff00 245.5px,#87ff00 250.5px,#9cff00 254.5px,#fff 255.5px,#fff 260.5px,#60ff00 261.5px,#9dff00 266.5px,#c0ff00 267.5px,#faff00 268.5px,#ffe000 275.5px,#ffbd00 300.5px,#fff200 330.5px,#f2ff00 332.5px,#fff800 354.5px)"></i><i style="background:linear-gradient(#00feff 0.5px,#00e9ff 11.5px,#0097ff 41.5px,#004aff 86.5px,#0000f5 87.5px,#0000f9 113.5px,#001fff 127.5px,#0053ff 129.5px,#005fff 133.5px,#00e3ff 134.5px,#00e3ff 138.5px,#0038ff 139.5px,#005bff 146.5px,#005eff 165.5px,#0072ff 166.5px,#09f 167.5px,#00b1ff 168.5px,#00d9ff 173.5px,#0ff 175.5px,#00ffd3 178.5px,#00ff93 180.5px,#00ff32 186.5px,#00ff30 189.5px,#00ff47 194.5px,#00ff78 199.5px,#00ff63 202.5px,#00ff1c 206.5px,#09ff00 207.5px,#45ff00 208.5px,#6bff00 209.5px,#daff00 214.5px,#e7ff00 216.5px,#fffb00 217.5px,#fffd00 225.5px,#bdff00 228.5px,#7dff00 230.5px,#5cff00 232.5px,#3fff00 235.5px,#12ff00 236.5px,#0cff00 245.5px,#70ff00 250.5px,#8f0 254.5px,#fff 255.5px,#fff 260.5px,#23ff00 261.5px,#62ff00 266.5px,#81ff00 267.5px,#b3ff00 268.5px,#d1ff00 269.5px,#fdff00 273.5px,#ffec00 283.5px,#ffd900 284.5px,#ffc100 300.5px,#ffce00 306.5px,#ffcd00 310.5px,#fff400 334.5px,#ffe800 354.5px)"></i><i style="background:linear-gradient(#00feff 0.5px,#00e9ff 11.5px,#008fff 44.5px,#0047ff 86.5px,#0000f4 87.5px,#0000f8 113.5px,#0025ff 127.5px,#0059ff 129.5px,#06f 133.5px,#00e3ff 134.5px,#00e3ff 138.5px,#003eff 139.5px,#0041ff 142.5px,#0059ff 146.5px,#005cff 165.5px,#0070ff 166.5px,#0097ff 167.5px,#00afff 168.5px,#00d6ff 173.5px,#00fdff 175.5px,#00ffd6 178.5px,#0f9 180.5px,#00ff38 186.5px,#00ff37 189.5px,#00ff50 194.5px,#0f7 198.5px,#00ff54 202.5px,#00ff03 206.5px,#78ff00 208.5px,#9eff00 209.5px,#fcff00 215.5px,#fffb00 225.5px,#d5ff00 227.5px,#75ff00 230.5px,#58ff00 232.5px,#41ff00 235.5px,#2bff00 236.5px,#20ff00 244.5px,#39ff00 246.5px,#8cff00 250.5px,#a6ff00 254.5px,#fff 255.5px,#fff 260.5px,#3eff00 261.5px,#80ff00 266.5px,#dfff00 269.5px,#fffd00 272.5px,#ffe400 283.5px,#ffd100 284.5px,#ffb800 300.5px,#fff000 330.5px,#fffb00 332.5px,#ffef00 354.5px)"></i><i style="background:linear-gradient(#00fffd 0.5px,#00f1ff 10.5px,#00a4ff 37.5px,#008bff 48.5px,#007cff 50.5px,#0042ff 86.5px,#0000f6 87.5px,#0000f9 113.5px,#0015ff 119.5px,#0029ff 127.5px,#005dff 129.5px,#0069ff 133.5px,#00e3ff 134.5px,#00e3ff 138.5px,#0042ff 139.5px,#003fff 142.5px,#0056ff 146.5px,#0059ff 165.5px,#006dff 166.5px,#0095ff 167.5px,#00acff 168.5px,#00d4ff 173.5px,#00faff 175.5px,#00ffed 177.5px,#00ff73 182.5px,#0f3 186.5px,#00ff32 189.5px,#00ff4c 194.5px,#00ff73 198.5px,#00ff46 202.5px,#00ff08 205.5px,#25ff00 206.5px,#af0 208.5px,#cfff00 209.5px,#fffb00 214.5px,#fff800 216.5px,#f1ff00 217.5px,#f7ff00 224.5px,#e9ff00 225.5px,#4aff00 230.5px,#36ff00 231.5px,#1fff00 235.5px,#51ff00 236.5px,#46ff00 244.5px,#61ff00 246.5px,#b3ff00 250.5px,#cfff00 254.5px,#fff 255.5px,#fff 260.5px,#4bff00 261.5px,#91ff00 266.5px,#e0ff00 269.5px,#fffc00 272.5px,#ffbd00 298.5px,#fffe00 330.5px,#e2ff00 331.5px,#fffe00 354.5px)"></i><i style="background:linear-gradient(#00fbff 0.5px,#00e7ff 11.5px,#00a3ff 36.5px,#0056ff 74.5px,#0046ff 86.5px,#0000f5 87.5px,#0000f8 113.5px,#0023ff 127.5px,#0058ff 129.5px,#0064ff 133.5px,#00e3ff 134.5px,#00e3ff 138.5px,#003dff 139.5px,#003eff 142.5px,#05f 146.5px,#0058ff 165.5px,#006cff 166.5px,#0094ff 167.5px,#00abff 168.5px,#00d3ff 173.5px,#00f9ff 175.5px,#0fe 177.5px,#00ffa3 180.5px,#00ff6c 182.5px,#00ff2b 186.5px,#00ff2b 189.5px,#00ff3c 193.5px,#00ff6c 197.5px,#00ff64 200.5px,#00ff34 203.5px,#00ff07 205.5px,#2bff00 206.5px,#b6ff00 208.5px,#dcff00 209.5px,#fffe00 216.5px,#fff300 218.5px,#fff700 225.5px,#f3ff00 226.5px,#6aff00 230.5px,#56ff00 231.5px,#48ff00 235.5px,#37ff00 236.5px,#2cff00 244.5px,#4aff00 246.5px,#9cff00 250.5px,#b9ff00 254.5px,#fff 255.5px,#fff 260.5px,#54ff00 261.5px,#b0ff00 267.5px,#eaff00 270.5px,#fffc00 272.5px,#ffbd00 298.5px,#fdff00 334.5px,#fff400 354.5px)"></i><i style="background:linear-gradient(#0ff 0.5px,#00ebff 11.5px,#09f 39.5px,#0051ff 75.5px,#0043ff 86.5px,#0000f2 87.5px,#0000f5 113.5px,#000bff 116.5px,#0024ff 127.5px,#0059ff 129.5px,#0065ff 133.5px,#00e3ff 134.5px,#00e3ff 138.5px,#003eff 139.5px,#003aff 142.5px,#0051ff 146.5px,#05f 165.5px,#0068ff 166.5px,#0090ff 167.5px,#00a7ff 168.5px,#00cfff 173.5px,#00fffb 176.5px,#00ffdf 178.5px,#00ffad 180.5px,#00ff89 181.5px,#00ff35 186.5px,#00ff35 189.5px,#00ff47 193.5px,#00ff76 197.5px,#0f6 200.5px,#00ff4b 202.5px,#02ff01 205.5px,#3aff00 206.5px,#caff00 208.5px,#efff00 209.5px,#faff00 216.5px,#fff400 224.5px,#fffb00 225.5px,#c2ff00 227.5px,#56ff00 230.5px,#43ff00 231.5px,#3dff00 235.5px,#13ff00 236.5px,#09ff00 244.5px,#29ff00 246.5px,#7aff00 250.5px,#9f0 254.5px,#fff 255.5px,#fff 260.5px,#76ff00 261.5px,#fffe00 270.5px,#ffe200 277.5px,#ffd600 283.5px,#ffe900 284.5px,#ffcf00 300.5px,#faff00 321.5px,#cdff00 329.5px,#cfff00 330.5px,#fff900 331.5px,#ffec00 354.5px)"></i><i style="background:linear-gradient(#00fffe 0.5px,#00f0ff 10.5px,#0097ff 41.5px,#004fff 79.5px,#0046ff 86.5px,#0000f7 87.5px,#0000fa 113.5px,#0027ff 127.5px,#005cff 129.5px,#0068ff 133.5px,#00e3ff 134.5px,#00e3ff 138.5px,#0040ff 139.5px,#0038ff 141.5px,#0053ff 146.5px,#0057ff 165.5px,#006aff 166.5px,#0092ff 167.5px,#00a9ff 168.5px,#00d1ff 173.5px,#00f7ff 175.5px,#00ffef 177.5px,#00ff78 182.5px,#00ff3a 186.5px,#00ff3a 189.5px,#00ff4c 193.5px,#00ff78 197.5px,#00ff6b 200.5px,#00ff4e 202.5px,#00ff02 205.5px,#37ff00 206.5px,#c1ff00 208.5px,#e5ff00 209.5px,#edff00 216.5px,#fe0 217.5px,#fff200 225.5px,#fbff00 226.5px,#6aff00 230.5px,#57ff00 231.5px,#3eff00 244.5px,#5eff00 246.5px,#afff00 250.5px,#cfff00 254.5px,#fff 255.5px,#fff 260.5px,#54ff00 261.5px,#fdff00 272.5px,#ffcb00 300.5px,#ffd700 306.5px,#ffe700 309.5px,#f7ff00 321.5px,#cdff00 329.5px,#ceff00 330.5px,#edff00 331.5px,#fffb00 348.5px,#fff800 354.5px)"></i><i style="background:linear-gradient(#00f7ff 0.5px,#00e3ff 11.5px,#00a7ff 33.5px,#0057ff 72.5px,#04f 86.5px,#0000f4 87.5px,#0000f8 113.5px,#0026ff 127.5px,#005aff 129.5px,#06f 133.5px,#00e3ff 134.5px,#00e3ff 138.5px,#003fff 139.5px,#003dff 142.5px,#05f 146.5px,#0058ff 165.5px,#006cff 166.5px,#0093ff 167.5px,#00abff 168.5px,#00d2ff 173.5px,#00f8ff 175.5px,#00ffdb 178.5px,#00ff93 181.5px,#00ff46 186.5px,#00ff45 189.5px,#00ff63 194.5px,#00ff7e 197.5px,#00ff7e 198.5px,#00ff61 199.5px,#00ff36 202.5px,#00ff02 204.5px,#64ff00 206.5px,#e8ff00 208.5px,#fffb00 209.5px,#ffef00 224.5px,#fff700 225.5px,#f0ff00 226.5px,#5eff00 230.5px,#4cff00 231.5px,#46ff00 235.5px,#38ff00 237.5px,#2fff00 244.5px,#4fff00 246.5px,#a0ff00 250.5px,#c0ff00 254.5px,#fff 255.5px,#fff 260.5px,#34ff00 261.5px,#f8ff00 274.5px,#fff000 283.5px,#ffdc00 284.5px,#ffc400 300.5px,#ffcf00 306.5px,#ffb900 307.5px,#ffe900 330.5px,#fffe00 331.5px,#ffef00 354.5px)"></i><i style="background:linear-gradient(#00fffe 0.5px,#00f0ff 10.5px,#00a3ff 33.5px,#004bff 81.5px,#04f 86.5px,#0000f6 87.5px,#0000fa 113.5px,#0026ff 127.5px,#005aff 129.5px,#06f 133.5px,#00e3ff 134.5px,#00e3ff 138.5px,#003fff 139.5px,#004eff 143.5px,#005cff 147.5px,#005fff 165.5px,#0073ff 166.5px,#009bff 167.5px,#00b2ff 168.5px,#00daff 173.5px,#00fffe 175.5px,#00ffd2 178.5px,#00ff92 180.5px,#00ff91 181.5px,#0f4 186.5px,#00ff46 190.5px,#00ff79 197.5px,#00ff78 198.5px,#00ff49 199.5px,#00ff18 202.5px,#04ff00 203.5px,#9aff00 206.5px,#d9ff00 207.5px,#fff600 208.5px,#ffe900 210.5px,#ffe600 216.5px,#fffe00 217.5px,#fffc00 224.5px,#f2ff00 225.5px,#3cff00 230.5px,#29ff00 231.5px,#24ff00 235.5px,#51ff00 236.5px,#46ff00 244.5px,#6f0 246.5px,#b7ff00 250.5px,#d7ff00 254.5px,#fff 255.5px,#fff 260.5px,#5fff00 261.5px,#f9ff00 271.5px,#ffdf00 283.5px,#fc0 284.5px,#ffb500 300.5px,#ffc100 306.5px,#ffd300 307.5px,#faff00 327.5px,#f5ff00 330.5px,#e6ff00 331.5px,#fffc00 347.5px,#fff800 354.5px)"></i><i style="background:linear-gradient(#00fffe 0.5px,#00efff 10.5px,#009eff 36.5px,#0047ff 85.5px,#0045ff 86.5px,#0000f5 87.5px,#0000f9 113.5px,#0024ff 127.5px,#0059ff 129.5px,#0065ff 133.5px,#00e3ff 134.5px,#00e3ff 138.5px,#003eff 139.5px,#004dff 143.5px,#005bff 147.5px,#005eff 165.5px,#0072ff 166.5px,#009aff 167.5px,#00b1ff 168.5px,#00d9ff 173.5px,#0ff 175.5px,#00ffd4 178.5px,#00ff95 180.5px,#00ff95 181.5px,#00ff4a 186.5px,#00ff4c 190.5px,#00ff7b 197.5px,#00ff79 198.5px,#00ff52 199.5px,#00ff20 202.5px,#00ff05 203.5px,#58ff00 205.5px,#fffd00 208.5px,#fff100 210.5px,#fe0 216.5px,#ffe300 222.5px,#ffeb00 225.5px,#fffa00 226.5px,#c4ff00 228.5px,#7bff00 230.5px,#68ff00 231.5px,#63ff00 235.5px,#39ff00 236.5px,#2eff00 244.5px,#4eff00 246.5px,#a0ff00 250.5px,#bfff00 254.5px,#fff 255.5px,#fff 260.5px,#5aff00 261.5px,#fffd00 272.5px,#ffe100 283.5px,#ffd100 285.5px,#ffbd00 300.5px,#ff0 333.5px,#ffef00 354.5px)"></i><i style="background:linear-gradient(#00faff 0.5px,#00e6ff 11.5px,#009cff 38.5px,#0048ff 85.5px,#0047ff 86.5px,#0000f2 87.5px,#0000f6 113.5px,#0012ff 117.5px,#002aff 127.5px,#005eff 129.5px,#006aff 133.5px,#00e3ff 134.5px,#00e3ff 138.5px,#0043ff 139.5px,#0040ff 142.5px,#0057ff 146.5px,#005bff 165.5px,#006eff 166.5px,#0096ff 167.5px,#00adff 168.5px,#00d5ff 173.5px,#00fbff 175.5px,#00ffd8 178.5px,#00ff76 182.5px,#00ff37 187.5px,#00ff4e 193.5px,#00ff6c 197.5px,#00ff57 200.5px,#08ff00 204.5px,#dcff00 208.5px,#f8ff00 209.5px,#fffe00 216.5px,#ffed00 217.5px,#ffeb00 224.5px,#f8ff00 226.5px,#6f0 230.5px,#53ff00 231.5px,#4eff00 235.5px,#3eff00 236.5px,#34ff00 244.5px,#54ff00 246.5px,#a5ff00 250.5px,#c5ff00 254.5px,#fff 255.5px,#fff 260.5px,#6f0 261.5px,#ff0 271.5px,#ffe000 281.5px,#ffc200 299.5px,#ffea00 318.5px,#fffe00 330.5px,#ffe500 354.5px)"></i><i style="background:linear-gradient(#0ff 0.5px,#00ebff 11.5px,#0094ff 42.5px,#004dff 86.5px,#0000f3 87.5px,#0000f6 113.5px,#01f 117.5px,#0028ff 127.5px,#005dff 129.5px,#0069ff 133.5px,#00e3ff 134.5px,#00e3ff 138.5px,#0042ff 139.5px,#003eff 142.5px,#0056ff 146.5px,#0059ff 165.5px,#006dff 166.5px,#0094ff 167.5px,#00acff 168.5px,#00d3ff 173.5px,#00faff 175.5px,#00ffda 178.5px,#00ff7a 182.5px,#00ff3e 187.5px,#0f5 193.5px,#00ff6e 197.5px,#00ff70 199.5px,#00ff3c 202.5px,#00ff05 204.5px,#90ff00 207.5px,#c4ff00 208.5px,#deff00 209.5px,#e8ff00 216.5px,#fff600 217.5px,#fff400 224.5px,#fffd00 225.5px,#4eff00 230.5px,#3bff00 231.5px,#2dff00 244.5px,#4dff00 246.5px,#9eff00 250.5px,#beff00 254.5px,#fff 255.5px,#fff 260.5px,#80ff00 261.5px,#fbff00 269.5px,#ffde00 277.5px,#fb0 299.5px,#ffc900 306.5px,#ffda00 308.5px,#f9ff00 322.5px,#dfff00 329.5px,#e2ff00 330.5px,#fffe00 331.5px,#ffea00 354.5px)"></i><i style="background:linear-gradient(#00fffd 0.5px,#00f2ff 10.5px,#009fff 37.5px,#0049ff 85.5px,#0048ff 86.5px,#0000f4 87.5px,#0000f8 113.5px,#0026ff 127.5px,#005bff 129.5px,#0067ff 133.5px,#00e3ff 134.5px,#00e3ff 138.5px,#0040ff 139.5px,#003eff 142.5px,#0056ff 146.5px,#0059ff 165.5px,#006dff 166.5px,#0094ff 167.5px,#00acff 168.5px,#00d3ff 173.5px,#00faff 175.5px,#00ffda 178.5px,#00ff7d 182.5px,#00ff43 187.5px,#00ff59 193.5px,#00ff6f 197.5px,#00ff6b 198.5px,#00ff76 199.5px,#00ff40 202.5px,#00ff07 204.5px,#57ff00 206.5px,#b7ff00 208.5px,#d0ff00 209.5px,#daff00 216.5px,#ffef00 217.5px,#fe0 224.5px,#fff700 225.5px,#ef0 226.5px,#5cff00 230.5px,#49ff00 231.5px,#4f0 235.5px,#31ff00 236.5px,#26ff00 244.5px,#46ff00 246.5px,#97ff00 250.5px,#b7ff00 254.5px,#fff 255.5px,#fff 260.5px,#6dff00 261.5px,#fffc00 271.5px,#fd0 281.5px,#ffc900 300.5px,#fffe00 318.5px,#d8ff00 325.5px,#d0ff00 330.5px,#fff800 331.5px,#ffe400 354.5px)"></i><i style="background:linear-gradient(#00fffd 0.5px,#00f2ff 10.5px,#00a3ff 35.5px,#004aff 85.5px,#0049ff 86.5px,#0000f7 87.5px,#0000fb 113.5px,#0026ff 127.5px,#005bff 129.5px,#0067ff 133.5px,#00e3ff 134.5px,#00e3ff 138.5px,#0040ff 139.5px,#0040ff 142.5px,#0058ff 146.5px,#005bff 165.5px,#006fff 166.5px,#0096ff 167.5px,#00aeff 168.5px,#00d5ff 173.5px,#00fcff 175.5px,#00ffd8 178.5px,#00ff90 181.5px,#00ff48 186.5px,#00ff48 190.5px,#00ff6b 197.5px,#00ff47 200.5px,#02ff00 203.5px,#f2ff00 208.5px,#fffb00 210.5px,#fff400 224.5px,#fffe00 225.5px,#4bff00 230.5px,#38ff00 231.5px,#3f0 235.5px,#4eff00 236.5px,#43ff00 244.5px,#63ff00 246.5px,#b5ff00 250.5px,#d4ff00 254.5px,#fff 255.5px,#fff 260.5px,#70ff00 261.5px,#faff00 270.5px,#ffe000 279.5px,#ffc500 299.5px,#ffd300 306.5px,#ffe400 307.5px,#f8ff00 317.5px,#d2ff00 322.5px,#bcff00 329.5px,#c0ff00 330.5px,#e4ff00 331.5px,#fffd00 340.5px,#fff400 354.5px)"></i><i style="background:linear-gradient(#00fffe 0.5px,#00f1ff 10.5px,#00a1ff 35.5px,#004eff 82.5px,#0049ff 86.5px,#0000f7 87.5px,#0000fa 113.5px,#0027ff 127.5px,#005bff 129.5px,#0067ff 133.5px,#00e3ff 134.5px,#00e3ff 138.5px,#0040ff 139.5px,#004fff 143.5px,#005dff 147.5px,#0060ff 165.5px,#0074ff 166.5px,#009bff 167.5px,#00b3ff 168.5px,#00dbff 173.5px,#00fffe 175.5px,#00ffd2 178.5px,#00ff95 180.5px,#00ff48 185.5px,#0f3 188.5px,#00ff5b 196.5px,#00ff56 198.5px,#00ff02 202.5px,#c9ff00 206.5px,#f2ff00 207.5px,#ffec00 209.5px,#ffe800 216.5px,#fff300 218.5px,#fff200 224.5px,#fffd00 225.5px,#4fff00 230.5px,#3cff00 231.5px,#37ff00 235.5px,#10ff00 236.5px,#05ff00 244.5px,#25ff00 246.5px,#76ff00 250.5px,#96ff00 254.5px,#fff 255.5px,#fff 260.5px,#6aff00 261.5px,#fffd00 271.5px,#ffde00 281.5px,#ffc200 298.5px,#ffd100 306.5px,#ffe800 307.5px,#feff00 315.5px,#c4ff00 322.5px,#b0ff00 329.5px,#b5ff00 330.5px,#ecff00 331.5px,#fffb00 338.5px,#ffef00 354.5px)"></i><i style="background:linear-gradient(#00fbff 0.5px,#00e7ff 11.5px,#008eff 43.5px,#0048ff 86.5px,#0000f7 87.5px,#0000fa 113.5px,#0024ff 127.5px,#0059ff 129.5px,#0065ff 133.5px,#00e3ff 134.5px,#00e3ff 138.5px,#003dff 139.5px,#003fff 142.5px,#0056ff 146.5px,#0059ff 165.5px,#006dff 166.5px,#0095ff 167.5px,#00acff 168.5px,#00d4ff 173.5px,#00faff 175.5px,#00ffda 178.5px,#00ff7c 182.5px,#00ff45 187.5px,#00ff54 192.5px,#00ff67 196.5px,#00ff56 199.5px,#00ff16 202.5px,#0eff00 203.5px,#a6ff00 206.5px,#f0ff00 208.5px,#fffd00 209.5px,#fff200 224.5px,#fffd00 225.5px,#4fff00 230.5px,#3cff00 231.5px,#37ff00 235.5px,#26ff00 236.5px,#1cff00 244.5px,#3cff00 246.5px,#8dff00 250.5px,#adff00 254.5px,#fff 255.5px,#fff 260.5px,#50ff00 261.5px,#f9ff00 272.5px,#fc0 296.5px,#fff000 313.5px,#feff00 317.5px,#d5ff00 322.5px,#c4ff00 329.5px,#c8ff00 330.5px,#e0ff00 331.5px,#fffd00 340.5px,#fff300 354.5px)"></i><i style="background:linear-gradient(#00fffd 0.5px,#00f1ff 10.5px,#009cff 39.5px,#004bff 86.5px,#0000f6 87.5px,#0000fa 113.5px,#0024ff 127.5px,#0059ff 129.5px,#0065ff 133.5px,#00e3ff 134.5px,#00e3ff 138.5px,#003eff 139.5px,#003dff 142.5px,#05f 146.5px,#0058ff 165.5px,#006cff 166.5px,#0093ff 167.5px,#00abff 168.5px,#00d2ff 173.5px,#00f8ff 175.5px,#00ffdc 178.5px,#00ff7c 182.5px,#00ff47 187.5px,#0f5 192.5px,#00ff69 195.5px,#00ff5b 199.5px,#00ff19 202.5px,#0aff00 203.5px,#a1ff00 206.5px,#e5ff00 208.5px,#f7ff00 209.5px,#fffb00 224.5px,#ef0 225.5px,#38ff00 230.5px,#25ff00 231.5px,#1fff00 235.5px,#42ff00 236.5px,#38ff00 244.5px,#58ff00 246.5px,#a9ff00 250.5px,#c9ff00 254.5px,#fff 255.5px,#fff 260.5px,#56ff00 261.5px,#ff0 272.5px,#ffce00 294.5px,#ffe800 312.5px,#fcff00 318.5px,#df0 322.5px,#ceff00 329.5px,#d3ff00 330.5px,#ff0 331.5px,#ffe600 354.5px)"></i><i style="background:linear-gradient(#00fffc 0.5px,#00f3ff 10.5px,#00a2ff 36.5px,#004aff 84.5px,#0048ff 86.5px,#0000f5 87.5px,#0000f8 113.5px,#001fff 127.5px,#0054ff 129.5px,#0060ff 133.5px,#00e3ff 134.5px,#00e3ff 138.5px,#0038ff 139.5px,#0049ff 143.5px,#0057ff 147.5px,#005aff 165.5px,#006eff 166.5px,#0096ff 167.5px,#00adff 168.5px,#00d5ff 173.5px,#00fbff 175.5px,#00ffd9 178.5px,#00ff70 182.5px,#00ff39 187.5px,#00ff43 191.5px,#00ff5c 195.5px,#00ff4c 198.5px,#00ff53 199.5px,#00ff0d 202.5px,#1fff00 203.5px,#8cff00 205.5px,#d5ff00 207.5px,#f3ff00 208.5px,#fffd00 210.5px,#fff800 224.5px,#f3ff00 225.5px,#3dff00 230.5px,#2aff00 231.5px,#25ff00 235.5px,#16ff00 237.5px,#0dff00 244.5px,#2dff00 246.5px,#7eff00 250.5px,#9eff00 254.5px,#fff 255.5px,#fff 260.5px,#35ff00 261.5px,#f9ff00 274.5px,#ffd300 296.5px,#ffe300 306.5px,#fff500 307.5px,#f8ff00 312.5px,#9f0 321.5px,#89ff00 329.5px,#8eff00 330.5px,#e1ff00 331.5px,#fffd00 338.5px,#fff000 354.5px)"></i><i style="background:linear-gradient(#00feff 0.5px,#00e9ff 11.5px,#009dff 39.5px,#004cff 83.5px,#0048ff 86.5px,#0000f8 87.5px,#0007ff 117.5px,#001eff 127.5px,#0052ff 129.5px,#005fff 133.5px,#00e3ff 134.5px,#00e3ff 138.5px,#0037ff 139.5px,#003bff 142.5px,#0052ff 146.5px,#0056ff 165.5px,#0069ff 166.5px,#0091ff 167.5px,#00a8ff 168.5px,#00d0ff 173.5px,#00fffa 176.5px,#00ffdf 178.5px,#00ffb1 180.5px,#00ff7a 182.5px,#00ff47 187.5px,#00ff50 191.5px,#00ff67 195.5px,#00ff51 199.5px,#00ff09 202.5px,#27ff00 203.5px,#96ff00 205.5px,#bfff00 206.5px,#f5ff00 208.5px,#fffc00 211.5px,#fff300 224.5px,#ff0 225.5px,#49ff00 230.5px,#36ff00 231.5px,#31ff00 235.5px,#1fff00 236.5px,#15ff00 244.5px,#35ff00 246.5px,#86ff00 250.5px,#a6ff00 254.5px,#fff 255.5px,#fff 260.5px,#4dff00 261.5px,#fffc00 273.5px,#ffcd00 296.5px,#fff800 314.5px,#efff00 317.5px,#c5ff00 321.5px,#b8ff00 329.5px,#bdff00 330.5px,#f5ff00 331.5px,#fff700 337.5px,#ffe800 354.5px)"></i><i style="background:linear-gradient(#00fbff 0.5px,#00e7ff 11.5px,#00a2ff 36.5px,#004eff 81.5px,#0047ff 86.5px,#0000fa 87.5px,#0005ff 114.5px,#0027ff 127.5px,#005bff 129.5px,#0067ff 133.5px,#00e3ff 134.5px,#00e3ff 138.5px,#0040ff 139.5px,#0038ff 141.5px,#0054ff 146.5px,#0057ff 165.5px,#006bff 166.5px,#0092ff 167.5px,#0af 168.5px,#00d1ff 173.5px,#00f7ff 175.5px,#0fd 178.5px,#00ffaf 180.5px,#0f8 181.5px,#00ff58 184.5px,#00ff39 188.5px,#00ff5e 195.5px,#00ff46 199.5px,#0aff00 202.5px,#b3ff00 205.5px,#daff00 206.5px,#fffb00 208.5px,#fff300 224.5px,#ff0 225.5px,#49ff00 230.5px,#36ff00 231.5px,#1dff00 244.5px,#3dff00 246.5px,#8eff00 250.5px,#aeff00 254.5px,#fff 255.5px,#fff 260.5px,#70ff00 261.5px,#faff00 270.5px,#fd0 280.5px,#ffbe00 296.5px,#ffcf00 306.5px,#ff0 317.5px,#d5ff00 321.5px,#caff00 329.5px,#cfff00 330.5px,#fcff00 331.5px,#ffe400 354.5px)"></i><i style="background:linear-gradient(#00fcff 0.5px,#00e8ff 11.5px,#0095ff 39.5px,#04f 86.5px,#0000f4 87.5px,#0000f8 113.5px,#0025ff 127.5px,#0059ff 129.5px,#0065ff 133.5px,#00e3ff 134.5px,#00e3ff 138.5px,#003eff 139.5px,#0041ff 142.5px,#0058ff 146.5px,#005cff 165.5px,#006fff 166.5px,#0097ff 167.5px,#00aeff 168.5px,#00d6ff 173.5px,#00fcff 175.5px,#00ffd8 178.5px,#00ff75 182.5px,#00ff42 187.5px,#00ff45 190.5px,#00ff61 195.5px,#00ff41 199.5px,#0f1 201.5px,#18ff00 202.5px,#c2ff00 205.5px,#e9ff00 206.5px,#fcff00 207.5px,#fff100 214.5px,#fff500 224.5px,#faff00 225.5px,#43ff00 230.5px,#31ff00 231.5px,#2bff00 235.5px,#47ff00 236.5px,#3cff00 244.5px,#5dff00 246.5px,#aeff00 250.5px,#cdff00 254.5px,#fff 255.5px,#fff 260.5px,#6eff00 261.5px,#f8ff00 270.5px,#ffd900 282.5px,#ffc200 286.5px,#ffb300 296.5px,#ffc500 306.5px,#ffd900 307.5px,#ff0 317.5px,#d3ff00 321.5px,#caff00 329.5px,#d0ff00 330.5px,#c7ff00 331.5px,#f8ff00 341.5px,#fff700 354.5px)"></i><i style="background:linear-gradient(#0ff 0.5px,#00ebff 11.5px,#0096ff 41.5px,#0049ff 86.5px,#0000f4 87.5px,#0000f8 113.5px,#0021ff 127.5px,#05f 129.5px,#0062ff 133.5px,#00e3ff 134.5px,#00e3ff 138.5px,#003aff 139.5px,#003bff 142.5px,#0052ff 146.5px,#0056ff 165.5px,#0069ff 166.5px,#0091ff 167.5px,#00a8ff 168.5px,#00d0ff 173.5px,#00fffa 176.5px,#00ffdf 178.5px,#00ff80 182.5px,#00ff4d 188.5px,#00ff6e 195.5px,#00ff45 199.5px,#00ff13 201.5px,#15ff00 202.5px,#c2ff00 205.5px,#e7ff00 206.5px,#fffc00 208.5px,#fff300 216.5px,#f6ff00 218.5px,#ff0 223.5px,#f2ff00 224.5px,#1bff00 230.5px,#08ff00 231.5px,#03ff00 235.5px,#21ff00 236.5px,#16ff00 244.5px,#36ff00 246.5px,#87ff00 250.5px,#a7ff00 254.5px,#fff 255.5px,#fff 260.5px,#92ff00 261.5px,#fdff00 268.5px,#ffd600 277.5px,#ffc800 283.5px,#ffce00 285.5px,#ffbd00 296.5px,#ffe500 313.5px,#fffd00 318.5px,#e1ff00 322.5px,#dcff00 329.5px,#e3ff00 330.5px,#afff00 331.5px,#e2ff00 341.5px,#feff00 354.5px)"></i><i style="background:linear-gradient(#00fdff 0.5px,#00e9ff 11.5px,#0096ff 41.5px,#005eff 66.5px,#0042ff 86.5px,#0000f7 87.5px,#0000fa 113.5px,#0023ff 127.5px,#0058ff 129.5px,#0064ff 133.5px,#00e3ff 134.5px,#00e3ff 138.5px,#003dff 139.5px,#003dff 142.5px,#05f 146.5px,#0058ff 165.5px,#006cff 166.5px,#0093ff 167.5px,#00abff 168.5px,#00d2ff 173.5px,#00f8ff 175.5px,#0fd 178.5px,#00ff8b 182.5px,#00ff5c 188.5px,#00ff7b 195.5px,#00ff5c 198.5px,#00ff06 201.5px,#68ff00 203.5px,#dcff00 205.5px,#fefe00 206.5px,#fe0 215.5px,#fff600 224.5px,#f5ff00 225.5px,#3eff00 230.5px,#2cff00 231.5px,#1aff00 244.5px,#3aff00 246.5px,#8bff00 250.5px,#abff00 254.5px,#fff 255.5px,#fff 260.5px,#6eff00 261.5px,#f8ff00 270.5px,#ffd800 282.5px,#ffbf00 288.5px,#ffb600 296.5px,#ffc900 306.5px,#ffdb00 307.5px,#ff0 316.5px,#c3ff00 321.5px,#c0ff00 329.5px,#fffe00 339.5px,#fff100 354.5px)"></i><i style="background:linear-gradient(#0ff 0.5px,#00ebff 11.5px,#0094ff 42.5px,#0050ff 77.5px,#04f 86.5px,#0000f7 87.5px,#0000fa 113.5px,#0024ff 127.5px,#0059ff 129.5px,#0065ff 133.5px,#00e3ff 134.5px,#00e3ff 138.5px,#003eff 139.5px,#003cff 142.5px,#0053ff 146.5px,#0056ff 165.5px,#006aff 166.5px,#0092ff 167.5px,#00a9ff 168.5px,#00d1ff 173.5px,#00f7ff 175.5px,#00ffde 178.5px,#00ff81 182.5px,#00ff50 188.5px,#00ff6f 195.5px,#00ff3d 199.5px,#00ff07 201.5px,#2cff00 202.5px,#deff00 205.5px,#fefe00 206.5px,#ffe700 223.5px,#fffa00 225.5px,#c3ff00 227.5px,#56ff00 230.5px,#43ff00 231.5px,#32ff00 244.5px,#52ff00 246.5px,#a3ff00 250.5px,#c3ff00 254.5px,#fff 255.5px,#fff 260.5px,#32ff00 261.5px,#f6ff00 274.5px,#ffec00 283.5px,#ffcd00 284.5px,#ffb900 295.5px,#ffe600 313.5px,#fbff00 318.5px,#d8ff00 321.5px,#d7ff00 329.5px,#deff00 330.5px,#cdff00 331.5px,#ff0 339.5px,#fff100 354.5px)"></i><i style="background:linear-gradient(#00fdff 0.5px,#00e9ff 11.5px,#0094ff 41.5px,#0046ff 86.5px,#0000f5 87.5px,#0000f8 113.5px,#0024ff 127.5px,#0058ff 129.5px,#0065ff 133.5px,#00e3ff 134.5px,#00e3ff 138.5px,#003dff 139.5px,#003aff 142.5px,#0051ff 146.5px,#05f 165.5px,#0069ff 166.5px,#0090ff 167.5px,#00a8ff 168.5px,#00cfff 173.5px,#00fffa 176.5px,#00ffc9 179.5px,#00ff85 182.5px,#00ff56 188.5px,#0f7 194.5px,#00ff5b 197.5px,#00ff23 200.5px,#00ff03 201.5px,#eaff00 205.5px,#fffa00 206.5px,#ffef00 216.5px,#ffe300 218.5px,#ffe500 224.5px,#f9ff00 226.5px,#67ff00 230.5px,#5f0 231.5px,#4fff00 235.5px,#3f0 236.5px,#29ff00 244.5px,#49ff00 246.5px,#9aff00 250.5px,#baff00 254.5px,#fff 255.5px,#fff 260.5px,#4cff00 261.5px,#fffd00 273.5px,#ffe300 283.5px,#ffca00 284.5px,#ffb600 295.5px,#fc0 306.5px,#ffdb00 308.5px,#fffe00 316.5px,#c2ff00 321.5px,#c3ff00 329.5px,#caff00 330.5px,#f6ff00 331.5px,#ffec00 341.5px,#ffe000 354.5px)"></i><i style="background:linear-gradient(#00faff 0.5px,#00e5ff 11.5px,#0093ff 41.5px,#0046ff 83.5px,#0042ff 86.5px,#0000f7 87.5px,#0000fa 113.5px,#0021ff 127.5px,#05f 129.5px,#0062ff 133.5px,#00e3ff 134.5px,#00e3ff 138.5px,#003aff 139.5px,#003eff 142.5px,#05f 146.5px,#0058ff 165.5px,#006cff 166.5px,#0094ff 167.5px,#00abff 168.5px,#00d3ff 173.5px,#00f9ff 175.5px,#0fd 178.5px,#00ff85 182.5px,#00ff57 189.5px,#00ff78 194.5px,#00ff58 197.5px,#00ff4a 198.5px,#00ff14 200.5px,#19ff00 201.5px,#cfff00 204.5px,#fffa00 205.5px,#ffed00 207.5px,#ffe500 216.5px,#fe0 224.5px,#fffc00 225.5px,#50ff00 230.5px,#3dff00 231.5px,#37ff00 235.5px,#4dff00 236.5px,#43ff00 244.5px,#63ff00 246.5px,#b4ff00 250.5px,#d4ff00 254.5px,#fff 255.5px,#fff 260.5px,#50ff00 261.5px,#faff00 272.5px,#ffe000 283.5px,#fc0 284.5px,#ffb800 295.5px,#ffcf00 306.5px,#ffdf00 307.5px,#feff00 315.5px,#aeff00 321.5px,#b1ff00 329.5px,#b8ff00 330.5px,#ebff00 331.5px,#fffc00 335.5px,#ffe400 354.5px)"></i><i style="background:linear-gradient(#00f9ff 0.5px,#00e5ff 11.5px,#009bff 38.5px,#0046ff 86.5px,#0000f6 87.5px,#0000f9 113.5px,#0026ff 127.5px,#005bff 129.5px,#0067ff 133.5px,#00e3ff 134.5px,#00e3ff 138.5px,#0040ff 139.5px,#003fff 142.5px,#0056ff 146.5px,#0059ff 165.5px,#006dff 166.5px,#0094ff 167.5px,#00acff 168.5px,#00d4ff 173.5px,#00f9ff 175.5px,#0fd 178.5px,#00ff80 182.5px,#00ff50 188.5px,#00ff6f 194.5px,#00ff5d 196.5px,#0f3 199.5px,#0eff00 201.5px,#ff0 205.5px,#fff200 207.5px,#fd0 223.5px,#fffe00 226.5px,#73ff00 230.5px,#5fff00 231.5px,#4fff00 244.5px,#6eff00 246.5px,#beff00 250.5px,#dfff00 254.5px,#fff 255.5px,#fff 260.5px,#54ff00 261.5px,#ff0 272.5px,#ffbf00 293.5px,#ffe800 312.5px,#fffd00 316.5px,#c4ff00 321.5px,#c4ff00 329.5px,#f1ff00 334.5px,#fffa00 338.5px,#ffeb00 354.5px)"></i><i style="background:linear-gradient(#00feff 0.5px,#00eaff 11.5px,#009cff 36.5px,#0052ff 79.5px,#0049ff 86.5px,#0000f6 87.5px,#0000f9 113.5px,#0019ff 122.5px,#0028ff 127.5px,#005cff 129.5px,#0068ff 133.5px,#00e3ff 134.5px,#00e3ff 138.5px,#0041ff 139.5px,#0036ff 141.5px,#0051ff 146.5px,#05f 165.5px,#0069ff 166.5px,#0090ff 167.5px,#00a8ff 168.5px,#00cfff 173.5px,#00fffb 176.5px,#00ffce 179.5px,#00ff81 183.5px,#00ff61 189.5px,#00ff7b 194.5px,#00ff5d 197.5px,#00ff40 199.5px,#00ff04 201.5px,#e9ff00 205.5px,#fffc00 206.5px,#fff200 224.5px,#fffe00 225.5px,#54ff00 230.5px,#40ff00 231.5px,#32ff00 235.5px,#39ff00 237.5px,#2dff00 244.5px,#4bff00 246.5px,#9aff00 250.5px,#bf0 254.5px,#fff 255.5px,#fff 260.5px,#69ff00 261.5px,#f7ff00 270.5px,#ffdb00 281.5px,#ffd600 283.5px,#ffe300 284.5px,#ffcf00 295.5px,#fffa00 312.5px,#f0ff00 314.5px,#9f0 321.5px,#96ff00 329.5px,#9cff00 330.5px,#e4ff00 331.5px,#fffd00 336.5px,#ffe900 354.5px)"></i><i style="background:linear-gradient(#00fffc 0.5px,#00f8ff 9.5px,#00a8ff 32.5px,#0051ff 77.5px,#04f 86.5px,#0000f5 87.5px,#0000f9 113.5px,#0026ff 127.5px,#005bff 129.5px,#0067ff 133.5px,#00e3ff 134.5px,#00e3ff 138.5px,#0040ff 139.5px,#0034ff 141.5px,#0050ff 146.5px,#0053ff 165.5px,#0067ff 166.5px,#008eff 167.5px,#00a6ff 168.5px,#00cdff 173.5px,#00fffd 176.5px,#0f9 183.5px,#00ff7d 189.5px,#00ff8e 195.5px,#00ff67 198.5px,#00ff3b 199.5px,#02ff00 201.5px,#bdff00 204.5px,#f2ff00 205.5px,#fff700 207.5px,#ffec00 216.5px,#ffdc00 217.5px,#ffde00 224.5px,#f5ff00 227.5px,#8eff00 230.5px,#7aff00 231.5px,#68ff00 235.5px,#1cff00 236.5px,#0cff00 244.5px,#2aff00 246.5px,#7f0 250.5px,#9f0 254.5px,#fff 255.5px,#fff 260.5px,#63ff00 261.5px,#fffd00 271.5px,#ffda00 282.5px,#ffcb00 296.5px,#fff100 313.5px,#feff00 316.5px,#c3ff00 321.5px,#bdff00 329.5px,#ff0 340.5px,#fff300 354.5px)"></i><i style="background:linear-gradient(#00fffd 0.5px,#00f1ff 10.5px,#009cff 39.5px,#004aff 84.5px,#0048ff 86.5px,#0000f5 87.5px,#0000f8 113.5px,#0023ff 127.5px,#0058ff 129.5px,#0064ff 133.5px,#00e3ff 134.5px,#00e3ff 138.5px,#003dff 139.5px,#0040ff 142.5px,#0058ff 146.5px,#005bff 165.5px,#006fff 166.5px,#0096ff 167.5px,#00aeff 168.5px,#00d5ff 173.5px,#00faff 175.5px,#00ffde 178.5px,#00ff81 183.5px,#00ff5f 189.5px,#00ff70 195.5px,#00ff41 198.5px,#00ff09 200.5px,#2fff00 201.5px,#ecff00 204.5px,#fff300 205.5px,#fd0 210.5px,#ffde00 224.5px,#faff00 227.5px,#96ff00 230.5px,#7aff00 232.5px,#6bff00 235.5px,#40ff00 236.5px,#2eff00 244.5px,#4bff00 246.5px,#96ff00 250.5px,#baff00 254.5px,#fff 255.5px,#fff 260.5px,#56ff00 261.5px,#f8ff00 271.5px,#ffbf00 293.5px,#ffd500 306.5px,#ff0 316.5px,#c8ff00 321.5px,#beff00 329.5px,#c4ff00 330.5px,#fffd00 331.5px,#ffdf00 354.5px)"></i><i style="background:linear-gradient(#0ff 0.5px,#00ebff 11.5px,#009cff 37.5px,#0048ff 86.5px,#0000f6 87.5px,#0000f9 113.5px,#0027ff 127.5px,#005bff 129.5px,#0068ff 133.5px,#00e3ff 134.5px,#00e3ff 138.5px,#0040ff 139.5px,#0041ff 142.5px,#0058ff 146.5px,#005cff 165.5px,#006fff 166.5px,#0097ff 167.5px,#00aeff 168.5px,#00d6ff 173.5px,#00fbff 175.5px,#00ffdf 178.5px,#0f8 183.5px,#00ff67 189.5px,#00ff74 195.5px,#00ff3d 199.5px,#01ff00 201.5px,#c0ff00 204.5px,#efff00 205.5px,#fffa00 206.5px,#ffea00 216.5px,#ffdb00 218.5px,#ffde00 224.5px,#fdff00 227.5px,#9cff00 230.5px,#7eff00 232.5px,#6cff00 235.5px,#54ff00 236.5px,#40ff00 244.5px,#5cff00 246.5px,#a7ff00 250.5px,#caff00 254.5px,#fff 255.5px,#fff 260.5px,#6aff00 261.5px,#ff0 270.5px,#ffdf00 278.5px,#ffc200 295.5px,#ffd500 306.5px,#ffe400 308.5px,#fcff00 316.5px,#c6ff00 321.5px,#b9ff00 329.5px,#e3ff00 335.5px,#ff0 343.5px,#fff600 354.5px)"></i><i style="background:linear-gradient(#00feff 0.5px,#00e9ff 11.5px,#0093ff 41.5px,#0058ff 68.5px,#003fff 86.5px,#0000f7 87.5px,#0000fa 113.5px,#0025ff 127.5px,#0059ff 129.5px,#06f 133.5px,#00e3ff 134.5px,#00e3ff 138.5px,#003eff 139.5px,#003eff 142.5px,#05f 146.5px,#0058ff 165.5px,#006cff 166.5px,#0093ff 167.5px,#00abff 168.5px,#00d2ff 173.5px,#00fffa 176.5px,#00ffc1 180.5px,#00ff8c 184.5px,#00ff74 189.5px,#00ff7e 195.5px,#00ff50 198.5px,#00ff19 200.5px,#14ff00 201.5px,#9cff00 203.5px,#fffe00 205.5px,#ffe300 212.5px,#ffe200 216.5px,#ffea00 220.5px,#ffed00 224.5px,#fcff00 226.5px,#7cff00 230.5px,#5cff00 232.5px,#48ff00 235.5px,#5aff00 236.5px,#4f0 244.5px,#5fff00 246.5px,#a8ff00 250.5px,#cdff00 254.5px,#fff 255.5px,#fff 260.5px,#7aff00 261.5px,#fffe00 269.5px,#ffdb00 277.5px,#ffce00 283.5px,#ffde00 284.5px,#fc0 295.5px,#ffdf00 306.5px,#ffd600 308.5px,#f8ff00 320.5px,#e1ff00 329.5px,#fffd00 335.5px,#ffeb00 354.5px)"></i><i style="background:linear-gradient(#00feff 0.5px,#00e9ff 11.5px,#008fff 44.5px,#0048ff 83.5px,#04f 86.5px,#0000f6 87.5px,#0000f9 113.5px,#0025ff 127.5px,#0059ff 129.5px,#06f 133.5px,#00e3ff 134.5px,#00e3ff 138.5px,#003eff 139.5px,#003fff 142.5px,#0056ff 146.5px,#0059ff 165.5px,#006dff 166.5px,#0094ff 167.5px,#00acff 168.5px,#00d4ff 173.5px,#00fffa 176.5px,#00ff90 184.5px,#00ff79 189.5px,#00ff80 195.5px,#00ff51 198.5px,#00ff0d 200.5px,#29ff00 201.5px,#b3ff00 203.5px,#ebff00 204.5px,#fff700 205.5px,#ffd900 212.5px,#ffd800 216.5px,#ffe800 217.5px,#ffeb00 224.5px,#fffd00 226.5px,#73ff00 231.5px,#52ff00 234.5px,#4fff00 235.5px,#7f0 236.5px,#5fff00 244.5px,#7aff00 246.5px,#cdff00 251.5px,#e7ff00 254.5px,#fff 255.5px,#fff 260.5px,#60ff00 261.5px,#faff00 270.5px,#ffe000 279.5px,#ffc600 295.5px,#ffd800 306.5px,#ffce00 308.5px,#fffd00 324.5px,#feff00 330.5px,#ecff00 331.5px,#fffc00 337.5px,#fe0 354.5px)"></i><i style="background:linear-gradient(#0ff 0.5px,#00ebff 11.5px,#008fff 45.5px,#0059ff 70.5px,#0043ff 86.5px,#0000f5 87.5px,#0000f9 113.5px,#0023ff 127.5px,#0057ff 129.5px,#0064ff 133.5px,#00e3ff 134.5px,#00e3ff 138.5px,#003cff 139.5px,#003fff 142.5px,#0056ff 146.5px,#0059ff 165.5px,#006dff 166.5px,#0094ff 167.5px,#00acff 168.5px,#00d3ff 173.5px,#00fffa 176.5px,#00ff92 184.5px,#00ff7d 190.5px,#00ff7e 195.5px,#0f6 197.5px,#00ff0e 200.5px,#27ff00 201.5px,#b4ff00 203.5px,#ebff00 204.5px,#fff700 205.5px,#ffd800 212.5px,#ffe100 224.5px,#fffd00 227.5px,#92ff00 231.5px,#6dff00 234.5px,#6eff00 238.5px,#5aff00 244.5px,#74ff00 246.5px,#c6ff00 251.5px,#e1ff00 254.5px,#fff 255.5px,#fff 260.5px,#6f0 261.5px,#f3ff00 269.5px,#fff800 271.5px,#ffd900 281.5px,#ffd400 283.5px,#ffe800 284.5px,#ffd800 296.5px,#ffe800 306.5px,#ffcf00 307.5px,#feff00 325.5px,#f9ff00 330.5px,#d5ff00 331.5px,#ff0 344.5px,#fff800 354.5px)"></i><i style="background:linear-gradient(#00feff 0.5px,#00e9ff 11.5px,#0092ff 43.5px,#0049ff 86.5px,#0000f6 87.5px,#0000fa 113.5px,#0027ff 127.5px,#005bff 129.5px,#0068ff 133.5px,#00e3ff 134.5px,#00e3ff 138.5px,#0040ff 139.5px,#0037ff 141.5px,#0053ff 146.5px,#0056ff 165.5px,#006aff 166.5px,#0092ff 167.5px,#00a9ff 168.5px,#00d1ff 173.5px,#00fffc 176.5px,#0fc 180.5px,#00ff9e 183.5px,#00ff7e 189.5px,#00ff7e 195.5px,#00ff65 197.5px,#00ff18 200.5px,#17ff00 201.5px,#a6ff00 203.5px,#dcff00 204.5px,#fffe00 205.5px,#fd0 212.5px,#ffde00 224.5px,#fff800 227.5px,#f4ff00 228.5px,#a2ff00 231.5px,#79ff00 234.5px,#53ff00 244.5px,#6cff00 246.5px,#bdff00 251.5px,#d8ff00 254.5px,#fff 255.5px,#fff 260.5px,#59ff00 261.5px,#f8ff00 270.5px,#ffdf00 280.5px,#ffc100 295.5px,#ffd100 306.5px,#ffc900 308.5px,#fff900 327.5px,#fff700 336.5px,#ffe900 354.5px)"></i><i style="background:linear-gradient(#00fffd 0.5px,#00f2ff 10.5px,#00a2ff 35.5px,#004fff 82.5px,#0049ff 86.5px,#0000f6 87.5px,#0000fa 113.5px,#0021ff 127.5px,#05f 129.5px,#0061ff 133.5px,#00e3ff 134.5px,#00e3ff 138.5px,#003aff 139.5px,#004aff 143.5px,#0059ff 147.5px,#005cff 165.5px,#0070ff 166.5px,#0097ff 167.5px,#00afff 168.5px,#00d6ff 173.5px,#00f9ff 175.5px,#00ffd5 179.5px,#00ff93 185.5px,#00ff84 192.5px,#00ff79 196.5px,#00ff4e 198.5px,#00ff15 199.5px,#10ff00 200.5px,#e4ff00 203.5px,#fff500 204.5px,#ffcd00 209.5px,#ffc500 216.5px,#ffe800 217.5px,#fff000 225.5px,#f4ff00 227.5px,#87ff00 231.5px,#5aff00 234.5px,#56ff00 235.5px,#69ff00 236.5px,#4bff00 244.5px,#63ff00 246.5px,#beff00 252.5px,#cfff00 254.5px,#fff 255.5px,#fff 260.5px,#53ff00 261.5px,#e4ff00 269.5px,#fffd00 271.5px,#ffe100 280.5px,#ffc500 295.5px,#fff100 317.5px,#f2ff00 325.5px,#e9ff00 330.5px,#fff800 331.5px,#ffe400 354.5px)"></i><i style="background:linear-gradient(#0ff 0.5px,#00ebff 11.5px,#0096ff 40.5px,#004aff 86.5px,#0000f8 87.5px,#0008ff 117.5px,#001fff 127.5px,#0054ff 129.5px,#0060ff 133.5px,#00e3ff 134.5px,#00e3ff 138.5px,#0038ff 139.5px,#003bff 142.5px,#0052ff 146.5px,#0056ff 165.5px,#0069ff 166.5px,#0091ff 167.5px,#00a8ff 168.5px,#00d0ff 173.5px,#00fffd 176.5px,#00ff9f 185.5px,#00ff85 196.5px,#00ff5a 198.5px,#00ff10 200.5px,#26ff00 201.5px,#baff00 203.5px,#efff00 204.5px,#fff900 205.5px,#ffd400 211.5px,#ffe000 225.5px,#fffd00 228.5px,#a2ff00 232.5px,#84ff00 234.5px,#80ff00 235.5px,#6dff00 236.5px,#4eff00 244.5px,#76ff00 247.5px,#bfff00 252.5px,#d0ff00 254.5px,#fff 255.5px,#fff 260.5px,#58ff00 261.5px,#ebff00 269.5px,#fffb00 271.5px,#ffdf00 280.5px,#ffca00 296.5px,#ffd800 306.5px,#ffd700 311.5px,#fbff00 329.5px,#ffef00 354.5px)"></i><i style="background:linear-gradient(#00fdff 0.5px,#00e8ff 11.5px,#008dff 44.5px,#004aff 86.5px,#0000f6 87.5px,#0000fa 113.5px,#0015ff 119.5px,#0029ff 127.5px,#005dff 129.5px,#006aff 133.5px,#00e3ff 134.5px,#00e3ff 138.5px,#0042ff 139.5px,#003fff 142.5px,#0056ff 146.5px,#0059ff 165.5px,#006dff 166.5px,#0095ff 167.5px,#00acff 168.5px,#00d4ff 173.5px,#00fffb 176.5px,#00ff9f 185.5px,#00ff81 196.5px,#00ff54 198.5px,#00ff15 200.5px,#1dff00 201.5px,#b4ff00 203.5px,#e8ff00 204.5px,#fffd00 205.5px,#ffd600 211.5px,#ffd700 225.5px,#fffe00 229.5px,#a6ff00 233.5px,#96ff00 235.5px,#64ff00 236.5px,#42ff00 244.5px,#69ff00 247.5px,#bdff00 253.5px,#c3ff00 254.5px,#fff 255.5px,#fff 260.5px,#5dff00 261.5px,#f2ff00 269.5px,#fff800 271.5px,#ffdc00 280.5px,#ffba00 294.5px,#ffe200 318.5px,#fffe00 334.5px,#ffef00 354.5px)"></i><i style="background:linear-gradient(#00fffd 0.5px,#00f2ff 10.5px,#00a5ff 33.5px,#004eff 80.5px,#0046ff 86.5px,#0000f5 87.5px,#0000f9 113.5px,#0024ff 127.5px,#0059ff 129.5px,#0065ff 133.5px,#00e3ff 134.5px,#00e3ff 138.5px,#003eff 139.5px,#003fff 142.5px,#0056ff 146.5px,#0059ff 165.5px,#006dff 166.5px,#0094ff 167.5px,#00acff 168.5px,#00d3ff 173.5px,#00fffc 176.5px,#00ffab 185.5px,#00ff8e 196.5px,#00ff62 198.5px,#00ff29 199.5px,#00ff09 200.5px,#3f0 201.5px,#cf0 203.5px,#ff0 204.5px,#fc0 211.5px,#ffe100 226.5px,#fcff00 229.5px,#9eff00 233.5px,#8dff00 235.5px,#89ff00 238.5px,#6eff00 244.5px,#94ff00 247.5px,#e8ff00 253.5px,#ef0 254.5px,#fff 255.5px,#fff 260.5px,#83ff00 261.5px,#fbff00 267.5px,#ffd400 276.5px,#ffbe00 296.5px,#ffda00 317.5px,#fff300 330.5px,#f3ff00 331.5px,#fff900 345.5px,#fff400 354.5px)"></i><i style="background:linear-gradient(#00fcff 0.5px,#00e8ff 11.5px,#0093ff 40.5px,#0047ff 86.5px,#0000f8 87.5px,#0006ff 116.5px,#0020ff 127.5px,#0054ff 129.5px,#0060ff 133.5px,#00e3ff 134.5px,#00e3ff 138.5px,#0039ff 139.5px,#003bff 142.5px,#0052ff 146.5px,#05f 165.5px,#0069ff 166.5px,#0091ff 167.5px,#00a8ff 168.5px,#00d0ff 173.5px,#00fffe 176.5px,#00ffdb 180.5px,#00ffa7 184.5px,#00ff7b 196.5px,#00ff68 197.5px,#00ff0a 200.5px,#3f0 201.5px,#ceff00 203.5px,#fffe00 204.5px,#ffcb00 211.5px,#ffcd00 216.5px,#ffdb00 218.5px,#ffe500 226.5px,#fff900 228.5px,#f3ff00 229.5px,#92ff00 233.5px,#7fff00 235.5px,#a6ff00 236.5px,#80ff00 244.5px,#a5ff00 247.5px,#f9ff00 253.5px,#feff00 254.5px,#fff 255.5px,#fff 260.5px,#65ff00 261.5px,#f0ff00 268.5px,#ff0 269.5px,#ffdf00 276.5px,#ffc700 296.5px,#fe0 318.5px,#faff00 326.5px,#ef0 330.5px,#fffa00 331.5px,#ffec00 354.5px)"></i><i style="background:linear-gradient(#00fbff 0.5px,#00e6ff 11.5px,#00a3ff 36.5px,#0087ff 48.5px,#0074ff 54.5px,#0041ff 86.5px,#0000f5 87.5px,#0000fc 114.5px,#001cff 127.5px,#0051ff 129.5px,#005dff 133.5px,#00e3ff 134.5px,#00e3ff 138.5px,#0035ff 139.5px,#0038ff 142.5px,#004fff 146.5px,#0052ff 165.5px,#06f 166.5px,#008dff 167.5px,#00a5ff 168.5px,#0cf 173.5px,#00fbff 176.5px,#00ffc0 183.5px,#00ff9e 191.5px,#00ff8e 196.5px,#00ff7d 197.5px,#00ff15 200.5px,#1fff00 201.5px,#bcff00 203.5px,#ef0 204.5px,#fffd00 205.5px,#ffd100 211.5px,#ffd300 216.5px,#ffe100 218.5px,#ffe900 226.5px,#fffd00 228.5px,#8aff00 233.5px,#76ff00 235.5px,#81ff00 236.5px,#5aff00 244.5px,#7dff00 247.5px,#cfff00 253.5px,#d5ff00 254.5px,#fff 255.5px,#fff 260.5px,#6fff00 261.5px,#fbff00 268.5px,#ffdb00 276.5px,#ffc200 296.5px,#fc0 306.5px,#ffe100 307.5px,#fbff00 324.5px,#e1ff00 329.5px,#e2ff00 330.5px,#fff200 331.5px,#ffe500 354.5px)"></i><i style="background:linear-gradient(#00fffc 0.5px,#00f3ff 10.5px,#009fff 38.5px,#0087ff 48.5px,#0078ff 50.5px,#003eff 86.5px,#0000f2 87.5px,#0000f6 113.5px,#000aff 117.5px,#0021ff 127.5px,#0056ff 129.5px,#0062ff 133.5px,#00e3ff 134.5px,#00e3ff 138.5px,#003bff 139.5px,#004aff 143.5px,#0058ff 147.5px,#005bff 165.5px,#006fff 166.5px,#0096ff 167.5px,#00aeff 168.5px,#00e6ff 174.5px,#00fffc 176.5px,#00ffab 186.5px,#00ff89 196.5px,#0f7 197.5px,#00ff57 198.5px,#00ff4c 199.5px,#00ff05 201.5px,#94ff00 203.5px,#c7ff00 204.5px,#fffc00 207.5px,#ffdf00 211.5px,#ffeb00 226.5px,#fffd00 228.5px,#82ff00 234.5px,#7dff00 235.5px,#89ff00 236.5px,#61ff00 244.5px,#81ff00 247.5px,#cf0 253.5px,#d1ff00 254.5px,#fff 255.5px,#fff 260.5px,#61ff00 261.5px,#ecff00 268.5px,#fffb00 270.5px,#ffe000 277.5px,#ffd600 283.5px,#ffc600 287.5px,#ffbf00 298.5px,#ffc700 306.5px,#ffd800 307.5px,#f9ff00 330.5px,#ffe700 331.5px,#ffdb00 354.5px)"></i><i style="background:linear-gradient(#0ff 0.5px,#00eaff 11.5px,#0078ff 54.5px,#0045ff 86.5px,#0000f5 87.5px,#0000f9 113.5px,#0027ff 127.5px,#005cff 129.5px,#0068ff 133.5px,#00e3ff 134.5px,#00e3ff 138.5px,#0041ff 139.5px,#0037ff 141.5px,#0052ff 146.5px,#0056ff 165.5px,#006aff 166.5px,#0091ff 167.5px,#00a9ff 168.5px,#00e0ff 174.5px,#0ff 176.5px,#00ffb9 186.5px,#00ff9a 196.5px,#00ff6c 198.5px,#00ff05 201.5px,#95ff00 203.5px,#c8ff00 204.5px,#fffb00 207.5px,#fd0 211.5px,#ffdf00 216.5px,#ffc400 217.5px,#ffca00 226.5px,#fffc00 232.5px,#deff00 235.5px,#adff00 236.5px,#84ff00 244.5px,#b9ff00 249.5px,#e8ff00 254.5px,#fff 255.5px,#fff 260.5px,#2bff00 261.5px,#a5ff00 267.5px,#fbff00 273.5px,#ffed00 283.5px,#ffd800 284.5px,#ffca00 297.5px,#ffd300 306.5px,#ffe000 309.5px,#fbff00 326.5px,#edff00 330.5px,#fff100 331.5px,#ffe600 354.5px)"></i><i style="background:linear-gradient(#00fdff 0.5px,#00e8ff 11.5px,#00a4ff 37.5px,#0053ff 79.5px,#004aff 86.5px,#0000f4 87.5px,#0000f7 113.5px,#001fff 127.5px,#0053ff 129.5px,#005fff 133.5px,#00e3ff 134.5px,#00e3ff 138.5px,#0038ff 139.5px,#0046ff 143.5px,#05f 147.5px,#0058ff 165.5px,#006cff 166.5px,#0093ff 167.5px,#00abff 168.5px,#00e2ff 174.5px,#00fffe 176.5px,#00ffaf 186.5px,#00ff89 196.5px,#00ff76 197.5px,#00ff05 200.5px,#3cff00 201.5px,#daff00 203.5px,#fffa00 204.5px,#ffc100 211.5px,#ffc200 216.5px,#ffb300 217.5px,#ffb800 226.5px,#fff400 235.5px,#c0ff00 236.5px,#97ff00 244.5px,#ef0 254.5px,#fff 255.5px,#fff 260.5px,#52ff00 261.5px,#cbff00 267.5px,#fffe00 271.5px,#ffc600 293.5px,#ffd200 306.5px,#ffc200 307.5px,#fff000 335.5px,#ffe600 354.5px)"></i><i style="background:linear-gradient(#0ff 0.5px,#00ebff 11.5px,#007fff 52.5px,#0049ff 86.5px,#0000f4 87.5px,#0000f7 113.5px,#001bff 125.5px,#0021ff 127.5px,#05f 129.5px,#0062ff 133.5px,#00e3ff 134.5px,#00e3ff 138.5px,#003aff 139.5px,#005cff 146.5px,#0060ff 165.5px,#0073ff 166.5px,#009bff 167.5px,#00b2ff 168.5px,#00eaff 174.5px,#00fffa 176.5px,#00ffaf 186.5px,#00ff85 196.5px,#00ff72 197.5px,#00ff04 200.5px,#3eff00 201.5px,#dcff00 203.5px,#fff900 204.5px,#ffbf00 211.5px,#ffc000 226.5px,#fff700 235.5px,#e7ff00 237.5px,#c5ff00 245.5px,#fffe00 252.5px,#fffa00 254.5px,#fff 255.5px,#fff 260.5px,#82ff00 261.5px,#f9ff00 267.5px,#ffd900 278.5px,#ffc500 297.5px,#ffce00 306.5px,#ffc500 308.5px,#ffec00 334.5px,#ffe400 354.5px)"></i><i style="background:linear-gradient(#00fbff 0.5px,#00e7ff 11.5px,#008cff 46.5px,#0047ff 86.5px,#0000f3 87.5px,#0000f7 113.5px,#0016ff 124.5px,#001eff 127.5px,#0053ff 129.5px,#005fff 133.5px,#00e3ff 134.5px,#00e3ff 138.5px,#0038ff 139.5px,#005bff 146.5px,#005eff 165.5px,#0072ff 166.5px,#09f 167.5px,#00b1ff 168.5px,#00e8ff 174.5px,#00fffb 176.5px,#00ffae 187.5px,#00ff87 196.5px,#00ff73 197.5px,#00ff52 198.5px,#0f1 199.5px,#1eff00 200.5px,#fffe00 203.5px,#ffe100 205.5px,#ffaf00 211.5px,#ffaf00 216.5px,#ffbe00 217.5px,#ffc200 226.5px,#fff300 235.5px,#edff00 237.5px,#c9ff00 245.5px,#fffe00 253.5px,#fffd00 254.5px,#fff 255.5px,#fff 260.5px,#9eff00 261.5px,#fffe00 266.5px,#ffd200 277.5px,#ffb500 296.5px,#ffbe00 306.5px,#ffd300 307.5px,#fff900 330.5px,#ebff00 331.5px,#f4ff00 346.5px,#feff00 354.5px)"></i><i style="background:linear-gradient(#00fcff 0.5px,#00e8ff 11.5px,#006dff 58.5px,#0042ff 86.5px,#0000f6 87.5px,#0000fb 114.5px,#001cff 127.5px,#0050ff 129.5px,#005dff 133.5px,#00e3ff 134.5px,#00e3ff 138.5px,#0035ff 139.5px,#0047ff 143.5px,#05f 147.5px,#0058ff 165.5px,#006cff 166.5px,#0094ff 167.5px,#00abff 168.5px,#00e2ff 174.5px,#0ff 176.5px,#00ffb4 187.5px,#00ff8d 196.5px,#00ff7a 197.5px,#00ff59 198.5px,#00ff29 199.5px,#00ff07 200.5px,#39ff00 201.5px,#d6ff00 203.5px,#fffb00 204.5px,#ffbe00 211.5px,#ffbe00 216.5px,#ffc600 220.5px,#ffce00 227.5px,#fff500 235.5px,#eaff00 236.5px,#bfff00 245.5px,#f0ff00 254.5px,#fff 255.5px,#fff 260.5px,#6cff00 261.5px,#e0ff00 267.5px,#fffe00 270.5px,#ffdc00 283.5px,#ffca00 284.5px,#fb0 297.5px,#ffc400 306.5px,#ffd800 307.5px,#fffe00 330.5px,#fff300 354.5px)"></i><i style="background:linear-gradient(#00fffd 0.5px,#00f3ff 10.5px,#0089ff 48.5px,#0079ff 50.5px,#003eff 86.5px,#0000f3 87.5px,#0000f7 113.5px,#0012ff 120.5px,#0024ff 127.5px,#0058ff 129.5px,#0064ff 133.5px,#00e3ff 134.5px,#00e3ff 138.5px,#003dff 139.5px,#003eff 142.5px,#05f 146.5px,#0058ff 165.5px,#006cff 166.5px,#0094ff 167.5px,#00abff 168.5px,#00e2ff 174.5px,#0ff 176.5px,#00ffb9 188.5px,#00ff98 196.5px,#00ff68 198.5px,#0f2 199.5px,#0f0 200.5px,#e4ff00 203.5px,#fff600 204.5px,#ffb800 211.5px,#ffb700 216.5px,#ffc600 217.5px,#fc0 227.5px,#fff000 237.5px,#fffb00 247.5px,#fff100 254.5px,#fff 255.5px,#fff 260.5px,#87ff00 261.5px,#f9ff00 267.5px,#ffd500 282.5px,#ffd400 283.5px,#ffc000 284.5px,#ffb100 297.5px,#ffe500 334.5px,#ffde00 354.5px)"></i><i style="background:linear-gradient(#00fffc 0.5px,#00f3ff 10.5px,#0071ff 57.5px,#04f 86.5px,#0000f4 87.5px,#0000f8 113.5px,#0026ff 127.5px,#005aff 129.5px,#06f 133.5px,#00e3ff 134.5px,#00e3ff 138.5px,#003fff 139.5px,#003fff 142.5px,#0056ff 146.5px,#0059ff 165.5px,#006dff 166.5px,#0095ff 167.5px,#00acff 168.5px,#00e3ff 174.5px,#0ff 176.5px,#00ffad 188.5px,#00ff84 196.5px,#00ff70 197.5px,#00ff0a 200.5px,#35ff00 201.5px,#d3ff00 203.5px,#fffc00 204.5px,#ffbd00 211.5px,#fb0 216.5px,#ffca00 217.5px,#ffce00 227.5px,#ffeb00 235.5px,#ffd800 236.5px,#ffe700 247.5px,#ffe000 254.5px,#fff 255.5px,#fff 260.5px,#84ff00 261.5px,#f5ff00 267.5px,#fff700 270.5px,#ffd700 283.5px,#ffc800 285.5px,#fb0 297.5px,#ffc300 306.5px,#ffb200 307.5px,#ffd700 330.5px,#ffe400 332.5px,#ffdf00 354.5px)"></i><i style="background:linear-gradient(#00feff 0.5px,#00eaff 11.5px,#006cff 59.5px,#0043ff 86.5px,#0000f3 87.5px,#0000f7 113.5px,#000eff 118.5px,#0024ff 127.5px,#0058ff 129.5px,#0064ff 133.5px,#00e3ff 134.5px,#00e3ff 138.5px,#003dff 139.5px,#003dff 142.5px,#0054ff 146.5px,#0057ff 165.5px,#006bff 166.5px,#0093ff 167.5px,#0af 168.5px,#00e1ff 174.5px,#00fcff 176.5px,#0fa 190.5px,#00ff8d 196.5px,#00ff79 197.5px,#00ff08 200.5px,#38ff00 201.5px,#d6ff00 203.5px,#fffb00 204.5px,#ffba00 211.5px,#ffb800 216.5px,#ffc100 219.5px,#ffc700 228.5px,#ffea00 244.5px,#ffe500 254.5px,#fff 255.5px,#fff 260.5px,#9eff00 261.5px,#feff00 266.5px,#ffd300 281.5px,#fb0 296.5px,#ffc400 306.5px,#ffc000 311.5px,#ffea00 338.5px,#ffe300 354.5px)"></i><i style="background:linear-gradient(#00fcff 0.5px,#00e8ff 11.5px,#0069ff 63.5px,#0047ff 86.5px,#0000f2 87.5px,#0000f6 113.5px,#0014ff 116.5px,#002dff 127.5px,#0061ff 129.5px,#006eff 133.5px,#00e3ff 134.5px,#00e3ff 138.5px,#0046ff 139.5px,#003bff 141.5px,#0057ff 146.5px,#005aff 165.5px,#006eff 166.5px,#0095ff 167.5px,#00adff 168.5px,#00e3ff 174.5px,#0ff 176.5px,#00ff9e 190.5px,#00ff7a 196.5px,#00ff64 197.5px,#00ff3d 198.5px,#00ff2d 199.5px,#00ff0b 200.5px,#3f0 201.5px,#d1ff00 203.5px,#fffc00 204.5px,#ffba00 211.5px,#ffb800 216.5px,#ffc700 217.5px,#ffca00 228.5px,#ffdc00 235.5px,#fc0 236.5px,#ffde00 248.5px,#ffde00 254.5px,#fff 255.5px,#fff 260.5px,#a8ff00 261.5px,#f5ff00 265.5px,#fff300 268.5px,#ffcd00 283.5px,#ffc300 298.5px,#ffef00 330.5px,#ffd800 331.5px,#ffd600 354.5px)"></i><i style="background:linear-gradient(#0ff 0.5px,#00ebff 11.5px,#0082ff 52.5px,#004bff 86.5px,#0000f5 87.5px,#0000f9 113.5px,#0014ff 117.5px,#002cff 127.5px,#0060ff 129.5px,#006cff 133.5px,#00e3ff 134.5px,#00e3ff 138.5px,#0045ff 139.5px,#003cff 141.5px,#0058ff 146.5px,#005bff 165.5px,#006fff 166.5px,#0096ff 167.5px,#00aeff 168.5px,#00e4ff 174.5px,#0ff 176.5px,#00ff74 196.5px,#00ff5c 197.5px,#0f3 198.5px,#00ff4c 199.5px,#00ff02 201.5px,#9aff00 203.5px,#cfff00 204.5px,#fffd00 206.5px,#ffce00 211.5px,#fc0 216.5px,#ffad00 217.5px,#ffb100 230.5px,#fb0 235.5px,#ffca00 237.5px,#ffdf00 253.5px,#ffdf00 254.5px,#fff 255.5px,#fff 260.5px,#e7ff00 261.5px,#faff00 262.5px,#ffd500 270.5px,#ffb600 283.5px,#ffd000 284.5px,#ffbf00 296.5px,#ffc800 306.5px,#ffd500 308.5px,#fffb00 338.5px,#fff400 354.5px)"></i><i style="background:linear-gradient(#00fffe 0.5px,#00f1ff 10.5px,#006eff 60.5px,#0046ff 86.5px,#0000f6 87.5px,#0000f9 113.5px,#0025ff 127.5px,#005aff 129.5px,#06f 133.5px,#00e3ff 134.5px,#00e3ff 138.5px,#003fff 139.5px,#003cff 142.5px,#0053ff 146.5px,#0056ff 165.5px,#006aff 166.5px,#0091ff 167.5px,#00a9ff 168.5px,#00dfff 174.5px,#00fffc 177.5px,#00ff84 196.5px,#00ff6e 197.5px,#00ff49 198.5px,#00ff3b 199.5px,#00ff18 200.5px,#1cff00 201.5px,#baff00 203.5px,#efff00 204.5px,#fffb00 205.5px,#ffc100 211.5px,#ffbd00 216.5px,#ffc800 218.5px,#fc0 233.5px,#ffeb00 254.5px,#fff 255.5px,#fff 260.5px,#c5ff00 261.5px,#feff00 264.5px,#fd0 272.5px,#ffb700 296.5px,#ffd600 325.5px,#ffdf00 330.5px,#fff700 331.5px,#fff900 350.5px,#fff800 354.5px)"></i><i style="background:linear-gradient(#0ff 0.5px,#00ecff 11.5px,#008aff 48.5px,#006eff 58.5px,#0042ff 86.5px,#0000f3 87.5px,#0000f6 113.5px,#01f 117.5px,#0028ff 127.5px,#005dff 129.5px,#0069ff 133.5px,#00e3ff 134.5px,#00e3ff 138.5px,#0042ff 139.5px,#003eff 142.5px,#05f 146.5px,#0059ff 165.5px,#006cff 166.5px,#0094ff 167.5px,#00abff 168.5px,#00e1ff 174.5px,#00fffb 177.5px,#00ff8f 196.5px,#00ff7b 197.5px,#00ff19 200.5px,#1aff00 201.5px,#b7ff00 203.5px,#edff00 204.5px,#fffb00 205.5px,#ffc000 211.5px,#ffbc00 216.5px,#ffca00 217.5px,#ffcb00 235.5px,#ffc500 237.5px,#ffe400 254.5px,#fff 255.5px,#fff 260.5px,#cf0 261.5px,#fffd00 264.5px,#ffdf00 271.5px,#ffb700 295.5px,#ffd500 325.5px,#ffdf00 330.5px,#fff500 331.5px,#fffa00 346.5px,#fff700 354.5px)"></i><i style="background:linear-gradient(#0ff 0.5px,#00ebff 11.5px,#008fff 46.5px,#0054ff 74.5px,#0043ff 86.5px,#0000f4 87.5px,#0000f7 113.5px,#001cff 124.5px,#0025ff 127.5px,#005aff 129.5px,#06f 133.5px,#00e3ff 134.5px,#00e3ff 138.5px,#003eff 139.5px,#0042ff 142.5px,#0059ff 146.5px,#005dff 165.5px,#0070ff 166.5px,#0098ff 167.5px,#00afff 168.5px,#00e5ff 174.5px,#0ff 176.5px,#00ff9f 196.5px,#00ff6e 198.5px,#00ff26 199.5px,#00ff03 200.5px,#91ff00 202.5px,#e0ff00 203.5px,#fff600 204.5px,#ffaf00 211.5px,#ffab00 216.5px,#ffb400 218.5px,#ffb000 235.5px,#fd0 254.5px,#fff 255.5px,#fff 260.5px,#bf0 261.5px,#fffd00 265.5px,#ffce00 283.5px,#fb0 288.5px,#ffb300 298.5px,#ffba00 306.5px,#ffc700 309.5px,#ffe700 330.5px,#fff900 331.5px,#f9ff00 341.5px,#fffc00 354.5px)"></i><i style="background:linear-gradient(#00f8ff 0.5px,#00e5ff 11.5px,#00c7ff 23.5px,#00caff 27.5px,#008dff 48.5px,#0050ff 79.5px,#0047ff 86.5px,#0000f8 87.5px,#0001ff 114.5px,#0023ff 127.5px,#0057ff 129.5px,#0064ff 133.5px,#00e3ff 134.5px,#00e3ff 138.5px,#003cff 139.5px,#004bff 143.5px,#005aff 147.5px,#005dff 165.5px,#0070ff 166.5px,#0098ff 167.5px,#00afff 168.5px,#00e5ff 174.5px,#00feff 176.5px,#00ff94 196.5px,#00ff7f 197.5px,#00ff5d 198.5px,#00ff2b 199.5px,#00ff08 200.5px,#39ff00 201.5px,#d6ff00 203.5px,#fffa00 204.5px,#ffb100 211.5px,#ffa700 235.5px,#ff9b00 236.5px,#ffc600 254.5px,#fff 255.5px,#fff 260.5px,#caff00 261.5px,#fffe00 264.5px,#ffe500 270.5px,#ffca00 283.5px,#ffda00 284.5px,#ffc800 296.5px,#ffd100 306.5px,#ffc100 307.5px,#ffe200 330.5px,#fff400 331.5px,#fffc00 344.5px,#fff800 354.5px)"></i><i style="background:linear-gradient(#00f9ff 0.5px,#00e6ff 11.5px,#00caff 23.5px,#00c4ff 31.5px,#0073ff 59.5px,#004aff 86.5px,#0000fa 87.5px,#0007ff 115.5px,#0021ff 127.5px,#0056ff 129.5px,#0062ff 133.5px,#00e3ff 134.5px,#00e3ff 138.5px,#003bff 139.5px,#003eff 142.5px,#05f 146.5px,#0058ff 165.5px,#006cff 166.5px,#0093ff 167.5px,#00abff 168.5px,#00e0ff 174.5px,#00fffc 177.5px,#00ffa5 196.5px,#00ff74 198.5px,#00ff36 199.5px,#00ff12 200.5px,#27ff00 201.5px,#c4ff00 203.5px,#faff00 204.5px,#ffb700 211.5px,#ff9c00 237.5px,#ffc500 254.5px,#fff 255.5px,#fff 260.5px,#d4ff00 261.5px,#fffb00 264.5px,#ffe100 271.5px,#ffc800 283.5px,#ffd100 285.5px,#ffc300 297.5px,#ffcb00 306.5px,#ffb400 307.5px,#ffd400 330.5px,#ffe700 331.5px,#ffef00 344.5px,#ffea00 354.5px)"></i><i style="background:linear-gradient(#00fffe 0.5px,#00edff 11.5px,#00aeff 39.5px,#0076ff 55.5px,#0045ff 86.5px,#0000f7 87.5px,#0000fb 113.5px,#0027ff 127.5px,#005bff 129.5px,#0067ff 133.5px,#00e3ff 134.5px,#00e3ff 138.5px,#0040ff 139.5px,#0042ff 142.5px,#0059ff 146.5px,#005cff 165.5px,#0070ff 166.5px,#0097ff 167.5px,#00afff 168.5px,#00e4ff 174.5px,#00fffa 177.5px,#00ff91 196.5px,#00ff7c 197.5px,#00ff01 200.5px,#e1ff00 203.5px,#fff600 204.5px,#fa0 211.5px,#ff9f00 237.5px,#ffc800 254.5px,#fff 255.5px,#fff 260.5px,#bcff00 261.5px,#feff00 265.5px,#ffd400 283.5px,#ffc300 287.5px,#ffb900 297.5px,#ffed00 341.5px,#ffe700 354.5px)"></i><i style="background:linear-gradient(#00fffc 0.5px,#00f4ff 10.5px,#00cbff 30.5px,#008dff 48.5px,#005aff 70.5px,#0045ff 86.5px,#0000f5 87.5px,#0000f9 113.5px,#0023ff 127.5px,#0058ff 129.5px,#0064ff 133.5px,#00e3ff 134.5px,#00e3ff 138.5px,#003dff 139.5px,#003eff 142.5px,#05f 146.5px,#0059ff 165.5px,#006cff 166.5px,#0094ff 167.5px,#00abff 168.5px,#00e1ff 174.5px,#00fffd 177.5px,#00ff8f 196.5px,#00ff78 197.5px,#00ff0b 200.5px,#34ff00 201.5px,#d0ff00 203.5px,#fffc00 204.5px,#ffb000 211.5px,#f90 235.5px,#ff8b00 236.5px,#ffb600 254.5px,#fff 255.5px,#fff 260.5px,#c6ff00 261.5px,#fffc00 265.5px,#ffd200 283.5px,#ffc300 285.5px,#ffb500 297.5px,#ffbd00 306.5px,#ffb300 308.5px,#ffd200 330.5px,#ffe300 331.5px,#ffeb00 344.5px,#ffe600 354.5px)"></i><i style="background:linear-gradient(#00fffa 0.5px,#00f8ff 10.5px,#00dcff 23.5px,#00ceff 25.5px,#00adff 39.5px,#007eff 53.5px,#0047ff 86.5px,#0000f3 87.5px,#0000f6 113.5px,#000fff 118.5px,#0025ff 127.5px,#0059ff 129.5px,#0065ff 133.5px,#00e3ff 134.5px,#00e3ff 138.5px,#003eff 139.5px,#003bff 142.5px,#0052ff 146.5px,#0056ff 165.5px,#0069ff 166.5px,#0091ff 167.5px,#00a8ff 168.5px,#0df 174.5px,#00feff 177.5px,#00ffa1 196.5px,#00ff8d 197.5px,#00ff6c 198.5px,#0f3 199.5px,#00ff0e 200.5px,#2fff00 201.5px,#c9ff00 203.5px,#ff0 204.5px,#ffb100 211.5px,#ff9200 234.5px,#ff9400 235.5px,#ff8700 236.5px,#ffb000 254.5px,#fff 255.5px,#fff 260.5px,#df0 261.5px,#fcff00 263.5px,#ffe000 272.5px,#ffba00 296.5px,#ffc300 306.5px,#ffb900 308.5px,#ffd700 330.5px,#ffe700 333.5px,#ffe700 352.5px,#ffe600 354.5px)"></i><i style="background:linear-gradient(#00fffc 0.5px,#00f4ff 10.5px,#00b4ff 38.5px,#007aff 54.5px,#0045ff 86.5px,#0000f8 87.5px,#0002ff 114.5px,#0023ff 127.5px,#0057ff 129.5px,#0064ff 133.5px,#00e3ff 134.5px,#00e3ff 138.5px,#003cff 139.5px,#003dff 142.5px,#05f 146.5px,#0058ff 165.5px,#006cff 166.5px,#0093ff 167.5px,#00abff 168.5px,#00e0ff 174.5px,#00fffe 177.5px,#00ffa8 194.5px,#00ff9c 196.5px,#00ff87 197.5px,#00ff15 200.5px,#21ff00 201.5px,#bf0 203.5px,#f1ff00 204.5px,#ffec00 206.5px,#ffb500 211.5px,#ff9b00 238.5px,#ffc100 254.5px,#fff 255.5px,#fff 260.5px,#e4ff00 261.5px,#fffe00 263.5px,#ffe100 271.5px,#ffcb00 283.5px,#ffd900 284.5px,#ffcb00 297.5px,#ffea00 328.5px,#fe0 330.5px,#ffd800 331.5px,#ffe100 345.5px,#ffdb00 354.5px)"></i><i style="background:linear-gradient(#00fdff 0.5px,#00e7ff 12.5px,#00c1ff 36.5px,#007aff 54.5px,#0045ff 86.5px,#0000f4 87.5px,#0000f7 113.5px,#0012ff 121.5px,#02f 127.5px,#0056ff 129.5px,#0063ff 133.5px,#00e3ff 134.5px,#00e3ff 138.5px,#003bff 139.5px,#003aff 142.5px,#0051ff 146.5px,#0054ff 165.5px,#0068ff 166.5px,#0090ff 167.5px,#00a7ff 168.5px,#00dcff 174.5px,#00fffd 178.5px,#00ff9c 194.5px,#00ff8d 196.5px,#00ff75 197.5px,#00ff1c 199.5px,#1f0 200.5px,#f2ff00 203.5px,#ffe300 205.5px,#ff9e00 211.5px,#ff9600 216.5px,#ffae00 217.5px,#ff9e00 235.5px,#ffcb00 254.5px,#fff 255.5px,#fff 260.5px,#f8ff00 261.5px,#ffdb00 271.5px,#ffb400 296.5px,#ffe200 330.5px,#ffe200 335.5px,#ffde00 354.5px)"></i><i style="background:linear-gradient(#00feff 0.5px,#00e8ff 12.5px,#00d8ff 23.5px,#00cdff 35.5px,#007fff 54.5px,#004aff 86.5px,#0000f3 87.5px,#0000f6 113.5px,#000cff 118.5px,#0021ff 127.5px,#0056ff 129.5px,#0062ff 133.5px,#00e3ff 134.5px,#00e3ff 138.5px,#003bff 139.5px,#0039ff 142.5px,#0051ff 146.5px,#0054ff 165.5px,#0068ff 166.5px,#008fff 167.5px,#00a7ff 168.5px,#00dbff 174.5px,#00fffe 178.5px,#0fa 193.5px,#00ff94 196.5px,#00ff7d 197.5px,#00ff0e 200.5px,#2fff00 201.5px,#c7ff00 203.5px,#fdff00 204.5px,#ffad00 211.5px,#ff9500 234.5px,#ffc000 252.5px,#ffc600 254.5px,#fff 255.5px,#fff 260.5px,#eaff00 261.5px,#fffd00 263.5px,#ffdf00 273.5px,#ffcd00 283.5px,#ffbd00 284.5px,#ffaf00 297.5px,#ffd800 330.5px,#ffec00 341.5px,#ffe300 354.5px)"></i><i style="background:linear-gradient(#00feff 0.5px,#00e9ff 12.5px,#00dcff 25.5px,#00caff 36.5px,#007dff 53.5px,#0045ff 86.5px,#0000f6 87.5px,#0000fa 113.5px,#0024ff 127.5px,#0058ff 129.5px,#0065ff 133.5px,#00e3ff 134.5px,#00e3ff 138.5px,#003dff 139.5px,#003eff 142.5px,#05f 146.5px,#0059ff 165.5px,#006cff 166.5px,#0094ff 167.5px,#00abff 168.5px,#00ecff 175.5px,#00fffb 178.5px,#00ffc1 192.5px,#00ffa9 196.5px,#00ff96 197.5px,#00ff74 198.5px,#00ff1c 200.5px,#15ff00 201.5px,#acff00 203.5px,#e2ff00 204.5px,#fffd00 205.5px,#ffb600 211.5px,#ff9400 233.5px,#ffa600 249.5px,#ffb900 254.5px,#fff 255.5px,#fff 260.5px,#fff700 261.5px,#ffd300 271.5px,#ffbf00 283.5px,#ffa700 292.5px,#ffd000 330.5px,#ffe100 342.5px,#ffd800 354.5px)"></i><i style="background:linear-gradient(#00fdff 0.5px,#00e8ff 12.5px,#00caff 35.5px,#07f 54.5px,#0042ff 86.5px,#0000f6 87.5px,#0000fa 113.5px,#02f 127.5px,#0056ff 129.5px,#0063ff 133.5px,#00e3ff 134.5px,#00e3ff 138.5px,#003bff 139.5px,#004aff 143.5px,#0059ff 147.5px,#005cff 165.5px,#0070ff 166.5px,#0097ff 167.5px,#00afff 168.5px,#00fffe 177.5px,#00ffc7 191.5px,#00ffa8 196.5px,#00ff93 197.5px,#00ff70 198.5px,#00ff27 199.5px,#00ff01 200.5px,#df0 203.5px,#fff700 204.5px,#ffa200 211.5px,#f90 216.5px,#ff9e00 219.5px,#ff8e00 234.5px,#ffae00 251.5px,#ffb900 254.5px,#fff 255.5px,#fff 260.5px,#fe0 261.5px,#ffcb00 272.5px,#ffb000 296.5px,#ffd900 344.5px,#ffd100 354.5px)"></i><i style="background:linear-gradient(#00fffe 0.5px,#0ef 11.5px,#00deff 24.5px,#00d1ff 35.5px,#0080ff 53.5px,#0048ff 86.5px,#0000f5 87.5px,#0000f8 113.5px,#001eff 127.5px,#0053ff 129.5px,#005fff 133.5px,#00e3ff 134.5px,#00e3ff 138.5px,#0038ff 139.5px,#0047ff 143.5px,#05f 147.5px,#0058ff 165.5px,#006cff 166.5px,#0094ff 167.5px,#00abff 168.5px,#00fffc 178.5px,#0fb 191.5px,#00ff94 196.5px,#00ff7b 197.5px,#02ff00 200.5px,#e0ff00 203.5px,#fff600 204.5px,#ff9f00 211.5px,#ff9600 216.5px,#ffa400 217.5px,#ff9000 233.5px,#ff9200 235.5px,#ffa200 236.5px,#ffbd00 251.5px,#ffc900 254.5px,#fff 255.5px,#fff 260.5px,#fff900 261.5px,#ffd600 273.5px,#ffb300 296.5px,#ffbc00 306.5px,#ffca00 308.5px,#ffe500 330.5px,#fd0 332.5px,#ffe500 345.5px,#fd0 354.5px)"></i><i style="background:linear-gradient(#0ff 0.5px,#00ebff 12.5px,#00d2ff 35.5px,#008dff 50.5px,#0051ff 82.5px,#004bff 86.5px,#0000f6 87.5px,#0000fa 113.5px,#0021ff 127.5px,#0056ff 129.5px,#0062ff 133.5px,#00e3ff 134.5px,#00e3ff 138.5px,#003aff 139.5px,#003aff 142.5px,#0052ff 146.5px,#05f 165.5px,#0069ff 166.5px,#0090ff 167.5px,#00a8ff 168.5px,#0ff 178.5px,#00ffc5 191.5px,#00ffa2 196.5px,#00ff8b 197.5px,#00ff65 198.5px,#00ff28 199.5px,#00ff01 200.5px,#dcff00 203.5px,#fff800 204.5px,#ffa000 211.5px,#ff9600 216.5px,#ffa600 217.5px,#ff9000 233.5px,#ffac00 250.5px,#ffbe00 254.5px,#fff 255.5px,#fff 260.5px,#f7ff00 261.5px,#ffe600 270.5px,#ffd100 283.5px,#ffb600 284.5px,#fa0 297.5px,#ffb200 306.5px,#ffc200 307.5px,#ffed00 343.5px,#ffe300 354.5px)"></i><i style="background:linear-gradient(#0ff 0.5px,#00eaff 12.5px,#00e1ff 25.5px,#00d5ff 35.5px,#007fff 53.5px,#0047ff 86.5px,#0000f8 87.5px,#0004ff 114.5px,#0026ff 127.5px,#005aff 129.5px,#0067ff 133.5px,#00e3ff 134.5px,#00e3ff 138.5px,#003fff 139.5px,#0041ff 142.5px,#0059ff 146.5px,#005cff 165.5px,#0070ff 166.5px,#0097ff 167.5px,#00afff 168.5px,#0ff 177.5px,#00ffc8 190.5px,#00ff9a 196.5px,#00ff80 197.5px,#00ff0a 200.5px,#36ff00 201.5px,#caff00 203.5px,#fffe00 204.5px,#ffa500 211.5px,#ff7f00 231.5px,#ff9c00 250.5px,#ffae00 254.5px,#fff 255.5px,#fff 260.5px,#fff600 261.5px,#ffd000 277.5px,#ffc700 283.5px,#ffab00 284.5px,#ff9f00 297.5px,#ffa700 306.5px,#ffb800 307.5px,#ffd300 330.5px,#ffe300 332.5px,#ffec00 345.5px,#ffe400 354.5px)"></i><i style="background:linear-gradient(#00fcff 0.5px,#00e5ff 13.5px,#00daff 34.5px,#008aff 51.5px,#004eff 84.5px,#004cff 86.5px,#0000f8 87.5px,#0006ff 114.5px,#0027ff 127.5px,#005cff 129.5px,#0068ff 133.5px,#00e3ff 134.5px,#00e3ff 138.5px,#0041ff 139.5px,#0037ff 141.5px,#0053ff 146.5px,#0056ff 165.5px,#006aff 166.5px,#0092ff 167.5px,#00a9ff 168.5px,#0ff 178.5px,#00ffcd 190.5px,#00ffa0 196.5px,#0f8 197.5px,#00ff03 200.5px,#d6ff00 203.5px,#fffa00 204.5px,#ff9f00 211.5px,#ff9400 216.5px,#ff9c00 218.5px,#ff8700 232.5px,#ff8900 235.5px,#f90 236.5px,#ffac00 250.5px,#ffbf00 254.5px,#fff 255.5px,#fff 260.5px,#ffe500 261.5px,#ffbd00 280.5px,#ffb300 298.5px,#ffba00 306.5px,#ffa500 307.5px,#ffc000 330.5px,#ffd900 331.5px,#ffe500 344.5px,#ffdb00 354.5px)"></i><i style="background:linear-gradient(#00fffe 0.5px,#00efff 11.5px,#00e2ff 22.5px,#00d3ff 35.5px,#0081ff 52.5px,#0046ff 86.5px,#0000f5 87.5px,#0000f9 113.5px,#0025ff 127.5px,#0059ff 129.5px,#0065ff 133.5px,#00e3ff 134.5px,#00e3ff 138.5px,#003eff 139.5px,#003fff 142.5px,#0056ff 146.5px,#0059ff 165.5px,#006dff 166.5px,#0094ff 167.5px,#00acff 168.5px,#00fffe 178.5px,#00ffd1 190.5px,#00ffa5 196.5px,#00ff8d 197.5px,#0f6 198.5px,#00ff2a 199.5px,#00ff02 200.5px,#d8ff00 203.5px,#fff900 204.5px,#ff9d00 211.5px,#ff9200 216.5px,#ff9b00 218.5px,#ff8500 231.5px,#ff9c00 250.5px,#ffaf00 254.5px,#fff 255.5px,#fff 260.5px,#ffe500 261.5px,#ffba00 283.5px,#ffc500 285.5px,#ffbd00 298.5px,#ffc400 306.5px,#ffb600 307.5px,#ffd100 330.5px,#ffe400 331.5px,#fff000 344.5px,#ffe600 354.5px)"></i><i style="background:linear-gradient(#00feff 0.5px,#00e7ff 13.5px,#00dcff 34.5px,#007eff 53.5px,#0046ff 86.5px,#0000f7 87.5px,#0000fb 113.5px,#0026ff 127.5px,#005bff 129.5px,#0067ff 133.5px,#00e3ff 134.5px,#00e3ff 138.5px,#0040ff 139.5px,#0041ff 142.5px,#0058ff 146.5px,#005bff 165.5px,#006fff 166.5px,#0097ff 167.5px,#00aeff 168.5px,#00fffd 178.5px,#00ffd3 190.5px,#00ffa7 196.5px,#00ff90 197.5px,#00ff0f 200.5px,#2dff00 201.5px,#beff00 203.5px,#f5ff00 204.5px,#ffd900 207.5px,#ffa600 211.5px,#ff7800 230.5px,#ff9400 250.5px,#ffa800 254.5px,#fff 255.5px,#fff 260.5px,#ffec00 261.5px,#ffb000 294.5px,#fb0 306.5px,#ffb300 309.5px,#ffd400 332.5px,#ffdf00 344.5px,#ffd400 354.5px)"></i><i style="background:linear-gradient(#00faff 0.5px,#00e4ff 13.5px,#00d7ff 34.5px,#008dff 48.5px,#004bff 85.5px,#004aff 86.5px,#0000f6 87.5px,#0000f9 113.5px,#0024ff 127.5px,#0059ff 129.5px,#0065ff 133.5px,#00e3ff 134.5px,#00e3ff 138.5px,#003eff 139.5px,#0041ff 142.5px,#0058ff 146.5px,#005bff 165.5px,#006fff 166.5px,#0096ff 167.5px,#00aeff 168.5px,#00fffe 178.5px,#00ffd3 190.5px,#00ffa5 196.5px,#00ff8c 197.5px,#00ff1e 200.5px,#1f0 201.5px,#9fff00 203.5px,#d5ff00 204.5px,#f9ff00 205.5px,#ffb200 211.5px,#ffa600 216.5px,#ff9400 218.5px,#ff7d00 231.5px,#ff8000 235.5px,#ff8b00 238.5px,#ff9a00 250.5px,#ffac00 254.5px,#fff 255.5px,#fff 260.5px,#ffe600 261.5px,#ffbf00 283.5px,#fa0 284.5px,#ffa100 298.5px,#ffa800 306.5px,#ffc300 307.5px,#ffea00 344.5px,#ffdf00 354.5px)"></i><i style="background:linear-gradient(#0ff 0.5px,#00e8ff 13.5px,#00d0ff 35.5px,#008aff 48.5px,#0049ff 86.5px,#0000f4 87.5px,#0000f8 113.5px,#0024ff 127.5px,#0059ff 129.5px,#0065ff 133.5px,#00e3ff 134.5px,#00e3ff 138.5px,#003eff 139.5px,#003fff 142.5px,#0056ff 146.5px,#0059ff 165.5px,#006dff 166.5px,#0095ff 167.5px,#00acff 168.5px,#0ff 178.5px,#00ffd7 190.5px,#00ffad 196.5px,#00ff96 197.5px,#0f0 201.5px,#89ff00 203.5px,#beff00 204.5px,#fffc00 206.5px,#fb0 211.5px,#ffaf00 216.5px,#ff9d00 217.5px,#ff8400 231.5px,#f90 250.5px,#ffa900 254.5px,#fff 255.5px,#fff 260.5px,#ffe500 261.5px,#ffaf00 295.5px,#ffdf00 344.5px,#ffd300 354.5px)"></i><i style="background:linear-gradient(#00fffe 0.5px,#00f0ff 11.5px,#00e3ff 22.5px,#00d6ff 35.5px,#0089ff 51.5px,#004dff 84.5px,#004aff 86.5px,#0000f5 87.5px,#0000f8 113.5px,#0024ff 127.5px,#0059ff 129.5px,#0065ff 133.5px,#00e3ff 134.5px,#00e3ff 138.5px,#003eff 139.5px,#004dff 143.5px,#005bff 147.5px,#005eff 165.5px,#0072ff 166.5px,#09f 167.5px,#00b1ff 168.5px,#0ff 177.5px,#00ffd2 190.5px,#00ffa2 196.5px,#0f8 197.5px,#00ff5d 198.5px,#00ff48 199.5px,#0eff00 201.5px,#92ff00 203.5px,#c7ff00 204.5px,#ecff00 205.5px,#fff800 206.5px,#ffb700 211.5px,#ff8b00 231.5px,#ff8d00 235.5px,#ff7a00 236.5px,#ff8700 250.5px,#ff9600 254.5px,#fff 255.5px,#fff 260.5px,#ffd000 261.5px,#ffac00 283.5px,#ffac00 289.5px,#ffb000 305.5px,#ffc100 313.5px,#ffd400 330.5px,#ffcf00 333.5px,#ffd700 345.5px,#ffcb00 354.5px)"></i><i style="background:linear-gradient(#00fffd 0.5px,#00f0ff 11.5px,#00e3ff 22.5px,#00d5ff 35.5px,#007dff 53.5px,#0045ff 86.5px,#0000f3 87.5px,#0000f7 113.5px,#0020ff 127.5px,#0054ff 129.5px,#0061ff 133.5px,#00e3ff 134.5px,#00e3ff 138.5px,#0039ff 139.5px,#0049ff 143.5px,#0058ff 147.5px,#005bff 165.5px,#006eff 166.5px,#0096ff 167.5px,#00adff 168.5px,#00fffe 178.5px,#00ffd4 190.5px,#00ffa6 196.5px,#00ff8d 197.5px,#00ff12 200.5px,#24ff00 201.5px,#a4ff00 203.5px,#feff00 205.5px,#ffb000 211.5px,#ffa500 216.5px,#ff9500 218.5px,#ff7e00 231.5px,#ff8000 235.5px,#ff9800 236.5px,#ffa700 251.5px,#ffb100 254.5px,#fff 255.5px,#fff 260.5px,#ffcb00 261.5px,#ffa800 283.5px,#ffb800 284.5px,#ffaf00 298.5px,#ffb600 306.5px,#ffad00 308.5px,#ffc400 330.5px,#ffd800 331.5px,#ffe300 345.5px,#ffd700 354.5px)"></i><i style="background:linear-gradient(#00fffd 0.5px,#00f0ff 11.5px,#00e1ff 25.5px,#00d5ff 35.5px,#007bff 53.5px,#0043ff 86.5px,#0000f5 87.5px,#0000f9 113.5px,#0023ff 127.5px,#0057ff 129.5px,#0064ff 133.5px,#00e3ff 134.5px,#00e3ff 138.5px,#003cff 139.5px,#003eff 142.5px,#05f 146.5px,#0058ff 165.5px,#006cff 166.5px,#0094ff 167.5px,#00abff 168.5px,#0ff 178.5px,#00ffda 190.5px,#00ffb1 196.5px,#00ff9a 197.5px,#00ff74 198.5px,#00ff39 199.5px,#00ff0f 200.5px,#28ff00 201.5px,#a4ff00 203.5px,#fdff00 205.5px,#ffb100 211.5px,#ff8a00 231.5px,#ff8c00 235.5px,#ffa100 236.5px,#ffae00 251.5px,#ffb700 254.5px,#fff 255.5px,#fff 260.5px,#ffc700 261.5px,#ffa500 283.5px,#ffab00 286.5px,#ffa700 300.5px,#ffac00 306.5px,#ffbf00 307.5px,#ffd600 330.5px,#ffcd00 332.5px,#ffd600 345.5px,#ffc900 354.5px)"></i><i style="background:linear-gradient(#00feff 0.5px,#00eaff 12.5px,#00e1ff 24.5px,#00d5ff 35.5px,#007cff 53.5px,#04f 86.5px,#0000f4 87.5px,#0000f7 113.5px,#0021ff 127.5px,#05f 129.5px,#0062ff 133.5px,#00e3ff 134.5px,#00e3ff 138.5px,#003aff 139.5px,#003eff 142.5px,#05f 146.5px,#0058ff 165.5px,#006cff 166.5px,#0093ff 167.5px,#00abff 168.5px,#00feff 178.5px,#00ffd4 190.5px,#00ffa4 196.5px,#00ff89 197.5px,#00ff0e 200.5px,#29ff00 201.5px,#d3ff00 204.5px,#faff00 205.5px,#ffb200 211.5px,#ffa600 216.5px,#ffb500 217.5px,#ff9a00 231.5px,#ff9a00 249.5px,#ffa700 254.5px,#fff 255.5px,#fff 260.5px,#ffd100 261.5px,#ffa700 296.5px,#ffd000 344.5px,#ffc100 354.5px)"></i><i style="background:linear-gradient(#00faff 0.5px,#00e6ff 12.5px,#00daff 23.5px,#00e2ff 28.5px,#00c8ff 38.5px,#007eff 52.5px,#04f 86.5px,#0000f7 87.5px,#0000fa 113.5px,#02f 127.5px,#0057ff 129.5px,#0063ff 133.5px,#00e3ff 134.5px,#00e3ff 138.5px,#003cff 139.5px,#003eff 142.5px,#05f 146.5px,#0058ff 165.5px,#006cff 166.5px,#0093ff 167.5px,#00abff 168.5px,#00feff 178.5px,#00ffd8 190.5px,#00ffab 196.5px,#00ff92 197.5px,#00ff0e 200.5px,#29ff00 201.5px,#cdff00 204.5px,#f4ff00 205.5px,#ffe700 207.5px,#ffb400 211.5px,#ffa800 216.5px,#ffbe00 217.5px,#ffa300 232.5px,#ffa400 235.5px,#ff8f00 236.5px,#ff9e00 253.5px,#ff9f00 254.5px,#fff 255.5px,#fff 260.5px,#ffc800 261.5px,#ffa900 283.5px,#ffb500 285.5px,#ffaf00 299.5px,#ffcf00 332.5px,#ffd700 346.5px,#ffca00 354.5px)"></i><i style="background:linear-gradient(#00fbff 0.5px,#00e6ff 12.5px,#00d9ff 23.5px,#00d2ff 34.5px,#007cff 54.5px,#0047ff 86.5px,#0000f5 87.5px,#0000f8 113.5px,#02f 127.5px,#0056ff 129.5px,#0063ff 133.5px,#00e3ff 134.5px,#00e3ff 138.5px,#003bff 139.5px,#003fff 142.5px,#0056ff 146.5px,#005aff 165.5px,#006dff 166.5px,#0095ff 167.5px,#00acff 168.5px,#00fffe 178.5px,#00ffd3 190.5px,#00ffa0 196.5px,#00ff84 197.5px,#00ff02 200.5px,#df0 204.5px,#fffd00 205.5px,#ffae00 211.5px,#ffa200 216.5px,#ffa500 219.5px,#ff9000 232.5px,#f90 253.5px,#ff9a00 254.5px,#fff 255.5px,#fff 260.5px,#ffbe00 261.5px,#ffa100 283.5px,#ffb000 284.5px,#ffa900 299.5px,#ffcb00 345.5px,#ffbc00 354.5px)"></i><i style="background:linear-gradient(#0ff 0.5px,#00e9ff 12.5px,#00c7ff 36.5px,#007bff 53.5px,#04f 86.5px,#0000f4 87.5px,#0000f8 113.5px,#0024ff 127.5px,#0059ff 129.5px,#0065ff 133.5px,#00e3ff 134.5px,#00e3ff 138.5px,#003dff 139.5px,#003cff 142.5px,#0053ff 146.5px,#0056ff 165.5px,#006aff 166.5px,#0091ff 167.5px,#00a9ff 168.5px,#00fcff 178.5px,#00ffd7 190.5px,#00ffa7 196.5px,#00ff8c 197.5px,#00ff5f 198.5px,#00ff19 200.5px,#13ff00 201.5px,#aeff00 204.5px,#faff00 206.5px,#ffc000 211.5px,#ffb400 216.5px,#ffa300 219.5px,#ff8d00 232.5px,#ff8e00 235.5px,#ffa100 236.5px,#ffab00 254.5px,#fff 255.5px,#fff 260.5px,#ffbe00 261.5px,#ffa100 283.5px,#ffb100 284.5px,#fa0 299.5px,#ffbe00 330.5px,#fc0 334.5px,#ffd100 346.5px,#ffc300 354.5px)"></i><i style="background:linear-gradient(#00feff 0.5px,#00e9ff 12.5px,#00c5ff 36.5px,#007aff 53.5px,#0043ff 86.5px,#0000f6 87.5px,#0000f9 113.5px,#0027ff 127.5px,#005bff 129.5px,#0067ff 133.5px,#00e3ff 134.5px,#00e3ff 138.5px,#0040ff 139.5px,#0043ff 142.5px,#005aff 146.5px,#005dff 165.5px,#0071ff 166.5px,#09f 167.5px,#00b0ff 168.5px,#00fffc 178.5px,#00ffd7 190.5px,#00ffa7 196.5px,#00ff8c 197.5px,#00ff08 200.5px,#c6ff00 204.5px,#ef0 205.5px,#fff700 206.5px,#ffb600 211.5px,#ffab00 216.5px,#ffb300 218.5px,#ff9a00 232.5px,#ffa600 254.5px,#fff 255.5px,#fff 260.5px,#fc0 261.5px,#fa0 297.5px,#ffb100 306.5px,#ffa700 308.5px,#ffba00 330.5px,#ffca00 331.5px,#ffd200 346.5px,#ffc400 354.5px)"></i><i style="background:linear-gradient(#00fffe 0.5px,#00efff 11.5px,#00d5ff 28.5px,#00b3ff 40.5px,#007aff 54.5px,#0046ff 86.5px,#0000f5 87.5px,#0000f9 113.5px,#0025ff 127.5px,#0059ff 129.5px,#0065ff 133.5px,#00e3ff 134.5px,#00e3ff 138.5px,#003eff 139.5px,#004eff 143.5px,#005cff 147.5px,#005fff 165.5px,#0073ff 166.5px,#009aff 167.5px,#00b2ff 168.5px,#0ff 177.5px,#00ffe1 189.5px,#00ffa9 196.5px,#00ff8f 197.5px,#00ff0d 200.5px,#58ff00 202.5px,#e0ff00 205.5px,#fffd00 206.5px,#ffbc00 211.5px,#ff9100 231.5px,#ff9100 235.5px,#ff8500 237.5px,#ff8a00 254.5px,#fff 255.5px,#fff 260.5px,#ffc900 261.5px,#ffb000 283.5px,#ffa200 285.5px,#ff9e00 301.5px,#ffa200 306.5px,#ffb300 307.5px,#ffc600 330.5px,#ffad00 331.5px,#ffb500 346.5px,#ffa600 354.5px)"></i><i style="background:linear-gradient(#00fffc 0.5px,#00f5ff 10.5px,#00d3ff 28.5px,#00b1ff 40.5px,#0079ff 56.5px,#0049ff 86.5px,#0000f5 87.5px,#0000f8 113.5px,#001eff 127.5px,#0052ff 129.5px,#005eff 133.5px,#00e3ff 134.5px,#00e3ff 138.5px,#0037ff 139.5px,#0049ff 143.5px,#0057ff 147.5px,#005aff 165.5px,#006eff 166.5px,#0095ff 167.5px,#00adff 168.5px,#00fffe 178.5px,#0fd 190.5px,#00ffb1 196.5px,#0f9 197.5px,#00ff6f 198.5px,#00ff2c 199.5px,#00ff01 200.5px,#6bff00 202.5px,#f0ff00 205.5px,#fff700 206.5px,#ffb600 211.5px,#fa0 216.5px,#ffba00 217.5px,#ff9f00 232.5px,#ff9f00 235.5px,#ff9300 237.5px,#ff9400 254.5px,#fff 255.5px,#fff 260.5px,#ffbd00 261.5px,#ffa100 295.5px,#ffbe00 330.5px,#ffad00 331.5px,#ffb500 346.5px,#ffa600 354.5px)"></i><i style="background:linear-gradient(#00feff 0.5px,#00ecff 11.5px,#00d3ff 23.5px,#00c0ff 36.5px,#007cff 55.5px,#004bff 86.5px,#0000f5 87.5px,#0000f9 113.5px,#0021ff 127.5px,#05f 129.5px,#0062ff 133.5px,#00e3ff 134.5px,#00e3ff 138.5px,#003aff 139.5px,#0048ff 143.5px,#0056ff 147.5px,#0059ff 165.5px,#006dff 166.5px,#0095ff 167.5px,#00acff 168.5px,#0ff 178.5px,#00ffd7 192.5px,#00ffc4 196.5px,#00ffaf 197.5px,#00ff8a 198.5px,#00ff4f 199.5px,#07ff04 201.5px,#d1ff00 205.5px,#faff00 206.5px,#fc0 210.5px,#ff8b00 228.5px,#ff6f00 254.5px,#fff 255.5px,#fff 260.5px,#ffa300 261.5px,#ff8d00 298.5px,#ff9300 306.5px,#ffa000 312.5px,#ffad00 330.5px,#ffa200 333.5px,#ff8e00 351.5px,#ff8900 354.5px)"></i><i style="background:linear-gradient(#00fffe 0.5px,#00edff 11.5px,#00d0ff 28.5px,#00a3ff 43.5px,#0076ff 57.5px,#0048ff 86.5px,#0000f7 87.5px,#0000fa 113.5px,#0026ff 127.5px,#005bff 129.5px,#0067ff 133.5px,#00e3ff 134.5px,#00e3ff 138.5px,#0040ff 139.5px,#003fff 142.5px,#0057ff 146.5px,#005aff 165.5px,#006eff 166.5px,#0095ff 167.5px,#00adff 168.5px,#00fffe 178.5px,#0fc 196.5px,#00ffb7 197.5px,#00ff1c 201.5px,#10ff00 202.5px,#bfff00 205.5px,#ecff00 206.5px,#fff500 207.5px,#ffd400 210.5px,#ffbe00 216.5px,#ffa900 219.5px,#ff6c00 239.5px,#ff4a00 254.5px,#fff 255.5px,#fff 260.5px,#ff8900 261.5px,#ff8000 283.5px,#ff6f00 284.5px,#ff7800 312.5px,#ff8300 330.5px,#ff9c00 331.5px,#ff6f00 354.5px)"></i><i style="background:linear-gradient(#0ff 0.5px,#00ecff 11.5px,#00adff 39.5px,#0076ff 55.5px,#04f 86.5px,#0000f5 87.5px,#0000f8 113.5px,#0026ff 127.5px,#005bff 129.5px,#0067ff 133.5px,#00e3ff 134.5px,#00e3ff 138.5px,#0040ff 139.5px,#003dff 142.5px,#05f 146.5px,#0058ff 165.5px,#006cff 166.5px,#0093ff 167.5px,#00abff 168.5px,#00feff 178.5px,#00ffcd 196.5px,#00ffb8 197.5px,#00ff0f 201.5px,#28ff00 202.5px,#d7ff00 205.5px,#fffd00 206.5px,#ffcf00 209.5px,#ffb400 216.5px,#ffbf00 217.5px,#ff6000 245.5px,#ff4c00 254.5px,#fff 255.5px,#fff 260.5px,#ff9a00 261.5px,#ff9100 283.5px,#ff7200 284.5px,#ff7800 306.5px,#ff9000 307.5px,#ff9f00 330.5px,#ff6d00 354.5px)"></i><i style="width:1px;background:linear-gradient(#0ff 0.5px,#00ecff 11.5px,#00a8ff 40.5px,#008bff 48.5px,#007aff 51.5px,#003fff 86.5px,#0000f1 87.5px,#0000f5 113.5px,#000bff 116.5px,#0024ff 127.5px,#0059ff 129.5px,#0065ff 133.5px,#00e3ff 134.5px,#00e3ff 138.5px,#003eff 139.5px,#003fff 142.5px,#0056ff 146.5px,#005aff 165.5px,#006eff 166.5px,#0095ff 167.5px,#00adff 168.5px,#00fffe 178.5px,#00ffce 196.5px,#00ffb9 197.5px,#00ff93 198.5px,#00ff5a 199.5px,#00ff08 201.5px,#e3ff00 205.5px,#fff800 206.5px,#ffca00 209.5px,#ffb000 216.5px,#ffb400 218.5px,#ff7900 235.5px,#ff6200 236.5px,#ff3700 254.5px,#fff 255.5px,#fff 260.5px,#ff9400 261.5px,#ff8a00 283.5px,#ff7f00 286.5px,#ff8b00 308.5px,#ff9600 333.5px,#ff6e00 354.5px)"></i></div>
<div class="sp" style="left:109px;top:429px;width:633px;height:75px"><i style="background:linear-gradient(#00ff54 6px,#0f3 0 16px,#0f0 0 27px,#a4ff00 0 37px,#84ff00 0 47px,#fff900 0 57px,#ff7c00 0 67px,#ff4000 0)"></i><i style="background:linear-gradient(#00ff59 6px,#00ff28 0 16px,#2f0 0 27px,#78ff00 0 37px,#9f0 0 47px,#f9ff00 0 57px,#ff8b00 0 67px,#ff3100 0)"></i><i style="background:linear-gradient(#00ff5a 6px,#00ff31 0 16px,#0eff00 0 27px,#8bff00 0 37px,#bf0 0 47px,#d8ff00 0 57px,#ff8900 0 67px,#ff3f00 0)"></i><i style="background:linear-gradient(#00ff62 6px,#00ff1c 0 16px,#07ff00 0 27px,#a0ff00 0 37px,#9f0 0 47px,#fffb00 0 57px,#ff7a00 0 67px,#ff3000 0)"></i><i style="background:linear-gradient(#00ff5c 6px,#00ff26 0 16px,#00ff03 0 27px,#7bff00 0 37px,#9eff00 0 47px,#d7ff00 0 57px,#ff6f00 0 67px,#ff4600 0)"></i><i style="background:linear-gradient(#00ff5c 6px,#00ff23 0 16px,#0f0 0 27px,#b5ff00 0 37px,#a7ff00 0 47px,#e2ff00 0 57px,#ff8600 0 67px,#ff3700 0)"></i><i style="background:linear-gradient(#00ff5b 6px,#00ff23 0 16px,#1f0 0 27px,#af0 0 37px,#8aff00 0 47px,#ffdc00 0 57px,#ff7f00 0 67px,#ff2700 0)"></i><i style="background:linear-gradient(#00ff5d 6px,#00ff30 0 16px,#21ff00 0 27px,#83ff00 0 37px,#d3fe00 0 47px,#fffa00 0 57px,#ff7b00 0 67px,#ff3a00 0)"></i><i style="background:linear-gradient(#00ff5b 6px,#00ff36 0 16px,#00ff06 0 27px,#9eff00 0 37px,#f2ff00 0 47px,#ffdf00 0 57px,#ff8500 0 67px,#ff2f00 0)"></i><i style="background:linear-gradient(#00ff5d 6px,#00ff2a 0 16px,#00ff02 0 27px,#adff00 0 37px,#efff00 0 47px,#fff800 0 57px,#ff8700 0 67px,#ff3800 0)"></i><i style="background:linear-gradient(#00ff60 6px,#00ff23 0 16px,#07ff00 0 27px,#b7ff00 0 37px,#d8ff00 0 47px,#fff600 0 57px,#ff7c00 0 67px,#ff3100 0)"></i><i style="background:linear-gradient(#00ff57 6px,#00ff28 0 16px,#0f0 0 27px,#cbff00 0 37px,#c2ff00 0 47px,#ffea00 0 57px,#ff8900 0 67px,#ff3600 0)"></i><i style="background:linear-gradient(#00ff57 6px,#00ff24 0 16px,#00ff08 0 27px,#85ff00 0 37px,#b9ff00 0 47px,#fffc00 0 57px,#ff8600 0 67px,#ff2d00 0)"></i><i style="background:linear-gradient(#00ff54 6px,#00ff23 0 16px,#09ff00 0 27px,#84ff00 0 37px,#bdff00 0 47px,#ebff00 0 57px,#ff7000 0 67px,#ff3e00 0)"></i><i style="background:linear-gradient(#00ff5b 6px,#00ff31 0 16px,#14ff00 0 27px,#98ff00 0 37px,#a3ff00 0 47px,#ff0 0 57px,#ff8f00 0 67px,#ff3400 0)"></i><i style="background:linear-gradient(#00ff5c 6px,#00ff27 0 16px,#00ff08 0 27px,#7eff00 0 37px,#a4ff00 0 47px,#fffd00 0 57px,#ff7000 0 67px,#ff2b00 0)"></i><i style="background:linear-gradient(#00ff5d 6px,#00ff1c 0 16px,#0cff00 0 27px,#6aff00 0 37px,#9f0 0 47px,#e5ff00 0 57px,#ff7400 0 67px,#ff3a00 0)"></i><i style="background:linear-gradient(#00ff61 6px,#00ff2c 0 16px,#17ff00 0 27px,#6aff00 0 37px,#8aff00 0 47px,#fffc00 0 57px,#ff8500 0 67px,#ff2a00 0)"></i><i style="background:linear-gradient(#00ff57 6px,#00ff35 0 16px,#17ff00 0 27px,#8f0 0 37px,#7bff00 0 47px,#fff800 0 57px,#ff7600 0 67px,#ff2900 0)"></i><i style="background:linear-gradient(#00ff5f 6px,#00ff2a 0 16px,#03ff00 0 27px,#96ff00 0 37px,#c8ff00 0 47px,#ffe500 0 57px,#ff7e00 0 67px,#ff3000 0)"></i><i style="background:linear-gradient(#00ff5f 6px,#00ff2b 0 16px,#2bff00 0 27px,#8f0 0 37px,#8dff00 0 47px,#fff100 0 57px,#ff8700 0 67px,#ff4800 0)"></i><i style="background:linear-gradient(#00ff5c 6px,#00ff26 0 16px,#1f0 0 27px,#85ff00 0 37px,#a7ff00 0 47px,#fff800 0 57px,#ff8400 0 67px,#ff2000 0)"></i><i style="background:linear-gradient(#0f5 6px,#00ff2e 0 16px,#00ff02 0 27px,#8f0 0 37px,#c4ff00 0 47px,#fffe00 0 57px,#ff8600 0 67px,#ff3f00 0)"></i><i style="background:linear-gradient(#00ff5a 6px,#00ff28 0 16px,#17ff00 0 27px,#f5ff00 0 37px,#9aff00 0 47px,#fbff00 0 57px,#ff7300 0 67px,#ff3200 0)"></i><i style="background:linear-gradient(#00ff5f 6px,#00ff36 0 16px,#00ff04 0 27px,#94ff00 0 37px,#b3ff00 0 47px,#dfff00 0 57px,#ff8a00 0 67px,#ff2e00 0)"></i><i style="background:linear-gradient(#00ff5e 6px,#00ff23 0 16px,#16ff00 0 27px,#78ff00 0 37px,#a7ff00 0 47px,#f1fd00 0 57px,#ff8b00 0 67px,#ff2100 0)"></i><i style="background:linear-gradient(#00ff58 6px,#00ff1f 0 16px,#00ff05 0 27px,#82ff00 0 37px,#9f0 0 47px,#aeff00 0 57px,#ff8400 0 67px,#ff3200 0)"></i><i style="background:linear-gradient(#00ff5b 6px,#00ff20 0 16px,#14ff00 0 27px,#a2ff00 0 37px,#a6ff00 0 47px,#e2ff00 0 57px,#ff8700 0 67px,#ff3d00 0)"></i><i style="background:linear-gradient(#00ff5e 6px,#00ff31 0 16px,#0f0 0 27px,#7bff00 0 37px,#98ff00 0 47px,#fff900 0 57px,#ff7000 0 67px,#ff2d00 0)"></i><i style="background:linear-gradient(#00ff5c 6px,#00ff26 0 16px,#19ff00 0 27px,#7fff00 0 37px,#b8ff00 0 47px,#daff00 0 57px,#ff8700 0 67px,#ff2300 0)"></i><i style="background:linear-gradient(#00ff58 6px,#00ff3a 0 16px,#13ff00 0 27px,#86ff00 0 37px,#a9ff00 0 47px,#fff300 0 57px,#ff8900 0 67px,#ff3f00 0)"></i><i style="background:linear-gradient(#00ff53 6px,#00ff27 0 16px,#0fff00 0 27px,#6fff00 0 37px,#83ff00 0 47px,#cbff00 0 57px,#ff8a00 0 67px,#ff2f00 0)"></i><i style="background:linear-gradient(#00ff60 6px,#00ff29 0 16px,#09ff00 0 27px,#9aff00 0 37px,#acff00 0 47px,#b0ff00 0 57px,#ff8b00 0 67px,#ff3600 0)"></i><i style="background:linear-gradient(#00ff5d 6px,#00ff2e 0 16px,#18ff00 0 27px,#56ff00 0 37px,#8dff00 0 47px,#e4ff00 0 57px,#ff9600 0 67px,#ff3500 0)"></i><i style="background:linear-gradient(#00ff5e 6px,#00ff26 0 16px,#00ff0a 0 27px,#a5ff00 0 37px,#8dff00 0 47px,#fff400 0 57px,#ff8500 0 67px,#ff3a00 0)"></i><i style="background:linear-gradient(#00ff64 6px,#00ff27 0 16px,#0eff00 0 27px,#7cff00 0 37px,#89ff00 0 47px,#e6ff00 0 57px,#ff8d00 0 67px,#ff3400 0)"></i><i style="background:linear-gradient(#00ff5e 6px,#00ff23 0 16px,#0dff00 0 27px,#69ff00 0 37px,#acff00 0 47px,#dbff00 0 57px,#ff8a00 0 67px,#f30 0)"></i><i style="background:linear-gradient(#00ff5f 6px,#00ff28 0 16px,#0fff00 0 27px,#8bff00 0 37px,#87ff00 0 47px,#e6ff00 0 57px,#ff7e00 0 67px,#ff2000 0)"></i><i style="background:linear-gradient(#00ff56 6px,#00ff27 0 16px,#13ff00 0 27px,#5fff00 0 37px,#8cff00 0 47px,#fe0 0 57px,#ff8100 0 67px,#ff4e00 0)"></i><i style="background:linear-gradient(#00ff5b 6px,#00ff34 0 16px,#3dff00 0 27px,#8fff00 0 37px,#97ff00 0 47px,#e0ff00 0 57px,#ff8300 0 67px,#ff2a00 0)"></i><i style="background:linear-gradient(#00ff61 6px,#00ff2f 0 16px,#08ff00 0 27px,#94ff00 0 37px,#68ff00 0 47px,#eaff00 0 57px,#ff9300 0 67px,#ff3b00 0)"></i><i style="background:linear-gradient(#00ff58 6px,#00ff2b 0 16px,#12ff00 0 27px,#76ff00 0 37px,#9bff00 0 47px,#c1ff00 0 57px,#ff8d00 0 67px,#ff4800 0)"></i><i style="background:linear-gradient(#00ff5c 6px,#00ff27 0 16px,#08ff00 0 27px,#7aff00 0 37px,#9dff00 0 47px,#c4ff00 0 57px,#ff9100 0 67px,#ff4e00 0)"></i><i style="background:linear-gradient(#00ff62 6px,#00ff28 0 16px,#1dff00 0 27px,#96ff00 0 37px,#adff00 0 47px,#e5ff00 0 57px,#ff9000 0 67px,#ff3000 0)"></i><i style="background:linear-gradient(#00ff5d 6px,#00ff1f 0 16px,#00ff0d 0 27px,#73ff00 0 37px,#78ff00 0 47px,#d5ff00 0 57px,#ff9000 0 67px,#ff5200 0)"></i><i style="background:linear-gradient(#00ff5d 6px,#00ff2e 0 16px,#1eff00 0 27px,#d0ff00 0 37px,#82ff00 0 47px,#c1ff00 0 57px,#ff9400 0 67px,#ff2d00 0)"></i><i style="background:linear-gradient(#00ff5e 6px,#00ff2a 0 16px,#00ff03 0 27px,#8f0 0 37px,#8fff00 0 47px,#9dff00 0 57px,#f80 0 67px,#ff5100 0)"></i><i style="background:linear-gradient(#00ff5b 6px,#00ff27 0 16px,#00ff10 0 27px,#cbff00 0 37px,#81ff00 0 47px,#bf0 0 57px,#ff9800 0 67px,#ff3e00 0)"></i><i style="background:linear-gradient(#00ff64 6px,#00ff2a 0 16px,#00ff06 0 27px,#74ff00 0 37px,#68ff00 0 47px,#e5ff00 0 57px,#ff8700 0 67px,#ff4e00 0)"></i><i style="background:linear-gradient(#00ff5c 6px,#00ff25 0 16px,#02ff00 0 27px,#80ff00 0 37px,#9aff00 0 47px,#b2ff00 0 57px,#ff9000 0 67px,#ff5400 0)"></i><i style="background:linear-gradient(#00ff57 6px,#00ff2c 0 16px,#07ff00 0 27px,#97ff00 0 37px,#7fff00 0 47px,#b6ff00 0 57px,#ff9500 0 67px,#ff4c00 0)"></i><i style="background:linear-gradient(#00ff57 6px,#00ff20 0 16px,#03ff00 0 27px,#aeff00 0 37px,#8bff00 0 47px,#a2ff00 0 57px,#ff9100 0 67px,#ff3200 0)"></i><i style="background:linear-gradient(#00ff56 6px,#00ff2a 0 16px,#0fff00 0 27px,#a0ff00 0 37px,#6aff00 0 47px,#b4ff00 0 57px,#f90 0 67px,#ff4600 0)"></i><i style="background:linear-gradient(#00ff56 6px,#0f2 0 16px,#03ff00 0 27px,#53ff00 0 37px,#f4ff00 0 47px,#b4ff00 0 57px,#ff9a00 0 67px,#ff4500 0)"></i><i style="background:linear-gradient(#0f5 6px,#00ff28 0 16px,#02ff00 0 27px,#54ff00 0 37px,#7f0 0 47px,#baff00 0 57px,#ff9000 0 67px,#ff3f00 0)"></i><i style="background:linear-gradient(#00ff5f 6px,#00ff1f 0 16px,#00ff10 0 27px,#a7ff00 0 37px,#6eff00 0 47px,#a0ff00 0 57px,#ff9b00 0 67px,#ff3d00 0)"></i><i style="background:linear-gradient(#00ff57 6px,#00ff31 0 16px,#0aff00 0 27px,#80ff00 0 37px,#8dff00 0 47px,#92ff00 0 57px,#ff7600 0 67px,#f50 0)"></i><i style="background:linear-gradient(#00ff62 6px,#00ff25 0 16px,#1f0 0 27px,#9bff00 0 37px,#93ff00 0 47px,#e0ff00 0 57px,#ffa500 0 67px,#ff4700 0)"></i><i style="background:linear-gradient(#00ff5d 6px,#00ff2b 0 16px,#00ff02 0 27px,#75ff00 0 37px,#65ff00 0 47px,#aeff00 0 57px,#ffa700 0 67px,#ff4c00 0)"></i><i style="background:linear-gradient(#00ff62 6px,#00ff27 0 16px,#00ff0e 0 27px,#86ff00 0 37px,#8eff00 0 47px,#93ff00 0 57px,#ff9200 0 67px,#ff5200 0)"></i><i style="background:linear-gradient(#00ff56 6px,#00ff21 0 16px,#00ff0a 0 27px,#70ff00 0 37px,#9bff00 0 47px,#a2ff00 0 57px,#ffa100 0 67px,#ff6500 0)"></i><i style="background:linear-gradient(#0f5 6px,#00ff2f 0 16px,#1aff00 0 27px,#6dff00 0 37px,#7cff00 0 47px,#dcff00 0 57px,#ffa300 0 67px,#ff4500 0)"></i><i style="background:linear-gradient(#00ff5c 6px,#00ff30 0 16px,#00ff04 0 27px,#7f0 0 37px,#56ff00 0 47px,#beff00 0 57px,#ffa700 0 67px,#ff4700 0)"></i><i style="background:linear-gradient(#00ff54 6px,#00ff2e 0 16px,#00ff05 0 27px,#7bff00 0 37px,#80ff00 0 47px,#a9ff00 0 57px,#ffa100 0 67px,#ff5600 0)"></i><i style="background:linear-gradient(#00ff5d 6px,#00ff27 0 16px,#00ff06 0 27px,#9aff00 0 37px,#8aff00 0 47px,#98ff00 0 57px,#ffa700 0 67px,#ff2a00 0)"></i><i style="background:linear-gradient(#00ff5a 6px,#00ff34 0 16px,#0bff00 0 27px,#74ff00 0 37px,#5cff00 0 47px,#acff00 0 57px,#ff9b00 0 67px,#ff5f00 0)"></i><i style="background:linear-gradient(#00ff5a 6px,#00ff28 0 16px,#00ff04 0 27px,#80ff00 0 37px,#96ff00 0 47px,#7bff00 0 57px,#ffa700 0 67px,#f50 0)"></i><i style="background:linear-gradient(#00ff5f 6px,#00ff30 0 16px,#00ff07 0 27px,#a8ff00 0 37px,#6cff00 0 47px,#85ff00 0 57px,#ffa200 0 67px,#ff5000 0)"></i><i style="background:linear-gradient(#00ff59 6px,#00ff2f 0 16px,#00ff0c 0 27px,#e8ff00 0 37px,#6dff00 0 47px,#baff00 0 57px,#ff9d00 0 67px,#ff5b00 0)"></i><i style="background:linear-gradient(#00ff53 6px,#00ff2b 0 16px,#00ff01 0 27px,#91ff00 0 37px,#87ff00 0 47px,#a0ff00 0 57px,#ffa100 0 67px,#ff5400 0)"></i><i style="background:linear-gradient(#00ff5f 6px,#00ff26 0 16px,#0fff00 0 27px,#8fff00 0 37px,#73ff00 0 47px,#98ff00 0 57px,#ffa700 0 67px,#f40 0)"></i><i style="background:linear-gradient(#00ff57 6px,#00ff2c 0 16px,#00ff01 0 27px,#6bff00 0 37px,#89ff00 0 47px,#89ff00 0 57px,#ffac00 0 67px,#ff6000 0)"></i><i style="background:linear-gradient(#00ff5b 6px,#00ff2b 0 16px,#0dff00 0 27px,#7f0 0 37px,#6eff00 0 47px,#7cff00 0 57px,#ffb000 0 67px,#ff6a00 0)"></i><i style="background:linear-gradient(#00ff54 6px,#00ff29 0 16px,#03ff00 0 27px,#72ff00 0 37px,#76ff00 0 47px,#9fff00 0 57px,#ffb100 0 67px,#ff5c00 0)"></i><i style="background:linear-gradient(#00ff59 6px,#00ff2a 0 16px,#02ff00 0 27px,#8cff00 0 37px,#6eff00 0 47px,#9f0 0 57px,#ff9e00 0 67px,#ff5f00 0)"></i><i style="background:linear-gradient(#00ff58 6px,#00ff39 0 16px,#03ff00 0 27px,#82ff00 0 37px,#73ff00 0 47px,#c3ff00 0 57px,#ffa900 0 67px,#ff5b00 0)"></i><i style="background:linear-gradient(#00ff58 6px,#00ff2b 0 16px,#01ff00 0 27px,#7f0 0 37px,#7aff00 0 47px,#83ff00 0 57px,#ffa800 0 67px,#ff5d00 0)"></i><i style="background:linear-gradient(#00ff5a 6px,#00ff28 0 16px,#0fff00 0 27px,#7aff00 0 37px,#78ff00 0 47px,#98ff00 0 57px,#ffa300 0 67px,#ff5600 0)"></i><i style="background:linear-gradient(#00ff60 6px,#0f2 0 16px,#07ff00 0 27px,#7eff00 0 37px,#67ff00 0 47px,#8fff00 0 57px,#ffa100 0 67px,#ff3d00 0)"></i><i style="background:linear-gradient(#0f5 6px,#00ff1c 0 16px,#00ff05 0 27px,#b4ff00 0 37px,#82ff00 0 47px,#82ff00 0 57px,#ff9b00 0 67px,#f50 0)"></i><i style="background:linear-gradient(#00ff60 6px,#00ff24 0 16px,#02ff00 0 27px,#df0 0 37px,#6cff00 0 47px,#c5ff00 0 57px,#ffa000 0 67px,#ff3e00 0)"></i><i style="background:linear-gradient(#00ff5a 6px,#00ff28 0 16px,#00ff01 0 27px,#c0ff00 0 37px,#bf0 0 47px,#baff00 0 57px,#ffa600 0 67px,#ff5700 0)"></i><i style="background:linear-gradient(#00ff58 6px,#00ff2e 0 16px,#07ff00 0 27px,#9aff00 0 37px,#7bff00 0 47px,#d0ff00 0 57px,#ffae00 0 67px,#ff5c00 0)"></i><i style="background:linear-gradient(#00ff5e 6px,#00ff28 0 16px,#03ff00 0 27px,#84ff00 0 37px,#6cff00 0 47px,#75ff00 0 57px,#ffa000 0 67px,#ff6b00 0)"></i><i style="background:linear-gradient(#00ff5a 6px,#00ff24 0 16px,#06ff00 0 27px,#59ff00 0 37px,#5dff00 0 47px,#a0ff00 0 57px,#ffa500 0 67px,#ff5400 0)"></i><i style="background:linear-gradient(#00ff56 6px,#00ff21 0 16px,#00ff0c 0 27px,#9dff00 0 37px,#6eff00 0 47px,#a4ff00 0 57px,#ffa400 0 67px,#ff5000 0)"></i><i style="background:linear-gradient(#00ff5b 6px,#00ff2e 0 16px,#06ff00 0 27px,#a5ff00 0 37px,#8cff00 0 47px,#89ff00 0 57px,#ffab00 0 67px,#ff3900 0)"></i><i style="background:linear-gradient(#00ff5e 6px,#00ff27 0 16px,#13ff00 0 27px,#6eff00 0 37px,#72ff00 0 47px,#70ff00 0 57px,#ffa100 0 67px,#ff6900 0)"></i><i style="background:linear-gradient(#0f6 6px,#00ff23 0 16px,#00ff0b 0 27px,#6dff00 0 37px,#83ff00 0 47px,#c5ff00 0 57px,#ff9d00 0 67px,#ff5e00 0)"></i><i style="background:linear-gradient(#00ff5f 6px,#00ff1d 0 16px,#17ff00 0 27px,#49ff00 0 37px,#6cff00 0 47px,#76ff00 0 57px,#ffa500 0 67px,#ff5a00 0)"></i><i style="background:linear-gradient(#00ff5d 6px,#00ff27 0 16px,#04ff00 0 27px,#87ff00 0 37px,#67ff00 0 47px,#b3ff00 0 57px,#ff9e00 0 67px,#ff5900 0)"></i><i style="background:linear-gradient(#00ff5d 6px,#00ff2c 0 16px,#00ff02 0 27px,#60ff00 0 37px,#5eff00 0 47px,#87ff00 0 57px,#ffa300 0 67px,#ff5700 0)"></i><i style="background:linear-gradient(#00ff5f 6px,#00ff2c 0 16px,#00ff0f 0 27px,#9eff00 0 37px,#43ff00 0 47px,#8eff00 0 57px,#ffa600 0 67px,#ff5f00 0)"></i><i style="background:linear-gradient(#00ff59 6px,#00ff2a 0 16px,#10ff00 0 27px,#79ff00 0 37px,#74ff00 0 47px,#b1ff00 0 57px,#ff9a00 0 67px,#ff5700 0)"></i><i style="background:linear-gradient(#00ff5d 6px,#00ff2c 0 16px,#00ff08 0 27px,#78ff00 0 37px,#6eff00 0 47px,#7bff00 0 57px,#ffa600 0 67px,#ff6100 0)"></i><i style="background:linear-gradient(#00ff5b 6px,#00ff23 0 16px,#00ff04 0 27px,#85ff00 0 37px,#6cff00 0 47px,#90ff00 0 57px,#ffa100 0 67px,#ff6100 0)"></i><i style="background:linear-gradient(#00ff58 6px,#0f2 0 16px,#08ff00 0 27px,#6eff00 0 37px,#7eff00 0 47px,#96ff00 0 57px,#ffb000 0 67px,#ff5400 0)"></i><i style="background:linear-gradient(#00ff5e 6px,#00ff24 0 16px,#00ff08 0 27px,#65ff00 0 37px,#58ff00 0 47px,#b5ff00 0 57px,#ff9c00 0 67px,#ff4900 0)"></i><i style="background:linear-gradient(#00ff5c 6px,#00ff21 0 16px,#00ff08 0 27px,#7cff00 0 37px,#92ff00 0 47px,#b1ff00 0 57px,#ffa700 0 67px,#ff5e00 0)"></i><i style="background:linear-gradient(#00ff52 6px,#00ff2b 0 16px,#00ff09 0 27px,#6bff00 0 37px,#b3ff00 0 47px,#9bff00 0 57px,#ffa500 0 67px,#ff6a00 0)"></i><i style="background:linear-gradient(#00ff57 6px,#00ff26 0 16px,#00ff01 0 27px,#6fff00 0 37px,#73ff00 0 47px,#79ff00 0 57px,#ffa700 0 67px,#ff5c00 0)"></i><i style="background:linear-gradient(#00ff60 6px,#00ff2b 0 16px,#09ff00 0 27px,#76ff00 0 37px,#53ff00 0 47px,#b6ff00 0 57px,#ffa100 0 67px,#ff5600 0)"></i><i style="background:linear-gradient(#00ff5b 6px,#00ff28 0 16px,#06ff00 0 27px,#6aff00 0 37px,#67ff00 0 47px,#8eff00 0 57px,#ffa800 0 67px,#ff5700 0)"></i><i style="background:linear-gradient(#00ff58 6px,#00ff21 0 16px,#06ff00 0 27px,#71ff00 0 37px,#87ff00 0 47px,#c1ff00 0 57px,#ffac00 0 67px,#ff4900 0)"></i><i style="background:linear-gradient(#00ff56 6px,#00ff28 0 16px,#00ff03 0 27px,#8f0 0 37px,#4dff00 0 47px,#6aff00 0 57px,#ffa200 0 67px,#ff6200 0)"></i><i style="background:linear-gradient(#00ff5a 6px,#00ff34 0 16px,#02ff00 0 27px,#6eff00 0 37px,#71ff00 0 47px,#94ff00 0 57px,#ffa100 0 67px,#ff5900 0)"></i><i style="background:linear-gradient(#00ff5d 6px,#00ff2a 0 16px,#00ff06 0 27px,#7aff00 0 37px,#70ff00 0 47px,#a5ff00 0 57px,#ffa800 0 67px,#ff5d00 0)"></i><i style="background:linear-gradient(#00ff5e 6px,#00ff2d 0 16px,#1dff00 0 27px,#6f0 0 37px,#cbff00 0 47px,#8fff00 0 57px,#ff9e00 0 67px,#f40 0)"></i><i style="background:linear-gradient(#00ff58 6px,#00ff31 0 16px,#03ff00 0 27px,#8aff00 0 37px,#73ff00 0 47px,#a7ff00 0 57px,#ff9a00 0 67px,#ff5300 0)"></i><i style="background:linear-gradient(#00ff59 6px,#00ff2d 0 16px,#00ff10 0 27px,#5aff00 0 37px,#7fff00 0 47px,#b9ff00 0 57px,#fa0 0 67px,#ff5900 0)"></i><i style="background:linear-gradient(#00ff5d 6px,#00ff23 0 16px,#00ff09 0 27px,#8bff00 0 37px,#78ff00 0 47px,#c0ff00 0 57px,#ffa000 0 67px,#ff5f00 0)"></i><i style="background:linear-gradient(#00ff5b 6px,#00ff1e 0 16px,#17ff00 0 27px,#34ff00 0 37px,#75ff00 0 47px,#8aff00 0 57px,#ffa000 0 67px,#ff4d00 0)"></i><i style="background:linear-gradient(#00ff5c 6px,#00ff2b 0 16px,#00ff0b 0 27px,#62ff00 0 37px,#81ff00 0 47px,#72ff00 0 57px,#ffb000 0 67px,#ff6500 0)"></i><i style="background:linear-gradient(#00ff58 6px,#0f2 0 16px,#00ff04 0 27px,#54ff00 0 37px,#7cff00 0 47px,#5bff00 0 57px,#ffae00 0 67px,#ff4a00 0)"></i><i style="background:linear-gradient(#00ff5d 6px,#00ff21 0 16px,#06ff00 0 27px,#8dff00 0 37px,#6aff00 0 47px,#90ff00 0 57px,#ffb600 0 67px,#ff4b00 0)"></i><i style="background:linear-gradient(#00ff59 6px,#00ff2f 0 16px,#00ff09 0 27px,#7cff00 0 37px,#52ff00 0 47px,#6fff00 0 57px,#ff9800 0 67px,#ff5000 0)"></i><i style="background:linear-gradient(#00ff57 6px,#00ff29 0 16px,#10ff00 0 27px,#5aff00 0 37px,#7fff00 0 47px,#a4ff00 0 57px,#ffa700 0 67px,#ff5400 0)"></i><i style="background:linear-gradient(#00ff59 6px,#00ff29 0 16px,#18ff00 0 27px,#6aff00 0 37px,#6f0 0 47px,#75ff00 0 57px,#ffa700 0 67px,#ff5600 0)"></i><i style="background:linear-gradient(#00ff5e 6px,#00ff27 0 16px,#00ff07 0 27px,#94ff00 0 37px,#91ff00 0 47px,#b3ff00 0 57px,#ff9e00 0 67px,#ff4d00 0)"></i><i style="background:linear-gradient(#0f5 6px,#00ff32 0 16px,#10ff00 0 27px,#75ff00 0 37px,#61ff00 0 47px,#9f0 0 57px,#ff9600 0 67px,#ff5800 0)"></i><i style="background:linear-gradient(#00ff5d 6px,#00ff2a 0 16px,#00ff07 0 27px,#82ff00 0 37px,#53ff00 0 47px,#70ff00 0 57px,#ff9f00 0 67px,#ff4b00 0)"></i><i style="background:linear-gradient(#00ff59 6px,#0f2 0 16px,#00ff08 0 27px,#5f0 0 37px,#86ff00 0 47px,#9fff00 0 57px,#ff9600 0 67px,#f60 0)"></i><i style="background:linear-gradient(#00ff5e 6px,#00ff21 0 16px,#04ff00 0 27px,#5f0 0 37px,#bdff00 0 47px,#a6ff00 0 57px,#ff9800 0 67px,#ff4800 0)"></i><i style="background:linear-gradient(#00ff62 6px,#00ff1d 0 16px,#03ff00 0 27px,#83ff00 0 37px,#4cff00 0 47px,#a6ff00 0 57px,#ff8400 0 67px,#ff5700 0)"></i><i style="background:linear-gradient(#00ff5a 6px,#00ff2a 0 16px,#00ff05 0 27px,#a8ff00 0 37px,#87ff00 0 47px,#97ff00 0 57px,#ffab00 0 67px,#ff4900 0)"></i><i style="background:linear-gradient(#00ff5a 6px,#00ff1d 0 16px,#0cff00 0 27px,#6aff00 0 37px,#4dff00 0 47px,#a7ff00 0 57px,#ffa700 0 67px,#ff5200 0)"></i><i style="background:linear-gradient(#00ff5b 6px,#00ff24 0 16px,#00ff0c 0 27px,#83ff00 0 37px,#8aff00 0 47px,#a5ff00 0 57px,#ffa900 0 67px,#ff5c00 0)"></i><i style="background:linear-gradient(#00ff5a 6px,#00ff31 0 16px,#00ff07 0 27px,#61ff00 0 37px,#58ff00 0 47px,#8fff00 0 57px,#ff9e00 0 67px,#ff5700 0)"></i><i style="background:linear-gradient(#00ff5d 6px,#00ff24 0 16px,#00ff09 0 27px,#91ff00 0 37px,#76ff00 0 47px,#9aff00 0 57px,#fa0 0 67px,#ff5d00 0)"></i><i style="background:linear-gradient(#00ff5e 6px,#00ff2a 0 16px,#0bff00 0 27px,#6cff00 0 37px,#72ff00 0 47px,#7f0 0 57px,#ff9d00 0 67px,#ff4d00 0)"></i><i style="background:linear-gradient(#00ff5b 6px,#00ff25 0 16px,#0cff00 0 27px,#6cff00 0 37px,#45ff00 0 47px,#abff00 0 57px,#ffb300 0 67px,#ff6500 0)"></i><i style="background:linear-gradient(#00ff53 6px,#00ff29 0 16px,#0aff00 0 27px,#4cff00 0 37px,#6dff00 0 47px,#7f0 0 57px,#ff9b00 0 67px,#ff6500 0)"></i><i style="background:linear-gradient(#00ff57 6px,#00ff21 0 16px,#00ff0a 0 27px,#6dff00 0 37px,#64ff00 0 47px,#b9ff00 0 57px,#ff9f00 0 67px,#ff4c00 0)"></i><i style="background:linear-gradient(#00ff5d 6px,#00ff27 0 16px,#02ff00 0 27px,#7aff00 0 37px,#70ff00 0 47px,#7aff00 0 57px,#ff9700 0 67px,#ff5200 0)"></i><i style="background:linear-gradient(#00ff58 6px,#00ff2a 0 16px,#07ff00 0 27px,#94ff00 0 37px,#79ff00 0 47px,#afff00 0 57px,#ff9e00 0 67px,#ff6000 0)"></i><i style="background:linear-gradient(#00ff5d 6px,#0f2 0 16px,#00ff0d 0 27px,#5cff00 0 37px,#8fff00 0 47px,#9bff00 0 57px,#ffa200 0 67px,#ff5000 0)"></i><i style="background:linear-gradient(#00ff5d 6px,#00ff27 0 16px,#00ff07 0 27px,#8bff00 0 37px,#68ff00 0 47px,#7dff00 0 57px,#ffa000 0 67px,#ff6400 0)"></i><i style="background:linear-gradient(#00ff57 6px,#00ff2b 0 16px,#09ff00 0 27px,#6eff00 0 37px,#6bff00 0 47px,#9eff00 0 57px,#ffb400 0 67px,#f50 0)"></i><i style="background:linear-gradient(#00ff5d 6px,#00ff21 0 16px,#0aff00 0 27px,#6fff00 0 37px,#9cff00 0 47px,#92ff00 0 57px,#ffa500 0 67px,#ff6400 0)"></i><i style="background:linear-gradient(#00ff61 6px,#00ff2b 0 16px,#04ff00 0 27px,#61ff00 0 37px,#7dff00 0 47px,#a7ff00 0 57px,#ffa200 0 67px,#ff4e00 0)"></i><i style="background:linear-gradient(#00ff5e 6px,#00ff2c 0 16px,#08ff00 0 27px,#50ff00 0 37px,#7eff00 0 47px,#98ff00 0 57px,#ff9400 0 67px,#ff5700 0)"></i><i style="background:linear-gradient(#00ff5a 6px,#00ff2c 0 16px,#05ff00 0 27px,#5bff00 0 37px,#4cff00 0 47px,#96ff00 0 57px,#ffa200 0 67px,#ff5300 0)"></i><i style="background:linear-gradient(#00ff5a 6px,#00ff31 0 16px,#02ff00 0 27px,#9f0 0 37px,#4eff00 0 47px,#eaff00 0 57px,#ffb100 0 67px,#ff6d00 0)"></i><i style="background:linear-gradient(#00ff56 6px,#00ff2c 0 16px,#00ff01 0 27px,#5bff00 0 37px,#61ff00 0 47px,#6dff00 0 57px,#ff9100 0 67px,#ff6200 0)"></i><i style="background:linear-gradient(#00ff5e 6px,#00ff1d 0 16px,#00ff07 0 27px,#6cff00 0 37px,#9eff00 0 47px,#a2ff00 0 57px,#ffab00 0 67px,#f60 0)"></i><i style="background:linear-gradient(#00ff58 6px,#00ff2e 0 16px,#00ff02 0 27px,#8eff00 0 37px,#78ff00 0 47px,#a9ff00 0 57px,#ffa300 0 67px,#ff5b00 0)"></i><i style="background:linear-gradient(#00ff59 6px,#00ff28 0 16px,#00ff03 0 27px,#47ff00 0 37px,#a9ff00 0 47px,#7eff00 0 57px,#ffac00 0 67px,#ff5600 0)"></i><i style="background:linear-gradient(#00ff5b 6px,#00ff2f 0 16px,#2f0 0 27px,#7fff00 0 37px,#52ff00 0 47px,#a3ff00 0 57px,#ffc100 0 67px,#ff6900 0)"></i><i style="background:linear-gradient(#00ff57 6px,#00ff2c 0 16px,#04ff00 0 27px,#6aff00 0 37px,#64ff00 0 47px,#b4ff00 0 57px,#ff9d00 0 67px,#ff5c00 0)"></i><i style="background:linear-gradient(#00ff59 6px,#00ff1f 0 16px,#0f0 0 27px,#79ff00 0 37px,#7bff00 0 47px,#aeff00 0 57px,#ffa800 0 67px,#ff5800 0)"></i><i style="background:linear-gradient(#00ff5e 6px,#00ff23 0 16px,#00ff02 0 27px,#8f0 0 37px,#73ff00 0 47px,#b7ff00 0 57px,#ff9d00 0 67px,#ff5200 0)"></i><i style="background:linear-gradient(#00ff56 6px,#00ff2c 0 16px,#00ff01 0 27px,#af0 0 37px,#85ff00 0 47px,#aeff00 0 57px,#ffa900 0 67px,#ff5800 0)"></i><i style="background:linear-gradient(#00ff60 6px,#00ff28 0 16px,#00ff02 0 27px,#71ff00 0 37px,#67ff00 0 47px,#8dff00 0 57px,#ff9e00 0 67px,#ff5400 0)"></i><i style="background:linear-gradient(#00ff5a 6px,#00ff2d 0 16px,#08ff00 0 27px,#85ff00 0 37px,#59ff00 0 47px,#ceff00 0 57px,#ff9600 0 67px,#ff4900 0)"></i><i style="background:linear-gradient(#00ff5b 6px,#00ff2d 0 16px,#0f0 0 27px,#8bff00 0 37px,#9bff00 0 47px,#9aff00 0 57px,#ff9e00 0 67px,#ff6800 0)"></i><i style="background:linear-gradient(#00ff59 6px,#00ff2e 0 16px,#0cff00 0 27px,#65ff00 0 37px,#7f0 0 47px,#8aff00 0 57px,#ffa500 0 67px,#ff4a00 0)"></i><i style="background:linear-gradient(#00ff5e 6px,#00ff2e 0 16px,#00ff06 0 27px,#71ff00 0 37px,#53ff00 0 47px,#bdff00 0 57px,#ffa800 0 67px,#ff6500 0)"></i><i style="background:linear-gradient(#00ff5b 6px,#00ff26 0 16px,#05ff00 0 27px,#89ff00 0 37px,#65ff00 0 47px,#87ff00 0 57px,#ffa300 0 67px,#ff5700 0)"></i><i style="background:linear-gradient(#00ff5b 6px,#00ff25 0 16px,#0dff00 0 27px,#91ff00 0 37px,#6cff00 0 47px,#afff00 0 57px,#ffaf00 0 67px,#ff5f00 0)"></i><i style="background:linear-gradient(#00ff57 6px,#00ff25 0 16px,#00ff09 0 27px,#5bff00 0 37px,#4cff00 0 47px,#85ff00 0 57px,#ffa300 0 67px,#ff5400 0)"></i><i style="background:linear-gradient(#00ff5e 6px,#00ff29 0 16px,#02ff00 0 27px,#79ff00 0 37px,#7eff00 0 47px,#b7ff00 0 57px,#ff9e00 0 67px,#ff5900 0)"></i><i style="background:linear-gradient(#00ff5a 6px,#00ff31 0 16px,#04ff00 0 27px,#9bff00 0 37px,#70ff00 0 47px,#baff00 0 57px,#ffb000 0 67px,#ff4900 0)"></i><i style="background:linear-gradient(#00ff5c 6px,#00ff29 0 16px,#00ff03 0 27px,#c8ff00 0 37px,#65ff00 0 47px,#8eff00 0 57px,#ffae00 0 67px,#ff6700 0)"></i><i style="background:linear-gradient(#00ff60 6px,#00ff2e 0 16px,#00ff04 0 27px,#6fff00 0 37px,#5eff00 0 47px,#a8ff00 0 57px,#ff9400 0 67px,#ff4b00 0)"></i><i style="background:linear-gradient(#00ff50 6px,#00ff23 0 16px,#00ff0f 0 27px,#65ff00 0 37px,#91ff00 0 47px,#acff00 0 57px,#ffa400 0 67px,#ff5100 0)"></i><i style="background:linear-gradient(#00ff5b 6px,#00ff25 0 16px,#1f0 0 27px,#68ff00 0 37px,#6bff00 0 47px,#98ff00 0 57px,#ff9400 0 67px,#ff4900 0)"></i><i style="background:linear-gradient(#00ff61 6px,#00ff24 0 16px,#00ff08 0 27px,#89ff00 0 37px,#5cff00 0 47px,#a7ff00 0 57px,#ff9f00 0 67px,#ff5c00 0)"></i><i style="background:linear-gradient(#0f5 6px,#00ff2a 0 16px,#00ff0a 0 27px,#7dff00 0 37px,#40ff00 0 47px,#98ff00 0 57px,#ff9d00 0 67px,#ff4700 0)"></i><i style="background:linear-gradient(#00ff5f 6px,#0f3 0 16px,#0aff00 0 27px,#75ff00 0 37px,#5f0 0 47px,#8aff00 0 57px,#ffa200 0 67px,#ff5300 0)"></i><i style="background:linear-gradient(#00ff59 6px,#00ff23 0 16px,#00ff0f 0 27px,#aeff00 0 37px,#7cff00 0 47px,#81ff00 0 57px,#ff9500 0 67px,#ff4f00 0)"></i><i style="background:linear-gradient(#00ff57 6px,#00ff21 0 16px,#0eff00 0 27px,#63ff00 0 37px,#8dff00 0 47px,#a2ff00 0 57px,#ff9800 0 67px,#f50 0)"></i><i style="background:linear-gradient(#00ff5d 6px,#00ff31 0 16px,#06ff00 0 27px,#6bff00 0 37px,#53ff00 0 47px,#a8ff00 0 57px,#ffa400 0 67px,#ff4f00 0)"></i><i style="background:linear-gradient(#00ff5c 6px,#00ff27 0 16px,#09ff00 0 27px,#6dff00 0 37px,#40ff00 0 47px,#afff00 0 57px,#ffb400 0 67px,#ff4700 0)"></i><i style="background:linear-gradient(#00ff5d 6px,#00ff21 0 16px,#00ff01 0 27px,#7aff00 0 37px,#6dff00 0 47px,#a7ff00 0 57px,#ffae00 0 67px,#ff5900 0)"></i><i style="background:linear-gradient(#00ff5b 6px,#00ff2f 0 16px,#00ff0a 0 27px,#7cff00 0 37px,#6bff00 0 47px,#acff00 0 57px,#ffa400 0 67px,#ff6a00 0)"></i><i style="background:linear-gradient(#00ff61 6px,#00ff1e 0 16px,#00ff0f 0 27px,#70ff00 0 37px,#7fff00 0 47px,#92ff00 0 57px,#ffac00 0 67px,#f50 0)"></i><i style="background:linear-gradient(#00ff60 6px,#00ff2a 0 16px,#15ff00 0 27px,#86ff00 0 37px,#5dff00 0 47px,#c7ff00 0 57px,#ff9f00 0 67px,#ff4e00 0)"></i><i style="background:linear-gradient(#00ff5b 6px,#00ff2f 0 16px,#00ff04 0 27px,#a6ff00 0 37px,#6fff00 0 47px,#87ff00 0 57px,#ffa000 0 67px,#ff5d00 0)"></i><i style="background:linear-gradient(#00ff57 6px,#00ff20 0 16px,#00ff04 0 27px,#6fff00 0 37px,#4f0 0 47px,#afff00 0 57px,#ff9f00 0 67px,#ff5b00 0)"></i><i style="background:linear-gradient(#00ff58 6px,#00ff27 0 16px,#17ff00 0 27px,#40ff00 0 37px,#51ff00 0 47px,#98ff00 0 57px,#ff9f00 0 67px,#ff6700 0)"></i><i style="background:linear-gradient(#00ff54 6px,#00ff2c 0 16px,#00ff05 0 27px,#87ff00 0 37px,#60ff00 0 47px,#95ff00 0 57px,#ffa200 0 67px,#ff5100 0)"></i><i style="background:linear-gradient(#00ff58 6px,#00ff23 0 16px,#00ff02 0 27px,#61ff00 0 37px,#63ff00 0 47px,#cfff00 0 57px,#ffa000 0 67px,#ff6200 0)"></i><i style="background:linear-gradient(#00ff5d 6px,#00ff34 0 16px,#00ff02 0 27px,#67ff00 0 37px,#e3ff00 0 47px,#a9ff00 0 57px,#ffa200 0 67px,#ff4d00 0)"></i><i style="background:linear-gradient(#00ff5b 6px,#00ff1d 0 16px,#00ff01 0 27px,#72ff00 0 37px,#87ff00 0 47px,#80ff00 0 57px,#ffad00 0 67px,#ff4b00 0)"></i><i style="background:linear-gradient(#00ff63 6px,#00ff2d 0 16px,#00ff08 0 27px,#5aff00 0 37px,#72ff00 0 47px,#a6ff00 0 57px,#ffa400 0 67px,#ff4200 0)"></i><i style="background:linear-gradient(#00ff5f 6px,#00ff27 0 16px,#00ff05 0 27px,#63ff00 0 37px,#91ff00 0 47px,#91ff00 0 57px,#ffa400 0 67px,#ff4900 0)"></i><i style="background:linear-gradient(#00ff5f 6px,#00ff2b 0 16px,#13ff00 0 27px,#76ff00 0 37px,#5cff00 0 47px,#cf0 0 57px,#ff9c00 0 67px,#ff4a00 0)"></i><i style="background:linear-gradient(#00ff5a 6px,#00ff26 0 16px,#0bff00 0 27px,#6dff00 0 37px,#63ff00 0 47px,#8f0 0 57px,#ffa700 0 67px,#f50 0)"></i><i style="background:linear-gradient(#00ff58 6px,#00ff23 0 16px,#00ff18 0 27px,#7cff00 0 37px,#85ff00 0 47px,#9eff00 0 57px,#ffab00 0 67px,#ff4100 0)"></i><i style="background:linear-gradient(#00ff5d 6px,#00ff2d 0 16px,#00ff10 0 27px,#62ff00 0 37px,#38ff00 0 47px,#90ff00 0 57px,#ff9400 0 67px,#ff6b00 0)"></i><i style="background:linear-gradient(#00ff5d 6px,#00ff24 0 16px,#05ff00 0 27px,#6fff00 0 37px,#4dff00 0 47px,#8eff00 0 57px,#ff9d00 0 67px,#ff6300 0)"></i><i style="background:linear-gradient(#00ff61 6px,#00ff2a 0 16px,#00ff01 0 27px,#5dff00 0 37px,#5aff00 0 47px,#afff00 0 57px,#ff9a00 0 67px,#ff4300 0)"></i><i style="background:linear-gradient(#00ff5b 6px,#00ff2c 0 16px,#00ff03 0 27px,#6eff00 0 37px,#6eff00 0 47px,#b9ff00 0 57px,#ff9600 0 67px,#ff5e00 0)"></i><i style="background:linear-gradient(#00ff5a 6px,#00ff2a 0 16px,#0fff00 0 27px,#7bff00 0 37px,#84ff00 0 47px,#bcff00 0 57px,#ffa600 0 67px,#ff6200 0)"></i><i style="background:linear-gradient(#00ff59 6px,#00ff2e 0 16px,#00ff0e 0 27px,#6fff00 0 37px,#84ff00 0 47px,#9aff00 0 57px,#ff9b00 0 67px,#ff5d00 0)"></i><i style="background:linear-gradient(#00ff5e 6px,#00ff2d 0 16px,#1f0 0 27px,#5f0 0 37px,#58ff00 0 47px,#8eff00 0 57px,#ffa200 0 67px,#ff4d00 0)"></i><i style="background:linear-gradient(#00ff53 6px,#00ff23 0 16px,#02ff00 0 27px,#70ff00 0 37px,#7dff00 0 47px,#af0 0 57px,#ffad00 0 67px,#ff4a00 0)"></i><i style="background:linear-gradient(#00ff56 6px,#00ff29 0 16px,#08ff00 0 27px,#78ff00 0 37px,#63ff00 0 47px,#93ff00 0 57px,#ffa100 0 67px,#ff4f00 0)"></i><i style="background:linear-gradient(#00ff5b 6px,#00ff21 0 16px,#04ff00 0 27px,#8dff00 0 37px,#8dff00 0 47px,#c4ff00 0 57px,#ffa200 0 67px,#ff5b00 0)"></i><i style="background:linear-gradient(#00ff5d 6px,#00ff26 0 16px,#0cff00 0 27px,#74ff00 0 37px,#b8ff00 0 47px,#7aff00 0 57px,#ff9f00 0 67px,#ff5800 0)"></i><i style="background:linear-gradient(#00ff5c 6px,#00ff2f 0 16px,#00ff02 0 27px,#6cff00 0 37px,#84ff00 0 47px,#a8ff00 0 57px,#ffa600 0 67px,#ff4f00 0)"></i><i style="background:linear-gradient(#00ff5a 6px,#00ff34 0 16px,#00ff04 0 27px,#5bff00 0 37px,#56ff00 0 47px,#7eff00 0 57px,#ffa600 0 67px,#ff5900 0)"></i><i style="background:linear-gradient(#00ff5b 6px,#00ff2c 0 16px,#0bff00 0 27px,#a0ff00 0 37px,#7eff00 0 47px,#84ff00 0 57px,#ffad00 0 67px,#ff5000 0)"></i><i style="background:linear-gradient(#00ff59 6px,#00ff27 0 16px,#03ff00 0 27px,#a8ff00 0 37px,#4fff00 0 47px,#75ff00 0 57px,#ff9d00 0 67px,#ff6400 0)"></i><i style="background:linear-gradient(#00ff58 6px,#00ff28 0 16px,#00ff0a 0 27px,#5cff00 0 37px,#6fff00 0 47px,#7cff00 0 57px,#ffb500 0 67px,#ff4a00 0)"></i><i style="background:linear-gradient(#0f5 6px,#00ff2d 0 16px,#14ff00 0 27px,#71ff00 0 37px,#49ff00 0 47px,#a9ff00 0 57px,#ffa400 0 67px,#ff5400 0)"></i><i style="background:linear-gradient(#00ff56 6px,#0f2 0 16px,#12ff00 0 27px,#4dff00 0 37px,#6aff00 0 47px,#8aff00 0 57px,#ffa800 0 67px,#ff5600 0)"></i><i style="background:linear-gradient(#00ff5b 6px,#0f3 0 16px,#15ff00 0 27px,#8cff00 0 37px,#5bff00 0 47px,#81ff00 0 57px,#ffa800 0 67px,#ff5c00 0)"></i><i style="background:linear-gradient(#00ff59 6px,#00ff30 0 16px,#01ff00 0 27px,#79ff00 0 37px,#57ff00 0 47px,#dbff00 0 57px,#ffa200 0 67px,#ff6e00 0)"></i><i style="background:linear-gradient(#00ff5c 6px,#00ff28 0 16px,#05ff00 0 27px,#abff00 0 37px,#89ff00 0 47px,#84ff00 0 57px,#ffa700 0 67px,#ff4800 0)"></i><i style="background:linear-gradient(#00ff5d 6px,#00ff1b 0 16px,#00ff03 0 27px,#5fff00 0 37px,#7eff00 0 47px,#90ff00 0 57px,#ffb300 0 67px,#ff5c00 0)"></i><i style="background:linear-gradient(#00ff53 6px,#00ff26 0 16px,#00ff08 0 27px,#6aff00 0 37px,#6fff00 0 47px,#b1ff00 0 57px,#ffb500 0 67px,#ff5600 0)"></i><i style="background:linear-gradient(#00ff5d 6px,#00ff2e 0 16px,#01ff00 0 27px,#87ff00 0 37px,#74ff00 0 47px,#9bff00 0 57px,#ffb400 0 67px,#ff5600 0)"></i><i style="background:linear-gradient(#00ff53 6px,#00ff25 0 16px,#03ff00 0 27px,#98ff00 0 37px,#7dff00 0 47px,#9aff00 0 57px,#ffab00 0 67px,#ff4c00 0)"></i><i style="background:linear-gradient(#00ff5c 6px,#00ff24 0 16px,#00ff05 0 27px,#b3ff00 0 37px,#87ff00 0 47px,#98ff00 0 57px,#ffa700 0 67px,#ff5800 0)"></i><i style="background:linear-gradient(#00ff5a 6px,#00ff23 0 16px,#1bff00 0 27px,#8dff00 0 37px,#83ff00 0 47px,#acff00 0 57px,#ffa700 0 67px,#ff4200 0)"></i><i style="background:linear-gradient(#00ff56 6px,#00ff2b 0 16px,#00ff0d 0 27px,#4bff00 0 37px,#76ff00 0 47px,#83ff00 0 57px,#ffa400 0 67px,#ff4e00 0)"></i><i style="background:linear-gradient(#00ff5b 6px,#00ff2d 0 16px,#00ff07 0 27px,#7f0 0 37px,#9f0 0 47px,#a3ff00 0 57px,#ffa200 0 67px,#ff5a00 0)"></i><i style="background:linear-gradient(#00ff59 6px,#00ff28 0 16px,#00ff05 0 27px,#6dff00 0 37px,#62ff00 0 47px,#7fff00 0 57px,#ffa800 0 67px,#ff5c00 0)"></i><i style="background:linear-gradient(#00ff5c 6px,#00ff26 0 16px,#13ff00 0 27px,#e4ff00 0 37px,#7eff00 0 47px,#80ff00 0 57px,#ffb000 0 67px,#ff3b00 0)"></i><i style="background:linear-gradient(#00ff5d 6px,#00ff1f 0 16px,#00ff02 0 27px,#73ff00 0 37px,#54ff00 0 47px,#af0 0 57px,#ffa800 0 67px,#ff5f00 0)"></i><i style="background:linear-gradient(#00ff5b 6px,#00ff1c 0 16px,#00ff03 0 27px,#80ff00 0 37px,#a1ff00 0 47px,#9cff00 0 57px,#ffa900 0 67px,#ff5b00 0)"></i><i style="background:linear-gradient(#00ff5d 6px,#00ff2d 0 16px,#00ff07 0 27px,#6eff00 0 37px,#67ff00 0 47px,#96ff00 0 57px,#ff9500 0 67px,#ff6200 0)"></i><i style="background:linear-gradient(#00ff54 6px,#00ff2b 0 16px,#00ff06 0 27px,#82ff00 0 37px,#70ff00 0 47px,#82ff00 0 57px,#ff9b00 0 67px,#ff5400 0)"></i><i style="background:linear-gradient(#00ff5b 6px,#00ff29 0 16px,#00ff0b 0 27px,#95ff00 0 37px,#8bff00 0 47px,#a6ff00 0 57px,#ffab00 0 67px,#ff5700 0)"></i><i style="background:linear-gradient(#00ff54 6px,#00ff2a 0 16px,#0fff00 0 27px,#68ff00 0 37px,#69ff00 0 47px,#d1ff00 0 57px,#ffa500 0 67px,#ff4800 0)"></i><i style="background:linear-gradient(#0f6 6px,#00ff25 0 16px,#09ff00 0 27px,#49ff00 0 37px,#9fff00 0 47px,#a9ff00 0 57px,#f90 0 67px,#ff6000 0)"></i><i style="background:linear-gradient(#00ff5b 6px,#00ff25 0 16px,#0eff00 0 27px,#5fff00 0 37px,#4f0 0 47px,#bcff00 0 57px,#ffa200 0 67px,#ff6500 0)"></i><i style="background:linear-gradient(#00ff58 6px,#00ff27 0 16px,#00ff05 0 27px,#97ff00 0 37px,#67ff00 0 47px,#98ff00 0 57px,#ff9b00 0 67px,#ff4300 0)"></i><i style="background:linear-gradient(#00ff5c 6px,#00ff20 0 16px,#25ff00 0 27px,#7aff00 0 37px,#9aff00 0 47px,#b8ff00 0 57px,#ffa100 0 67px,#ff7300 0)"></i><i style="background:linear-gradient(#00ff56 6px,#00ff29 0 16px,#00ff08 0 27px,#6fff00 0 37px,#70ff00 0 47px,#91ff00 0 57px,#ffa100 0 67px,#ff5600 0)"></i><i style="background:linear-gradient(#00ff58 6px,#00ff2f 0 16px,#0f1 0 27px,#60ff00 0 37px,#93ff00 0 47px,#e4ff00 0 57px,#ff9e00 0 67px,#ff6900 0)"></i><i style="background:linear-gradient(#00ff5c 6px,#00ff32 0 16px,#00ff02 0 27px,#8cff00 0 37px,#7fff00 0 47px,#a1ff00 0 57px,#ffa800 0 67px,#ff5000 0)"></i><i style="background:linear-gradient(#00ff59 6px,#00ff2f 0 16px,#02ff00 0 27px,#7cff00 0 37px,#cdff00 0 47px,#9dff00 0 57px,#ffa900 0 67px,#ff5f00 0)"></i><i style="background:linear-gradient(#00ff4f 6px,#00ff2f 0 16px,#0bff00 0 27px,#73ff00 0 37px,#4eff00 0 47px,#baff00 0 57px,#ffa600 0 67px,#ff4f00 0)"></i><i style="background:linear-gradient(#00ff5a 6px,#00ff34 0 16px,#00ff08 0 27px,#69ff00 0 37px,#68ff00 0 47px,#80ff00 0 57px,#ff9a00 0 67px,#ff5b00 0)"></i><i style="background:linear-gradient(#00ff5a 6px,#00ff24 0 16px,#09ff00 0 27px,#72ff00 0 37px,#7aff00 0 47px,#97ff00 0 57px,#ffa100 0 67px,#ff5300 0)"></i><i style="background:linear-gradient(#00ff5c 6px,#00ff27 0 16px,#19ff00 0 27px,#6eff00 0 37px,#68ff00 0 47px,#89ff00 0 57px,#ffae00 0 67px,#ff6300 0)"></i><i style="background:linear-gradient(#00ff5a 6px,#00ff2b 0 16px,#00ff07 0 27px,#82ff00 0 37px,#70ff00 0 47px,#96ff00 0 57px,#ff9b00 0 67px,#ff5700 0)"></i><i style="background:linear-gradient(#00ff60 6px,#00ff2e 0 16px,#00ff06 0 27px,#91ff00 0 37px,#79ff00 0 47px,#c7ff00 0 57px,#ff9f00 0 67px,#ff5400 0)"></i><i style="background:linear-gradient(#00ff5c 6px,#00ff32 0 16px,#00ff0e 0 27px,#4aff00 0 37px,#65ff00 0 47px,#84ff00 0 57px,#ff9b00 0 67px,#ff5400 0)"></i><i style="background:linear-gradient(#00ff51 6px,#00ff2e 0 16px,#04ff00 0 27px,#56ff00 0 37px,#4dff00 0 47px,#d9ff00 0 57px,#ffa100 0 67px,#ff4b00 0)"></i><i style="background:linear-gradient(#00ff56 6px,#00ff1d 0 16px,#0cff00 0 27px,#73ff00 0 37px,#65ff00 0 47px,#b4ff00 0 57px,#ffa300 0 67px,#ff4c00 0)"></i><i style="background:linear-gradient(#00ff58 6px,#00ff36 0 16px,#0bff00 0 27px,#7f0 0 37px,#79ff00 0 47px,#c3ff00 0 57px,#ffb400 0 67px,#ff3900 0)"></i><i style="background:linear-gradient(#00ff56 6px,#00ff27 0 16px,#0cff00 0 27px,#53ff00 0 37px,#5aff00 0 47px,#a1ff00 0 57px,#ffa100 0 67px,#ff6400 0)"></i><i style="background:linear-gradient(#00ff53 6px,#00ff24 0 16px,#15ff00 0 27px,#74ff00 0 37px,#bf0 0 47px,#76ff00 0 57px,#ffb300 0 67px,#ff5100 0)"></i><i style="background:linear-gradient(#00ff58 6px,#00ff27 0 16px,#02ff00 0 27px,#6cff00 0 37px,#56ff00 0 47px,#7eff00 0 57px,#ffa500 0 67px,#ff5600 0)"></i><i style="background:linear-gradient(#00ff52 6px,#00ff2a 0 16px,#0eff00 0 27px,#6cff00 0 37px,#67ff00 0 47px,#bdff00 0 57px,#ff9400 0 67px,#ff5000 0)"></i><i style="background:linear-gradient(#00ff56 6px,#00ff24 0 16px,#00ff08 0 27px,#6bff00 0 37px,#69ff00 0 47px,#95ff00 0 57px,#ffa200 0 67px,#ff4700 0)"></i><i style="background:linear-gradient(#00ff5a 6px,#00ff2f 0 16px,#00ff06 0 27px,#73ff00 0 37px,#6bff00 0 47px,#a5ff00 0 57px,#ffa000 0 67px,#ff4000 0)"></i><i style="background:linear-gradient(#00ff54 6px,#00ff25 0 16px,#04ff00 0 27px,#89ff00 0 37px,#50ff00 0 47px,#a3ff00 0 57px,#ffa800 0 67px,#ff4500 0)"></i><i style="background:linear-gradient(#00ff64 6px,#00ff20 0 16px,#00ff07 0 27px,#85ff00 0 37px,#6dff00 0 47px,#c1ff00 0 57px,#ffa100 0 67px,#ff6000 0)"></i><i style="background:linear-gradient(#00ff5d 6px,#00ff2f 0 16px,#08ff00 0 27px,#82ff00 0 37px,#5eff00 0 47px,#bcff00 0 57px,#ffae00 0 67px,#ff5f00 0)"></i><i style="background:linear-gradient(#00ff5a 6px,#00ff2d 0 16px,#14ff00 0 27px,#7bff00 0 37px,#57ff00 0 47px,#a5ff00 0 57px,#ffa600 0 67px,#ff6100 0)"></i><i style="background:linear-gradient(#00ff5e 6px,#00ff27 0 16px,#06ff00 0 27px,#6f0 0 37px,#85ff00 0 47px,#9fff00 0 57px,#ffa100 0 67px,#ff5600 0)"></i><i style="background:linear-gradient(#00ff5b 6px,#0f2 0 16px,#00ff06 0 27px,#6bff00 0 37px,#54ff00 0 47px,#b5ff00 0 57px,#ffa600 0 67px,#f60 0)"></i><i style="background:linear-gradient(#00ff5d 6px,#00ff20 0 16px,#00ff06 0 27px,#84ff00 0 37px,#5eff00 0 47px,#82ff00 0 57px,#ffad00 0 67px,#ff5800 0)"></i><i style="background:linear-gradient(#00ff5d 6px,#00ff24 0 16px,#14ff00 0 27px,#89ff00 0 37px,#6fff00 0 47px,#8bff00 0 57px,#ffb800 0 67px,#ff6700 0)"></i><i style="background:linear-gradient(#00ff50 6px,#00ff2c 0 16px,#00ff06 0 27px,#87ff00 0 37px,#75ff00 0 47px,#7cff00 0 57px,#ffa900 0 67px,#ff5900 0)"></i><i style="background:linear-gradient(#00ff58 6px,#00ff2f 0 16px,#01ff00 0 27px,#7bff00 0 37px,#6cff00 0 47px,#86ff00 0 57px,#ffab00 0 67px,#ff5600 0)"></i><i style="background:linear-gradient(#00ff5b 6px,#00ff27 0 16px,#00ff02 0 27px,#7f0 0 37px,#71ff00 0 47px,#7f0 0 57px,#ffa900 0 67px,#ff4900 0)"></i><i style="background:linear-gradient(#0f5 6px,#00ff26 0 16px,#01ff00 0 27px,#7fff00 0 37px,#53ff00 0 47px,#b2ff00 0 57px,#ffa000 0 67px,#ff5700 0)"></i><i style="background:linear-gradient(#00ff5c 6px,#00ff2f 0 16px,#10ff00 0 27px,#54ff00 0 37px,#7dff00 0 47px,#96ff00 0 57px,#ffb300 0 67px,#ff5900 0)"></i><i style="background:linear-gradient(#00ff57 6px,#00ff28 0 16px,#00ff04 0 27px,#72ff00 0 37px,#7eff00 0 47px,#c9ff00 0 57px,#ff9d00 0 67px,#ff4f00 0)"></i><i style="background:linear-gradient(#00ff59 6px,#00ff26 0 16px,#00ff0b 0 27px,#68ff00 0 37px,#7bff00 0 47px,#95ff00 0 57px,#ffaf00 0 67px,#ff5f00 0)"></i><i style="background:linear-gradient(#00ff54 6px,#0f2 0 16px,#15ff00 0 27px,#8f0 0 37px,#85ff00 0 47px,#a4ff00 0 57px,#ff8f00 0 67px,#ff4800 0)"></i><i style="background:linear-gradient(#00ff60 6px,#00ff2e 0 16px,#03ff00 0 27px,#67ff00 0 37px,#6aff00 0 47px,#91ff00 0 57px,#f90 0 67px,#ff5600 0)"></i><i style="background:linear-gradient(#00ff58 6px,#00ff25 0 16px,#0bff00 0 27px,#7aff00 0 37px,#62ff00 0 47px,#afff00 0 57px,#ff9e00 0 67px,#ff5000 0)"></i><i style="background:linear-gradient(#00ff5a 6px,#00ff2f 0 16px,#0f0 0 27px,#6cff00 0 37px,#4fff00 0 47px,#abff00 0 57px,#ffab00 0 67px,#ff5900 0)"></i><i style="background:linear-gradient(#00ff5f 6px,#00ff2b 0 16px,#0bff00 0 27px,#80ff00 0 37px,#64ff00 0 47px,#94ff00 0 57px,#ffa200 0 67px,#ff5600 0)"></i><i style="background:linear-gradient(#00ff56 6px,#00ff29 0 16px,#12ff00 0 27px,#85ff00 0 37px,#9cff00 0 47px,#a5ff00 0 57px,#ffa200 0 67px,#ff5a00 0)"></i><i style="background:linear-gradient(#00ff5e 6px,#00ff1f 0 16px,#14ff00 0 27px,#71ff00 0 37px,#45ff00 0 47px,#8aff00 0 57px,#ffa900 0 67px,#ff5d00 0)"></i><i style="background:linear-gradient(#00ff54 6px,#00ff14 0 16px,#00ff02 0 27px,#7f0 0 37px,#78ff00 0 47px,#8fff00 0 57px,#ffa800 0 67px,#f50 0)"></i><i style="background:linear-gradient(#00ff59 6px,#00ff27 0 16px,#00ff03 0 27px,#79ff00 0 37px,#78ff00 0 47px,#83ff00 0 57px,#ff9a00 0 67px,#ff4e00 0)"></i><i style="background:linear-gradient(#00ff58 6px,#00ff25 0 16px,#06ff00 0 27px,#86ff00 0 37px,#7eff00 0 47px,#b2ff00 0 57px,#ffa200 0 67px,#ff6500 0)"></i><i style="background:linear-gradient(#00ff5a 6px,#0f2 0 16px,#03ff00 0 27px,#6eff00 0 37px,#62ff00 0 47px,#85ff00 0 57px,#ff9300 0 67px,#ff5600 0)"></i><i style="background:linear-gradient(#00ff57 6px,#00ff31 0 16px,#08ff00 0 27px,#76ff00 0 37px,#6dff00 0 47px,#81ff00 0 57px,#f90 0 67px,#ff4a00 0)"></i><i style="background:linear-gradient(#00ff62 6px,#00ff24 0 16px,#00ff06 0 27px,#6cff00 0 37px,#78ff00 0 47px,#b4ff00 0 57px,#ffa400 0 67px,#ff5900 0)"></i><i style="background:linear-gradient(#00ff5a 6px,#00ff30 0 16px,#00ff13 0 27px,#60ff00 0 37px,#64ff00 0 47px,#9f0 0 57px,#ff9e00 0 67px,#ff4a00 0)"></i><i style="background:linear-gradient(#00ff5d 6px,#00ff1e 0 16px,#07ff00 0 27px,#79ff00 0 37px,#40ff00 0 47px,#7aff00 0 57px,#ffa200 0 67px,#ff4e00 0)"></i><i style="background:linear-gradient(#00ff5a 6px,#00ff20 0 16px,#0bff00 0 27px,#7eff00 0 37px,#9dff00 0 47px,#7fff00 0 57px,#ffae00 0 67px,#ff6100 0)"></i><i style="background:linear-gradient(#00ff5b 6px,#00ff25 0 16px,#09ff00 0 27px,#63ff00 0 37px,#87ff00 0 47px,#8cff00 0 57px,#ff9f00 0 67px,#ff5c00 0)"></i><i style="background:linear-gradient(#00ff58 6px,#00ff2d 0 16px,#18ff00 0 27px,#97ff00 0 37px,#8f0 0 47px,#7fff00 0 57px,#fa0 0 67px,#ff4700 0)"></i><i style="background:linear-gradient(#00ff5e 6px,#00ff1e 0 16px,#0cff00 0 27px,#64ff00 0 37px,#6eff00 0 47px,#98ff00 0 57px,#ff9700 0 67px,#ff4900 0)"></i><i style="background:linear-gradient(#00ff53 6px,#00ff27 0 16px,#00ff03 0 27px,#85ff00 0 37px,#5bff00 0 47px,#7dff00 0 57px,#ff9b00 0 67px,#ff5100 0)"></i><i style="background:linear-gradient(#00ff51 6px,#00ff28 0 16px,#0eff00 0 27px,#7dff00 0 37px,#6eff00 0 47px,#7cff00 0 57px,#ffb800 0 67px,#ff5400 0)"></i><i style="background:linear-gradient(#00ff5c 6px,#00ff25 0 16px,#00ff01 0 27px,#4fff00 0 37px,#73ff00 0 47px,#adff00 0 57px,#ffa200 0 67px,#ff6f00 0)"></i><i style="background:linear-gradient(#00ff5b 6px,#0f3 0 16px,#12ff00 0 27px,#74ff00 0 37px,#4fff00 0 47px,#c4ff00 0 57px,#ffac00 0 67px,#ff5600 0)"></i><i style="background:linear-gradient(#00ff5a 6px,#00ff26 0 16px,#03ff00 0 27px,#52ff00 0 37px,#62ff00 0 47px,#bf0 0 57px,#ff9500 0 67px,#ff6800 0)"></i><i style="background:linear-gradient(#00ff56 6px,#0f2 0 16px,#07ff00 0 27px,#72ff00 0 37px,#79ff00 0 47px,#90ff00 0 57px,#ffa400 0 67px,#ff5800 0)"></i><i style="background:linear-gradient(#00ff53 6px,#00ff26 0 16px,#03ff00 0 27px,#83ff00 0 37px,#8eff00 0 47px,#a8ff00 0 57px,#ffa100 0 67px,#ff5600 0)"></i><i style="background:linear-gradient(#00ff60 6px,#00ff27 0 16px,#01ff00 0 27px,#9dff00 0 37px,#7aff00 0 47px,#95ff00 0 57px,#ff9e00 0 67px,#ff5700 0)"></i><i style="background:linear-gradient(#00ff5d 6px,#00ff2e 0 16px,#00ff0c 0 27px,#86ff00 0 37px,#bf0 0 47px,#c7ff00 0 57px,#ffac00 0 67px,#ff5000 0)"></i><i style="background:linear-gradient(#00ff5f 6px,#00ff24 0 16px,#01ff00 0 27px,#53ff00 0 37px,#51ff00 0 47px,#a2ff00 0 57px,#ffa200 0 67px,#ff5400 0)"></i><i style="background:linear-gradient(#00ff5f 6px,#00ff27 0 16px,#00ff12 0 27px,#6dff00 0 37px,#9f0 0 47px,#a7ff00 0 57px,#ff9800 0 67px,#ff6300 0)"></i><i style="background:linear-gradient(#00ff61 6px,#00ff28 0 16px,#07ff00 0 27px,#96ff00 0 37px,#70ff00 0 47px,#caff00 0 57px,#ffa900 0 67px,#ff5a00 0)"></i><i style="background:linear-gradient(#00ff59 6px,#00ff2c 0 16px,#0eff00 0 27px,#79ff00 0 37px,#8f0 0 47px,#baff00 0 57px,#ff9e00 0 67px,#ff4b00 0)"></i><i style="background:linear-gradient(#00ff5f 6px,#00ff23 0 16px,#1eff00 0 27px,#aeff00 0 37px,#6eff00 0 47px,#9eff00 0 57px,#ffa500 0 67px,#ff3f00 0)"></i><i style="background:linear-gradient(#0f5 6px,#00ff21 0 16px,#05ff00 0 27px,#65ff00 0 37px,#50ff00 0 47px,#82ff00 0 57px,#ff9000 0 67px,#ff6100 0)"></i><i style="background:linear-gradient(#00ff57 6px,#00ff26 0 16px,#00ff06 0 27px,#68ff00 0 37px,#9dff00 0 47px,#92ff00 0 57px,#ff9200 0 67px,#ff5100 0)"></i><i style="background:linear-gradient(#00ff5f 6px,#00ff23 0 16px,#00ff0d 0 27px,#57ff00 0 37px,#7cff00 0 47px,#78ff00 0 57px,#ffa300 0 67px,#ff4900 0)"></i><i style="background:linear-gradient(#00ff5f 6px,#00ff20 0 16px,#1cff00 0 27px,#6cff00 0 37px,#8f0 0 47px,#c5ff00 0 57px,#ffa500 0 67px,#ff5000 0)"></i><i style="background:linear-gradient(#00ff5d 6px,#00ff1f 0 16px,#00ff0c 0 27px,#90ff00 0 37px,#5cff00 0 47px,#97ff00 0 57px,#ff9f00 0 67px,#ff5700 0)"></i><i style="background:linear-gradient(#0f5 6px,#00ff27 0 16px,#0dff00 0 27px,#60ff00 0 37px,#6dff00 0 47px,#acff00 0 57px,#ffa400 0 67px,#ff4800 0)"></i><i style="background:linear-gradient(#00ff5e 6px,#00ff2a 0 16px,#00ff13 0 27px,#87ff00 0 37px,#8bff00 0 47px,#a0ff00 0 57px,#ffa400 0 67px,#ff4100 0)"></i><i style="background:linear-gradient(#00ff61 6px,#00ff2b 0 16px,#0f0 0 27px,#97ff00 0 37px,#65ff00 0 47px,#89ff00 0 57px,#ffa800 0 67px,#ff5300 0)"></i><i style="background:linear-gradient(#00ff5b 6px,#00ff28 0 16px,#0aff00 0 27px,#86ff00 0 37px,#5dff00 0 47px,#fffb00 0 57px,#ff9500 0 67px,#ff5e00 0)"></i><i style="background:linear-gradient(#00ff59 6px,#00ff25 0 16px,#05ff00 0 27px,#6fff00 0 37px,#5f0 0 47px,#a4ff00 0 57px,#ff9000 0 67px,#ff6400 0)"></i><i style="background:linear-gradient(#00ff5d 6px,#00ff23 0 16px,#0f0 0 27px,#75ff00 0 37px,#62ff00 0 47px,#9aff00 0 57px,#ff9f00 0 67px,#ff4d00 0)"></i><i style="background:linear-gradient(#00ff54 6px,#00ff2b 0 16px,#00ff07 0 27px,#a3ff00 0 37px,#7fff00 0 47px,#9aff00 0 57px,#ffb100 0 67px,#ff4700 0)"></i><i style="background:linear-gradient(#00ff5a 6px,#00ff27 0 16px,#00ff07 0 27px,#59ff00 0 37px,#6cff00 0 47px,#a3ff00 0 57px,#ffaf00 0 67px,#ff5800 0)"></i><i style="background:linear-gradient(#00ff59 6px,#00ff2e 0 16px,#0fff00 0 27px,#85ff00 0 37px,#46ff00 0 47px,#83ff00 0 57px,#ff9f00 0 67px,#f50 0)"></i><i style="background:linear-gradient(#00ff5e 6px,#00ff21 0 16px,#06ff00 0 27px,#96ff00 0 37px,#8eff00 0 47px,#98ff00 0 57px,#ffab00 0 67px,#ff5800 0)"></i><i style="background:linear-gradient(#00ff5b 6px,#00ff2b 0 16px,#00ff01 0 27px,#7fff00 0 37px,#89ff00 0 47px,#90ff00 0 57px,#ffa800 0 67px,#ff3f00 0)"></i><i style="background:linear-gradient(#00ff5b 6px,#00ff26 0 16px,#03ff00 0 27px,#9f0 0 37px,#86ff00 0 47px,#8f0 0 57px,#ffa200 0 67px,#ff5f00 0)"></i><i style="background:linear-gradient(#00ff64 6px,#00ff2d 0 16px,#00ff07 0 27px,#34ff00 0 37px,#45ff00 0 47px,#9eff00 0 57px,#ffa700 0 67px,#ff4d00 0)"></i><i style="width:1px;background:linear-gradient(#00ff5a 6px,#00ff2a 0 16px,#0fff00 0 27px,#6eff00 0 37px,#6fff00 0 47px,#65ff00 0 57px,#f90 0 67px,#ff5c00 0)"></i></div>
<div class="cb" style="top:53px;height:353px"></div>
<div class="cb" style="top:429px;height:76px"></div>
<svg width="1083" height="620" viewBox="0 0 1083 620" shape-rendering="crispEdges">
<rect x="90" y="51" width="877" height="1"/>
<rect x="90" y="405" width="877" height="1"/>
<rect x="90" y="51" width="1" height="355"/>
<rect x="966" y="51" width="1" height="355"/>
<rect x="90" y="428" width="877" height="1"/>
<rect x="90" y="504" width="877" height="1"/>
<rect x="90" y="428" width="1" height="77"/>
<rect x="966" y="428" width="1" height="77"/>
<rect x="81" y="405" width="9" height="1"/>
<rect x="86" y="375" width="4" height="1"/>
<rect x="86" y="358" width="4" height="1"/>
<rect x="86" y="346" width="4" height="1"/>
<rect x="86" y="336" width="4" height="1"/>
<rect x="86" y="329" width="4" height="1"/>
<rect x="86" y="322" width="4" height="1"/>
<rect x="86" y="316" width="4" height="1"/>
<rect x="86" y="311" width="4" height="1"/>
<rect x="81" y="307" width="9" height="1"/>
<rect x="86" y="278" width="4" height="1"/>
<rect x="86" y="260" width="4" height="1"/>
<rect x="86" y="248" width="4" height="1"/>
<rect x="86" y="239" width="4" height="1"/>
<rect x="86" y="231" width="4" height="1"/>
<rect x="86" y="224" width="4" height="1"/>
<rect x="86" y="219" width="4" height="1"/>
<rect x="86" y="214" width="4" height="1"/>
<rect x="81" y="209" width="9" height="1"/>
<rect x="86" y="180" width="4" height="1"/>
<rect x="86" y="163" width="4" height="1"/>
<rect x="86" y="150" width="4" height="1"/>
<rect x="86" y="141" width="4" height="1"/>
<rect x="86" y="133" width="4" height="1"/>
<rect x="86" y="127" width="4" height="1"/>
<rect x="86" y="121" width="4" height="1"/>
<rect x="86" y="116" width="4" height="1"/>
<rect x="81" y="111" width="9" height="1"/>
<rect x="86" y="82" width="4" height="1"/>
<rect x="86" y="65" width="4" height="1"/>
<rect x="86" y="53" width="4" height="1"/>
<rect x="86" y="498" width="4" height="1"/>
<rect x="86" y="491" width="4" height="1"/>
<rect x="86" y="486" width="4" height="1"/>
<rect x="86" y="482" width="4" height="1"/>
<rect x="86" y="479" width="4" height="1"/>
<rect x="86" y="476" width="4" height="1"/>
<rect x="86" y="474" width="4" height="1"/>
<rect x="86" y="472" width="4" height="1"/>
<rect x="81" y="470" width="9" height="1"/>
<rect x="86" y="458" width="4" height="1"/>
<rect x="86" y="450" width="4" height="1"/>
<rect x="86" y="445" width="4" height="1"/>
<rect x="86" y="441" width="4" height="1"/>
<rect x="86" y="438" width="4" height="1"/>
<rect x="86" y="435" width="4" height="1"/>
<rect x="86" y="433" width="4" height="1"/>
<rect x="86" y="431" width="4" height="1"/>
<rect x="81" y="429" width="9" height="1"/>
<rect x="97" y="505" width="1" height="4"/>
<rect x="129" y="505" width="1" height="4"/>
<rect x="161" y="505" width="1" height="4"/>
<rect x="193" y="505" width="1" height="9"/>
<rect x="225" y="505" width="1" height="4"/>
<rect x="257" y="505" width="1" height="4"/>
<rect x="289" y="505" width="1" height="4"/>
<rect x="321" y="505" width="1" height="9"/>
<rect x="353" y="505" width="1" height="4"/>
<rect x="385" y="505" width="1" height="4"/>
<rect x="417" y="505" width="1" height="4"/>
<rect x="449" y="505" width="1" height="9"/>
<rect x="481" y="505" width="1" height="4"/>
<rect x="513" y="505" width="1" height="4"/>
<rect x="545" y="505" width="1" height="4"/>
<rect x="577" y="505" width="1" height="9"/>
<rect x="609" y="505" width="1" height="4"/>
<rect x="641" y="505" width="1" height="4"/>
<rect x="673" y="505" width="1" height="4"/>
<rect x="705" y="505" width="1" height="9"/>
<rect x="737" y="505" width="1" height="4"/>
<rect x="769" y="505" width="1" height="4"/>
<rect x="801" y="505" width="1" height="4"/>
<rect x="833" y="505" width="1" height="9"/>
<rect x="865" y="505" width="1" height="4"/>
<rect x="897" y="505" width="1" height="4"/>
<rect x="929" y="505" width="1" height="4"/>
<rect x="961" y="505" width="1" height="9"/>
<rect x="992" y="52" width="1" height="354"/>
<rect x="992" y="52" width="5" height="1"/>
<rect x="992" y="385" width="10" height="1"/>
<rect x="992" y="348" width="5" height="1"/>
<rect x="992" y="311" width="10" height="1"/>
<rect x="992" y="274" width="5" height="1"/>
<rect x="992" y="237" width="10" height="1"/>
<rect x="992" y="200" width="5" height="1"/>
<rect x="992" y="163" width="10" height="1"/>
<rect x="992" y="126" width="5" height="1"/>
<rect x="992" y="89" width="10" height="1"/>
<rect x="992" y="429" width="1" height="76"/>
<rect x="992" y="429" width="10" height="1"/>
<rect x="992" y="435" width="5" height="1"/>
<rect x="992" y="441" width="5" height="1"/>
<rect x="992" y="448" width="5" height="1"/>
<rect x="992" y="454" width="5" height="1"/>
<rect x="992" y="460" width="10" height="1"/>
<rect x="992" y="466" width="5" height="1"/>
<rect x="992" y="472" width="5" height="1"/>
<rect x="992" y="478" width="5" height="1"/>
<rect x="992" y="485" width="5" height="1"/>
<rect x="992" y="491" width="10" height="1"/>
<rect x="992" y="497" width="5" height="1"/>
<rect x="992" y="503" width="5" height="1"/>
<g shape-rendering="geometricPrecision"><path d="M137.7,51.5 L147,63 L158,76 L167,84.5 L177.4,93.4 L196.7,109.8 L216,125.3 L235.4,138.8 L260,152.8 L280,163 L300,171.6 L320,178.8 L340,185 L350,188.5 L380,196.7 L420,205.8 L450,210 L480,213 L500,214.6 L535,215.5 L570,215 L580,214.4 L600,213 L620,211.3 L640,208.3 L660,204.5 L680,200.4 L700,195.8 L720,190.5 L738,185.2" fill="none" stroke="#f0f" stroke-width="1.7" stroke-linejoin="round"/></g>
</svg>
<div style="position:absolute;left:0;top:0;width:1083px;height:620px;will-change:transform;-webkit-text-stroke:0.12px #000">
<div style="position:absolute;top:20px;font-size:13px;line-height:14.937px;white-space:pre;letter-spacing:0.05px;left:27.5px;width:1000px;text-align:center;">DE 1/PWI-SFC  Spin Plane B-Field Spectra, 1.0 m<span style="font-size:9px;position:relative;top:-4px">2</span> loop antenna, 104 Hz to 409 kHz</div>
<div style="position:absolute;top:36px;font-size:9px;line-height:10.341px;white-space:pre;letter-spacing:0.83px;-webkit-text-stroke:0.4px #000;left:28.5px;width:1000px;text-align:center;">(Magenta Line: Fce in Hz)</div>
<div style="position:absolute;top:409px;font-size:13px;line-height:14.937px;white-space:pre;letter-spacing:0.09px;left:27.5px;width:1000px;text-align:center;">DE 1/PWI-LFC  Spin Axis B-Field Spectra, search coil, 1.78 to 100 Hz</div>
<div style="position:absolute;top:601px;font-size:13px;line-height:14.937px;white-space:pre;letter-spacing:-0.12px;left:28px;width:1000px;text-align:center;">1983-12-31 (365) 7:12 to 14:02</div>
<div style="position:absolute;top:402px;font-size:13px;line-height:14.937px;white-space:pre;left:56.3px;">10<span style="position:relative;top:-6px">2</span></div>
<div style="position:absolute;top:304px;font-size:13px;line-height:14.937px;white-space:pre;left:56.3px;">10<span style="position:relative;top:-6px">3</span></div>
<div style="position:absolute;top:206px;font-size:13px;line-height:14.937px;white-space:pre;left:56.3px;">10<span style="position:relative;top:-6px">4</span></div>
<div style="position:absolute;top:108px;font-size:13px;line-height:14.937px;white-space:pre;left:56.3px;">10<span style="position:relative;top:-6px">5</span></div>
<div style="position:absolute;top:426px;font-size:13px;line-height:14.937px;white-space:pre;left:56.3px;">10<span style="position:relative;top:-6px">2</span></div>
<div style="position:absolute;top:467px;font-size:13px;line-height:14.937px;white-space:pre;left:56.3px;">10<span style="position:relative;top:-6px">1</span></div>
<div style="position:absolute;top:382px;font-size:13px;line-height:14.937px;white-space:pre;left:1005.3px;">10<span style="position:relative;top:-6px">-14</span></div>
<div style="position:absolute;top:308px;font-size:13px;line-height:14.937px;white-space:pre;left:1005.3px;">10<span style="position:relative;top:-6px">-12</span></div>
<div style="position:absolute;top:234px;font-size:13px;line-height:14.937px;white-space:pre;left:1005.3px;">10<span style="position:relative;top:-6px">-10</span></div>
<div style="position:absolute;top:160px;font-size:13px;line-height:14.937px;white-space:pre;left:1005.3px;">10<span style="position:relative;top:-6px">-8</span></div>
<div style="position:absolute;top:86px;font-size:13px;line-height:14.937px;white-space:pre;left:1005.3px;">10<span style="position:relative;top:-6px">-6</span></div>
<div style="position:absolute;top:426px;font-size:13px;line-height:14.937px;white-space:pre;left:1005.3px;">10<span style="position:relative;top:-6px">0</span></div>
<div style="position:absolute;top:457px;font-size:13px;line-height:14.937px;white-space:pre;left:1005.3px;">10<span style="position:relative;top:-6px">-5</span></div>
<div style="position:absolute;top:488px;font-size:13px;line-height:14.937px;white-space:pre;left:1005.3px;">10<span style="position:relative;top:-6px">-10</span></div>
<div style="position:absolute;left:-157px;top:205px;width:400px;height:16px;line-height:16px;font-size:13px;box-sizing:border-box;padding-left:140px;text-align:left;white-space:pre;transform:rotate(-90deg);-webkit-text-stroke:0;">Frequency (Hz)</div>
<div style="position:absolute;left:-157px;top:426px;width:400px;height:16px;line-height:16px;font-size:13px;box-sizing:border-box;padding-left:140px;text-align:left;white-space:pre;transform:rotate(-90deg);-webkit-text-stroke:0;">Freq (Hz)</div>
<div style="position:absolute;left:858px;top:212px;width:400px;height:16px;line-height:16px;font-size:13px;box-sizing:border-box;padding-left:140px;text-align:left;white-space:pre;transform:rotate(-90deg);-webkit-text-stroke:0;">SFC B (nT<span style="position:relative;top:-6px">2</span> Hz<span style="position:relative;top:-6px">-1</span>)</div>
<div style="position:absolute;left:851px;top:417px;width:400px;height:16px;line-height:16px;font-size:13px;box-sizing:border-box;padding-left:140px;text-align:left;white-space:pre;transform:rotate(-90deg);-webkit-text-stroke:0;">LFC H</div>
<div style="position:absolute;top:519px;font-size:13px;line-height:14.937px;white-space:pre;letter-spacing:-0.13px;right:874.7px;">08:00</div>
<div style="position:absolute;top:535px;font-size:13px;line-height:14.937px;white-space:pre;letter-spacing:-0.13px;right:874.7px;">2.471</div>
<div style="position:absolute;top:551px;font-size:13px;line-height:14.937px;white-space:pre;letter-spacing:-0.13px;right:874.7px;">12.658</div>
<div style="position:absolute;top:567px;font-size:13px;line-height:14.937px;white-space:pre;letter-spacing:-0.13px;right:874.7px;">16.061</div>
<div style="position:absolute;top:583px;font-size:13px;line-height:14.937px;white-space:pre;letter-spacing:-0.13px;right:874.7px;">62.273</div>
<div style="position:absolute;top:519px;font-size:13px;line-height:14.937px;white-space:pre;letter-spacing:-0.13px;right:746.65px;">09:00</div>
<div style="position:absolute;top:535px;font-size:13px;line-height:14.937px;white-space:pre;letter-spacing:-0.13px;right:746.65px;">3.884</div>
<div style="position:absolute;top:551px;font-size:13px;line-height:14.937px;white-space:pre;letter-spacing:-0.13px;right:746.65px;">5.076</div>
<div style="position:absolute;top:567px;font-size:13px;line-height:14.937px;white-space:pre;letter-spacing:-0.13px;right:746.65px;">16.418</div>
<div style="position:absolute;top:583px;font-size:13px;line-height:14.937px;white-space:pre;letter-spacing:-0.13px;right:746.65px;">28.604</div>
<div style="position:absolute;top:519px;font-size:13px;line-height:14.937px;white-space:pre;letter-spacing:-0.13px;right:618.6px;">10:00</div>
<div style="position:absolute;top:535px;font-size:13px;line-height:14.937px;white-space:pre;letter-spacing:-0.13px;right:618.6px;">4.554</div>
<div style="position:absolute;top:551px;font-size:13px;line-height:14.937px;white-space:pre;letter-spacing:-0.13px;right:618.6px;">4.687</div>
<div style="position:absolute;top:567px;font-size:13px;line-height:14.937px;white-space:pre;letter-spacing:-0.13px;right:618.6px;">16.451</div>
<div style="position:absolute;top:583px;font-size:13px;line-height:14.937px;white-space:pre;letter-spacing:-0.13px;right:618.6px;">10.413</div>
<div style="position:absolute;top:519px;font-size:13px;line-height:14.937px;white-space:pre;letter-spacing:-0.13px;right:490.55px;">11:00</div>
<div style="position:absolute;top:535px;font-size:13px;line-height:14.937px;white-space:pre;letter-spacing:-0.13px;right:490.55px;">4.623</div>
<div style="position:absolute;top:551px;font-size:13px;line-height:14.937px;white-space:pre;letter-spacing:-0.13px;right:490.55px;">4.614</div>
<div style="position:absolute;top:567px;font-size:13px;line-height:14.937px;white-space:pre;letter-spacing:-0.13px;right:490.55px;">16.360</div>
<div style="position:absolute;top:583px;font-size:13px;line-height:14.937px;white-space:pre;letter-spacing:-0.13px;right:490.55px;">-4.142</div>
<div style="position:absolute;top:519px;font-size:13px;line-height:14.937px;white-space:pre;letter-spacing:-0.13px;right:362.5px;">12:00</div>
<div style="position:absolute;top:535px;font-size:13px;line-height:14.937px;white-space:pre;letter-spacing:-0.13px;right:362.5px;">4.103</div>
<div style="position:absolute;top:551px;font-size:13px;line-height:14.937px;white-space:pre;letter-spacing:-0.13px;right:362.5px;">4.622</div>
<div style="position:absolute;top:567px;font-size:13px;line-height:14.937px;white-space:pre;letter-spacing:-0.13px;right:362.5px;">16.145</div>
<div style="position:absolute;top:583px;font-size:13px;line-height:14.937px;white-space:pre;letter-spacing:-0.13px;right:362.5px;">-19.618</div>
<div style="position:absolute;top:519px;font-size:13px;line-height:14.937px;white-space:pre;letter-spacing:-0.13px;right:234.45px;">13:00</div>
<div style="position:absolute;top:519px;font-size:13px;line-height:14.937px;white-space:pre;letter-spacing:-0.13px;right:106.4px;">14:00</div>
<div style="position:absolute;top:535px;font-size:13px;line-height:14.937px;white-space:pre;right:1024.2px;">R<span style="font-size:7.8px;position:relative;top:3px">e</span></div>
<div style="position:absolute;top:551px;font-size:13px;line-height:14.937px;white-space:pre;right:1024.2px;">L</div>
<div style="position:absolute;top:567px;font-size:13px;line-height:14.937px;white-space:pre;right:1024.2px;">M<span style="font-size:7.8px;position:relative;top:3px">LT</span></div>
<div style="position:absolute;top:583px;font-size:13px;line-height:14.937px;white-space:pre;right:1024.2px;">M<span style="font-size:7.8px;position:relative;top:3px">LAT</span></div>
</div>
</body></html>
